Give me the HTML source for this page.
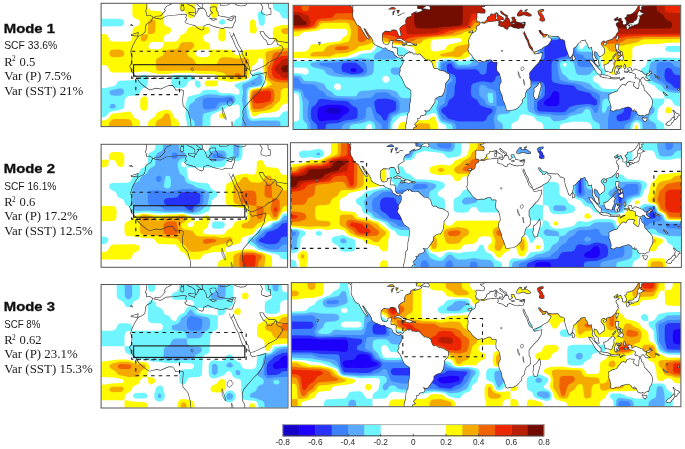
<!DOCTYPE html>
<html><head><meta charset="utf-8"><title>Modes</title>
<style>
html,body{margin:0;padding:0;background:#fff;}
body{width:685px;height:449px;position:relative;overflow:hidden;}
.mb{font-family:"Liberation Sans",Arial,sans-serif;font-weight:bold;}
.ms{font-family:"Liberation Sans",Arial,sans-serif;}
.mt{font-family:"Liberation Serif","Times New Roman",serif;}
</style></head><body>
<svg width="685" height="449" viewBox="0 0 685 449" style="position:absolute;left:0;top:0">
<defs><filter id="soft" x="-5%" y="-5%" width="110%" height="110%"><feGaussianBlur stdDeviation="0.6"/></filter><clipPath id="cR1"><rect x="293.1" y="5.3" width="387.6" height="124.2"/></clipPath>

<clipPath id="cR2"><rect x="290.4" y="142.7" width="391.0" height="124.7"/></clipPath>

<clipPath id="cR3"><rect x="291.3" y="282.6" width="389.6" height="124.1"/></clipPath>

<clipPath id="cL1"><rect x="101.1" y="3.3" width="187.3" height="123.3"/></clipPath>
<mask id="mL1" maskUnits="userSpaceOnUse" x="0" y="0" width="685" height="449"><rect x="0" y="0" width="685" height="449" fill="#fff"/><path d="M-84.7 -21.4L-83.7 -15.7L-82.1 -10.9L-80.8 -5.4L-81.7 1.5L-81.2 7.4L-77.8 13.3L-76.6 16.3L-74.0 20.9L-67.3 25.0L-64.9 30.0L-61.4 35.7L-57.0 42.6L-53.1 47.1L-52.1 46.7L-57.0 38.0L-62.6 27.7L-59.0 28.2L-55.0 34.6L-52.1 39.1L-48.1 43.7L-44.1 50.6L-44.1 54.0L-40.2 57.9L-33.3 60.8L-26.3 63.8L-21.4 62.9L-17.8 66.5L-13.5 68.4L-8.5 70.0L-5.6 73.4L-5.0 76.8L-2.6 78.0L1.4 80.9L6.3 82.5L7.3 79.6L9.9 80.9L10.7 83.0L11.7 80.0L8.3 78.0L4.3 79.6L1.4 78.0L-0.6 75.0L-0.6 67.7L-0.0 65.4L-3.6 63.4L-9.5 63.6L-10.1 57.6L-8.5 50.6L-14.3 51.7L-14.5 55.1L-16.4 57.4L-21.4 58.1L-25.3 56.3L-27.9 50.6L-28.3 42.6L-27.7 36.9L-22.4 32.3L-15.5 33.0L-11.9 33.2L-10.5 30.5L-5.6 30.2L-1.6 31.2L0.4 33.4L1.2 36.9L2.8 40.3L4.3 42.1L6.1 40.7L5.1 34.6L3.7 30.0L4.3 26.6L8.3 23.2L12.2 20.7L15.2 19.3L14.2 15.2L15.2 11.7L18.2 7.2L22.1 6.0L26.1 4.7L25.1 1.5L30.1 -1.7L34.0 -3.1L37.0 -4.2L34.0 -0.8L39.0 -2.2L43.9 -3.8L45.9 -5.4L42.9 -7.7L37.0 -7.7L36.0 -11.8L37.4 -12.2L33.0 -14.5L45.9 -15.2L51.8 -17.9L53.8 -21.4ZM47.3 -9.0L53.8 -13.4L58.8 -12.9L60.3 -8.8L58.8 -6.7L54.8 -7.7L47.3 -9.0ZM-79.4 -10.6L-83.7 -12.0L-87.7 -14.7L-89.7 -16.8L-84.7 -16.8L-79.4 -10.6ZM-3.6 49.9L2.4 46.9L6.3 47.1L12.2 50.6L17.8 53.5L11.3 54.2L9.3 50.6L3.3 49.4L-3.6 49.9ZM17.4 54.4L22.1 54.2L28.1 56.3L29.3 57.4L24.1 59.0L17.4 57.6L17.4 54.4ZM9.7 57.6L13.6 58.1L12.6 58.8L9.7 58.1ZM31.6 57.4L34.8 57.6L34.6 58.6L31.6 58.6ZM11.7 80.0L10.7 83.0L11.3 86.0L11.3 90.5L8.7 96.2L6.3 99.7L5.3 103.1L6.3 105.4L3.9 109.9L4.3 113.4L7.3 116.8L10.3 122.5L13.6 130.5L16.2 135.0L23.1 139.6L25.5 141.9L25.7 152.2L24.9 161.3L23.1 168.2L22.9 175.0L22.1 181.9L19.2 185.3L18.8 191.0L18.2 195.6L17.2 202.4L15.2 209.3L15.6 216.1L18.2 220.7L22.1 223.0L29.1 220.7L29.1 218.4L28.1 215.0L30.5 209.3L34.4 208.1L31.0 204.7L32.0 202.4L36.0 199.0L37.6 196.9L36.0 193.3L41.3 192.1L41.9 188.7L50.8 186.4L52.4 183.0L50.8 180.7L48.9 177.7L53.8 179.3L57.8 179.1L60.7 175.0L64.7 169.3L68.4 163.6L68.6 157.9L72.6 154.5L77.6 152.2L81.5 151.9L83.5 148.7L86.1 144.2L87.4 136.2L87.8 129.3L90.4 125.9L94.4 121.3L95.8 116.8L95.0 112.2L91.4 110.6L87.4 107.6L82.5 106.3L77.6 105.4L73.6 102.4L68.6 102.6L65.7 99.7L64.7 95.5L62.7 90.1L58.8 86.9L51.8 86.0L46.9 81.4L43.9 78.4L40.9 75.5L37.0 76.4L33.0 75.5L29.5 75.7L26.1 72.0L23.1 74.5L22.1 71.3L19.2 73.9L15.2 75.7L13.2 79.1L11.7 80.0ZM152.9 17.9L160.7 19.5L166.6 16.3L174.5 15.6L184.0 14.5L186.4 15.2L185.4 17.5L186.4 19.7L184.4 21.6L186.4 23.6L190.3 24.8L194.9 25.9L198.3 28.9L202.2 30.5L204.2 28.9L204.2 26.1L208.2 24.5L214.1 27.0L219.0 28.2L223.0 28.9L226.0 27.5L228.5 28.2L232.3 28.2L233.7 32.3L232.5 35.7L231.3 36.2L229.1 31.4L229.1 32.3L230.9 36.4L232.9 40.3L235.1 46.0L238.4 51.7L240.6 58.6L242.8 64.0L246.7 68.1L250.3 71.1L250.1 73.2L252.7 75.9L256.6 75.0L261.6 73.9L265.9 72.7L265.5 75.9L264.6 81.4L261.6 87.1L258.6 91.7L254.7 95.1L249.7 100.8L246.7 104.2L243.8 107.6L242.4 111.1L242.8 115.6L242.4 119.1L244.8 123.6L244.8 131.6L245.4 133.9L241.8 138.5L237.8 140.8L234.9 147.6L234.9 153.3L229.5 158.6L228.9 164.7L226.0 168.2L221.0 173.9L215.1 177.3L208.2 177.7L204.2 179.1L201.0 177.7L200.2 173.9L197.3 165.0L194.7 160.2L193.3 151.7L189.4 143.0L188.0 138.0L188.8 131.6L191.5 127.1L190.9 120.2L189.0 113.4L188.4 111.1L183.4 105.4L183.0 99.7L183.6 93.9L184.0 90.8L181.8 89.4L178.5 89.6L176.1 89.8L174.5 87.1L172.5 85.0L168.6 85.3L166.6 86.0L160.7 88.7L156.7 87.8L149.8 89.6L145.8 87.1L141.9 83.9L138.3 80.2L137.9 78.0L134.9 75.0L131.6 71.3L131.4 68.8L130.0 66.1L132.0 63.1L132.4 56.3L131.0 51.7L133.0 46.0L135.9 40.3L138.9 36.2L142.9 34.6L145.2 32.3L145.6 30.0L146.2 25.4L147.8 23.6L151.2 22.0L152.9 17.9ZM262.2 127.1L264.0 133.9L262.8 138.5L260.6 146.5L257.6 156.7L253.7 157.9L251.1 152.2L250.7 148.7L252.5 144.2L251.7 138.5L255.6 135.7L258.6 132.8L262.2 127.1ZM164.6 -21.4L167.6 -15.0L165.0 -13.8L162.2 -13.1L161.3 -13.8L160.9 -11.5L155.3 -10.9L156.1 -9.5L160.7 -7.9L162.2 -5.4L161.7 -0.8L161.1 0.6L154.7 0.3L148.8 -0.1L146.2 1.5L147.2 3.8L147.0 8.3L145.8 11.1L147.2 12.9L147.0 15.2L149.8 14.7L152.4 16.3L153.5 17.5L155.7 15.9L160.5 15.6L163.6 12.2L165.0 10.6L164.0 9.5L166.4 6.0L171.0 3.8L170.8 1.2L173.5 0.6L177.5 1.2L179.5 -0.4L182.0 -1.7L184.8 -0.6L185.4 1.7L188.8 4.4L191.7 5.6L195.5 8.3L195.7 12.4L196.5 12.9L197.5 10.6L198.7 9.7L197.3 7.9L201.2 8.1L198.5 6.0L196.3 4.0L192.3 2.4L189.2 -1.5L189.0 -4.0L191.5 -4.7L192.3 -2.9L194.3 -2.0L196.3 0.3L201.2 2.8L203.2 4.4L203.0 7.6L205.2 9.5L206.6 12.2L207.4 15.6L208.9 16.3L210.1 14.0L212.1 12.9L210.1 11.1L209.7 7.6L212.1 6.5L216.1 6.5L216.7 7.9L216.5 9.7L218.4 11.7L218.6 15.2L221.0 15.9L225.0 16.5L228.9 17.2L233.1 15.6L236.3 16.1L235.5 18.6L235.7 20.9L234.1 24.3L232.9 27.7L232.3 28.2L233.7 32.3L234.9 35.7L236.9 40.3L238.8 44.9L241.8 49.4L242.8 54.0L245.8 59.7L248.9 64.3L250.3 70.7L253.7 70.4L259.6 67.7L265.5 65.0L268.5 62.0L273.5 59.7L277.0 57.4L280.4 52.8L283.0 48.3L280.8 45.8L277.4 44.9L276.0 39.6L274.4 41.4L271.5 44.6L267.5 44.9L266.5 41.4L265.5 40.3L263.6 39.1L260.6 34.6L259.6 31.2L263.6 31.2L265.5 34.6L269.5 38.0L275.4 38.0L278.4 41.0L286.3 42.1L296.2 41.9L298.2 44.9L301.2 48.3L303.1 47.6L308.3 50.6L308.7 56.3L310.1 63.1L312.0 68.8L314.0 74.5L316.0 80.2L318.0 81.4L319.4 79.1L321.9 76.1L322.9 71.1L323.5 64.3L327.5 61.5L331.8 56.3L335.8 53.3L336.8 50.6L339.8 49.9L342.7 49.4L345.7 48.3L346.7 51.7L347.7 54.0L350.6 57.4L351.6 63.1L353.6 63.6L357.6 62.0L358.2 66.5L359.5 72.3L359.5 78.0L359.1 81.4L361.5 84.8L363.1 88.2L364.5 92.8L367.5 95.1L369.4 96.7L370.8 96.2L369.2 91.0L369.2 87.1L366.5 85.5L363.5 82.5L362.5 79.1L360.9 75.7L362.5 69.5L364.1 70.7L367.5 72.3L369.0 75.7L372.0 79.8L375.4 77.5L379.9 73.9L380.7 70.0L379.7 64.3L375.8 59.7L373.8 56.3L375.6 52.8L378.3 50.6L381.7 50.6L383.3 53.3L384.3 50.6L389.2 49.0L394.2 47.6L398.1 43.7L401.1 41.0L402.1 38.0L405.1 34.6L406.0 31.2L404.1 29.3L405.6 27.7L403.1 24.3L401.1 19.7L403.1 17.5L407.0 15.2L404.1 13.6L400.1 14.7L398.1 11.7L397.5 10.6L400.1 9.9L404.1 6.5L406.6 7.2L404.5 10.6L410.0 8.6L412.0 9.5L412.6 13.6L414.9 14.3L414.6 19.7L416.9 20.7L420.5 19.3L420.9 15.6L418.9 11.5L416.9 8.8L421.3 6.3L421.5 2.8L423.9 1.9L427.8 1.9L432.8 -0.6L436.7 -4.2L440.7 -9.9L442.7 -14.5L443.6 -21.4L283.4 -21.4L164.6 -21.4ZM421.3 23.2L422.9 22.0L424.8 23.2L425.8 25.4L424.4 28.4L422.5 28.9L421.5 25.4L421.3 23.2ZM426.4 23.8L428.8 21.8L431.2 22.0L430.4 23.6L427.8 24.8L426.4 23.8ZM423.9 21.3L426.8 18.8L429.8 18.4L433.7 18.1L435.3 14.7L436.7 14.3L438.7 13.3L440.9 10.6L441.7 7.2L442.3 5.4L444.6 5.1L445.4 8.3L444.6 11.7L443.6 14.0L443.2 17.5L441.7 19.5L439.7 20.4L437.7 20.7L435.7 20.7L433.7 23.2L431.8 22.5L432.2 20.7L427.8 20.9L423.9 21.3ZM441.7 4.9L441.7 1.5L444.6 -4.0L447.6 -1.5L452.5 0.8L449.6 1.7L448.0 3.8L443.6 4.2L441.7 4.9ZM445.6 -5.4L448.6 -7.2L447.6 -12.2L450.6 -12.2L447.6 -21.4L445.6 -21.4L445.6 -5.4ZM402.3 47.1L404.1 42.1L406.0 42.6L405.1 47.1L403.7 49.7L402.3 47.1ZM379.5 55.8L383.3 53.8L384.3 54.9L382.3 57.9L379.7 57.4L379.5 55.8ZM402.1 57.4L406.6 57.4L406.0 62.7L405.1 67.0L410.0 70.0L408.6 71.1L405.1 68.8L403.1 66.5L401.7 62.4L402.1 57.4ZM406.0 83.7L409.0 81.4L411.0 80.0L413.0 78.0L414.9 81.4L414.0 85.3L412.6 86.9L410.0 84.8L406.0 83.7ZM411.0 71.1L413.4 72.3L412.4 76.8L411.0 75.7L411.0 71.1ZM406.0 72.7L408.0 73.4L409.0 76.8L407.0 78.0L406.0 75.7L406.0 72.7ZM402.9 68.8L405.1 69.3L404.5 71.8L402.9 68.8ZM396.5 80.5L401.1 75.0L401.5 75.9L397.1 80.9L396.5 80.5ZM380.3 95.5L382.3 95.8L385.3 93.9L388.2 92.3L390.2 89.2L393.2 87.8L395.2 84.8L396.7 84.1L399.1 87.1L400.1 88.2L398.1 89.8L397.3 92.3L398.1 97.4L397.1 99.7L395.2 103.1L394.2 107.6L391.2 108.1L388.2 107.0L385.3 106.5L382.9 106.0L382.3 103.1L380.7 99.7L380.3 95.5ZM353.2 86.9L357.6 87.8L359.9 91.2L363.5 95.1L366.5 98.5L369.4 101.5L371.4 104.2L374.4 106.5L374.0 112.9L371.4 112.4L367.1 108.8L364.5 105.4L362.5 101.9L360.5 98.5L358.6 94.6L355.6 91.2L353.2 86.9ZM372.8 115.2L374.4 113.4L378.9 114.0L383.3 114.5L387.2 115.4L391.2 117.2L391.0 119.5L386.3 118.6L382.3 118.2L378.3 117.5L375.4 116.6L372.8 115.2ZM392.2 118.4L394.2 118.6L400.1 118.4L404.1 118.8L408.0 118.4L408.0 119.5L402.1 120.0L396.1 120.2L392.2 119.7L392.2 118.4ZM409.0 123.2L415.9 118.8L416.5 119.1L410.6 122.5L409.0 123.2ZM401.1 112.2L403.1 112.2L402.7 106.0L404.1 105.6L406.0 110.6L407.6 109.9L405.1 103.8L408.0 101.7L404.1 101.9L402.5 98.3L404.1 96.9L411.0 98.5L412.0 96.2L411.0 97.4L404.1 97.8L402.1 98.5L401.1 101.9L399.7 106.0L401.1 112.2ZM416.9 96.2L417.9 94.6L418.9 96.2L417.9 98.5L419.5 99.2L417.9 101.5L416.9 99.7L416.9 96.2ZM417.9 107.0L423.5 107.2L422.9 108.3L418.3 107.9L417.9 107.0ZM423.9 101.9L426.8 100.8L429.8 101.5L430.4 106.0L431.8 107.2L436.7 103.1L441.7 104.9L446.6 107.0L450.6 108.8L453.5 112.2L456.5 113.4L457.1 115.2L455.5 117.5L457.5 119.1L460.5 121.6L463.0 122.9L460.5 123.4L456.5 122.7L453.5 118.4L449.6 117.2L448.6 120.2L446.6 120.9L443.6 120.4L439.7 117.9L437.7 118.8L437.1 117.0L438.7 115.2L437.7 111.8L433.7 109.9L429.8 108.3L427.4 108.8L425.8 106.0L427.8 104.9L425.8 104.5L423.9 102.9L423.9 101.9ZM458.5 112.2L461.5 111.3L464.4 109.2L466.0 109.5L464.4 111.1L462.4 113.8L458.5 112.9L458.5 112.2ZM463.0 105.8L466.4 108.6L467.6 110.4L467.0 110.6L463.0 105.8ZM474.3 115.2L476.3 116.8L475.3 117.7L474.3 115.2ZM477.7 116.8L480.8 119.1L480.3 119.5L477.7 116.8ZM489.2 145.8L495.1 150.6L494.1 150.8L489.2 146.5L489.2 145.8ZM515.5 139.6L517.8 139.8L517.3 141.2L515.5 140.5L515.5 139.6ZM495.1 133.9L495.7 135.0L496.7 137.3L495.5 136.2L495.1 133.9ZM389.2 149.9L390.6 149.4L395.6 146.7L400.1 145.3L404.1 144.2L406.4 139.6L409.0 137.3L412.0 133.0L415.9 131.2L419.9 133.7L421.3 130.5L422.9 128.0L426.8 126.1L429.8 127.1L433.7 127.1L435.1 127.5L433.7 130.0L432.8 133.5L435.7 135.7L440.3 139.4L443.2 139.4L444.8 133.9L444.6 129.3L446.0 124.1L447.6 126.6L448.6 131.6L452.2 133.9L453.5 141.9L456.5 144.2L459.9 148.1L463.0 151.3L467.2 157.4L468.4 163.6L467.4 170.4L465.4 174.6L463.4 177.3L461.5 185.1L457.5 186.0L454.1 188.7L450.6 186.9L448.6 188.2L444.6 187.3L441.7 185.3L440.9 181.9L437.9 177.7L436.7 180.7L435.3 180.3L437.1 175.0L433.6 179.1L432.2 178.4L430.2 174.6L424.8 171.6L417.9 173.2L411.0 175.0L409.0 177.1L402.1 177.1L397.1 179.8L392.2 178.0L393.2 176.1L393.6 172.7L392.2 168.2L391.2 163.6L389.0 159.0L389.8 156.7L389.2 149.9ZM451.0 192.6L454.5 193.5L458.1 193.0L457.9 196.0L455.5 199.0L452.5 196.9L451.0 192.6ZM506.4 178.2L509.9 181.4L512.5 184.1L516.9 185.7L517.8 187.6L514.9 189.2L514.3 191.7L511.5 194.6L510.1 193.7L510.3 190.5L508.5 189.2L510.1 186.9L509.9 183.7L506.4 178.2ZM506.4 192.1L509.5 193.3L508.9 195.6L507.0 197.8L506.4 199.7L503.4 201.3L502.4 204.5L499.6 206.1L494.1 204.7L494.7 203.1L497.7 200.1L502.0 197.8L504.2 194.9L506.4 192.1ZM322.5 77.3L324.9 80.2L326.5 83.2L325.3 85.5L323.1 86.0L322.3 81.4L322.5 77.3ZM-143.9 54.2L-142.1 54.7L-143.3 56.5L-143.9 54.2ZM181.4 6.0L183.4 5.8L183.8 9.5L182.4 10.6L181.2 9.9L181.4 6.0ZM181.8 1.7L183.4 1.9L183.2 5.1L181.8 4.4L181.8 1.7ZM189.2 12.7L195.5 12.4L194.5 15.9L189.4 13.8L189.2 12.7ZM211.1 18.6L216.7 19.1L213.1 20.0L211.1 18.6ZM228.5 19.5L233.1 18.1L231.7 20.4L228.5 19.5ZM131.0 35.0L137.9 33.0L137.3 35.7L131.0 35.0ZM131.4 24.8L131.8 25.2L130.6 25.0ZM220.0 5.4L222.0 5.8L227.0 5.6L230.9 3.8L233.9 3.8L236.9 5.4L240.8 6.3L244.8 6.0L246.9 4.7L246.7 2.6L243.8 0.6L240.8 -1.5L237.8 -3.1L234.9 -3.5L230.9 -2.0L228.9 -3.8L230.9 -5.4L227.0 -6.7L225.0 -5.4L223.4 -3.5L221.2 -0.8L219.8 1.9L220.0 5.4ZM233.9 -3.8L237.0 -3.8L240.4 -7.2L238.4 -7.9L234.3 -6.1L233.9 -3.8ZM261.6 -6.7L266.5 -7.7L269.9 -7.2L269.5 -3.8L266.1 -2.0L264.2 -2.0L265.9 1.0L268.9 4.2L269.3 7.9L271.1 8.3L271.3 10.8L271.3 14.5L266.5 15.6L263.6 14.5L261.6 13.8L261.2 11.1L262.6 7.6L260.6 4.2L258.6 1.5L258.4 -2.0L257.0 -2.2L258.6 -4.5L261.6 -6.7ZM-17.4 -7.0L-13.5 -6.7L-7.5 -6.5L-2.6 -6.5L-3.6 -9.5L-6.6 -11.5L-11.5 -10.9L-17.4 -7.0ZM-9.1 3.8L-8.5 0.3L-9.1 -2.6L-3.6 -5.4L-4.4 -3.1L-6.0 -0.8L-6.6 3.3L-9.1 3.8ZM-2.8 -5.4L-1.6 -4.7L-0.6 -3.5L-0.4 -0.8L1.6 1.5L2.9 -2.0L4.3 -3.8L5.1 -5.1L2.4 -5.6L-2.8 -5.4ZM-0.4 4.4L1.4 5.1L6.3 3.3L8.5 1.7L4.3 2.2L1.4 3.5L-0.4 4.4ZM6.7 0.8L10.3 0.6L13.6 0.1L13.2 -1.3L10.3 -0.6L7.3 -0.1L6.7 0.8Z" fill="#000" fill-rule="evenodd"/></mask>
<clipPath id="cL2"><rect x="101.1" y="144.3" width="186.5" height="123.0"/></clipPath>
<mask id="mL2" maskUnits="userSpaceOnUse" x="0" y="0" width="685" height="449"><rect x="0" y="0" width="685" height="449" fill="#fff"/><path d="M-83.9 119.7L-82.9 125.4L-81.4 130.2L-80.0 135.6L-81.0 142.5L-80.4 148.4L-77.0 154.3L-75.8 157.3L-73.3 161.8L-66.6 165.9L-64.2 171.0L-60.7 176.6L-56.3 183.5L-52.4 188.0L-51.4 187.6L-56.3 178.9L-61.9 168.7L-58.3 169.1L-54.4 175.5L-51.4 180.1L-47.5 184.6L-43.5 191.5L-43.5 194.9L-39.6 198.7L-32.7 201.7L-25.8 204.7L-20.9 203.8L-17.3 207.4L-13.0 209.2L-8.1 210.8L-5.1 214.2L-4.5 217.6L-2.1 218.8L1.8 221.7L6.7 223.3L7.7 220.4L10.3 221.7L11.1 223.8L12.0 220.8L8.7 218.8L4.7 220.4L1.8 218.8L-0.2 215.8L-0.2 208.5L0.4 206.3L-3.1 204.2L-9.0 204.4L-9.6 198.5L-8.1 191.5L-13.8 192.6L-14.0 196.0L-15.9 198.3L-20.9 199.0L-24.8 197.1L-27.4 191.5L-27.8 183.5L-27.2 177.8L-21.9 173.2L-15.0 173.9L-11.4 174.1L-10.0 171.4L-5.1 171.2L-1.2 172.1L0.8 174.4L1.6 177.8L3.2 181.2L4.7 183.0L6.5 181.7L5.5 175.5L4.2 171.0L4.7 167.5L8.7 164.1L12.6 161.6L15.6 160.2L14.6 156.1L15.6 152.7L18.5 148.2L22.5 147.0L26.4 145.7L25.4 142.5L30.4 139.3L34.3 137.9L37.3 136.8L34.3 140.2L39.2 138.8L44.2 137.2L46.1 135.6L43.2 133.4L37.3 133.4L36.3 129.3L37.7 128.8L33.3 126.5L46.1 125.9L52.0 123.1L54.0 119.7ZM47.5 132.0L54.0 127.7L58.9 128.1L60.5 132.2L58.9 134.3L55.0 133.4L47.5 132.0ZM-78.6 130.4L-82.9 129.0L-86.9 126.3L-88.8 124.3L-83.9 124.3L-78.6 130.4ZM-3.1 190.8L2.8 187.8L6.7 188.0L12.6 191.5L18.1 194.4L11.6 195.1L9.7 191.5L3.8 190.3L-3.1 190.8ZM17.8 195.3L22.5 195.1L28.4 197.1L29.6 198.3L24.5 199.9L17.8 198.5L17.8 195.3ZM10.1 198.5L14.0 199.0L13.0 199.7L10.1 199.0ZM31.9 198.3L35.1 198.5L34.9 199.4L31.9 199.4ZM12.0 220.8L11.1 223.8L11.6 226.8L11.6 231.3L9.1 237.0L6.7 240.4L5.7 243.8L6.7 246.1L4.4 250.7L4.7 254.1L7.7 257.5L10.7 263.2L14.0 271.2L16.6 275.7L23.5 280.3L25.8 282.6L26.0 292.8L25.2 301.9L23.5 308.8L23.3 315.6L22.5 322.4L19.5 325.8L19.1 331.5L18.5 336.1L17.6 342.9L15.6 349.8L16.0 356.6L18.5 361.1L22.5 363.4L29.4 361.1L29.4 358.9L28.4 355.5L30.8 349.8L34.7 348.6L31.3 345.2L32.3 342.9L36.3 339.5L37.8 337.5L36.3 333.8L41.6 332.7L42.2 329.3L51.1 327.0L52.6 323.6L51.1 321.3L49.1 318.3L54.0 319.9L57.9 319.7L60.9 315.6L64.8 309.9L68.6 304.2L68.8 298.5L72.7 295.1L77.7 292.8L81.6 292.6L83.6 289.4L86.1 284.8L87.5 276.9L87.9 270.0L90.5 266.6L94.4 262.1L95.8 257.5L95.0 253.0L91.4 251.4L87.5 248.4L82.6 247.0L77.7 246.1L73.7 243.2L68.8 243.4L65.8 240.4L64.8 236.3L62.9 230.9L58.9 227.7L52.0 226.8L47.1 222.2L44.2 219.2L41.2 216.3L37.3 217.2L33.3 216.3L29.8 216.5L26.4 212.9L23.5 215.4L22.5 212.2L19.5 214.7L15.6 216.5L13.6 219.9L12.0 220.8ZM152.7 158.9L160.4 160.5L166.3 157.3L174.2 156.6L183.7 155.5L186.0 156.1L185.0 158.4L186.0 160.7L184.1 162.5L186.0 164.6L190.0 165.7L194.5 166.9L197.8 169.8L201.8 171.4L203.8 169.8L203.8 167.1L207.7 165.5L213.6 168.0L218.5 169.1L222.5 169.8L225.4 168.4L228.0 169.1L231.7 169.1L233.1 173.2L231.9 176.6L230.8 177.1L228.6 172.3L228.6 173.2L230.4 177.3L232.3 181.2L234.5 186.9L237.8 192.6L240.0 199.4L242.2 204.9L246.1 209.0L249.7 212.0L249.5 214.0L252.0 216.7L256.0 215.8L260.9 214.7L265.2 213.5L264.8 216.7L263.9 222.2L260.9 227.9L257.9 232.5L254.0 235.9L249.1 241.6L246.1 245.0L243.2 248.4L241.8 251.8L242.2 256.4L241.8 259.8L244.2 264.3L244.2 272.3L244.7 274.6L241.2 279.1L237.3 281.4L234.3 288.3L234.3 294.0L229.0 299.2L228.4 305.3L225.4 308.8L220.5 314.5L214.6 317.9L207.7 318.3L203.8 319.7L200.6 318.3L199.8 314.5L196.9 305.6L194.3 300.8L192.9 292.4L189.0 283.7L187.6 278.7L188.4 272.3L191.1 267.8L190.6 260.9L188.6 254.1L188.0 251.8L183.1 246.1L182.7 240.4L183.3 234.7L183.7 231.5L181.5 230.2L178.1 230.4L175.8 230.6L174.2 227.9L172.2 225.8L168.3 226.1L166.3 226.8L160.4 229.5L156.5 228.6L149.6 230.4L145.6 227.9L141.7 224.7L138.1 221.1L137.7 218.8L134.8 215.8L131.4 212.2L131.2 209.7L129.9 206.9L131.8 204.0L132.2 197.1L130.9 192.6L132.8 186.9L135.8 181.2L138.7 177.1L142.7 175.5L145.0 173.2L145.4 171.0L146.0 166.4L147.6 164.6L151.0 163.0L152.7 158.9ZM261.5 267.8L263.3 274.6L262.1 279.1L259.9 287.1L257.0 297.4L253.0 298.5L250.5 292.8L250.1 289.4L251.8 284.8L251.0 279.1L255.0 276.4L257.9 273.5L261.5 267.8ZM164.4 119.7L167.3 126.1L164.7 127.2L162.0 127.9L161.0 127.2L160.6 129.5L155.1 130.2L155.9 131.5L160.4 133.1L162.0 135.6L161.4 140.2L160.8 141.6L154.5 141.3L148.6 140.9L146.0 142.5L147.0 144.8L146.8 149.3L145.6 152.0L147.0 153.9L146.8 156.1L149.6 155.7L152.1 157.3L153.3 158.4L155.5 156.8L160.2 156.6L163.4 153.2L164.7 151.6L163.8 150.5L166.1 147.0L170.7 144.8L170.5 142.3L173.2 141.6L177.2 142.3L179.1 140.7L181.7 139.3L184.4 140.4L185.0 142.7L188.4 145.4L191.3 146.6L195.1 149.3L195.3 153.4L196.1 153.9L197.1 151.6L198.2 150.7L196.9 148.9L200.8 149.1L198.0 147.0L195.9 145.0L191.9 143.4L188.8 139.5L188.6 137.0L191.1 136.3L191.9 138.2L193.9 139.1L195.9 141.3L200.8 143.8L202.8 145.4L202.6 148.6L204.7 150.5L206.1 153.2L206.9 156.6L208.5 157.3L209.7 155.0L211.6 153.9L209.7 152.0L209.3 148.6L211.6 147.5L215.6 147.5L216.2 148.9L216.0 150.7L217.9 152.7L218.1 156.1L220.5 156.8L224.4 157.5L228.4 158.2L232.5 156.6L235.7 157.1L234.9 159.6L235.1 161.8L233.5 165.3L232.3 168.7L231.7 169.1L233.1 173.2L234.3 176.6L236.3 181.2L238.2 185.8L241.2 190.3L242.2 194.9L245.1 200.6L248.3 205.1L249.7 211.5L253.0 211.3L258.9 208.5L264.8 205.8L267.8 202.8L272.7 200.6L276.3 198.3L279.6 193.7L282.2 189.2L280.0 186.7L276.7 185.8L275.3 180.5L273.7 182.3L270.8 185.5L266.8 185.8L265.8 182.3L264.8 181.2L262.9 180.1L259.9 175.5L258.9 172.1L262.9 172.1L264.8 175.5L268.8 178.9L274.7 178.9L277.6 181.9L285.5 183.0L295.4 182.8L297.4 185.8L300.3 189.2L302.3 188.5L307.4 191.5L307.8 197.1L309.2 204.0L311.1 209.7L313.1 215.4L315.1 221.1L317.1 222.2L318.4 219.9L321.0 217.0L322.0 212.0L322.6 205.1L326.5 202.4L330.9 197.1L334.8 194.2L335.8 191.5L338.7 190.8L341.7 190.3L344.6 189.2L345.6 192.6L346.6 194.9L349.6 198.3L350.6 204.0L352.5 204.4L356.5 202.8L357.1 207.4L358.4 213.1L358.4 218.8L358.0 222.2L360.4 225.6L362.0 229.0L363.4 233.6L366.3 235.9L368.3 237.5L369.7 237.0L368.1 231.8L368.1 227.9L365.3 226.3L362.4 223.3L361.4 219.9L359.8 216.5L361.4 210.4L363.0 211.5L366.3 213.1L367.9 216.5L370.9 220.6L374.2 218.3L378.7 214.7L379.5 210.8L378.5 205.1L374.6 200.6L372.6 197.1L374.4 193.7L377.2 191.5L380.5 191.5L382.1 194.2L383.1 191.5L388.0 189.9L392.9 188.5L396.9 184.6L399.8 181.9L400.8 178.9L403.8 175.5L404.7 172.1L402.8 170.3L404.3 168.7L401.8 165.3L399.8 160.7L401.8 158.4L405.7 156.1L402.8 154.6L398.8 155.7L396.9 152.7L396.3 151.6L398.8 150.9L402.8 147.5L405.3 148.2L403.2 151.6L408.7 149.5L410.7 150.5L411.2 154.6L413.6 155.2L413.2 160.7L415.6 161.6L419.1 160.2L419.5 156.6L417.5 152.5L415.6 149.8L419.9 147.3L420.1 143.8L422.5 142.9L426.4 142.9L431.3 140.4L435.3 136.8L439.2 131.1L441.2 126.5L442.2 119.7L282.6 119.7L164.4 119.7ZM419.9 164.1L421.5 163.0L423.5 164.1L424.4 166.4L423.1 169.4L421.1 169.8L420.1 166.4L419.9 164.1ZM425.0 164.8L427.4 162.8L429.8 163.0L429.0 164.6L426.4 165.7L425.0 164.8ZM422.5 162.3L425.4 159.8L428.4 159.3L432.3 159.1L433.9 155.7L435.3 155.2L437.3 154.3L439.4 151.6L440.2 148.2L440.8 146.4L443.2 146.1L444.0 149.3L443.2 152.7L442.2 155.0L441.8 158.4L440.2 160.5L438.2 161.4L436.3 161.6L434.3 161.6L432.3 164.1L430.4 163.4L430.8 161.6L426.4 161.8L422.5 162.3ZM440.2 145.9L440.2 142.5L443.2 137.0L446.1 139.5L451.0 141.8L448.1 142.7L446.5 144.8L442.2 145.2L440.2 145.9ZM444.1 135.6L447.1 133.8L446.1 128.8L449.1 128.8L446.1 119.7L444.1 119.7L444.1 135.6ZM401.0 188.0L402.8 183.0L404.7 183.5L403.8 188.0L402.4 190.5L401.0 188.0ZM378.3 196.7L382.1 194.6L383.1 195.8L381.1 198.7L378.5 198.3L378.3 196.7ZM400.8 198.3L405.3 198.3L404.7 203.5L403.8 207.9L408.7 210.8L407.3 212.0L403.8 209.7L401.8 207.4L400.4 203.3L400.8 198.3ZM404.7 224.5L407.7 222.2L409.7 220.8L411.6 218.8L413.6 222.2L412.6 226.1L411.2 227.7L408.7 225.6L404.7 224.5ZM409.7 212.0L412.0 213.1L411.0 217.6L409.7 216.5L409.7 212.0ZM404.7 213.5L406.7 214.2L407.7 217.6L405.7 218.8L404.7 216.5L404.7 213.5ZM401.6 209.7L403.8 210.1L403.2 212.6L401.6 209.7ZM395.3 221.3L399.8 215.8L400.2 216.7L395.9 221.7L395.3 221.3ZM379.1 236.3L381.1 236.6L384.1 234.7L387.0 233.1L389.0 229.9L391.9 228.6L393.9 225.6L395.5 224.9L397.8 227.9L398.8 229.0L396.9 230.6L396.1 233.1L396.9 238.1L395.9 240.4L393.9 243.8L392.9 248.4L390.0 248.9L387.0 247.7L384.1 247.3L381.7 246.8L381.1 243.8L379.5 240.4L379.1 236.3ZM352.1 227.7L356.5 228.6L358.8 232.0L362.4 235.9L365.3 239.3L368.3 242.2L370.3 245.0L373.2 247.3L372.8 253.6L370.3 253.2L365.9 249.5L363.4 246.1L361.4 242.7L359.4 239.3L357.5 235.4L354.5 232.0L352.1 227.7ZM371.6 255.9L373.2 254.1L377.7 254.8L382.1 255.2L386.0 256.1L390.0 258.0L389.8 260.2L385.0 259.3L381.1 258.9L377.2 258.2L374.2 257.3L371.6 255.9ZM390.9 259.1L392.9 259.3L398.8 259.1L402.8 259.6L406.7 259.1L406.7 260.2L400.8 260.7L394.9 260.9L390.9 260.5L390.9 259.1ZM407.7 263.9L414.6 259.6L415.2 259.8L409.3 263.2L407.7 263.9ZM399.8 253.0L401.8 253.0L401.4 246.8L402.8 246.3L404.7 251.4L406.3 250.7L403.8 244.5L406.7 242.5L402.8 242.7L401.2 239.1L402.8 237.7L409.7 239.3L410.7 237.0L409.7 238.1L402.8 238.6L400.8 239.3L399.8 242.7L398.4 246.8L399.8 253.0ZM415.6 237.0L416.6 235.4L417.5 237.0L416.6 239.3L418.1 240.0L416.6 242.2L415.6 240.4L415.6 237.0ZM416.6 247.7L422.1 247.9L421.5 249.1L417.0 248.6L416.6 247.7ZM422.5 242.7L425.4 241.6L428.4 242.2L429.0 246.8L430.4 247.9L435.3 243.8L440.2 245.7L445.1 247.7L449.1 249.5L452.0 253.0L455.0 254.1L455.6 255.9L454.0 258.2L456.0 259.8L458.9 262.3L461.5 263.7L458.9 264.1L455.0 263.4L452.0 259.1L448.1 258.0L447.1 260.9L445.1 261.6L442.2 261.2L438.2 258.6L436.3 259.6L435.7 257.7L437.3 255.9L436.3 252.5L432.3 250.7L428.4 249.1L426.0 249.5L424.4 246.8L426.4 245.7L424.4 245.2L422.5 243.6L422.5 242.7ZM457.0 253.0L459.9 252.0L462.9 250.0L464.4 250.2L462.9 251.8L460.9 254.5L457.0 253.6L457.0 253.0ZM461.5 246.6L464.8 249.3L466.0 251.1L465.4 251.4L461.5 246.6ZM472.7 255.9L474.7 257.5L473.7 258.4L472.7 255.9ZM476.1 257.5L479.2 259.8L478.6 260.2L476.1 257.5ZM487.5 286.4L493.4 291.2L492.4 291.4L487.5 287.1L487.5 286.4ZM513.7 280.3L516.1 280.5L515.5 281.9L513.7 281.2L513.7 280.3ZM493.4 274.6L494.0 275.7L495.0 278.0L493.8 276.9L493.4 274.6ZM388.0 290.5L389.4 290.1L394.3 287.3L398.8 286.0L402.8 284.8L405.1 280.3L407.7 278.0L410.7 273.7L414.6 271.9L418.5 274.4L419.9 271.2L421.5 268.7L425.4 266.8L428.4 267.8L432.3 267.8L433.7 268.2L432.3 270.7L431.3 274.1L434.3 276.4L438.8 280.1L441.8 280.1L443.4 274.6L443.2 270.0L444.5 264.8L446.1 267.3L447.1 272.3L450.7 274.6L452.0 282.6L455.0 284.8L458.3 288.7L461.5 291.9L465.6 298.1L466.8 304.2L465.8 311.0L463.9 315.1L461.9 317.9L459.9 325.6L456.0 326.5L452.6 329.3L449.1 327.4L447.1 328.8L443.2 327.9L440.2 325.8L439.4 322.4L436.5 318.3L435.3 321.3L433.9 320.8L435.7 315.6L432.1 319.7L430.8 319.0L428.8 315.1L423.5 312.2L416.6 313.8L409.7 315.6L407.7 317.6L400.8 317.6L395.9 320.4L390.9 318.6L391.9 316.7L392.3 313.3L390.9 308.8L390.0 304.2L387.8 299.6L388.6 297.4L388.0 290.5ZM449.5 333.1L453.0 334.0L456.6 333.6L456.4 336.5L454.0 339.5L451.0 337.5L449.5 333.1ZM504.6 318.8L508.2 322.0L510.7 324.7L515.1 326.3L516.1 328.1L513.1 329.7L512.5 332.2L509.8 335.2L508.4 334.3L508.6 331.1L506.8 329.7L508.4 327.4L508.2 324.2L504.6 318.8ZM504.6 332.7L507.8 333.8L507.2 336.1L505.2 338.4L504.6 340.2L501.7 341.8L500.7 345.0L497.9 346.6L492.4 345.2L493.0 343.6L496.0 340.6L500.3 338.4L502.5 335.4L504.6 332.7ZM321.6 218.1L324.0 221.1L325.5 224.0L324.3 226.3L322.2 226.8L321.4 222.2L321.6 218.1ZM-142.8 195.1L-141.1 195.6L-142.2 197.4L-142.8 195.1ZM181.1 147.0L183.1 146.8L183.5 150.5L182.1 151.6L180.9 150.9L181.1 147.0ZM181.5 142.7L183.1 142.9L182.9 146.1L181.5 145.4L181.5 142.7ZM188.8 153.6L195.1 153.4L194.1 156.8L189.0 154.8L188.8 153.6ZM210.7 159.6L216.2 160.0L212.6 160.9L210.7 159.6ZM228.0 160.5L232.5 159.1L231.1 161.4L228.0 160.5ZM130.9 176.0L137.7 173.9L137.2 176.6L130.9 176.0ZM131.2 165.7L131.6 166.2L130.5 165.9ZM219.5 146.4L221.5 146.8L226.4 146.6L230.4 144.8L233.3 144.8L236.3 146.4L240.2 147.3L244.2 147.0L246.3 145.7L246.1 143.6L243.2 141.6L240.2 139.5L237.3 137.9L234.3 137.5L230.4 139.1L228.4 137.2L230.4 135.6L226.4 134.3L224.4 135.6L222.9 137.5L220.7 140.2L219.3 142.9L219.5 146.4ZM233.3 137.2L236.5 137.2L239.8 133.8L237.8 133.1L233.7 135.0L233.3 137.2ZM260.9 134.3L265.8 133.4L269.2 133.8L268.8 137.2L265.4 139.1L263.5 139.1L265.2 142.0L268.2 145.2L268.6 148.9L270.4 149.3L270.6 151.8L270.6 155.5L265.8 156.6L262.9 155.5L260.9 154.8L260.5 152.0L261.9 148.6L259.9 145.2L257.9 142.5L257.7 139.1L256.4 138.8L257.9 136.6L260.9 134.3ZM-16.9 134.1L-13.0 134.3L-7.1 134.5L-2.1 134.5L-3.1 131.5L-6.1 129.5L-11.0 130.2L-16.9 134.1ZM-8.7 144.8L-8.1 141.3L-8.7 138.4L-3.1 135.6L-3.9 137.9L-5.5 140.2L-6.1 144.3L-8.7 144.8ZM-2.3 135.6L-1.2 136.3L-0.2 137.5L0.0 140.2L2.0 142.5L3.4 139.1L4.7 137.2L5.5 135.9L2.8 135.4L-2.3 135.6ZM0.0 145.4L1.8 146.1L6.7 144.3L8.9 142.7L4.7 143.2L1.8 144.5L0.0 145.4ZM7.1 141.8L10.7 141.6L14.0 141.1L13.6 139.7L10.7 140.4L7.7 140.9L7.1 141.8Z" fill="#000" fill-rule="evenodd"/></mask>
<clipPath id="cL3"><rect x="101.1" y="284.5" width="186.9" height="123.5"/></clipPath>
<mask id="mL3" maskUnits="userSpaceOnUse" x="0" y="0" width="685" height="449"><rect x="0" y="0" width="685" height="449" fill="#fff"/><path d="M-84.3 259.8L-83.3 265.5L-81.8 270.3L-80.4 275.8L-81.4 282.7L-80.8 288.6L-77.4 294.6L-76.2 297.5L-73.7 302.1L-66.9 306.2L-64.6 311.3L-61.0 317.0L-56.7 323.8L-52.7 328.4L-51.7 328.0L-56.7 319.3L-62.2 309.0L-58.6 309.4L-54.7 315.8L-51.7 320.4L-47.8 325.0L-43.8 331.8L-43.8 335.3L-39.9 339.2L-33.0 342.1L-26.1 345.1L-21.1 344.2L-17.6 347.9L-13.2 349.7L-8.3 351.3L-5.3 354.7L-4.7 358.1L-2.4 359.3L1.6 362.3L6.5 363.9L7.5 360.9L10.1 362.3L10.9 364.3L11.8 361.3L8.5 359.3L4.5 360.9L1.6 359.3L-0.4 356.3L-0.4 349.0L0.2 346.7L-3.4 344.6L-9.3 344.9L-9.9 338.9L-8.3 331.8L-14.0 333.0L-14.2 336.4L-16.2 338.7L-21.1 339.4L-25.1 337.6L-27.6 331.8L-28.0 323.8L-27.4 318.1L-22.1 313.5L-15.2 314.2L-11.7 314.5L-10.3 311.7L-5.3 311.5L-1.4 312.4L0.6 314.7L1.4 318.1L3.0 321.6L4.5 323.4L6.3 322.0L5.3 315.8L3.9 311.3L4.5 307.8L8.5 304.4L12.4 301.9L15.4 300.5L14.4 296.4L15.4 293.0L18.4 288.4L22.3 287.2L26.3 285.9L25.3 282.7L30.2 279.5L34.2 278.1L37.1 277.0L34.2 280.4L39.1 279.0L44.0 277.4L46.0 275.8L43.0 273.5L37.1 273.5L36.1 269.4L37.5 268.9L33.2 266.7L46.0 266.0L51.9 263.2L53.9 259.8ZM47.4 272.1L53.9 267.8L58.8 268.3L60.4 272.4L58.8 274.4L54.9 273.5L47.4 272.1ZM-79.0 270.5L-83.3 269.2L-87.3 266.4L-89.3 264.4L-84.3 264.4L-79.0 270.5ZM-3.4 331.2L2.6 328.2L6.5 328.4L12.4 331.8L18.0 334.8L11.5 335.5L9.5 331.8L3.6 330.7L-3.4 331.2ZM17.6 335.7L22.3 335.5L28.2 337.6L29.4 338.7L24.3 340.3L17.6 338.9L17.6 335.7ZM9.9 338.9L13.8 339.4L12.8 340.1L9.9 339.4ZM31.8 338.7L34.9 338.9L34.8 339.8L31.8 339.8ZM11.8 361.3L10.9 364.3L11.5 367.3L11.5 371.9L8.9 377.6L6.5 381.0L5.5 384.4L6.5 386.7L4.1 391.3L4.5 394.7L7.5 398.2L10.5 403.9L13.8 411.9L16.4 416.5L23.3 421.0L25.7 423.3L25.9 433.6L25.1 442.8L23.3 449.6L23.1 456.5L22.3 463.3L19.3 466.8L19.0 472.5L18.4 477.1L17.4 483.9L15.4 490.8L15.8 497.7L18.4 502.2L22.3 504.5L29.2 502.2L29.2 499.9L28.2 496.5L30.6 490.8L34.6 489.6L31.2 486.2L32.2 483.9L36.1 480.5L37.7 478.4L36.1 474.8L41.5 473.6L42.1 470.2L50.9 467.9L52.5 464.5L50.9 462.2L49.0 459.2L53.9 460.8L57.9 460.6L60.8 456.5L64.8 450.8L68.5 445.1L68.7 439.3L72.7 435.9L77.6 433.6L81.6 433.4L83.5 430.2L86.1 425.6L87.5 417.6L87.9 410.7L90.4 407.3L94.4 402.7L95.8 398.2L95.0 393.6L91.4 392.0L87.5 389.0L82.5 387.6L77.6 386.7L73.7 383.8L68.7 384.0L65.8 381.0L64.8 376.9L62.8 371.4L58.8 368.2L51.9 367.3L47.0 362.7L44.0 359.7L41.1 356.8L37.1 357.7L33.2 356.8L29.6 357.0L26.3 353.3L23.3 355.9L22.3 352.7L19.3 355.2L15.4 357.0L13.4 360.4L11.8 361.3ZM152.8 299.1L160.5 300.7L166.5 297.5L174.4 296.9L183.8 295.7L186.2 296.4L185.2 298.7L186.2 301.0L184.2 302.8L186.2 304.9L190.2 306.0L194.7 307.1L198.1 310.1L202.0 311.7L204.0 310.1L204.0 307.4L207.9 305.8L213.9 308.3L218.8 309.4L222.7 310.1L225.7 308.7L228.3 309.4L232.0 309.4L233.4 313.5L232.2 317.0L231.0 317.4L228.9 312.6L228.9 313.5L230.6 317.7L232.6 321.6L234.8 327.3L238.1 333.0L240.3 339.8L242.5 345.3L246.4 349.5L250.0 352.4L249.8 354.5L252.4 357.2L256.3 356.3L261.2 355.2L265.6 354.0L265.2 357.2L264.2 362.7L261.2 368.4L258.3 373.0L254.3 376.4L249.4 382.2L246.4 385.6L243.5 389.0L242.1 392.4L242.5 397.0L242.1 400.5L244.5 405.0L244.5 413.0L245.1 415.3L241.5 419.9L237.5 422.2L234.6 429.0L234.6 434.8L229.3 440.0L228.7 446.2L225.7 449.6L220.8 455.3L214.8 458.8L207.9 459.2L204.0 460.6L200.8 459.2L200.0 455.3L197.1 446.4L194.5 441.6L193.1 433.2L189.2 424.5L187.8 419.4L188.6 413.0L191.3 408.5L190.7 401.6L188.8 394.7L188.2 392.4L183.2 386.7L182.9 381.0L183.4 375.3L183.8 372.1L181.7 370.7L178.3 370.9L175.9 371.2L174.4 368.4L172.4 366.4L168.4 366.6L166.5 367.3L160.5 370.0L156.6 369.1L149.7 370.9L145.7 368.4L141.8 365.2L138.2 361.6L137.8 359.3L134.9 356.3L131.5 352.7L131.3 350.1L129.9 347.4L131.9 344.4L132.3 337.6L130.9 333.0L132.9 327.3L135.9 321.6L138.8 317.4L142.8 315.8L145.1 313.5L145.5 311.3L146.1 306.7L147.7 304.9L151.1 303.3L152.8 299.1ZM261.8 408.5L263.6 415.3L262.4 419.9L260.3 427.9L257.3 438.2L253.3 439.3L250.8 433.6L250.4 430.2L252.2 425.6L251.4 419.9L255.3 417.1L258.3 414.2L261.8 408.5ZM164.5 259.8L167.4 266.2L164.9 267.3L162.1 268.0L161.1 267.3L160.7 269.6L155.2 270.3L156.0 271.7L160.5 273.3L162.1 275.8L161.5 280.4L160.9 281.8L154.6 281.5L148.7 281.1L146.1 282.7L147.1 285.0L146.9 289.5L145.7 292.3L147.1 294.1L146.9 296.4L149.7 295.9L152.2 297.5L153.4 298.7L155.6 297.1L160.3 296.9L163.5 293.4L164.9 291.8L163.9 290.7L166.3 287.2L170.8 285.0L170.6 282.4L173.4 281.8L177.3 282.4L179.3 280.8L181.9 279.5L184.6 280.6L185.2 282.9L188.6 285.6L191.5 286.8L195.3 289.5L195.5 293.6L196.3 294.1L197.3 291.8L198.4 290.9L197.1 289.1L201.0 289.3L198.3 287.2L196.1 285.2L192.1 283.6L189.0 279.7L188.8 277.2L191.3 276.5L192.1 278.3L194.1 279.2L196.1 281.5L201.0 284.0L203.0 285.6L202.8 288.8L205.0 290.7L206.3 293.4L207.1 296.9L208.7 297.5L209.9 295.2L211.9 294.1L209.9 292.3L209.5 288.8L211.9 287.7L215.8 287.7L216.4 289.1L216.2 290.9L218.2 293.0L218.4 296.4L220.8 297.1L224.7 297.8L228.7 298.5L232.8 296.9L236.0 297.3L235.2 299.8L235.4 302.1L233.8 305.5L232.6 309.0L232.0 309.4L233.4 313.5L234.6 317.0L236.6 321.6L238.5 326.1L241.5 330.7L242.5 335.3L245.4 341.0L248.6 345.6L250.0 352.0L253.3 351.7L259.3 349.0L265.2 346.2L268.2 343.3L273.1 341.0L276.6 338.7L280.0 334.1L282.6 329.6L280.4 327.0L277.0 326.1L275.7 320.9L274.1 322.7L271.1 325.9L267.2 326.1L266.2 322.7L265.2 321.6L263.2 320.4L260.3 315.8L259.3 312.4L263.2 312.4L265.2 315.8L269.1 319.3L275.1 319.3L278.0 322.2L285.9 323.4L295.8 323.2L297.8 326.1L300.7 329.6L302.7 328.9L307.8 331.8L308.2 337.6L309.6 344.4L311.6 350.1L313.6 355.9L315.5 361.6L317.5 362.7L318.9 360.4L321.5 357.5L322.5 352.4L323.0 345.6L327.0 342.8L331.3 337.6L335.3 334.6L336.3 331.8L339.2 331.2L342.2 330.7L345.2 329.6L346.2 333.0L347.1 335.3L350.1 338.7L351.1 344.4L353.1 344.9L357.0 343.3L357.6 347.9L359.0 353.6L359.0 359.3L358.6 362.7L361.0 366.1L362.5 369.6L363.9 374.2L366.9 376.4L368.9 378.0L370.2 377.6L368.7 372.3L368.7 368.4L365.9 366.8L362.9 363.9L362.0 360.4L360.4 357.0L362.0 350.8L363.5 352.0L366.9 353.6L368.5 357.0L371.4 361.1L374.8 358.8L379.3 355.2L380.1 351.3L379.1 345.6L375.2 341.0L373.2 337.6L375.0 334.1L377.7 331.8L381.1 331.8L382.7 334.6L383.7 331.8L388.6 330.2L393.5 328.9L397.5 325.0L400.5 322.2L401.4 319.3L404.4 315.8L405.4 312.4L403.4 310.6L405.0 309.0L402.4 305.5L400.5 301.0L402.4 298.7L406.4 296.4L403.4 294.8L399.5 295.9L397.5 293.0L396.9 291.8L399.5 291.1L403.4 287.7L406.0 288.4L403.8 291.8L409.3 289.8L411.3 290.7L411.9 294.8L414.3 295.5L413.9 301.0L416.3 301.9L419.8 300.5L420.2 296.9L418.2 292.7L416.3 290.0L420.6 287.5L420.8 284.0L423.2 283.1L427.1 283.1L432.1 280.6L436.0 277.0L439.9 271.2L441.9 266.7L442.9 259.8L283.0 259.8L164.5 259.8ZM420.6 304.4L422.2 303.3L424.2 304.4L425.1 306.7L423.8 309.7L421.8 310.1L420.8 306.7L420.6 304.4ZM425.7 305.1L428.1 303.0L430.5 303.3L429.7 304.9L427.1 306.0L425.7 305.1ZM423.2 302.6L426.1 300.1L429.1 299.6L433.0 299.4L434.6 295.9L436.0 295.5L438.0 294.6L440.1 291.8L440.9 288.4L441.5 286.6L443.9 286.3L444.7 289.5L443.9 293.0L442.9 295.2L442.5 298.7L440.9 300.7L439.0 301.7L437.0 301.9L435.0 301.9L433.0 304.4L431.1 303.7L431.5 301.9L427.1 302.1L423.2 302.6ZM440.9 286.1L440.9 282.7L443.9 277.2L446.9 279.7L451.8 282.0L448.8 282.9L447.3 285.0L442.9 285.4L440.9 286.1ZM444.9 275.8L447.8 274.0L446.9 268.9L449.8 268.9L446.9 259.8L444.9 259.8L444.9 275.8ZM401.6 328.4L403.4 323.4L405.4 323.8L404.4 328.4L403.0 330.9L401.6 328.4ZM378.9 337.1L382.7 335.0L383.7 336.2L381.7 339.2L379.1 338.7L378.9 337.1ZM401.4 338.7L406.0 338.7L405.4 344.0L404.4 348.3L409.3 351.3L408.0 352.4L404.4 350.1L402.4 347.9L401.0 343.7L401.4 338.7ZM405.4 365.0L408.4 362.7L410.3 361.3L412.3 359.3L414.3 362.7L413.3 366.6L411.9 368.2L409.3 366.1L405.4 365.0ZM410.3 352.4L412.7 353.6L411.7 358.1L410.3 357.0L410.3 352.4ZM405.4 354.0L407.4 354.7L408.4 358.1L406.4 359.3L405.4 357.0L405.4 354.0ZM402.2 350.1L404.4 350.6L403.8 353.1L402.2 350.1ZM395.9 361.8L400.5 356.3L400.9 357.2L396.5 362.3L395.9 361.8ZM379.7 376.9L381.7 377.1L384.7 375.3L387.6 373.7L389.6 370.5L392.6 369.1L394.5 366.1L396.1 365.5L398.5 368.4L399.5 369.6L397.5 371.2L396.7 373.7L397.5 378.7L396.5 381.0L394.5 384.4L393.5 389.0L390.6 389.5L387.6 388.3L384.7 387.9L382.3 387.4L381.7 384.4L380.1 381.0L379.7 376.9ZM352.7 368.2L357.0 369.1L359.4 372.6L362.9 376.4L365.9 379.9L368.9 382.8L370.8 385.6L373.8 387.9L373.4 394.3L370.8 393.8L366.5 390.2L363.9 386.7L362.0 383.3L360.0 379.9L358.0 376.0L355.0 372.6L352.7 368.2ZM372.2 396.6L373.8 394.7L378.3 395.4L382.7 395.9L386.6 396.8L390.6 398.6L390.4 400.9L385.6 400.0L381.7 399.5L377.7 398.9L374.8 397.9L372.2 396.6ZM391.6 399.8L393.5 400.0L399.5 399.8L403.4 400.2L407.4 399.8L407.4 400.9L401.4 401.4L395.5 401.6L391.6 401.1L391.6 399.8ZM408.4 404.6L415.3 400.2L415.9 400.5L409.9 403.9L408.4 404.6ZM400.5 393.6L402.4 393.6L402.0 387.4L403.4 387.0L405.4 392.0L407.0 391.3L404.4 385.1L407.4 383.1L403.4 383.3L401.8 379.6L403.4 378.3L410.3 379.9L411.3 377.6L410.3 378.7L403.4 379.2L401.4 379.9L400.5 383.3L399.1 387.4L400.5 393.6ZM416.3 377.6L417.2 376.0L418.2 377.6L417.2 379.9L418.8 380.6L417.2 382.8L416.3 381.0L416.3 377.6ZM417.2 388.3L422.8 388.6L422.2 389.7L417.6 389.2L417.2 388.3ZM423.2 383.3L426.1 382.2L429.1 382.8L429.7 387.4L431.1 388.6L436.0 384.4L440.9 386.3L445.9 388.3L449.8 390.2L452.8 393.6L455.7 394.7L456.3 396.6L454.8 398.9L456.7 400.5L459.7 403.0L462.3 404.3L459.7 404.8L455.7 404.1L452.8 399.8L448.8 398.6L447.8 401.6L445.9 402.3L442.9 401.8L439.0 399.3L437.0 400.2L436.4 398.4L438.0 396.6L437.0 393.1L433.0 391.3L429.1 389.7L426.7 390.2L425.1 387.4L427.1 386.3L425.1 385.8L423.2 384.2L423.2 383.3ZM457.7 393.6L460.7 392.7L463.6 390.6L465.2 390.8L463.6 392.4L461.7 395.2L457.7 394.3L457.7 393.6ZM462.3 387.2L465.6 389.9L466.8 391.8L466.2 392.0L462.3 387.2ZM473.5 396.6L475.5 398.2L474.5 399.1L473.5 396.6ZM476.9 398.2L480.0 400.5L479.4 400.9L476.9 398.2ZM488.3 427.2L494.3 432.0L493.3 432.2L488.3 427.9L488.3 427.2ZM514.6 421.0L517.0 421.3L516.4 422.6L514.6 422.0L514.6 421.0ZM494.3 415.3L494.8 416.5L495.8 418.7L494.6 417.6L494.3 415.3ZM388.6 431.3L390.0 430.9L394.9 428.1L399.5 426.8L403.4 425.6L405.8 421.0L408.4 418.7L411.3 414.4L415.3 412.6L419.2 415.1L420.6 411.9L422.2 409.4L426.1 407.5L429.1 408.5L433.0 408.5L434.4 408.9L433.0 411.4L432.1 414.9L435.0 417.1L439.6 420.8L442.5 420.8L444.1 415.3L443.9 410.7L445.3 405.5L446.9 408.0L447.8 413.0L451.4 415.3L452.8 423.3L455.7 425.6L459.1 429.5L462.3 432.7L466.4 438.9L467.6 445.1L466.6 451.9L464.6 456.0L462.7 458.8L460.7 466.5L456.7 467.5L453.4 470.2L449.8 468.4L447.8 469.8L443.9 468.8L440.9 466.8L440.1 463.3L437.2 459.2L436.0 462.2L434.6 461.7L436.4 456.5L432.8 460.6L431.5 459.9L429.5 456.0L424.2 453.1L417.2 454.7L410.3 456.5L408.4 458.5L401.4 458.5L396.5 461.3L391.6 459.5L392.6 457.6L393.0 454.2L391.6 449.6L390.6 445.1L388.4 440.5L389.2 438.2L388.6 431.3ZM450.2 474.1L453.8 475.0L457.3 474.6L457.1 477.5L454.8 480.5L451.8 478.4L450.2 474.1ZM505.5 459.7L509.1 462.9L511.6 465.6L516.0 467.2L517.0 469.1L514.0 470.7L513.4 473.2L510.6 476.2L509.3 475.2L509.5 472.0L507.7 470.7L509.3 468.4L509.1 465.2L505.5 459.7ZM505.5 473.6L508.7 474.8L508.1 477.1L506.1 479.4L505.5 481.2L502.5 482.8L501.6 486.0L498.8 487.6L493.3 486.2L493.9 484.6L496.8 481.6L501.2 479.4L503.3 476.4L505.5 473.6ZM322.1 358.6L324.4 361.6L326.0 364.5L324.8 366.8L322.7 367.3L321.9 362.7L322.1 358.6ZM-143.4 335.5L-141.6 336.0L-142.8 337.8L-143.4 335.5ZM181.3 287.2L183.2 287.0L183.6 290.7L182.3 291.8L181.1 291.1L181.3 287.2ZM181.7 282.9L183.2 283.1L183.0 286.3L181.7 285.6L181.7 282.9ZM189.0 293.9L195.3 293.6L194.3 297.1L189.2 295.0L189.0 293.9ZM210.9 299.8L216.4 300.3L212.9 301.2L210.9 299.8ZM228.3 300.7L232.8 299.4L231.4 301.7L228.3 300.7ZM130.9 316.3L137.8 314.2L137.2 317.0L130.9 316.3ZM131.3 306.0L131.7 306.5L130.5 306.2ZM219.8 286.6L221.8 287.0L226.7 286.8L230.6 285.0L233.6 285.0L236.6 286.6L240.5 287.5L244.5 287.2L246.6 285.9L246.4 283.8L243.5 281.8L240.5 279.7L237.5 278.1L234.6 277.6L230.6 279.2L228.7 277.4L230.6 275.8L226.7 274.4L224.7 275.8L223.1 277.6L221.0 280.4L219.6 283.1L219.8 286.6ZM233.6 277.4L236.8 277.4L240.1 274.0L238.1 273.3L234.0 275.1L233.6 277.4ZM261.2 274.4L266.2 273.5L269.5 274.0L269.1 277.4L265.8 279.2L263.8 279.2L265.6 282.2L268.5 285.4L268.9 289.1L270.7 289.5L270.9 292.0L270.9 295.7L266.2 296.9L263.2 295.7L261.2 295.0L260.8 292.3L262.2 288.8L260.3 285.4L258.3 282.7L258.1 279.2L256.7 279.0L258.3 276.7L261.2 274.4ZM-17.2 274.2L-13.2 274.4L-7.3 274.7L-2.4 274.7L-3.4 271.7L-6.3 269.6L-11.3 270.3L-17.2 274.2ZM-8.9 285.0L-8.3 281.5L-8.9 278.6L-3.4 275.8L-4.1 278.1L-5.7 280.4L-6.3 284.5L-8.9 285.0ZM-2.6 275.8L-1.4 276.5L-0.4 277.6L-0.2 280.4L1.8 282.7L3.2 279.2L4.5 277.4L5.3 276.0L2.6 275.6L-2.6 275.8ZM-0.2 285.6L1.6 286.3L6.5 284.5L8.7 282.9L4.5 283.4L1.6 284.7L-0.2 285.6ZM6.9 282.0L10.5 281.8L13.8 281.3L13.4 279.9L10.5 280.6L7.5 281.1L6.9 282.0Z" fill="#000" fill-rule="evenodd"/></mask></defs>
<g clip-path="url(#cR1)">
<g filter="url(#soft)">
<path fill="#fffa00" fill-rule="evenodd" d="M432.9 80.6L426.8 80.5L424.7 79.5L424.0 77.6L423.3 68.9L421.8 67.0L417.8 65.4L416.4 64.0L415.6 53.3L414.1 48.5L411.7 46.7L405.6 45.6L393.5 44.8L387.5 43.6L378.4 42.8L376.4 43.2L374.4 44.6L371.3 49.1L370.3 49.8L360.2 50.8L347.1 56.4L328.9 58.4L312.8 58.8L304.7 58.1L293.6 58.0L293.6 51.9L305.7 51.5L308.3 49.4L310.4 45.6L312.8 44.3L321.9 43.9L326.9 42.8L339.0 41.4L340.4 40.7L343.1 37.4L347.0 34.9L347.6 32.0L346.9 30.0L344.1 28.7L322.9 28.7L315.8 30.9L304.5 32.0L302.1 33.0L298.7 35.9L293.6 36.4L293.4 5.8L578.3 5.8L578.2 8.7L577.5 10.6L576.1 11.6L571.2 12.4L569.2 13.3L566.5 19.4L560.6 22.3L559.7 25.2L559.3 33.0L558.4 34.9L556.0 36.1L545.9 36.9L544.0 38.8L541.9 43.3L536.9 45.8L535.9 48.5L535.9 56.2L534.8 58.1L533.8 58.9L528.8 59.6L516.7 59.6L513.7 59.2L511.6 57.2L510.0 53.3L503.6 50.4L501.5 46.7L500.3 45.6L495.5 44.3L490.4 42.2L481.3 42.2L479.3 43.4L478.6 44.6L476.9 50.4L470.8 53.3L468.2 57.0L466.2 58.1L460.2 59.5L450.1 58.1L441.0 58.5L437.9 59.3L436.3 61.1L435.8 63.0L435.8 78.6L434.9 79.9L432.9 80.6ZM612.6 74.7L610.5 73.8L608.4 68.9L603.5 65.0L603.1 64.0L601.9 51.4L600.7 47.5L598.4 45.9L592.4 44.4L589.7 41.7L589.1 38.8L588.6 26.2L587.3 24.4L583.3 22.8L581.3 20.3L580.7 17.4L580.2 5.8L680.2 5.5L680.2 42.6L667.1 42.7L659.0 44.1L644.9 44.2L634.0 46.5L633.0 47.5L632.3 49.4L632.2 63.0L631.1 65.9L628.7 67.2L619.5 67.9L617.0 69.8L615.0 73.7L612.6 74.7ZM436.3 51.4L444.8 49.4L447.6 45.6L449.0 44.6L460.2 42.0L461.7 40.7L461.8 39.7L461.2 38.8L458.1 38.1L432.8 39.7L430.7 41.7L430.6 48.5L431.5 50.4L432.9 51.3L436.3 51.4ZM669.1 113.6L666.1 112.8L665.0 110.6L666.1 108.0L668.1 106.8L670.1 107.2L672.1 109.6L671.4 112.5L669.1 113.6ZM437.9 129.0L398.1 129.0L398.6 125.0L399.8 123.2L401.6 122.2L410.7 121.6L416.7 120.3L427.9 119.9L429.2 119.3L431.9 116.8L433.9 116.3L435.1 117.4L437.9 125.1L438.4 129.0L437.9 129.0ZM637.8 129.0L634.7 129.0L634.8 127.1L635.8 125.2L636.8 125.1L637.5 126.1L637.8 129.0Z"/>
<path fill="#f5aa00" fill-rule="evenodd" d="M532.8 58.5L529.8 58.9L518.7 59.0L513.6 58.3L512.5 57.2L511.0 53.3L510.1 52.4L504.6 50.2L501.5 45.2L495.5 43.2L491.4 39.6L486.4 37.6L485.0 35.9L483.3 30.0L482.2 29.1L479.3 28.6L474.3 29.1L470.2 30.7L464.5 32.0L461.2 34.2L454.1 35.9L432.1 37.8L425.8 39.2L423.8 39.9L420.8 43.1L417.8 44.0L401.6 44.1L393.5 43.3L384.4 41.2L379.4 39.0L377.4 38.8L374.7 39.7L370.3 43.6L366.3 45.0L359.2 46.3L355.8 49.4L347.1 52.9L336.0 53.7L329.9 56.5L311.8 56.5L310.3 55.3L310.4 54.3L311.8 52.8L313.8 52.1L322.9 51.4L324.3 50.4L326.0 47.5L327.9 46.1L334.0 44.6L341.0 43.6L348.4 41.7L349.7 39.7L351.1 33.9L351.0 30.0L349.9 26.2L348.1 23.3L345.1 22.5L322.9 23.1L320.9 23.7L318.3 27.1L315.8 28.8L297.6 31.4L293.6 31.6L293.4 5.8L575.7 5.8L575.1 9.7L574.0 10.6L570.2 11.6L568.4 12.6L566.1 18.6L565.1 19.5L561.1 20.9L559.6 22.3L558.9 25.2L558.8 32.0L558.1 34.1L556.0 35.4L548.0 35.8L544.9 36.6L543.7 37.8L541.4 42.7L537.0 44.6L535.9 45.6L535.1 48.5L535.0 56.2L532.8 58.5ZM615.6 51.9L610.5 51.4L609.1 50.4L606.5 47.1L599.4 44.7L594.4 43.7L592.4 42.5L591.2 39.7L590.9 30.0L590.1 24.2L589.4 23.2L584.3 21.2L582.5 18.4L582.1 5.8L680.4 5.8L680.2 39.0L643.9 39.2L641.8 39.7L637.8 42.2L618.6 46.2L616.9 47.5L616.1 51.4L615.6 51.9ZM458.1 57.2L452.1 56.4L442.0 56.4L439.9 55.3L440.6 54.3L442.0 53.8L452.2 51.4L453.5 50.4L455.2 47.5L457.1 46.2L468.2 44.1L473.3 44.2L475.3 45.4L475.6 47.5L474.3 49.3L465.2 52.3L463.7 53.3L461.5 56.2L458.1 57.2ZM620.6 59.4L616.6 59.6L616.1 59.2L616.1 52.4L616.6 51.9L621.7 52.4L623.6 54.3L623.6 57.2L622.7 58.5L620.6 59.4ZM613.6 66.4L611.6 66.6L610.3 65.9L608.8 64.0L608.7 62.1L610.5 60.2L615.6 59.7L616.1 60.1L615.6 64.0L613.6 66.4ZM429.9 129.0L414.2 129.0L414.3 127.1L414.9 125.1L416.7 123.8L419.8 123.3L426.8 123.5L428.9 124.1L429.9 125.1L430.4 129.0L429.9 129.0Z"/>
<path fill="#f06400" fill-rule="evenodd" d="M529.8 58.2L516.7 58.2L513.6 57.3L511.3 52.4L509.6 51.1L505.1 49.4L502.4 44.6L496.5 42.5L492.5 37.8L487.4 35.5L486.3 33.0L484.9 24.2L484.1 23.3L482.4 22.6L475.3 22.7L474.1 23.3L471.7 27.1L470.2 28.3L457.1 31.5L451.8 33.9L444.0 35.5L422.8 37.6L416.7 39.0L412.7 41.3L410.7 41.8L404.6 42.7L399.6 42.6L392.5 41.1L386.5 38.0L377.4 36.4L368.3 38.2L367.0 38.8L364.1 41.7L361.2 42.3L359.1 41.7L357.9 39.7L357.7 26.2L357.2 23.3L355.2 21.3L349.1 19.7L339.0 19.3L331.0 20.7L320.9 21.0L318.5 22.3L316.5 26.2L314.8 27.4L307.7 28.8L293.6 29.8L293.5 5.8L573.4 5.8L572.7 8.7L569.2 10.1L567.1 11.7L565.2 18.4L560.2 20.3L559.1 21.4L558.2 24.2L558.0 32.0L557.1 33.9L555.0 34.8L547.0 35.2L543.9 36.4L540.9 41.9L536.9 43.7L534.9 45.6L534.2 48.5L534.0 56.2L532.8 57.5L529.8 58.2ZM613.6 43.8L603.5 44.0L595.5 42.7L593.7 41.7L592.8 39.7L592.5 31.0L591.4 23.7L590.2 22.3L585.3 20.4L583.7 18.4L583.3 5.8L680.3 5.8L680.2 37.1L644.9 37.1L636.8 38.4L627.7 38.7L625.7 39.4L621.7 42.1L613.6 43.8ZM347.1 49.6L344.1 50.2L338.0 50.2L335.1 49.4L334.6 48.5L335.0 47.5L337.0 46.6L346.1 45.9L348.1 46.5L348.7 47.5L348.5 48.5L347.1 49.6Z"/>
<path fill="#eb2800" fill-rule="evenodd" d="M303.7 28.1L293.6 28.6L293.6 5.8L301.2 5.8L302.1 9.7L303.7 10.9L305.7 11.2L307.7 10.7L308.7 9.7L309.2 5.8L373.9 5.8L373.3 10.6L371.3 12.6L367.3 13.1L337.0 13.3L335.0 14.1L332.3 17.4L331.0 18.1L320.9 18.7L317.8 19.5L316.0 21.3L313.8 25.4L308.7 27.5L303.7 28.1ZM530.8 57.2L517.7 57.4L514.7 56.7L511.7 51.4L505.7 48.5L503.0 43.6L497.5 41.7L496.4 40.7L494.1 36.8L489.4 34.9L488.4 33.9L487.8 31.0L488.2 23.3L487.3 21.3L484.4 19.6L476.3 19.3L473.3 20.1L471.4 22.3L469.9 26.2L467.2 27.7L449.4 31.0L444.0 33.4L436.9 34.9L414.7 36.8L407.7 38.5L404.6 40.4L402.6 40.9L399.6 40.3L396.6 37.4L394.5 36.5L388.5 35.0L380.4 34.2L369.3 34.6L367.2 33.9L366.4 33.0L366.3 31.7L367.3 29.7L372.7 27.1L375.4 21.9L379.4 20.3L381.4 18.4L381.9 15.5L381.9 5.8L535.4 5.8L535.5 8.7L536.3 10.6L537.9 12.2L539.9 12.9L554.0 13.0L562.1 11.7L564.1 12.3L565.1 14.5L564.5 17.4L563.1 18.3L559.1 19.5L557.7 21.3L557.1 31.0L556.5 33.0L554.7 33.9L548.0 34.2L544.9 34.8L542.4 36.8L539.9 41.4L535.0 43.6L533.5 46.5L533.1 55.3L532.6 56.2L530.8 57.2ZM604.5 41.7L597.4 41.1L596.1 40.7L595.1 39.7L594.5 32.0L592.6 23.3L590.9 21.3L585.8 19.4L584.6 17.4L584.3 5.8L680.2 5.8L680.2 35.6L644.9 35.6L626.7 36.5L620.6 37.7L610.5 38.2L606.5 41.1L604.5 41.7Z"/>
<path fill="#b91e00" fill-rule="evenodd" d="M421.8 33.9L409.7 34.6L407.7 34.0L406.7 33.0L406.2 30.0L406.1 5.8L495.0 5.8L494.5 10.6L492.5 12.6L489.4 13.0L475.3 13.1L472.3 14.1L470.8 16.5L468.2 24.2L467.2 25.4L465.5 26.2L460.2 27.6L448.0 28.9L442.0 30.2L435.9 33.1L421.8 33.9ZM530.8 55.4L528.8 55.8L519.7 55.9L515.7 55.3L512.6 50.0L507.3 47.5L504.5 42.7L502.5 41.4L498.5 39.9L495.5 35.1L490.4 32.4L490.5 30.0L493.9 27.1L496.1 22.3L497.5 21.3L500.6 20.3L502.5 18.4L503.0 15.5L503.1 5.8L511.1 5.8L511.6 10.6L512.6 12.0L514.7 12.8L529.8 13.1L532.8 13.9L535.0 16.5L537.4 25.2L538.9 26.5L542.1 26.2L544.6 22.3L546.0 21.3L553.0 20.9L555.0 21.8L555.7 27.1L555.0 31.9L553.0 32.5L548.0 32.7L544.9 33.4L541.8 35.9L538.9 40.0L533.6 42.7L532.0 45.6L531.7 53.3L530.8 55.4ZM639.8 33.9L611.6 34.6L609.3 33.9L606.9 30.0L605.5 29.1L597.0 28.1L595.4 26.3L594.4 23.3L593.1 21.3L591.4 20.1L587.3 18.8L585.9 17.4L585.4 5.8L664.6 5.8L665.1 9.8L666.1 11.4L667.9 12.6L680.2 13.1L680.2 33.6L639.8 33.9ZM301.7 27.2L293.6 27.4L293.6 11.5L298.7 12.0L307.7 15.3L308.9 16.5L310.5 22.3L309.7 25.2L306.7 26.7L301.7 27.2Z"/>
<path fill="#730a00" fill-rule="evenodd" d="M435.9 28.2L419.8 28.5L416.8 28.1L415.4 27.1L414.3 23.3L414.2 5.8L462.7 5.8L462.6 22.3L461.9 24.2L461.2 24.9L458.1 25.8L441.0 27.2L435.9 28.2ZM669.1 28.4L623.7 28.6L618.7 28.1L617.2 27.1L615.6 23.2L613.6 21.3L610.5 20.9L597.4 20.7L588.3 17.2L587.3 15.5L587.2 5.8L632.3 5.8L632.8 10.6L633.8 11.9L635.8 12.7L637.8 12.5L639.2 11.6L640.1 9.7L640.3 5.8L656.5 5.8L656.7 9.7L657.6 11.6L663.0 14.7L666.1 19.8L670.1 21.3L672.1 23.3L672.1 26.2L671.1 27.5L669.1 28.4ZM303.7 25.3L293.6 25.6L293.6 14.6L299.2 15.5L302.7 19.8L305.7 21.5L306.7 22.9L306.6 24.2L303.7 25.3ZM515.7 36.0L512.6 35.2L511.4 33.0L511.2 25.2L511.7 23.3L512.6 21.9L515.7 20.9L527.8 20.8L530.8 21.1L532.7 22.3L533.5 25.2L532.8 27.8L530.8 28.5L521.7 29.1L519.7 31.0L518.0 34.9L515.7 36.0ZM538.9 35.4L536.9 35.1L536.0 33.9L535.8 32.0L536.3 31.0L538.9 30.3L541.7 31.0L542.1 32.0L541.7 33.0L538.9 35.4Z"/>
<path fill="#6ef5ff" fill-rule="evenodd" d="M664.0 129.0L640.3 129.0L639.8 124.2L638.8 122.9L636.8 122.1L634.8 122.6L633.1 124.2L632.3 129.0L591.9 129.0L591.4 125.1L590.1 123.2L587.3 121.9L582.3 121.7L572.2 121.8L562.1 123.8L560.3 125.1L559.6 129.0L543.4 129.0L543.2 125.1L541.9 122.8L536.9 120.7L534.4 117.4L532.8 116.2L523.7 114.3L521.7 114.5L520.3 115.4L517.7 120.7L512.3 123.2L511.4 125.1L511.1 129.0L446.5 129.0L446.3 127.1L445.2 125.1L441.0 123.3L439.0 121.6L436.9 115.5L434.9 113.3L432.9 113.0L426.8 115.2L423.8 114.9L421.8 113.4L419.8 109.1L417.8 108.5L416.4 109.6L414.7 113.5L412.7 114.9L402.6 115.7L399.6 116.8L393.3 123.2L392.5 125.2L392.3 129.0L372.2 129.0L371.6 125.1L370.7 124.2L369.3 123.8L366.7 125.1L365.8 129.0L293.6 129.1L293.6 121.7L297.6 121.3L299.2 119.3L299.5 108.6L299.5 101.8L298.6 95.1L296.6 93.2L293.6 93.0L293.6 72.9L299.7 73.2L305.7 74.8L308.1 73.7L308.8 71.8L307.7 69.1L305.7 67.8L293.6 67.4L293.6 61.2L304.7 61.2L319.8 59.7L331.0 59.5L348.1 58.2L356.2 56.4L361.2 53.7L371.3 52.8L374.2 50.4L376.7 46.5L381.4 45.2L386.5 45.0L393.5 46.6L402.6 47.3L405.6 48.5L407.7 50.9L411.7 53.5L412.5 56.2L413.2 65.9L414.7 67.8L418.8 69.4L420.2 70.8L420.9 79.5L421.8 81.5L424.8 82.8L434.9 82.7L437.3 81.5L438.2 79.5L437.7 65.0L438.2 62.1L439.0 61.0L442.0 59.8L449.0 59.2L453.1 59.5L460.2 61.7L468.2 60.5L470.3 59.2L473.3 55.0L477.3 52.8L478.3 51.7L480.3 45.9L482.4 44.4L490.4 44.2L499.5 46.4L503.5 51.4L508.8 53.3L509.8 54.3L511.3 58.2L513.6 59.9L528.8 60.3L533.8 59.7L536.0 58.2L536.9 56.2L536.7 48.5L537.5 46.5L542.7 43.6L544.8 38.8L545.9 37.7L548.0 37.1L556.0 36.8L558.5 35.9L560.1 33.0L560.4 25.2L561.1 23.0L567.1 19.8L568.8 15.5L570.2 13.8L572.2 13.2L575.2 13.4L577.4 14.5L578.1 16.5L578.6 45.6L579.3 48.5L580.3 49.0L582.3 48.8L585.3 45.2L587.3 44.6L597.4 47.9L598.5 49.4L599.7 53.3L601.3 66.9L605.8 70.8L605.9 72.7L604.5 74.7L596.4 75.3L593.7 76.6L592.5 78.6L593.4 81.2L598.4 84.0L600.8 87.3L603.5 88.8L619.6 89.2L622.7 89.7L624.6 91.2L626.1 94.1L627.7 95.4L638.8 96.5L645.9 98.4L664.0 98.4L664.5 98.9L664.5 100.9L663.6 103.8L659.7 106.7L658.4 108.6L656.8 117.4L658.2 120.3L663.0 122.8L664.0 124.2L664.6 129.0L664.0 129.0ZM680.2 51.9L668.1 51.7L665.7 50.4L665.1 48.5L666.1 46.8L668.1 45.9L680.2 45.7L680.2 51.9ZM680.2 106.2L677.2 106.0L675.1 105.3L673.5 103.8L671.5 99.9L670.1 99.0L665.1 98.5L664.5 98.0L664.2 95.1L663.0 92.8L658.0 89.7L654.5 85.4L648.9 83.3L647.4 81.5L645.8 76.6L641.5 73.7L640.7 71.8L640.9 69.8L641.8 68.5L645.9 65.8L647.4 61.1L649.0 59.2L651.9 58.2L660.0 57.4L680.2 58.0L680.2 106.2ZM566.3 65.9L566.8 65.0L566.1 63.4L564.1 62.9L563.1 63.3L562.7 65.0L563.1 66.0L565.1 66.6L566.3 65.9ZM387.2 82.4L388.5 81.8L389.4 80.5L389.5 78.6L387.5 76.1L384.4 75.8L382.5 77.6L382.5 80.5L384.4 82.4L387.2 82.4ZM338.5 90.2L340.0 89.5L341.0 88.3L341.0 85.4L339.0 83.5L336.0 83.5L334.1 85.4L334.0 87.3L336.0 89.7L338.5 90.2Z"/>
<path fill="#5aaaff" fill-rule="evenodd" d="M656.0 129.0L642.7 129.0L642.4 124.2L641.7 122.2L639.8 120.4L636.8 119.8L633.8 121.0L631.5 123.2L630.1 126.1L629.9 129.0L599.9 129.0L599.7 125.1L598.8 123.2L594.4 120.9L592.8 119.3L590.0 110.6L589.4 109.6L587.3 108.9L585.0 109.6L582.7 112.5L581.3 113.5L570.2 116.1L565.1 119.7L557.1 121.3L554.0 121.2L552.6 120.3L550.3 117.4L549.0 116.7L537.9 115.7L528.8 111.4L527.4 108.6L527.0 94.1L525.8 91.8L522.7 91.0L514.7 92.7L513.3 94.1L512.5 104.8L511.0 110.6L510.0 112.5L507.6 113.8L499.5 114.3L497.5 116.0L497.2 119.3L498.5 121.1L501.5 122.8L502.5 124.2L503.0 129.0L453.0 129.0L452.1 125.0L450.8 124.2L442.0 121.4L440.0 119.8L436.3 109.6L436.6 106.7L438.0 102.8L437.9 100.9L435.9 99.0L433.9 98.8L431.9 99.6L430.9 100.9L430.0 109.6L428.2 111.5L426.8 111.9L424.8 111.2L423.3 107.7L421.7 105.7L419.8 105.0L416.7 105.0L413.8 106.7L412.1 110.6L410.7 111.9L401.6 112.8L393.5 116.7L392.5 117.9L390.5 123.2L390.0 129.0L375.5 129.0L375.1 125.1L374.2 123.2L372.3 121.4L369.3 120.5L362.2 123.1L352.1 124.5L350.1 126.1L349.6 129.0L307.6 129.0L307.0 124.2L303.7 120.6L302.9 118.3L302.7 102.8L300.7 93.1L298.7 91.2L293.6 90.7L293.6 75.2L299.7 75.8L301.1 76.6L303.7 80.3L304.7 80.9L315.8 81.6L322.9 83.4L324.3 84.4L327.1 89.2L331.8 92.1L334.5 95.1L336.9 96.0L354.2 96.6L356.2 95.9L358.8 92.1L361.2 90.9L369.3 90.6L377.4 89.2L385.5 89.2L389.5 89.6L395.6 91.2L397.0 92.1L399.6 96.4L402.6 98.2L418.8 98.2L420.8 97.4L421.8 96.0L422.4 88.3L423.1 86.3L425.8 85.3L435.9 85.0L437.9 84.2L439.8 82.4L440.6 78.6L439.4 72.7L439.2 65.9L440.2 62.1L443.0 60.9L451.1 60.3L454.1 61.1L457.2 64.0L459.1 65.0L468.2 64.8L469.9 64.0L478.0 57.2L480.7 52.4L482.2 47.5L483.4 46.7L491.4 46.5L498.5 47.8L502.5 51.8L508.6 54.2L511.0 59.2L513.6 60.7L530.8 61.0L534.9 60.1L537.4 58.2L538.4 56.2L537.7 49.4L538.2 47.5L543.0 44.6L544.3 42.7L545.3 39.7L547.0 38.2L556.0 37.6L559.1 36.5L560.7 33.9L561.2 25.2L562.0 23.3L567.1 21.0L568.4 19.4L570.2 15.0L571.2 14.4L573.2 14.2L575.7 15.5L576.4 17.4L576.5 46.5L577.2 50.1L578.2 51.1L580.3 51.7L593.4 51.9L596.4 53.0L597.4 55.0L598.9 61.1L598.9 65.9L597.4 68.3L593.4 69.9L590.4 73.5L588.5 74.7L585.3 75.2L579.3 74.9L577.2 74.1L576.2 72.7L574.0 64.0L572.9 62.1L569.2 60.9L563.1 60.6L560.5 62.1L559.8 64.0L560.1 66.9L562.1 73.6L566.1 76.2L568.8 79.5L570.2 80.2L582.3 81.6L588.3 83.2L590.4 84.5L593.8 88.3L602.5 91.8L620.6 92.7L625.0 97.0L638.4 98.9L640.2 99.9L642.8 103.6L643.9 104.2L652.9 106.6L654.5 108.6L654.3 111.5L652.9 113.5L649.9 115.7L648.8 118.3L649.9 120.6L654.0 122.6L655.5 124.2L656.4 127.1L656.5 129.0L656.0 129.0ZM394.5 59.4L374.4 59.6L373.9 59.2L374.0 57.2L374.5 55.3L376.4 53.0L380.4 50.9L383.4 47.5L386.5 47.1L388.5 47.7L391.5 50.9L396.9 53.3L397.7 55.3L397.5 57.2L396.6 58.5L394.5 59.4ZM358.2 77.6L343.1 77.3L335.0 76.5L328.9 75.0L326.5 73.7L323.7 69.8L312.8 67.1L311.1 65.9L310.3 64.0L311.8 62.8L320.9 60.9L332.0 60.8L361.2 58.2L373.3 59.7L373.9 60.1L373.8 69.8L372.7 73.7L371.3 74.7L365.3 76.9L358.2 77.6ZM680.2 93.0L673.1 92.7L667.1 91.6L664.2 89.2L661.7 85.4L651.1 80.5L650.1 78.6L648.7 70.8L650.1 64.0L651.2 62.1L656.9 60.1L661.0 59.7L670.1 59.8L676.2 61.0L680.2 61.2L680.2 93.0ZM402.6 74.9L393.5 74.7L391.0 72.7L390.6 69.8L391.5 68.5L393.5 67.6L400.6 67.4L403.6 67.9L405.6 69.8L405.8 71.8L405.0 73.7L402.6 74.9ZM492.5 102.8L493.2 100.9L493.1 95.1L492.0 93.1L489.4 92.7L488.3 93.1L487.3 95.1L488.5 100.9L489.4 102.8L490.4 103.3L492.5 102.8ZM605.2 112.5L607.6 106.7L609.5 105.2L612.6 104.2L613.9 102.8L614.0 100.9L612.6 98.9L605.5 98.6L603.2 99.9L602.4 101.8L601.8 110.6L602.5 112.5L603.5 113.1L605.2 112.5Z"/>
<path fill="#3c82ff" fill-rule="evenodd" d="M494.5 129.0L456.2 129.0L455.8 125.1L454.5 123.2L452.7 122.2L445.2 120.3L442.0 118.7L438.9 111.5L438.8 108.6L440.0 106.3L443.8 103.8L444.5 102.8L446.3 95.1L447.0 85.4L448.0 84.0L451.9 81.5L452.5 79.5L452.1 78.0L451.1 77.2L444.0 75.4L442.0 73.7L441.2 67.9L441.4 65.0L442.0 63.5L445.2 62.1L451.1 61.5L452.9 62.1L454.0 63.0L456.1 66.3L459.1 67.3L468.2 67.3L475.3 65.8L477.6 65.0L480.3 61.3L482.0 60.1L492.1 57.2L494.5 52.4L495.7 51.4L497.5 50.8L507.6 54.8L509.7 59.2L512.6 61.4L515.7 61.9L528.8 61.9L534.8 61.2L538.6 59.2L540.9 57.2L541.4 54.3L539.7 50.4L539.7 48.5L544.4 44.6L546.5 39.7L549.0 38.7L557.1 38.4L560.1 36.9L561.7 33.9L562.0 26.2L562.6 24.2L568.2 21.4L570.6 16.5L572.0 15.5L573.2 15.6L574.3 16.5L574.8 18.4L575.0 47.5L575.5 51.4L577.2 53.4L582.8 55.3L584.9 58.2L586.3 59.1L595.4 60.3L596.6 62.1L596.7 64.0L595.4 65.5L589.4 67.0L581.3 67.3L578.4 65.9L576.8 61.1L574.2 58.7L571.2 58.3L561.1 59.4L558.6 61.1L557.4 64.0L558.4 74.7L559.6 78.6L561.2 80.5L568.1 82.4L574.2 83.2L581.3 84.9L585.3 88.3L598.4 93.4L599.9 96.0L599.9 102.8L597.5 112.5L596.4 113.1L595.4 113.0L594.4 112.2L591.8 107.7L589.9 106.7L587.3 106.3L578.2 108.2L574.2 111.5L564.1 115.3L556.0 115.4L549.0 114.1L539.9 113.9L536.9 113.1L534.9 111.5L534.0 109.6L534.0 100.9L535.9 98.0L540.9 95.6L541.8 92.1L541.3 86.3L539.9 85.0L537.9 84.6L524.8 84.5L520.7 85.2L517.6 88.3L512.6 89.7L510.6 91.3L509.6 94.1L509.4 101.8L508.5 104.8L505.6 106.1L497.5 106.2L496.6 105.7L496.5 95.1L495.4 91.2L493.5 89.7L488.1 88.3L485.2 85.4L483.4 84.8L481.3 85.0L479.5 86.3L478.9 88.3L478.9 93.1L479.7 96.0L484.3 99.9L486.1 103.8L487.4 105.0L490.4 106.1L496.5 106.3L496.3 110.6L493.5 118.3L494.9 126.1L495.0 129.0L494.5 129.0ZM356.2 75.7L344.1 75.0L336.0 73.1L334.1 71.8L332.4 68.9L331.0 67.9L320.9 65.5L319.5 65.0L319.1 64.0L320.5 63.0L321.9 62.9L336.0 62.4L343.2 61.1L352.1 60.5L358.2 60.7L364.2 62.1L365.7 64.0L366.9 67.9L367.2 70.8L366.5 72.7L365.3 74.0L363.3 74.9L356.2 75.7ZM680.2 90.7L674.1 90.4L668.1 88.7L667.1 88.0L664.0 83.4L657.4 79.5L656.5 76.6L656.5 66.9L656.9 64.0L657.7 63.0L661.0 62.0L669.2 62.1L671.6 63.0L675.1 66.5L677.2 67.2L680.2 67.4L680.2 90.7ZM387.5 129.0L381.9 129.0L381.8 126.1L381.0 124.2L376.0 120.3L374.4 118.3L371.7 108.6L370.3 107.0L369.3 106.7L367.3 107.4L366.3 108.6L365.7 116.4L364.3 119.0L357.3 121.3L350.1 122.2L344.1 123.9L341.9 126.1L341.6 129.0L310.9 129.0L310.4 124.2L307.8 117.4L307.7 109.6L309.0 102.8L308.7 100.9L307.7 99.5L304.5 97.0L303.0 92.1L301.7 90.1L298.7 88.7L293.6 88.4L293.6 77.4L296.8 77.6L298.7 78.5L300.7 82.4L302.7 83.9L312.8 84.6L315.6 85.4L318.8 89.6L323.7 92.1L327.0 96.0L335.0 98.2L347.1 98.6L355.2 99.8L361.2 98.6L370.3 98.0L372.3 96.8L375.4 93.2L377.4 92.5L385.5 92.3L388.4 93.1L391.5 96.0L395.6 97.5L398.4 99.9L399.6 102.8L399.7 107.7L399.1 110.6L397.6 112.5L392.5 114.5L390.5 116.4L388.0 124.2L387.5 129.0ZM623.7 129.0L608.0 129.0L608.1 118.3L610.1 109.6L611.6 108.2L614.6 107.2L616.5 105.7L618.5 99.9L619.6 99.0L629.7 99.4L636.5 100.9L638.0 101.8L639.3 104.8L640.8 106.6L646.9 108.9L647.7 110.6L647.4 111.5L644.9 113.6L635.8 114.6L631.7 120.4L624.9 125.1L624.2 129.0L623.7 129.0Z"/>
<path fill="#2832fa" fill-rule="evenodd" d="M483.4 121.5L458.1 121.4L448.0 118.5L445.5 115.4L442.0 112.5L441.3 110.6L441.9 108.6L447.0 105.7L449.0 100.1L453.5 97.0L454.5 94.1L454.7 87.3L456.0 81.5L455.9 77.6L454.1 74.7L449.0 73.1L447.2 71.8L446.6 66.9L446.9 65.0L447.6 64.0L449.0 63.4L451.1 63.6L454.0 67.9L457.1 69.4L476.3 69.3L478.3 70.7L480.3 74.1L483.4 74.8L485.4 74.0L486.4 72.7L487.0 65.0L487.6 63.0L489.4 61.7L494.5 60.1L496.0 58.2L497.1 55.3L498.5 54.1L500.5 54.2L506.6 56.2L509.1 61.1L511.6 62.7L513.6 63.2L531.8 63.3L535.9 62.6L541.9 60.6L543.9 59.2L544.7 57.2L544.2 48.5L548.0 40.8L550.0 40.2L557.1 39.9L561.1 38.3L563.0 34.9L564.1 25.2L569.2 22.8L572.2 19.4L572.9 26.2L572.9 46.5L572.3 50.4L569.2 52.9L566.1 56.2L559.1 57.8L552.6 61.1L551.5 65.0L551.7 79.5L552.6 81.5L554.0 82.5L561.1 84.2L573.2 85.6L574.6 86.3L576.8 89.2L578.2 90.2L589.9 93.1L592.9 97.0L596.8 99.9L597.3 102.8L596.4 104.9L594.4 105.4L590.4 104.2L587.3 104.0L576.2 105.1L570.1 106.7L568.7 107.7L566.1 111.2L563.1 112.3L555.0 112.3L538.9 111.2L537.9 110.6L537.1 108.6L537.2 102.8L538.1 100.9L542.9 98.0L544.7 95.1L545.0 87.3L543.9 83.4L541.9 81.9L539.9 81.5L523.7 81.3L520.7 80.6L517.7 76.2L512.3 73.7L509.6 68.5L506.6 67.7L504.2 68.9L501.5 74.1L496.1 76.6L494.5 80.5L492.5 82.4L490.4 82.6L484.4 81.5L480.3 81.6L473.3 83.4L471.3 85.4L470.8 93.1L471.9 97.0L477.1 99.9L479.9 104.8L481.2 105.7L487.4 108.0L490.8 108.6L492.5 109.6L492.6 111.5L492.0 112.5L488.0 115.4L485.8 120.3L483.4 121.5ZM358.2 73.7L352.1 74.2L343.1 72.0L342.0 70.8L341.6 68.9L341.6 65.9L342.4 64.0L344.0 63.0L346.1 62.7L353.2 62.4L356.3 63.0L362.2 67.9L363.5 69.8L363.3 71.8L362.2 72.5L358.2 73.7ZM680.2 88.4L676.2 88.3L674.1 87.5L671.1 83.9L667.1 81.8L665.8 80.5L664.6 77.6L664.6 72.7L665.1 69.9L666.1 68.5L668.1 67.8L670.1 68.3L671.7 69.8L674.1 74.1L676.2 74.9L680.2 75.2L680.2 88.4ZM324.9 129.0L317.3 129.0L317.2 126.1L316.4 124.2L312.1 120.3L311.2 118.3L310.9 112.5L311.4 108.6L312.8 106.7L315.8 104.6L318.8 99.5L321.9 98.7L334.0 100.4L346.2 100.9L348.6 101.8L352.1 105.4L356.6 107.7L357.5 109.6L357.7 114.5L357.2 117.4L356.5 118.3L354.2 119.3L344.1 120.7L338.0 123.1L327.9 123.8L326.1 125.1L325.4 129.0L324.9 129.0ZM385.5 120.8L383.4 120.0L380.8 115.4L377.4 113.4L376.0 111.5L374.2 102.8L375.4 100.2L377.4 98.9L386.5 98.6L393.5 100.2L395.9 101.8L396.4 107.7L395.6 110.6L389.4 113.5L388.1 115.4L387.0 119.3L385.5 120.8ZM621.7 121.3L618.8 121.3L617.3 120.3L616.4 118.3L616.7 116.4L617.6 115.1L621.7 113.5L623.7 111.5L624.7 102.8L626.7 101.5L630.4 101.8L632.0 103.8L632.2 108.6L630.0 118.3L627.7 120.0L621.7 121.3Z"/>
<path fill="#1e00fa" fill-rule="evenodd" d="M355.2 71.9L351.7 71.8L350.6 70.8L350.9 68.9L353.2 67.8L355.2 68.4L356.5 69.8L356.5 70.8L355.2 71.9ZM556.0 106.0L547.0 106.0L544.6 104.8L543.9 102.8L545.6 99.9L550.4 97.0L552.7 92.1L555.0 91.0L558.1 91.8L559.0 93.1L559.5 95.1L559.1 103.7L558.1 105.1L556.0 106.0ZM322.9 121.3L320.9 121.3L319.1 120.3L317.5 117.4L317.8 109.6L318.8 107.9L320.5 106.7L327.9 104.8L339.0 104.8L346.1 106.5L348.7 108.6L349.2 110.6L348.5 112.5L343.2 115.4L339.6 119.3L337.0 120.1L327.9 120.3L322.9 121.3Z"/>
<path fill="#1400c8" fill-rule="evenodd" d="M338.0 113.5L328.9 113.7L326.6 112.5L325.9 110.6L326.9 108.9L328.9 108.0L338.0 108.0L340.0 108.9L340.8 110.6L339.7 112.5L338.0 113.5Z"/>
</g>
<path d="M351.2 1.6L351.8 4.7L352.6 7.3L353.4 10.3L352.9 14.0L353.2 17.2L355.0 20.5L355.7 22.1L357.1 24.6L360.7 26.8L362.0 29.5L363.9 32.6L366.3 36.4L368.5 38.8L369.0 38.6L366.3 33.9L363.3 28.3L365.2 28.5L367.4 32.0L369.0 34.5L371.2 37.0L373.3 40.7L373.3 42.6L375.5 44.7L379.2 46.3L383.0 47.9L385.7 47.4L387.6 49.4L390.0 50.4L392.7 51.3L394.3 53.1L394.6 55.0L395.9 55.6L398.1 57.2L400.8 58.1L401.3 56.5L402.7 57.2L403.1 58.3L403.7 56.7L401.8 55.6L399.7 56.5L398.1 55.6L397.0 54.0L397.0 50.0L397.3 48.8L395.4 47.7L392.2 47.8L391.8 44.5L392.7 40.7L389.6 41.3L389.5 43.2L388.4 44.4L385.7 44.8L383.5 43.8L382.1 40.7L381.9 36.4L382.2 33.2L385.2 30.8L388.9 31.1L390.9 31.3L391.6 29.8L394.3 29.6L396.5 30.1L397.5 31.4L398.0 33.2L398.8 35.1L399.7 36.1L400.7 35.4L400.1 32.0L399.4 29.5L399.7 27.7L401.8 25.8L404.0 24.4L405.6 23.7L405.1 21.4L405.6 19.6L407.2 17.1L409.4 16.5L411.5 15.7L411.0 14.0L413.7 12.3L415.8 11.5L417.5 10.9L415.8 12.8L418.5 12.0L421.2 11.1L422.3 10.3L420.7 9.0L417.5 9.0L416.9 6.8L417.7 6.5L415.3 5.3L422.3 4.9L425.5 3.4L426.6 1.6ZM423.1 8.3L426.6 5.9L429.3 6.2L430.2 8.4L429.3 9.5L427.1 9.0L423.1 8.3ZM354.1 7.4L351.8 6.7L349.6 5.2L348.5 4.1L351.2 4.1L354.1 7.4ZM395.4 40.3L398.6 38.7L400.8 38.8L404.0 40.7L407.0 42.3L403.5 42.7L402.4 40.7L399.2 40.1L395.4 40.3ZM406.8 42.8L409.4 42.7L412.6 43.8L413.3 44.4L410.5 45.3L406.8 44.5L406.8 42.8ZM402.6 44.5L404.8 44.8L404.2 45.2L402.6 44.8ZM414.5 44.4L416.3 44.5L416.2 45.0L414.5 45.0ZM403.7 56.7L403.1 58.3L403.5 59.9L403.5 62.4L402.1 65.5L400.8 67.4L400.2 69.3L400.8 70.5L399.5 73.0L399.7 74.9L401.3 76.7L402.9 79.8L404.8 84.2L406.2 86.7L409.9 89.1L411.2 90.4L411.3 96.0L410.9 100.9L409.9 104.7L409.8 108.4L409.4 112.1L407.8 114.0L407.5 117.1L407.2 119.6L406.7 123.3L405.6 127.0L405.8 130.7L407.2 133.2L409.4 134.5L413.1 133.2L413.1 132.0L412.6 130.1L413.9 127.0L416.1 126.4L414.2 124.5L414.8 123.3L416.9 121.4L417.8 120.3L416.9 118.3L419.8 117.7L420.1 115.8L425.0 114.6L425.9 112.7L425.0 111.5L423.9 109.9L426.6 110.7L428.8 110.6L430.4 108.4L432.5 105.3L434.6 102.2L434.7 99.1L436.8 97.2L439.5 96.0L441.7 95.8L442.8 94.1L444.2 91.6L444.9 87.3L445.1 83.5L446.5 81.7L448.7 79.2L449.4 76.7L449.0 74.2L447.1 73.4L444.9 71.7L442.2 71.0L439.5 70.5L437.4 68.9L434.7 69.0L433.1 67.4L432.5 65.2L431.5 62.2L429.3 60.4L425.5 59.9L422.8 57.5L421.2 55.8L419.6 54.2L417.5 54.7L415.3 54.2L413.4 54.4L411.5 52.4L409.9 53.7L409.4 52.0L407.8 53.4L405.6 54.4L404.5 56.2L403.7 56.7ZM480.5 22.9L484.7 23.8L488.0 22.1L492.3 21.7L497.5 21.1L498.7 21.4L498.2 22.7L498.7 23.9L497.7 24.9L498.7 26.0L500.9 26.7L503.4 27.3L505.2 28.9L507.4 29.8L508.4 28.9L508.4 27.4L510.6 26.5L513.8 27.9L516.5 28.5L518.7 28.9L520.3 28.2L521.7 28.5L523.7 28.5L524.5 30.8L523.8 32.6L523.2 32.9L522.0 30.3L522.0 30.8L523.0 33.0L524.0 35.1L525.2 38.2L527.1 41.3L528.2 45.0L529.4 48.0L531.6 50.3L533.5 51.9L533.4 53.0L534.8 54.5L537.0 54.0L539.7 53.4L542.0 52.7L541.8 54.5L541.3 57.5L539.7 60.6L538.0 63.1L535.9 64.9L533.2 68.0L531.6 69.9L530.0 71.7L529.2 73.6L529.4 76.1L529.2 78.0L530.5 80.4L530.5 84.8L530.8 86.0L528.9 88.5L526.7 89.8L525.1 93.5L525.1 96.6L522.2 99.4L521.9 102.8L520.3 104.7L517.6 107.8L514.4 109.6L510.6 109.9L508.4 110.6L506.7 109.9L506.3 107.8L504.7 102.9L503.3 100.3L502.5 95.7L500.4 91.0L499.6 88.3L500.0 84.8L501.5 82.3L501.2 78.6L500.1 74.9L499.8 73.6L497.1 70.5L496.9 67.4L497.2 64.3L497.5 62.6L496.3 61.8L494.4 61.9L493.1 62.1L492.3 60.6L491.2 59.5L489.1 59.6L488.0 59.9L484.7 61.4L482.6 60.9L478.8 61.9L476.7 60.6L474.5 58.8L472.6 56.8L472.4 55.6L470.8 54.0L468.9 52.0L468.8 50.6L468.1 49.1L469.1 47.5L469.4 43.8L468.6 41.3L469.7 38.2L471.3 35.1L472.9 32.9L475.1 32.0L476.3 30.8L476.6 29.5L476.9 27.0L477.7 26.0L479.6 25.2L480.5 22.9ZM540.0 82.3L540.9 86.0L540.3 88.5L539.1 92.9L537.5 98.5L535.4 99.1L534.0 96.0L533.7 94.1L534.7 91.6L534.3 88.5L536.4 87.0L538.0 85.4L540.0 82.3ZM486.9 1.6L488.5 5.1L487.1 5.7L485.6 6.0L485.1 5.7L484.9 6.9L481.8 7.3L482.3 8.0L484.7 8.9L485.6 10.3L485.3 12.8L485.0 13.5L481.5 13.4L478.3 13.1L476.9 14.0L477.4 15.2L477.3 17.7L476.7 19.2L477.4 20.2L477.3 21.4L478.8 21.2L480.2 22.1L480.9 22.7L482.1 21.8L484.6 21.7L486.4 19.8L487.1 19.0L486.6 18.3L487.9 16.5L490.3 15.2L490.2 13.9L491.7 13.5L493.9 13.9L495.0 13.0L496.4 12.3L497.9 12.9L498.2 14.1L500.0 15.6L501.7 16.2L503.7 17.7L503.8 20.0L504.2 20.2L504.8 19.0L505.4 18.5L504.7 17.5L506.8 17.6L505.3 16.5L504.1 15.4L502.0 14.5L500.3 12.4L500.1 11.0L501.5 10.6L502.0 11.6L503.1 12.1L504.1 13.4L506.8 14.7L507.9 15.6L507.8 17.3L509.0 18.3L509.7 19.8L510.2 21.7L511.0 22.1L511.7 20.8L512.7 20.2L511.7 19.2L511.4 17.3L512.7 16.7L514.9 16.7L515.2 17.5L515.1 18.5L516.2 19.6L516.3 21.4L517.6 21.8L519.7 22.2L521.9 22.6L524.2 21.7L525.9 21.9L525.4 23.3L525.6 24.6L524.7 26.4L524.0 28.3L523.7 28.5L524.5 30.8L525.1 32.6L526.2 35.1L527.3 37.6L528.9 40.1L529.4 42.6L531.0 45.7L532.8 48.1L533.5 51.6L535.4 51.5L538.6 50.0L541.8 48.5L543.4 46.9L546.1 45.7L548.1 44.4L549.9 41.9L551.3 39.5L550.1 38.1L548.3 37.6L547.5 34.7L546.7 35.7L545.0 37.5L542.9 37.6L542.3 35.7L541.8 35.1L540.7 34.5L539.1 32.0L538.6 30.1L540.7 30.1L541.8 32.0L544.0 33.9L547.2 33.9L548.8 35.5L553.1 36.1L558.5 36.0L559.6 37.6L561.2 39.5L562.3 39.1L565.1 40.7L565.3 43.8L566.0 47.5L567.1 50.6L568.2 53.7L569.3 56.8L570.3 57.5L571.1 56.2L572.5 54.6L573.0 51.9L573.4 48.1L575.5 46.7L577.9 43.8L580.0 42.2L580.6 40.7L582.2 40.3L583.8 40.1L585.4 39.5L586.0 41.3L586.5 42.6L588.1 44.4L588.6 47.5L589.7 47.8L591.9 46.9L592.2 49.4L593.0 52.5L593.0 55.6L592.7 57.5L594.0 59.3L594.9 61.2L595.6 63.7L597.3 64.9L598.3 65.8L599.1 65.5L598.2 62.7L598.2 60.6L596.7 59.7L595.1 58.1L594.6 56.2L593.7 54.4L594.6 51.0L595.4 51.6L597.3 52.5L598.1 54.4L599.7 56.6L601.6 55.4L604.0 53.4L604.5 51.3L603.9 48.1L601.8 45.7L600.7 43.8L601.7 41.9L603.2 40.7L605.0 40.7L605.9 42.2L606.4 40.7L609.1 39.8L611.8 39.1L613.9 37.0L615.6 35.5L616.1 33.9L617.7 32.0L618.3 30.1L617.2 29.1L618.0 28.3L616.6 26.4L615.6 23.9L616.6 22.7L618.8 21.4L617.2 20.6L615.0 21.2L613.9 19.6L613.6 19.0L615.0 18.6L617.2 16.7L618.6 17.1L617.4 19.0L620.4 17.8L621.5 18.3L621.8 20.6L623.1 20.9L622.9 23.9L624.2 24.4L626.1 23.7L626.3 21.7L625.3 19.5L624.2 18.0L626.5 16.6L626.7 14.7L627.9 14.2L630.1 14.2L632.8 12.9L634.9 10.9L637.1 7.8L638.2 5.3L638.7 1.6L551.5 1.6L486.9 1.6ZM626.5 25.8L627.4 25.2L628.5 25.8L629.0 27.0L628.3 28.6L627.2 28.9L626.7 27.0L626.5 25.8ZM629.3 26.2L630.6 25.0L631.9 25.2L631.5 26.0L630.1 26.7L629.3 26.2ZM627.9 24.8L629.6 23.4L631.2 23.2L633.3 23.1L634.2 21.2L634.9 20.9L636.0 20.5L637.2 19.0L637.6 17.1L638.0 16.1L639.2 16.0L639.7 17.7L639.2 19.6L638.7 20.8L638.5 22.7L637.6 23.8L636.6 24.3L635.5 24.4L634.4 24.4L633.3 25.8L632.2 25.4L632.5 24.4L630.1 24.6L627.9 24.8ZM637.6 15.9L637.6 14.0L639.2 11.0L640.9 12.4L643.6 13.6L641.9 14.1L641.1 15.2L638.7 15.5L637.6 15.9ZM639.8 10.3L641.4 9.3L640.9 6.5L642.5 6.5L640.9 1.6L639.8 1.6L639.8 10.3ZM616.2 38.8L617.2 36.1L618.3 36.4L617.7 38.8L617.0 40.2L616.2 38.8ZM603.8 43.6L605.9 42.4L606.4 43.1L605.3 44.7L603.9 44.4L603.8 43.6ZM616.1 44.4L618.6 44.4L618.3 47.3L617.7 49.6L620.4 51.3L619.7 51.9L617.7 50.6L616.6 49.4L615.9 47.2L616.1 44.4ZM618.3 58.7L619.9 57.5L620.9 56.7L622.0 55.6L623.1 57.5L622.6 59.6L621.8 60.4L620.4 59.3L618.3 58.7ZM620.9 51.9L622.2 52.5L621.7 55.0L620.9 54.4L620.9 51.9ZM618.3 52.7L619.3 53.1L619.9 55.0L618.8 55.6L618.3 54.4L618.3 52.7ZM616.5 50.6L617.7 50.9L617.4 52.2L616.5 50.6ZM613.1 57.0L615.6 54.0L615.8 54.5L613.4 57.2L613.1 57.0ZM604.3 65.2L605.3 65.3L606.9 64.3L608.6 63.4L609.6 61.7L611.3 60.9L612.3 59.3L613.2 59.0L614.5 60.6L615.0 61.2L613.9 62.1L613.5 63.4L613.9 66.2L613.4 67.4L612.3 69.3L611.8 71.7L610.2 72.0L608.6 71.4L606.9 71.1L605.7 70.9L605.3 69.3L604.5 67.4L604.3 65.2ZM589.5 60.4L591.9 60.9L593.2 62.8L595.1 64.9L596.7 66.8L598.3 68.4L599.4 69.9L601.0 71.1L600.8 74.6L599.4 74.4L597.0 72.4L595.6 70.5L594.6 68.6L593.5 66.8L592.4 64.7L590.8 62.8L589.5 60.4ZM600.2 75.8L601.0 74.9L603.5 75.2L605.9 75.5L608.0 76.0L610.2 77.0L610.1 78.2L607.5 77.7L605.3 77.5L603.2 77.1L601.6 76.6L600.2 75.8ZM610.7 77.6L611.8 77.7L615.0 77.6L617.2 77.8L619.3 77.6L619.3 78.2L616.1 78.5L612.9 78.6L610.7 78.3L610.7 77.6ZM619.9 80.2L623.6 77.8L624.0 78.0L620.7 79.8L619.9 80.2ZM615.6 74.2L616.6 74.2L616.4 70.9L617.2 70.6L618.3 73.4L619.1 73.0L617.7 69.6L619.3 68.5L617.2 68.6L616.3 66.7L617.2 65.9L620.9 66.8L621.5 65.5L620.9 66.2L617.2 66.4L616.1 66.8L615.6 68.6L614.8 70.9L615.6 74.2ZM624.2 65.5L624.7 64.7L625.3 65.5L624.7 66.8L625.6 67.2L624.7 68.4L624.2 67.4L624.2 65.5ZM624.7 71.4L627.7 71.5L627.4 72.1L624.9 71.9L624.7 71.4ZM627.9 68.6L629.6 68.0L631.2 68.4L631.5 70.9L632.2 71.5L634.9 69.3L637.6 70.3L640.3 71.4L642.5 72.4L644.1 74.2L645.7 74.9L646.0 75.8L645.2 77.1L646.2 78.0L647.9 79.3L649.3 80.1L647.9 80.3L645.7 79.9L644.1 77.6L641.9 77.0L641.4 78.6L640.3 79.0L638.7 78.7L636.6 77.3L635.5 77.8L635.2 76.8L636.0 75.8L635.5 74.0L633.3 73.0L631.2 72.1L629.9 72.4L629.0 70.9L630.1 70.3L629.0 70.0L627.9 69.1L627.9 68.6ZM646.8 74.2L648.4 73.7L650.0 72.6L650.9 72.7L650.0 73.6L648.9 75.1L646.8 74.6L646.8 74.2ZM649.3 70.8L651.1 72.2L651.7 73.2L651.4 73.4L649.3 70.8ZM655.4 75.8L656.5 76.7L655.9 77.2L655.4 75.8ZM657.2 76.7L659.0 78.0L658.6 78.2L657.2 76.7ZM663.5 92.5L666.7 95.1L666.2 95.2L663.5 92.9L663.5 92.5ZM677.8 89.1L679.1 89.3L678.8 90.0L677.8 89.6L677.8 89.1ZM666.7 86.0L667.0 86.7L667.6 87.9L666.9 87.3L666.7 86.0ZM609.1 94.7L609.9 94.5L612.5 93.0L615.0 92.2L617.2 91.6L618.5 89.1L619.9 87.9L621.5 85.5L623.6 84.5L625.8 85.9L626.5 84.2L627.4 82.8L629.6 81.8L631.2 82.3L633.3 82.3L634.1 82.6L633.3 83.9L632.8 85.8L634.4 87.0L636.9 89.0L638.5 89.0L639.4 86.0L639.2 83.5L640.0 80.7L640.9 82.1L641.4 84.8L643.3 86.0L644.1 90.4L645.7 91.6L647.5 93.7L649.3 95.5L651.5 98.8L652.2 102.2L651.6 105.9L650.6 108.1L649.5 109.6L648.4 113.9L646.2 114.3L644.4 115.8L642.5 114.8L641.4 115.6L639.2 115.1L637.6 114.0L637.2 112.1L635.6 109.9L634.9 111.5L634.2 111.2L635.2 108.4L633.2 110.6L632.5 110.2L631.4 108.1L628.5 106.5L624.7 107.4L620.9 108.4L619.9 109.5L616.1 109.5L613.4 111.0L610.7 110.0L611.3 109.0L611.5 107.1L610.7 104.7L610.2 102.2L609.0 99.7L609.4 98.5L609.1 94.7ZM642.7 117.9L644.6 118.4L646.6 118.2L646.5 119.8L645.2 121.4L643.6 120.3L642.7 117.9ZM672.8 110.1L674.8 111.9L676.2 113.4L678.5 114.2L679.1 115.2L677.5 116.1L677.1 117.5L675.6 119.1L674.9 118.6L675.0 116.8L674.0 116.1L674.9 114.8L674.8 113.1L672.8 110.1ZM672.8 117.7L674.6 118.3L674.2 119.6L673.2 120.8L672.8 121.8L671.2 122.7L670.7 124.4L669.2 125.3L666.2 124.5L666.5 123.7L668.1 122.0L670.5 120.8L671.7 119.2L672.8 117.7ZM572.8 55.2L574.1 56.8L575.0 58.5L574.3 59.7L573.1 59.9L572.7 57.5L572.8 55.2ZM319.0 42.7L320.0 42.9L319.4 43.9L319.0 42.7ZM496.1 16.5L497.1 16.4L497.3 18.3L496.6 19.0L495.9 18.6L496.1 16.5ZM496.3 14.1L497.1 14.2L497.0 16.0L496.3 15.6L496.3 14.1ZM500.3 20.1L503.7 20.0L503.2 21.8L500.4 20.7L500.3 20.1ZM512.2 23.3L515.2 23.6L513.3 24.1L512.2 23.3ZM521.7 23.8L524.2 23.1L523.4 24.3L521.7 23.8ZM468.6 32.3L472.4 31.1L472.0 32.6L468.6 32.3ZM468.8 26.7L469.0 26.9L468.4 26.8ZM517.0 16.1L518.1 16.4L520.8 16.2L523.0 15.2L524.6 15.2L526.2 16.1L528.4 16.6L530.5 16.5L531.7 15.7L531.6 14.6L530.0 13.5L528.4 12.4L526.7 11.5L525.1 11.3L523.0 12.1L521.9 11.1L523.0 10.3L520.8 9.5L519.7 10.3L518.9 11.3L517.7 12.8L516.9 14.2L517.0 16.1ZM524.6 11.1L526.3 11.1L528.1 9.3L527.1 8.9L524.8 9.9L524.6 11.1ZM539.7 9.5L542.3 9.0L544.2 9.3L544.0 11.1L542.1 12.1L541.1 12.1L542.0 13.7L543.6 15.5L543.9 17.5L544.8 17.7L544.9 19.1L544.9 21.1L542.3 21.7L540.7 21.1L539.7 20.7L539.4 19.2L540.2 17.3L539.1 15.5L538.0 14.0L537.9 12.1L537.2 12.0L538.0 10.8L539.7 9.5ZM387.8 9.4L390.0 9.5L393.2 9.6L395.9 9.6L395.4 8.0L393.8 6.9L391.1 7.3L387.8 9.4ZM392.4 15.2L392.7 13.4L392.4 11.8L395.4 10.3L395.0 11.5L394.1 12.8L393.8 15.0L392.4 15.2ZM395.8 10.3L396.5 10.6L397.0 11.3L397.1 12.8L398.2 14.0L398.9 12.1L399.7 11.1L400.1 10.4L398.6 10.1L395.8 10.3ZM397.1 15.6L398.1 16.0L400.8 15.0L402.0 14.1L399.7 14.4L398.1 15.1L397.1 15.6ZM401.0 13.6L402.9 13.5L404.8 13.2L404.5 12.5L402.9 12.9L401.3 13.1L401.0 13.6Z" fill="none" stroke="#3a3a3a" stroke-width="1.3"/>
<path d="M351.2 1.6L351.8 4.7L352.6 7.3L353.4 10.3L352.9 14.0L353.2 17.2L355.0 20.5L355.7 22.1L357.1 24.6L360.7 26.8L362.0 29.5L363.9 32.6L366.3 36.4L368.5 38.8L369.0 38.6L366.3 33.9L363.3 28.3L365.2 28.5L367.4 32.0L369.0 34.5L371.2 37.0L373.3 40.7L373.3 42.6L375.5 44.7L379.2 46.3L383.0 47.9L385.7 47.4L387.6 49.4L390.0 50.4L392.7 51.3L394.3 53.1L394.6 55.0L395.9 55.6L398.1 57.2L400.8 58.1L401.3 56.5L402.7 57.2L403.1 58.3L403.7 56.7L401.8 55.6L399.7 56.5L398.1 55.6L397.0 54.0L397.0 50.0L397.3 48.8L395.4 47.7L392.2 47.8L391.8 44.5L392.7 40.7L389.6 41.3L389.5 43.2L388.4 44.4L385.7 44.8L383.5 43.8L382.1 40.7L381.9 36.4L382.2 33.2L385.2 30.8L388.9 31.1L390.9 31.3L391.6 29.8L394.3 29.6L396.5 30.1L397.5 31.4L398.0 33.2L398.8 35.1L399.7 36.1L400.7 35.4L400.1 32.0L399.4 29.5L399.7 27.7L401.8 25.8L404.0 24.4L405.6 23.7L405.1 21.4L405.6 19.6L407.2 17.1L409.4 16.5L411.5 15.7L411.0 14.0L413.7 12.3L415.8 11.5L417.5 10.9L415.8 12.8L418.5 12.0L421.2 11.1L422.3 10.3L420.7 9.0L417.5 9.0L416.9 6.8L417.7 6.5L415.3 5.3L422.3 4.9L425.5 3.4L426.6 1.6ZM423.1 8.3L426.6 5.9L429.3 6.2L430.2 8.4L429.3 9.5L427.1 9.0L423.1 8.3ZM354.1 7.4L351.8 6.7L349.6 5.2L348.5 4.1L351.2 4.1L354.1 7.4ZM395.4 40.3L398.6 38.7L400.8 38.8L404.0 40.7L407.0 42.3L403.5 42.7L402.4 40.7L399.2 40.1L395.4 40.3ZM406.8 42.8L409.4 42.7L412.6 43.8L413.3 44.4L410.5 45.3L406.8 44.5L406.8 42.8ZM402.6 44.5L404.8 44.8L404.2 45.2L402.6 44.8ZM414.5 44.4L416.3 44.5L416.2 45.0L414.5 45.0ZM403.7 56.7L403.1 58.3L403.5 59.9L403.5 62.4L402.1 65.5L400.8 67.4L400.2 69.3L400.8 70.5L399.5 73.0L399.7 74.9L401.3 76.7L402.9 79.8L404.8 84.2L406.2 86.7L409.9 89.1L411.2 90.4L411.3 96.0L410.9 100.9L409.9 104.7L409.8 108.4L409.4 112.1L407.8 114.0L407.5 117.1L407.2 119.6L406.7 123.3L405.6 127.0L405.8 130.7L407.2 133.2L409.4 134.5L413.1 133.2L413.1 132.0L412.6 130.1L413.9 127.0L416.1 126.4L414.2 124.5L414.8 123.3L416.9 121.4L417.8 120.3L416.9 118.3L419.8 117.7L420.1 115.8L425.0 114.6L425.9 112.7L425.0 111.5L423.9 109.9L426.6 110.7L428.8 110.6L430.4 108.4L432.5 105.3L434.6 102.2L434.7 99.1L436.8 97.2L439.5 96.0L441.7 95.8L442.8 94.1L444.2 91.6L444.9 87.3L445.1 83.5L446.5 81.7L448.7 79.2L449.4 76.7L449.0 74.2L447.1 73.4L444.9 71.7L442.2 71.0L439.5 70.5L437.4 68.9L434.7 69.0L433.1 67.4L432.5 65.2L431.5 62.2L429.3 60.4L425.5 59.9L422.8 57.5L421.2 55.8L419.6 54.2L417.5 54.7L415.3 54.2L413.4 54.4L411.5 52.4L409.9 53.7L409.4 52.0L407.8 53.4L405.6 54.4L404.5 56.2L403.7 56.7ZM480.5 22.9L484.7 23.8L488.0 22.1L492.3 21.7L497.5 21.1L498.7 21.4L498.2 22.7L498.7 23.9L497.7 24.9L498.7 26.0L500.9 26.7L503.4 27.3L505.2 28.9L507.4 29.8L508.4 28.9L508.4 27.4L510.6 26.5L513.8 27.9L516.5 28.5L518.7 28.9L520.3 28.2L521.7 28.5L523.7 28.5L524.5 30.8L523.8 32.6L523.2 32.9L522.0 30.3L522.0 30.8L523.0 33.0L524.0 35.1L525.2 38.2L527.1 41.3L528.2 45.0L529.4 48.0L531.6 50.3L533.5 51.9L533.4 53.0L534.8 54.5L537.0 54.0L539.7 53.4L542.0 52.7L541.8 54.5L541.3 57.5L539.7 60.6L538.0 63.1L535.9 64.9L533.2 68.0L531.6 69.9L530.0 71.7L529.2 73.6L529.4 76.1L529.2 78.0L530.5 80.4L530.5 84.8L530.8 86.0L528.9 88.5L526.7 89.8L525.1 93.5L525.1 96.6L522.2 99.4L521.9 102.8L520.3 104.7L517.6 107.8L514.4 109.6L510.6 109.9L508.4 110.6L506.7 109.9L506.3 107.8L504.7 102.9L503.3 100.3L502.5 95.7L500.4 91.0L499.6 88.3L500.0 84.8L501.5 82.3L501.2 78.6L500.1 74.9L499.8 73.6L497.1 70.5L496.9 67.4L497.2 64.3L497.5 62.6L496.3 61.8L494.4 61.9L493.1 62.1L492.3 60.6L491.2 59.5L489.1 59.6L488.0 59.9L484.7 61.4L482.6 60.9L478.8 61.9L476.7 60.6L474.5 58.8L472.6 56.8L472.4 55.6L470.8 54.0L468.9 52.0L468.8 50.6L468.1 49.1L469.1 47.5L469.4 43.8L468.6 41.3L469.7 38.2L471.3 35.1L472.9 32.9L475.1 32.0L476.3 30.8L476.6 29.5L476.9 27.0L477.7 26.0L479.6 25.2L480.5 22.9ZM540.0 82.3L540.9 86.0L540.3 88.5L539.1 92.9L537.5 98.5L535.4 99.1L534.0 96.0L533.7 94.1L534.7 91.6L534.3 88.5L536.4 87.0L538.0 85.4L540.0 82.3ZM486.9 1.6L488.5 5.1L487.1 5.7L485.6 6.0L485.1 5.7L484.9 6.9L481.8 7.3L482.3 8.0L484.7 8.9L485.6 10.3L485.3 12.8L485.0 13.5L481.5 13.4L478.3 13.1L476.9 14.0L477.4 15.2L477.3 17.7L476.7 19.2L477.4 20.2L477.3 21.4L478.8 21.2L480.2 22.1L480.9 22.7L482.1 21.8L484.6 21.7L486.4 19.8L487.1 19.0L486.6 18.3L487.9 16.5L490.3 15.2L490.2 13.9L491.7 13.5L493.9 13.9L495.0 13.0L496.4 12.3L497.9 12.9L498.2 14.1L500.0 15.6L501.7 16.2L503.7 17.7L503.8 20.0L504.2 20.2L504.8 19.0L505.4 18.5L504.7 17.5L506.8 17.6L505.3 16.5L504.1 15.4L502.0 14.5L500.3 12.4L500.1 11.0L501.5 10.6L502.0 11.6L503.1 12.1L504.1 13.4L506.8 14.7L507.9 15.6L507.8 17.3L509.0 18.3L509.7 19.8L510.2 21.7L511.0 22.1L511.7 20.8L512.7 20.2L511.7 19.2L511.4 17.3L512.7 16.7L514.9 16.7L515.2 17.5L515.1 18.5L516.2 19.6L516.3 21.4L517.6 21.8L519.7 22.2L521.9 22.6L524.2 21.7L525.9 21.9L525.4 23.3L525.6 24.6L524.7 26.4L524.0 28.3L523.7 28.5L524.5 30.8L525.1 32.6L526.2 35.1L527.3 37.6L528.9 40.1L529.4 42.6L531.0 45.7L532.8 48.1L533.5 51.6L535.4 51.5L538.6 50.0L541.8 48.5L543.4 46.9L546.1 45.7L548.1 44.4L549.9 41.9L551.3 39.5L550.1 38.1L548.3 37.6L547.5 34.7L546.7 35.7L545.0 37.5L542.9 37.6L542.3 35.7L541.8 35.1L540.7 34.5L539.1 32.0L538.6 30.1L540.7 30.1L541.8 32.0L544.0 33.9L547.2 33.9L548.8 35.5L553.1 36.1L558.5 36.0L559.6 37.6L561.2 39.5L562.3 39.1L565.1 40.7L565.3 43.8L566.0 47.5L567.1 50.6L568.2 53.7L569.3 56.8L570.3 57.5L571.1 56.2L572.5 54.6L573.0 51.9L573.4 48.1L575.5 46.7L577.9 43.8L580.0 42.2L580.6 40.7L582.2 40.3L583.8 40.1L585.4 39.5L586.0 41.3L586.5 42.6L588.1 44.4L588.6 47.5L589.7 47.8L591.9 46.9L592.2 49.4L593.0 52.5L593.0 55.6L592.7 57.5L594.0 59.3L594.9 61.2L595.6 63.7L597.3 64.9L598.3 65.8L599.1 65.5L598.2 62.7L598.2 60.6L596.7 59.7L595.1 58.1L594.6 56.2L593.7 54.4L594.6 51.0L595.4 51.6L597.3 52.5L598.1 54.4L599.7 56.6L601.6 55.4L604.0 53.4L604.5 51.3L603.9 48.1L601.8 45.7L600.7 43.8L601.7 41.9L603.2 40.7L605.0 40.7L605.9 42.2L606.4 40.7L609.1 39.8L611.8 39.1L613.9 37.0L615.6 35.5L616.1 33.9L617.7 32.0L618.3 30.1L617.2 29.1L618.0 28.3L616.6 26.4L615.6 23.9L616.6 22.7L618.8 21.4L617.2 20.6L615.0 21.2L613.9 19.6L613.6 19.0L615.0 18.6L617.2 16.7L618.6 17.1L617.4 19.0L620.4 17.8L621.5 18.3L621.8 20.6L623.1 20.9L622.9 23.9L624.2 24.4L626.1 23.7L626.3 21.7L625.3 19.5L624.2 18.0L626.5 16.6L626.7 14.7L627.9 14.2L630.1 14.2L632.8 12.9L634.9 10.9L637.1 7.8L638.2 5.3L638.7 1.6L551.5 1.6L486.9 1.6ZM626.5 25.8L627.4 25.2L628.5 25.8L629.0 27.0L628.3 28.6L627.2 28.9L626.7 27.0L626.5 25.8ZM629.3 26.2L630.6 25.0L631.9 25.2L631.5 26.0L630.1 26.7L629.3 26.2ZM627.9 24.8L629.6 23.4L631.2 23.2L633.3 23.1L634.2 21.2L634.9 20.9L636.0 20.5L637.2 19.0L637.6 17.1L638.0 16.1L639.2 16.0L639.7 17.7L639.2 19.6L638.7 20.8L638.5 22.7L637.6 23.8L636.6 24.3L635.5 24.4L634.4 24.4L633.3 25.8L632.2 25.4L632.5 24.4L630.1 24.6L627.9 24.8ZM637.6 15.9L637.6 14.0L639.2 11.0L640.9 12.4L643.6 13.6L641.9 14.1L641.1 15.2L638.7 15.5L637.6 15.9ZM639.8 10.3L641.4 9.3L640.9 6.5L642.5 6.5L640.9 1.6L639.8 1.6L639.8 10.3ZM616.2 38.8L617.2 36.1L618.3 36.4L617.7 38.8L617.0 40.2L616.2 38.8ZM603.8 43.6L605.9 42.4L606.4 43.1L605.3 44.7L603.9 44.4L603.8 43.6ZM616.1 44.4L618.6 44.4L618.3 47.3L617.7 49.6L620.4 51.3L619.7 51.9L617.7 50.6L616.6 49.4L615.9 47.2L616.1 44.4ZM618.3 58.7L619.9 57.5L620.9 56.7L622.0 55.6L623.1 57.5L622.6 59.6L621.8 60.4L620.4 59.3L618.3 58.7ZM620.9 51.9L622.2 52.5L621.7 55.0L620.9 54.4L620.9 51.9ZM618.3 52.7L619.3 53.1L619.9 55.0L618.8 55.6L618.3 54.4L618.3 52.7ZM616.5 50.6L617.7 50.9L617.4 52.2L616.5 50.6ZM613.1 57.0L615.6 54.0L615.8 54.5L613.4 57.2L613.1 57.0ZM604.3 65.2L605.3 65.3L606.9 64.3L608.6 63.4L609.6 61.7L611.3 60.9L612.3 59.3L613.2 59.0L614.5 60.6L615.0 61.2L613.9 62.1L613.5 63.4L613.9 66.2L613.4 67.4L612.3 69.3L611.8 71.7L610.2 72.0L608.6 71.4L606.9 71.1L605.7 70.9L605.3 69.3L604.5 67.4L604.3 65.2ZM589.5 60.4L591.9 60.9L593.2 62.8L595.1 64.9L596.7 66.8L598.3 68.4L599.4 69.9L601.0 71.1L600.8 74.6L599.4 74.4L597.0 72.4L595.6 70.5L594.6 68.6L593.5 66.8L592.4 64.7L590.8 62.8L589.5 60.4ZM600.2 75.8L601.0 74.9L603.5 75.2L605.9 75.5L608.0 76.0L610.2 77.0L610.1 78.2L607.5 77.7L605.3 77.5L603.2 77.1L601.6 76.6L600.2 75.8ZM610.7 77.6L611.8 77.7L615.0 77.6L617.2 77.8L619.3 77.6L619.3 78.2L616.1 78.5L612.9 78.6L610.7 78.3L610.7 77.6ZM619.9 80.2L623.6 77.8L624.0 78.0L620.7 79.8L619.9 80.2ZM615.6 74.2L616.6 74.2L616.4 70.9L617.2 70.6L618.3 73.4L619.1 73.0L617.7 69.6L619.3 68.5L617.2 68.6L616.3 66.7L617.2 65.9L620.9 66.8L621.5 65.5L620.9 66.2L617.2 66.4L616.1 66.8L615.6 68.6L614.8 70.9L615.6 74.2ZM624.2 65.5L624.7 64.7L625.3 65.5L624.7 66.8L625.6 67.2L624.7 68.4L624.2 67.4L624.2 65.5ZM624.7 71.4L627.7 71.5L627.4 72.1L624.9 71.9L624.7 71.4ZM627.9 68.6L629.6 68.0L631.2 68.4L631.5 70.9L632.2 71.5L634.9 69.3L637.6 70.3L640.3 71.4L642.5 72.4L644.1 74.2L645.7 74.9L646.0 75.8L645.2 77.1L646.2 78.0L647.9 79.3L649.3 80.1L647.9 80.3L645.7 79.9L644.1 77.6L641.9 77.0L641.4 78.6L640.3 79.0L638.7 78.7L636.6 77.3L635.5 77.8L635.2 76.8L636.0 75.8L635.5 74.0L633.3 73.0L631.2 72.1L629.9 72.4L629.0 70.9L630.1 70.3L629.0 70.0L627.9 69.1L627.9 68.6ZM646.8 74.2L648.4 73.7L650.0 72.6L650.9 72.7L650.0 73.6L648.9 75.1L646.8 74.6L646.8 74.2ZM649.3 70.8L651.1 72.2L651.7 73.2L651.4 73.4L649.3 70.8ZM655.4 75.8L656.5 76.7L655.9 77.2L655.4 75.8ZM657.2 76.7L659.0 78.0L658.6 78.2L657.2 76.7ZM663.5 92.5L666.7 95.1L666.2 95.2L663.5 92.9L663.5 92.5ZM677.8 89.1L679.1 89.3L678.8 90.0L677.8 89.6L677.8 89.1ZM666.7 86.0L667.0 86.7L667.6 87.9L666.9 87.3L666.7 86.0ZM609.1 94.7L609.9 94.5L612.5 93.0L615.0 92.2L617.2 91.6L618.5 89.1L619.9 87.9L621.5 85.5L623.6 84.5L625.8 85.9L626.5 84.2L627.4 82.8L629.6 81.8L631.2 82.3L633.3 82.3L634.1 82.6L633.3 83.9L632.8 85.8L634.4 87.0L636.9 89.0L638.5 89.0L639.4 86.0L639.2 83.5L640.0 80.7L640.9 82.1L641.4 84.8L643.3 86.0L644.1 90.4L645.7 91.6L647.5 93.7L649.3 95.5L651.5 98.8L652.2 102.2L651.6 105.9L650.6 108.1L649.5 109.6L648.4 113.9L646.2 114.3L644.4 115.8L642.5 114.8L641.4 115.6L639.2 115.1L637.6 114.0L637.2 112.1L635.6 109.9L634.9 111.5L634.2 111.2L635.2 108.4L633.2 110.6L632.5 110.2L631.4 108.1L628.5 106.5L624.7 107.4L620.9 108.4L619.9 109.5L616.1 109.5L613.4 111.0L610.7 110.0L611.3 109.0L611.5 107.1L610.7 104.7L610.2 102.2L609.0 99.7L609.4 98.5L609.1 94.7ZM642.7 117.9L644.6 118.4L646.6 118.2L646.5 119.8L645.2 121.4L643.6 120.3L642.7 117.9ZM672.8 110.1L674.8 111.9L676.2 113.4L678.5 114.2L679.1 115.2L677.5 116.1L677.1 117.5L675.6 119.1L674.9 118.6L675.0 116.8L674.0 116.1L674.9 114.8L674.8 113.1L672.8 110.1ZM672.8 117.7L674.6 118.3L674.2 119.6L673.2 120.8L672.8 121.8L671.2 122.7L670.7 124.4L669.2 125.3L666.2 124.5L666.5 123.7L668.1 122.0L670.5 120.8L671.7 119.2L672.8 117.7ZM572.8 55.2L574.1 56.8L575.0 58.5L574.3 59.7L573.1 59.9L572.7 57.5L572.8 55.2ZM319.0 42.7L320.0 42.9L319.4 43.9L319.0 42.7ZM496.1 16.5L497.1 16.4L497.3 18.3L496.6 19.0L495.9 18.6L496.1 16.5ZM496.3 14.1L497.1 14.2L497.0 16.0L496.3 15.6L496.3 14.1ZM500.3 20.1L503.7 20.0L503.2 21.8L500.4 20.7L500.3 20.1ZM512.2 23.3L515.2 23.6L513.3 24.1L512.2 23.3ZM521.7 23.8L524.2 23.1L523.4 24.3L521.7 23.8ZM468.6 32.3L472.4 31.1L472.0 32.6L468.6 32.3ZM468.8 26.7L469.0 26.9L468.4 26.8ZM517.0 16.1L518.1 16.4L520.8 16.2L523.0 15.2L524.6 15.2L526.2 16.1L528.4 16.6L530.5 16.5L531.7 15.7L531.6 14.6L530.0 13.5L528.4 12.4L526.7 11.5L525.1 11.3L523.0 12.1L521.9 11.1L523.0 10.3L520.8 9.5L519.7 10.3L518.9 11.3L517.7 12.8L516.9 14.2L517.0 16.1ZM524.6 11.1L526.3 11.1L528.1 9.3L527.1 8.9L524.8 9.9L524.6 11.1ZM539.7 9.5L542.3 9.0L544.2 9.3L544.0 11.1L542.1 12.1L541.1 12.1L542.0 13.7L543.6 15.5L543.9 17.5L544.8 17.7L544.9 19.1L544.9 21.1L542.3 21.7L540.7 21.1L539.7 20.7L539.4 19.2L540.2 17.3L539.1 15.5L538.0 14.0L537.9 12.1L537.2 12.0L538.0 10.8L539.7 9.5ZM387.8 9.4L390.0 9.5L393.2 9.6L395.9 9.6L395.4 8.0L393.8 6.9L391.1 7.3L387.8 9.4ZM392.4 15.2L392.7 13.4L392.4 11.8L395.4 10.3L395.0 11.5L394.1 12.8L393.8 15.0L392.4 15.2ZM395.8 10.3L396.5 10.6L397.0 11.3L397.1 12.8L398.2 14.0L398.9 12.1L399.7 11.1L400.1 10.4L398.6 10.1L395.8 10.3ZM397.1 15.6L398.1 16.0L400.8 15.0L402.0 14.1L399.7 14.4L398.1 15.1L397.1 15.6ZM401.0 13.6L402.9 13.5L404.8 13.2L404.5 12.5L402.9 12.9L401.3 13.1L401.0 13.6Z" fill="#fff" fill-rule="evenodd"/>
<path d="M522.4 67.0L523.5 67.2L523.6 68.0L524.4 68.6L523.0 70.5L521.9 70.9L521.0 69.6L521.1 68.0L522.4 67.0ZM518.3 71.6L518.8 73.0L519.6 75.5L520.5 78.0L520.1 78.2L519.2 76.7L518.4 74.9L518.2 73.0L518.3 71.6ZM523.5 79.3L524.3 81.7L524.2 83.5L524.8 85.2L524.5 85.2L523.8 82.9L523.5 81.1L523.5 79.3ZM501.2 50.5L502.2 50.0L502.6 50.8L502.5 51.5L502.0 51.8L501.4 51.3L501.2 50.5Z" fill="none" stroke="#3a3a3a" stroke-width="0.6"/>
<line x1="293.1" y1="60.5" x2="680.7" y2="60.5" stroke="#1a1a1a" stroke-width="1.2" stroke-dasharray="3.6 4.1"/>
</g>
<rect x="293.1" y="5.3" width="387.6" height="124.2" fill="none" stroke="#555" stroke-width="1"/>
<g clip-path="url(#cR2)">
<g filter="url(#soft)">
<path fill="#fffa00" fill-rule="evenodd" d="M384.6 251.5L381.5 250.7L378.5 246.3L366.3 243.6L362.0 239.6L348.9 235.4L346.9 233.8L344.9 231.2L342.8 230.1L335.7 228.7L327.6 229.9L318.4 228.5L310.3 229.8L297.0 227.4L290.9 227.2L290.9 164.5L303.1 163.2L310.3 160.0L318.4 160.3L321.5 159.2L329.5 154.9L330.4 153.9L331.1 152.0L331.1 143.2L378.7 143.2L379.9 154.9L378.7 163.6L380.5 166.5L384.6 168.1L386.0 169.5L386.5 176.3L385.7 180.2L381.5 182.7L378.7 186.1L377.5 186.7L367.3 188.1L360.1 190.8L348.8 192.9L345.9 196.2L341.8 198.1L340.2 199.7L339.3 202.6L339.3 207.5L339.8 209.4L341.8 210.9L354.0 211.9L356.0 213.3L357.5 216.3L359.1 217.5L368.3 218.7L373.4 220.8L378.5 222.1L382.6 226.0L387.6 229.5L389.3 231.8L389.6 233.8L388.2 240.6L388.1 247.4L387.0 250.4L384.6 251.5ZM457.9 181.3L454.8 180.6L452.4 176.3L449.8 174.4L439.6 175.3L431.4 173.4L429.5 171.4L429.5 168.5L431.4 166.5L438.6 164.8L442.6 164.7L449.8 165.6L451.8 164.4L454.9 160.7L466.0 156.3L467.8 153.9L469.4 147.1L469.6 143.2L495.7 143.2L495.4 148.1L494.5 150.0L492.5 151.5L489.5 152.5L488.1 153.9L488.2 169.5L486.4 173.4L484.4 175.0L481.3 176.0L464.0 176.5L462.4 177.3L459.9 180.6L457.9 181.3ZM680.9 220.2L670.7 220.1L667.7 219.6L666.2 218.2L664.6 214.3L663.5 213.3L659.5 211.6L658.5 210.4L656.5 205.3L654.4 203.9L649.2 202.6L647.6 200.7L647.7 197.7L651.2 183.1L655.4 180.0L658.1 175.3L659.5 174.4L680.9 172.3L680.9 220.2ZM638.1 203.7L636.1 204.4L635.1 204.0L634.8 201.6L635.8 200.7L638.1 200.4L639.1 200.9L639.2 202.6L638.1 203.7ZM638.1 233.9L635.1 234.5L629.0 233.7L627.5 232.8L624.9 227.8L619.8 225.5L618.8 224.0L617.2 217.2L618.1 216.3L622.9 215.1L624.9 214.1L626.4 212.4L627.9 208.0L629.0 207.2L631.7 207.5L633.6 211.4L636.2 213.3L637.4 215.3L638.8 231.8L638.1 233.9ZM589.3 218.4L587.2 218.7L585.2 218.0L584.2 216.3L585.2 214.0L586.2 213.4L588.2 213.4L590.3 214.7L591.0 216.3L590.7 217.2L589.3 218.4ZM500.7 257.3L498.6 257.7L497.1 257.2L493.6 252.3L488.7 249.4L488.1 248.4L488.3 245.5L491.4 242.6L492.0 240.6L491.5 238.2L489.5 236.6L484.4 236.2L480.3 236.7L478.9 237.7L476.8 241.6L475.2 243.1L473.2 243.8L465.0 244.4L463.2 245.5L461.0 248.4L458.9 249.8L447.7 249.7L441.6 251.5L438.6 251.8L433.5 251.7L431.4 250.9L430.2 249.4L428.4 244.9L426.3 243.6L422.8 242.6L421.7 241.6L421.3 238.7L423.3 236.7L427.4 235.6L429.7 233.8L431.8 225.0L432.8 223.1L439.6 221.0L442.6 221.2L444.0 222.1L445.9 225.0L448.7 226.0L451.8 225.2L454.8 221.7L457.9 220.7L510.8 220.6L514.9 221.1L517.0 222.3L518.1 224.0L519.0 233.8L520.0 235.1L524.1 236.7L526.1 238.7L528.0 247.4L527.4 250.4L524.1 256.0L522.0 256.6L520.0 256.2L518.3 254.2L515.9 246.8L514.9 246.2L512.9 246.2L511.0 247.4L508.8 250.8L503.9 253.3L500.7 257.3ZM557.7 225.2L555.6 225.7L553.7 225.0L553.3 224.0L553.6 222.1L555.6 221.1L557.7 221.8L558.5 224.0L557.7 225.2ZM653.4 251.5L650.3 250.7L647.3 246.5L643.2 244.8L641.9 243.5L640.8 239.6L641.2 237.7L642.2 236.7L645.3 236.3L653.4 236.4L661.2 238.7L662.6 239.6L663.0 241.6L662.6 242.8L658.5 245.7L655.8 250.4L653.4 251.5ZM539.4 248.9L537.3 249.0L536.1 248.4L535.9 246.5L537.3 245.1L539.4 244.9L540.4 245.9L540.6 247.4L539.4 248.9ZM306.2 266.9L300.2 266.9L299.7 262.0L297.5 257.2L297.9 254.2L300.1 251.9L302.1 250.8L304.1 250.6L306.1 251.3L308.0 254.2L308.1 258.1L306.9 263.0L306.7 266.9L306.2 266.9ZM666.6 266.9L647.2 266.9L647.5 262.0L649.3 259.2L651.4 258.3L662.6 258.3L664.6 259.2L666.1 261.1L666.6 266.9ZM387.6 266.9L380.0 266.9L380.2 263.0L381.2 261.1L383.6 259.9L386.6 260.7L387.9 263.0L388.1 266.9L387.6 266.9Z"/>
<path fill="#f5aa00" fill-rule="evenodd" d="M328.6 226.3L325.5 226.7L318.4 226.2L310.3 226.8L290.9 225.5L290.9 167.6L295.0 167.3L310.3 163.3L319.4 162.9L325.5 158.8L336.0 154.9L337.1 153.9L337.6 152.0L337.6 143.2L376.9 143.2L377.5 152.9L377.1 155.9L376.4 157.2L373.0 159.7L370.7 164.6L369.3 165.6L366.2 166.6L364.2 168.5L363.8 171.4L363.7 183.1L362.8 186.1L361.2 187.3L354.0 189.9L341.8 190.0L340.4 190.9L337.5 195.8L332.3 198.7L329.6 203.9L326.5 205.0L318.4 205.3L316.4 206.2L315.4 207.5L314.9 215.3L316.0 219.2L318.4 220.4L328.6 221.2L329.9 222.1L330.6 224.0L330.3 225.0L328.6 226.3ZM482.3 173.6L457.9 173.7L454.8 172.1L453.9 169.5L455.1 167.5L459.8 164.6L463.0 161.0L469.1 157.8L470.6 155.9L472.3 152.0L476.2 149.4L477.2 148.1L477.8 143.2L492.4 143.2L492.2 146.1L491.5 147.7L486.5 150.0L484.9 152.0L484.5 154.9L485.7 160.7L485.8 169.5L484.5 172.4L482.3 173.6ZM442.6 171.7L440.6 171.9L439.0 171.4L438.1 170.5L438.1 169.5L439.0 168.5L440.6 168.0L443.2 168.5L444.1 169.5L444.1 170.5L442.6 171.7ZM680.9 219.1L670.7 219.0L667.9 218.2L665.2 213.3L659.5 209.8L657.4 204.6L655.4 202.8L652.4 201.5L651.4 200.7L651.2 199.7L654.8 194.8L656.9 186.1L658.7 183.1L661.5 181.6L670.7 179.6L674.8 176.3L678.9 175.5L680.9 175.4L680.9 219.1ZM378.5 241.7L376.4 242.2L374.4 242.0L369.3 238.8L357.1 236.4L350.0 233.1L345.9 228.5L340.9 226.0L340.0 225.0L339.3 222.1L339.8 216.2L340.8 215.2L342.8 214.6L351.0 214.6L353.0 215.4L355.3 218.2L357.1 219.3L369.3 221.0L377.3 224.0L380.5 228.0L385.1 230.9L386.0 232.8L385.5 234.8L381.7 237.7L378.5 241.7ZM523.1 250.6L522.0 250.7L521.0 250.0L519.5 245.5L518.0 243.6L513.9 242.6L504.7 244.5L503.3 245.5L500.4 250.4L498.6 251.1L496.6 250.6L495.3 249.4L494.5 247.4L495.5 240.6L492.7 232.8L492.8 230.9L493.6 228.9L496.6 227.2L502.7 226.9L509.8 227.3L514.4 228.9L515.8 230.9L516.6 234.8L517.9 236.7L523.1 239.2L524.1 240.6L524.7 247.4L524.3 249.4L523.1 250.6ZM457.9 243.6L449.8 243.9L447.7 243.5L446.3 242.6L445.3 240.6L443.8 234.8L443.8 231.8L444.7 229.9L446.7 228.8L457.9 227.0L466.0 228.6L468.4 229.9L469.3 231.8L468.5 234.8L463.2 237.7L459.9 242.4L457.9 243.6ZM435.5 248.7L433.5 248.9L432.4 248.4L430.2 243.5L428.4 242.1L424.7 240.6L424.4 239.6L425.8 238.7L432.4 236.7L435.5 237.3L436.8 239.6L437.0 243.5L436.6 247.4L435.5 248.7ZM652.4 243.7L645.3 242.1L644.2 241.5L644.0 239.6L645.9 238.7L649.3 238.5L652.8 238.7L655.4 239.6L655.9 240.6L655.4 242.2L654.4 243.1L652.4 243.7ZM303.1 258.5L302.1 258.4L301.0 257.2L301.0 255.2L302.1 254.2L303.3 254.2L304.3 255.2L304.4 257.2L303.1 258.5ZM662.6 266.9L650.5 266.9L651.0 263.0L651.7 262.0L653.4 261.4L658.5 261.2L661.5 261.7L662.6 262.4L663.3 264.0L663.5 266.9L662.6 266.9Z"/>
<path fill="#f06400" fill-rule="evenodd" d="M303.1 204.8L290.9 205.1L290.9 171.2L295.0 170.9L299.8 167.5L308.2 165.3L321.5 164.3L326.4 160.7L331.6 158.1L339.0 155.9L340.0 154.9L340.8 152.9L340.9 143.2L373.4 143.2L373.1 148.1L372.3 150.0L370.3 151.5L366.6 152.9L364.2 157.8L362.2 159.3L359.1 160.3L357.7 161.7L357.2 164.6L357.2 183.1L356.9 185.1L355.8 187.0L354.0 188.1L352.0 188.5L348.3 188.0L346.9 187.0L344.9 183.3L343.9 182.3L340.8 181.7L335.7 181.8L329.6 183.6L317.4 184.8L315.5 186.1L315.1 187.0L314.6 193.8L313.7 195.8L308.2 198.3L305.5 203.6L303.1 204.8ZM480.3 171.5L465.1 171.4L463.0 170.6L462.3 169.5L463.3 167.5L468.5 164.6L470.8 160.7L472.2 159.5L475.2 158.4L480.3 158.4L482.3 159.5L483.0 160.7L483.5 165.6L483.4 169.1L482.7 170.5L480.3 171.5ZM680.9 217.4L669.7 217.0L666.1 212.4L660.8 208.5L658.0 201.6L657.5 199.7L659.5 191.0L663.4 188.0L665.6 185.1L667.7 183.7L676.8 181.9L680.9 181.7L680.9 217.4ZM294.0 222.1L290.9 222.1L290.9 211.2L298.0 211.7L304.1 213.3L305.5 214.3L306.4 217.2L305.2 219.5L299.1 221.5L294.0 222.1ZM376.4 235.8L367.3 236.2L357.1 234.7L355.6 233.8L353.0 230.8L347.5 227.0L346.3 225.0L346.4 222.1L348.1 220.2L351.0 219.4L369.3 223.4L378.7 230.9L379.3 232.8L379.0 233.8L376.4 235.8ZM457.9 235.8L454.8 236.2L449.8 235.9L447.7 234.4L447.7 231.8L450.8 230.7L455.9 230.2L458.9 230.6L460.5 231.8L460.7 232.8L459.6 234.8L457.9 235.8ZM506.8 236.0L498.6 235.9L496.6 234.2L496.3 231.8L497.6 230.5L499.6 230.1L507.8 230.5L509.5 231.8L509.7 233.8L508.8 235.1L506.8 236.0Z"/>
<path fill="#eb2800" fill-rule="evenodd" d="M298.0 191.2L290.9 191.7L290.9 173.1L297.0 172.5L301.1 169.4L308.2 166.6L322.5 165.5L327.6 163.5L330.1 160.7L332.7 159.0L338.4 157.8L345.9 155.4L346.9 154.3L347.3 152.9L347.4 143.2L370.2 143.2L370.0 146.1L369.3 147.7L364.2 150.1L362.7 152.0L361.2 155.6L356.2 157.8L354.6 159.7L354.0 163.6L353.8 183.1L353.4 185.1L352.3 186.1L350.6 186.1L349.5 185.1L347.5 178.3L346.1 176.3L343.9 175.6L340.8 175.7L334.7 176.5L333.4 177.3L331.0 180.2L328.6 181.4L316.4 182.7L309.2 184.4L307.8 185.1L304.3 189.0L298.0 191.2ZM680.9 212.8L670.7 212.6L668.3 211.4L665.7 208.5L665.1 205.5L665.2 194.8L666.0 191.9L667.7 190.4L670.7 189.5L680.9 189.5L680.9 212.8ZM296.0 218.5L290.9 219.0L290.9 214.5L296.6 215.3L297.5 216.3L297.5 217.2L296.0 218.5ZM367.3 233.8L361.2 233.5L358.5 232.8L355.1 228.0L350.6 226.0L349.9 225.0L350.0 223.8L351.0 222.8L353.0 222.6L362.0 224.0L365.2 227.4L369.3 229.3L370.8 230.9L370.6 232.8L367.3 233.8Z"/>
<path fill="#b91e00" fill-rule="evenodd" d="M296.0 189.1L290.9 189.5L290.9 174.6L296.0 174.4L299.9 173.4L304.1 171.5L307.2 168.5L309.2 167.7L321.5 167.1L328.6 165.6L330.0 164.6L332.5 160.7L334.7 159.7L344.9 158.5L346.9 159.0L348.5 160.7L348.6 165.6L347.0 170.5L345.9 171.6L332.7 174.5L331.2 175.3L328.6 178.5L326.5 179.4L321.5 180.6L308.2 181.9L303.1 183.2L301.1 184.2L298.4 188.0L296.0 189.1Z"/>
<path fill="#730a00" fill-rule="evenodd" d="M294.0 187.1L290.9 187.2L290.9 176.6L297.0 176.4L305.2 174.9L307.2 173.4L308.8 170.5L310.3 169.5L321.5 169.0L329.6 167.9L331.8 166.6L333.9 162.7L335.7 161.5L341.8 160.8L344.9 161.7L345.2 162.7L344.7 164.6L340.8 167.1L337.7 170.7L331.6 172.1L325.5 174.3L322.5 177.3L320.4 178.5L300.1 180.7L298.1 182.2L296.1 186.1L294.0 187.1Z"/>
<path fill="#6ef5ff" fill-rule="evenodd" d="M501.7 266.9L410.9 266.9L411.0 247.4L412.3 240.6L411.4 237.7L409.0 236.5L400.9 236.1L397.8 235.2L394.8 231.2L389.7 228.4L384.6 223.1L378.5 220.5L373.4 219.2L369.1 215.3L364.2 213.3L362.7 211.4L361.2 206.7L357.1 204.0L356.1 202.4L355.9 200.7L356.7 198.7L362.0 195.8L364.4 192.9L366.3 191.6L383.6 187.4L391.7 187.0L393.7 186.1L394.1 185.1L393.8 183.0L390.7 180.4L390.2 179.2L389.2 167.5L387.6 165.7L383.6 164.1L382.2 162.7L382.2 154.9L380.4 149.0L380.0 143.2L461.5 143.2L461.1 153.9L459.9 155.5L457.9 156.4L448.7 158.0L446.7 157.2L444.0 153.9L441.7 152.9L424.3 150.9L416.2 153.4L414.0 157.8L411.1 160.1L399.6 160.7L397.8 161.3L396.9 162.7L397.8 164.9L403.3 167.5L406.0 172.8L411.1 174.9L414.1 178.6L416.2 179.3L426.3 179.5L436.5 180.5L442.6 182.1L444.6 184.1L444.8 186.1L444.0 188.0L438.8 190.9L437.5 193.8L438.6 196.1L442.7 197.7L444.6 199.7L445.2 204.6L444.6 210.4L442.6 212.4L438.6 213.9L435.5 218.1L431.4 220.4L430.3 222.1L429.0 227.9L427.4 231.9L425.3 233.7L422.3 234.5L420.1 235.7L418.9 237.7L418.7 240.6L420.9 243.5L426.3 245.4L427.4 246.4L428.7 250.4L430.4 252.7L435.5 254.8L438.7 257.2L440.6 257.6L442.6 256.8L445.3 253.3L447.7 252.1L450.8 252.0L458.9 253.2L465.0 252.0L475.2 251.3L476.6 250.4L479.3 245.7L481.3 244.7L482.3 244.7L483.4 245.5L484.9 250.4L486.4 252.2L491.1 254.2L493.7 258.1L495.6 260.0L500.9 262.0L502.0 264.0L502.2 266.9L501.7 266.9ZM614.7 214.6L610.6 215.1L603.5 214.4L595.4 212.5L593.3 211.2L590.2 207.5L584.2 205.5L580.9 200.7L576.0 199.1L573.5 196.8L572.7 192.9L572.7 178.3L573.3 174.4L575.4 168.5L575.5 156.8L574.6 153.9L571.9 153.0L568.9 153.7L565.8 157.3L560.7 160.7L559.3 163.6L558.7 171.4L556.7 173.4L552.6 173.9L538.3 173.7L536.3 172.8L535.3 171.6L532.9 166.6L531.5 161.7L530.2 160.3L519.0 159.4L512.9 157.8L511.5 156.8L509.2 150.0L508.7 143.2L632.5 143.2L632.4 161.7L632.0 163.6L630.0 165.5L627.9 165.8L625.9 165.0L624.9 163.6L623.9 160.7L621.8 158.8L612.7 158.2L609.6 157.2L608.6 155.9L607.6 152.9L605.5 151.0L602.5 151.0L601.1 152.0L600.2 153.9L600.0 160.7L600.5 163.6L602.5 165.6L605.5 166.6L606.9 167.5L609.6 172.8L612.7 173.8L621.8 174.4L623.3 175.3L625.4 178.3L627.8 179.2L640.2 179.9L645.3 181.9L646.8 184.1L646.7 187.0L643.9 190.9L642.7 194.8L641.5 196.8L639.1 197.7L634.1 198.6L632.3 199.7L630.1 202.6L626.6 205.5L624.3 211.4L622.9 212.8L614.7 214.6ZM669.7 159.8L661.5 159.8L657.6 158.8L655.9 156.8L654.8 152.9L653.4 151.2L651.4 150.6L644.2 150.3L642.2 149.4L640.9 147.1L640.7 143.2L680.9 143.1L680.9 158.3L676.8 158.5L669.7 159.8ZM319.4 158.0L316.4 158.0L310.3 156.9L303.1 158.0L301.3 157.8L299.1 155.9L299.1 153.2L300.1 151.6L302.1 150.7L310.3 150.4L317.4 149.1L320.4 149.2L323.4 151.0L324.2 153.9L322.5 156.5L319.4 158.0ZM542.4 220.6L522.0 220.2L519.4 218.2L517.0 213.9L511.5 211.4L509.2 206.5L506.8 205.4L503.7 206.2L501.0 211.4L498.6 212.6L481.3 212.6L478.9 211.4L476.4 207.5L474.2 206.9L471.1 207.6L468.5 211.4L467.1 212.3L464.0 212.8L456.9 212.6L454.5 211.4L453.5 209.4L453.5 200.7L454.8 198.3L459.9 195.6L463.0 190.5L466.0 189.5L475.2 189.0L477.2 187.1L478.2 184.1L479.3 182.8L484.4 180.6L488.4 175.3L491.5 174.5L493.5 176.3L494.5 179.2L495.6 180.6L501.1 183.1L503.7 188.4L509.2 190.9L511.9 196.2L514.9 197.2L529.2 197.3L532.2 197.7L534.3 199.7L535.3 202.6L536.3 203.9L538.3 204.8L542.4 205.0L543.0 205.5L542.9 220.2L542.4 220.6ZM563.8 214.3L555.6 214.3L552.6 213.8L550.0 211.4L548.5 206.4L547.4 205.5L543.4 205.1L542.9 204.6L543.0 186.1L543.5 184.1L545.5 182.2L553.6 181.7L557.7 182.8L559.0 185.1L559.3 192.9L560.4 195.8L565.8 198.3L568.9 203.4L574.0 206.1L574.9 207.5L574.9 210.4L573.0 212.4L563.8 214.3ZM680.9 251.8L676.8 251.6L674.8 250.7L672.1 245.5L667.7 242.8L665.9 238.7L663.6 236.9L653.4 234.2L645.3 233.9L642.7 232.8L640.1 226.0L639.3 209.4L640.3 206.5L642.2 204.7L645.3 203.8L653.4 204.8L655.1 205.5L656.5 207.3L657.9 211.4L659.5 212.8L663.6 214.9L665.3 219.2L666.6 220.4L669.7 221.1L680.9 221.1L680.9 251.8ZM632.0 266.9L508.7 266.9L509.3 261.1L511.9 258.6L513.9 258.2L521.0 258.8L524.1 258.5L526.6 257.2L529.2 253.6L530.8 252.3L540.9 251.3L542.8 250.4L544.1 248.4L543.8 243.5L542.6 239.6L541.4 237.9L539.4 236.7L537.3 236.8L535.9 237.7L533.2 242.3L531.2 243.1L530.2 242.6L528.5 237.7L527.3 235.7L521.7 232.8L521.4 230.9L522.0 229.5L523.1 228.8L539.4 228.0L542.0 226.0L542.7 224.0L542.9 221.1L543.4 220.6L546.5 220.8L548.5 221.9L550.3 226.0L552.6 227.8L555.6 228.4L561.8 228.4L573.0 226.3L574.7 225.0L577.0 221.7L579.1 220.9L587.2 222.0L595.4 219.3L607.6 219.0L612.7 219.4L614.7 220.7L617.4 227.0L622.9 229.5L625.9 234.9L627.9 236.0L636.1 237.8L638.1 239.6L640.5 248.4L640.4 256.2L639.1 258.5L635.1 260.5L633.5 262.0L632.7 264.0L632.5 266.9L632.0 266.9ZM292.9 253.3L290.9 253.4L290.9 228.4L298.0 229.0L304.1 231.1L305.9 232.8L305.5 234.8L302.1 237.0L300.8 238.7L300.0 247.4L299.2 249.4L296.0 252.4L292.9 253.3ZM319.4 235.9L317.4 235.6L316.1 234.8L315.6 232.8L316.2 231.8L318.4 231.0L321.6 231.8L322.2 232.8L321.7 234.8L319.4 235.9ZM352.0 251.6L343.9 251.7L340.8 250.7L337.7 245.7L332.3 242.6L331.5 239.6L332.3 237.7L334.7 236.4L342.8 234.9L354.1 239.6L354.9 240.6L355.5 242.6L355.3 248.4L354.4 250.4L352.0 251.6ZM296.0 266.9L290.9 266.9L290.9 259.6L294.0 259.9L296.0 261.6L296.9 266.9L296.0 266.9Z"/>
<path fill="#5aaaff" fill-rule="evenodd" d="M409.0 158.1L397.8 157.9L395.7 156.8L393.8 153.2L392.7 152.5L385.6 151.9L383.6 151.2L381.6 148.1L381.3 143.2L422.4 143.2L422.2 146.1L421.2 148.4L419.2 149.9L414.1 151.6L411.4 156.8L409.0 158.1ZM451.8 151.5L447.7 151.7L437.5 150.0L431.4 148.5L429.6 147.1L428.9 143.2L455.0 143.2L454.3 149.0L451.8 151.5ZM541.4 167.8L538.3 168.0L535.9 166.6L534.6 164.6L533.2 159.5L531.2 157.3L522.0 156.5L520.0 155.8L517.0 152.1L512.9 148.9L512.2 147.1L512.0 143.2L577.2 143.2L576.7 148.1L575.0 149.8L567.8 151.0L562.8 152.7L559.7 157.8L556.7 160.0L548.5 160.6L546.5 161.3L544.3 165.6L541.4 167.8ZM670.7 156.2L662.6 156.6L659.5 155.5L657.4 148.1L657.0 143.2L680.9 143.1L680.9 150.5L677.8 150.7L675.8 151.4L672.7 154.9L670.7 156.2ZM319.4 155.2L317.4 155.3L316.5 154.9L316.2 153.9L317.4 152.8L319.4 152.8L320.3 153.9L319.4 155.2ZM599.4 205.0L595.4 204.8L587.2 203.0L583.5 198.7L578.0 197.6L575.6 195.8L574.7 191.9L574.8 178.3L575.3 175.3L577.0 172.9L579.1 172.0L581.1 171.9L583.1 172.6L585.0 174.4L585.9 177.3L586.2 186.0L587.2 188.3L589.3 189.3L596.4 189.7L598.8 190.9L599.9 194.8L599.9 204.6L599.4 205.0ZM422.3 229.9L400.9 229.9L397.8 229.1L391.7 226.4L387.6 222.1L374.5 217.2L371.3 213.3L366.5 210.4L365.5 208.5L364.2 202.6L364.7 199.7L374.4 192.1L382.5 189.7L391.7 189.4L394.8 188.8L397.1 187.0L398.8 182.9L400.9 181.8L425.3 181.7L435.2 184.1L436.1 185.1L436.0 187.0L434.5 188.6L430.6 190.9L429.3 192.9L428.4 202.6L427.4 204.0L424.2 205.5L422.8 207.5L423.3 210.0L428.4 212.4L429.9 214.3L430.2 216.3L427.4 227.2L425.3 229.4L422.3 229.9ZM616.7 212.4L612.7 212.7L608.5 212.4L601.7 210.4L600.3 208.5L600.0 205.5L600.5 205.1L604.5 204.8L610.6 203.5L612.7 202.7L613.3 201.6L613.3 199.7L612.7 198.4L609.6 196.2L608.6 194.8L608.4 192.9L609.2 190.9L614.0 188.0L617.3 183.1L619.8 181.9L636.1 181.7L638.7 182.2L640.5 183.1L642.0 186.1L639.9 194.8L638.1 196.1L633.0 197.1L627.9 199.4L624.6 205.5L622.9 210.5L620.8 211.8L616.7 212.4ZM467.1 204.6L464.0 204.5L462.1 202.6L462.0 200.7L464.0 198.2L467.1 197.3L472.2 197.3L475.1 197.7L476.6 198.7L477.3 200.7L476.3 202.6L467.1 204.6ZM564.8 210.7L561.8 211.2L555.6 211.1L553.6 210.0L553.2 207.5L553.6 206.4L555.6 205.2L563.8 205.5L565.5 206.5L566.6 208.5L566.4 209.4L564.8 210.7ZM680.9 236.2L668.7 235.9L658.5 232.9L655.9 229.9L654.4 229.0L652.4 228.7L646.3 229.7L643.2 228.6L641.8 226.0L641.5 219.2L641.9 211.4L643.2 207.8L647.3 206.1L653.4 205.9L655.4 207.5L657.5 212.6L662.6 215.6L664.2 220.2L665.6 221.5L669.7 222.2L680.9 222.2L680.9 236.2ZM615.7 266.9L512.0 266.9L512.5 263.0L513.9 261.6L525.1 259.8L532.2 257.0L536.3 254.6L542.4 253.5L548.5 251.0L550.2 249.4L552.2 245.5L556.7 243.1L558.3 241.6L559.0 239.6L559.2 236.7L559.7 236.2L562.8 236.0L564.8 235.3L568.9 230.9L579.1 227.1L589.3 226.4L594.3 222.8L599.4 222.2L609.6 222.3L612.7 223.0L615.7 229.0L620.8 231.3L624.9 236.7L631.0 239.4L632.1 240.6L632.5 253.3L631.6 257.2L629.0 259.3L618.0 262.0L616.7 263.4L616.2 266.9L615.7 266.9ZM295.0 249.6L290.9 250.2L290.9 229.7L297.0 230.3L298.2 230.9L299.6 232.8L297.2 239.6L296.6 247.4L295.0 249.6ZM558.7 236.2L546.5 235.8L543.9 233.8L543.5 231.8L544.8 229.9L546.5 229.0L555.8 230.9L558.1 231.8L558.8 232.8L559.2 235.7L558.7 236.2ZM343.9 243.6L341.8 243.1L340.3 241.6L340.2 239.6L341.2 238.7L343.9 238.3L346.2 239.6L346.7 241.6L346.2 242.6L343.9 243.6ZM493.5 266.9L414.2 266.9L414.5 247.4L415.4 245.5L417.2 244.8L425.1 247.4L427.0 252.3L429.7 257.2L432.1 259.1L436.5 260.5L439.6 261.0L442.6 260.5L444.7 259.1L447.7 255.1L449.8 254.4L452.3 255.2L455.0 258.1L457.9 259.4L465.0 259.5L474.2 258.1L481.3 259.4L489.5 259.9L491.5 260.8L493.4 263.0L494.0 265.9L494.0 266.9L493.5 266.9Z"/>
<path fill="#3c82ff" fill-rule="evenodd" d="M407.0 155.9L399.9 155.6L398.7 154.9L396.7 151.0L394.8 149.5L384.6 148.3L383.5 147.1L383.2 143.2L419.1 143.2L418.3 147.1L412.1 149.9L409.5 154.9L407.0 155.9ZM449.8 148.4L446.7 148.7L439.6 147.8L437.5 146.1L437.0 143.2L451.7 143.2L451.2 147.1L449.8 148.4ZM539.4 165.7L537.3 165.2L536.1 163.6L534.9 158.8L532.2 151.7L530.2 150.7L523.1 150.3L521.0 149.6L518.9 147.1L518.5 143.2L573.8 143.2L573.0 147.2L570.9 148.1L561.8 149.4L560.0 151.0L558.9 154.9L557.7 157.0L554.6 158.2L545.5 158.8L543.4 160.7L541.8 164.6L539.4 165.7ZM668.7 150.1L666.6 149.4L665.6 148.1L665.1 143.2L673.2 143.2L673.1 146.1L672.3 148.1L670.7 149.6L668.7 150.1ZM583.1 195.9L580.1 196.3L578.1 195.8L577.0 194.8L576.4 192.9L576.4 178.3L577.0 175.9L579.1 174.4L582.1 175.0L583.4 177.3L583.8 187.0L585.0 192.9L584.5 194.8L583.1 195.9ZM425.3 189.0L413.1 189.4L412.6 189.0L412.8 187.0L413.7 185.1L416.2 184.1L425.0 184.1L427.4 185.0L427.9 186.1L427.0 188.0L425.3 189.0ZM614.7 210.4L610.6 209.9L609.7 209.4L609.4 208.5L610.1 207.5L614.7 205.6L615.7 204.0L616.1 199.7L614.9 193.8L615.3 191.9L616.7 189.9L618.8 188.5L622.9 187.2L625.3 185.1L627.7 184.1L636.1 184.1L638.1 185.0L638.7 188.0L638.1 192.5L637.3 193.8L626.9 196.5L625.0 198.7L623.6 203.6L620.8 209.4L618.8 210.1L614.7 210.4ZM424.3 226.4L420.2 226.8L399.9 226.6L397.8 225.7L394.8 223.0L381.5 217.4L378.4 214.3L374.0 211.4L372.5 209.4L371.9 203.6L372.8 199.7L374.4 198.1L378.3 195.8L381.2 192.9L383.6 191.9L393.8 191.6L401.9 189.5L412.1 189.5L412.6 189.9L412.6 199.7L413.1 202.6L414.1 204.0L418.2 206.3L420.3 212.4L422.3 213.8L425.3 214.9L426.7 216.3L426.9 218.2L425.9 224.0L425.3 225.6L424.3 226.4ZM646.3 226.2L644.2 225.4L643.7 224.0L643.5 217.2L644.1 214.3L648.3 208.2L650.3 207.1L653.4 207.3L654.6 208.5L656.5 213.3L661.2 217.2L661.3 219.2L660.5 220.4L658.8 221.1L650.3 222.9L646.3 226.2ZM680.9 228.4L668.7 228.2L666.4 227.0L666.1 225.0L668.7 224.0L680.9 223.9L680.9 228.4ZM599.4 266.9L518.5 266.9L519.1 264.0L521.0 262.7L537.3 257.8L547.5 257.2L550.2 256.2L552.8 253.3L557.7 250.2L561.0 245.5L565.8 243.0L568.9 237.9L574.0 235.2L577.5 230.9L580.1 230.1L589.3 229.9L595.4 228.7L597.4 229.0L598.8 229.9L600.5 233.8L602.5 235.7L619.8 236.6L622.9 238.7L624.3 241.6L624.3 254.2L622.9 257.0L602.5 261.8L600.8 263.0L600.0 266.9L599.4 266.9ZM294.0 235.9L290.9 236.2L290.9 231.5L294.8 231.8L296.0 232.8L295.5 234.8L294.0 235.9ZM589.6 241.6L591.2 239.6L590.3 237.4L587.2 236.6L584.9 237.7L584.2 239.6L585.2 241.3L587.2 242.1L589.6 241.6ZM428.4 266.9L420.7 266.9L421.0 263.0L421.9 261.1L424.3 260.0L427.1 261.1L428.7 264.0L428.9 266.9L428.4 266.9ZM452.8 266.9L445.2 266.9L445.4 264.0L446.4 262.0L448.7 260.4L449.8 260.3L451.5 261.1L453.1 264.0L453.3 266.9L452.8 266.9ZM477.2 266.9L469.6 266.9L470.3 263.0L471.4 262.0L473.2 261.5L476.0 262.0L477.5 264.0L477.7 266.9L477.2 266.9Z"/>
<path fill="#2832fa" fill-rule="evenodd" d="M539.4 162.6L538.1 161.7L536.6 154.9L537.2 152.0L538.3 151.0L541.4 150.5L552.6 150.5L555.6 151.4L556.4 152.9L555.6 155.2L554.0 155.9L546.5 156.1L543.4 157.0L541.5 158.8L539.4 162.6ZM581.1 193.3L580.1 193.7L579.1 193.2L578.5 190.9L578.7 179.2L579.1 177.8L580.1 177.5L581.1 179.7L581.6 191.9L581.1 193.3ZM620.8 203.1L619.8 203.4L618.8 201.6L618.1 194.8L618.8 192.4L620.8 191.4L622.9 191.9L623.8 193.8L620.8 203.1ZM400.9 220.3L390.7 218.4L389.1 217.2L386.6 213.9L381.5 211.1L380.2 208.5L380.0 203.6L380.4 200.7L381.8 198.7L383.6 197.7L385.6 197.3L393.8 197.8L395.8 199.7L396.8 202.6L397.8 204.0L403.3 206.5L404.3 209.4L404.2 217.2L402.9 219.5L400.9 220.3ZM654.4 218.5L651.4 218.7L649.4 217.2L649.5 214.3L651.4 209.5L652.4 209.4L653.1 210.4L655.8 216.3L655.8 217.2L654.4 218.5ZM583.1 266.9L526.6 266.9L526.8 265.0L528.1 263.0L536.3 260.1L556.7 259.1L558.1 258.1L560.1 254.2L561.8 252.7L563.8 252.0L571.9 251.6L574.0 250.7L575.0 249.4L576.0 246.4L578.0 244.6L580.1 244.3L585.2 245.3L588.2 245.3L594.3 242.9L597.4 242.6L604.5 244.1L606.9 245.5L608.0 248.4L608.1 253.3L607.8 255.2L606.6 257.0L596.4 260.9L588.2 261.3L585.2 261.9L584.2 263.0L583.7 266.9L583.1 266.9Z"/>
<path fill="#1e00fa" fill-rule="evenodd" d="M597.4 257.4L593.3 258.0L586.2 257.6L584.3 256.2L584.3 254.2L586.2 252.3L590.3 250.8L593.9 246.5L597.4 246.1L599.4 247.9L599.9 251.3L599.6 255.2L597.4 257.4ZM550.6 266.9L534.8 266.9L535.3 264.1L536.3 262.9L538.6 262.0L543.4 261.9L547.7 262.0L550.0 263.0L550.9 265.0L551.1 266.9L550.6 266.9Z"/>
</g>
<path d="M349.0 139.0L349.6 142.1L350.5 144.7L351.2 147.7L350.7 151.4L351.0 154.7L352.9 157.9L353.5 159.5L354.9 162.0L358.6 164.3L359.9 167.0L361.9 170.1L364.3 173.9L366.4 176.4L367.0 176.1L364.3 171.4L361.2 165.8L363.2 166.0L365.3 169.5L367.0 172.0L369.1 174.5L371.3 178.2L371.3 180.1L373.5 182.2L377.3 183.9L381.1 185.5L383.8 185.0L385.8 187.0L388.1 188.0L390.9 188.8L392.5 190.7L392.8 192.6L394.1 193.2L396.3 194.8L399.0 195.7L399.6 194.1L401.0 194.8L401.4 195.9L401.9 194.3L400.1 193.2L397.9 194.1L396.3 193.2L395.2 191.6L395.2 187.6L395.5 186.3L393.6 185.2L390.3 185.3L390.0 182.1L390.9 178.2L387.7 178.9L387.6 180.7L386.5 182.0L383.8 182.4L381.6 181.4L380.2 178.2L380.0 173.9L380.3 170.8L383.3 168.3L387.1 168.6L389.0 168.8L389.8 167.3L392.5 167.1L394.7 167.6L395.8 168.9L396.2 170.8L397.1 172.6L397.9 173.6L398.9 172.9L398.4 169.5L397.6 167.0L397.9 165.1L400.1 163.3L402.3 161.9L403.9 161.2L403.4 158.9L403.9 157.0L405.5 154.5L407.7 153.9L409.9 153.2L409.3 151.4L412.0 149.7L414.2 148.9L415.8 148.3L414.2 150.2L416.9 149.4L419.6 148.6L420.7 147.7L419.1 146.4L415.8 146.4L415.3 144.2L416.1 143.9L413.7 142.7L420.7 142.3L424.0 140.8L425.1 139.0ZM421.5 145.7L425.1 143.3L427.8 143.6L428.7 145.8L427.8 146.9L425.6 146.4L421.5 145.7ZM352.0 144.8L349.6 144.1L347.4 142.6L346.3 141.5L349.0 141.5L352.0 144.8ZM393.6 177.9L396.8 176.2L399.0 176.4L402.3 178.2L405.3 179.9L401.7 180.2L400.6 178.2L397.4 177.6L393.6 177.9ZM405.1 180.4L407.7 180.2L411.0 181.4L411.6 182.0L408.8 182.9L405.1 182.1L405.1 180.4ZM400.9 182.1L403.0 182.4L402.5 182.7L400.9 182.4ZM412.9 182.0L414.7 182.1L414.5 182.6L412.9 182.6ZM401.9 194.3L401.4 195.9L401.7 197.6L401.7 200.1L400.3 203.2L399.0 205.0L398.5 206.9L399.0 208.2L397.7 210.7L397.9 212.5L399.6 214.4L401.2 217.5L403.0 221.9L404.4 224.4L408.2 226.9L409.5 228.1L409.7 233.7L409.2 238.7L408.2 242.5L408.1 246.2L407.7 249.9L406.1 251.8L405.9 254.9L405.5 257.4L405.0 261.2L403.9 264.9L404.1 268.6L405.5 271.1L407.7 272.4L411.5 271.1L411.5 269.9L411.0 268.0L412.3 264.9L414.4 264.3L412.6 262.4L413.1 261.2L415.3 259.3L416.2 258.2L415.3 256.2L418.2 255.6L418.6 253.7L423.4 252.4L424.3 250.6L423.4 249.3L422.4 247.7L425.1 248.6L427.2 248.4L428.9 246.2L431.1 243.1L433.1 240.0L433.2 236.8L435.4 235.0L438.1 233.7L440.3 233.6L441.4 231.9L442.8 229.4L443.5 225.0L443.8 221.3L445.2 219.4L447.3 216.9L448.1 214.4L447.7 211.9L445.7 211.0L443.5 209.4L440.8 208.7L438.1 208.2L435.9 206.5L433.2 206.7L431.6 205.0L431.1 202.8L430.0 199.8L427.8 198.1L424.0 197.6L421.3 195.1L419.6 193.5L418.0 191.8L415.8 192.3L413.7 191.8L411.7 192.0L409.9 190.0L408.2 191.3L407.7 189.6L406.1 191.0L403.9 192.0L402.8 193.8L401.9 194.3ZM479.5 160.4L483.7 161.3L487.0 159.5L491.3 159.2L496.5 158.5L497.8 158.9L497.3 160.2L497.8 161.4L496.8 162.4L497.8 163.5L500.0 164.1L502.5 164.8L504.4 166.4L506.5 167.3L507.6 166.4L507.6 164.9L509.8 164.0L513.1 165.4L515.8 166.0L517.9 166.4L519.6 165.6L521.0 166.0L523.0 166.0L523.8 168.3L523.2 170.1L522.5 170.4L521.3 167.8L521.3 168.3L522.3 170.5L523.4 172.6L524.6 175.7L526.4 178.9L527.6 182.6L528.8 185.6L531.0 187.8L532.9 189.5L532.8 190.6L534.2 192.1L536.4 191.6L539.1 191.0L541.5 190.3L541.3 192.1L540.7 195.1L539.1 198.2L537.5 200.7L535.3 202.6L532.6 205.7L531.0 207.5L529.3 209.4L528.6 211.3L528.8 213.8L528.6 215.6L529.9 218.1L529.9 222.5L530.2 223.8L528.3 226.2L526.1 227.5L524.5 231.2L524.5 234.4L521.5 237.2L521.2 240.6L519.6 242.5L516.9 245.6L513.6 247.4L509.8 247.7L507.6 248.4L505.9 247.7L505.4 245.6L503.8 240.7L502.4 238.1L501.6 233.5L499.5 228.7L498.7 226.0L499.2 222.5L500.7 220.0L500.3 216.3L499.3 212.5L498.9 211.3L496.2 208.2L496.0 205.0L496.3 201.9L496.5 200.2L495.3 199.4L493.5 199.6L492.2 199.7L491.3 198.2L490.2 197.1L488.1 197.2L487.0 197.6L483.7 199.1L481.6 198.6L477.8 199.6L475.6 198.2L473.4 196.4L471.5 194.5L471.2 193.2L469.6 191.6L467.8 189.6L467.7 188.2L466.9 186.7L468.0 185.1L468.2 181.4L467.4 178.9L468.5 175.7L470.2 172.6L471.8 170.4L474.0 169.5L475.3 168.3L475.5 167.0L475.8 164.5L476.7 163.5L478.5 162.7L479.5 160.4ZM539.4 220.0L540.4 223.8L539.8 226.2L538.6 230.6L536.9 236.2L534.8 236.8L533.4 233.7L533.1 231.9L534.1 229.4L533.7 226.2L535.9 224.8L537.5 223.1L539.4 220.0ZM485.9 139.0L487.5 142.5L486.1 143.1L484.6 143.4L484.1 143.1L483.8 144.3L480.8 144.7L481.2 145.4L483.7 146.3L484.6 147.7L484.3 150.2L483.9 150.9L480.5 150.8L477.2 150.6L475.8 151.4L476.3 152.7L476.2 155.2L475.6 156.7L476.3 157.7L476.2 158.9L477.8 158.7L479.2 159.5L479.8 160.2L481.0 159.3L483.6 159.2L485.4 157.3L486.1 156.4L485.6 155.8L486.9 153.9L489.4 152.7L489.3 151.3L490.8 150.9L493.0 151.3L494.0 150.4L495.5 149.7L497.0 150.3L497.3 151.6L499.2 153.1L500.8 153.7L502.8 155.2L503.0 157.4L503.4 157.7L503.9 156.4L504.6 155.9L503.8 154.9L506.0 155.0L504.5 153.9L503.3 152.8L501.1 151.9L499.4 149.8L499.3 148.4L500.7 148.1L501.1 149.1L502.2 149.6L503.3 150.8L506.0 152.2L507.1 153.1L507.0 154.8L508.2 155.8L508.9 157.3L509.4 159.2L510.2 159.5L510.9 158.3L512.0 157.7L510.9 156.7L510.7 154.8L512.0 154.2L514.1 154.2L514.5 154.9L514.4 155.9L515.4 157.0L515.6 158.9L516.9 159.3L519.0 159.7L521.2 160.0L523.5 159.2L525.2 159.4L524.8 160.8L524.9 162.0L524.0 163.9L523.4 165.8L523.0 166.0L523.8 168.3L524.5 170.1L525.5 172.6L526.6 175.1L528.3 177.6L528.8 180.1L530.4 183.2L532.2 185.7L532.9 189.2L534.8 189.1L538.0 187.6L541.3 186.1L542.9 184.5L545.6 183.2L547.6 182.0L549.4 179.5L550.8 177.0L549.7 175.6L547.8 175.1L547.0 172.3L546.2 173.3L544.5 175.0L542.4 175.1L541.8 173.3L541.3 172.6L540.2 172.0L538.6 169.5L538.0 167.6L540.2 167.6L541.3 169.5L543.5 171.4L546.7 171.4L548.4 173.0L552.7 173.6L558.1 173.5L559.2 175.1L560.8 177.0L561.9 176.6L564.8 178.2L565.0 181.4L565.7 185.1L566.8 188.2L567.9 191.3L569.0 194.5L570.1 195.1L570.8 193.8L572.2 192.2L572.8 189.5L573.1 185.7L575.3 184.2L577.7 181.4L579.8 179.7L580.4 178.2L582.0 177.9L583.6 177.6L585.3 177.0L585.8 178.9L586.4 180.1L588.0 182.0L588.5 185.1L589.6 185.3L591.8 184.5L592.1 187.0L592.9 190.1L592.9 193.2L592.7 195.1L594.0 196.9L594.8 198.8L595.6 201.3L597.2 202.6L598.3 203.4L599.1 203.2L598.2 200.3L598.2 198.2L596.7 197.3L595.1 195.7L594.5 193.8L593.6 192.0L594.5 188.6L595.4 189.2L597.2 190.1L598.1 192.0L599.7 194.2L601.6 193.0L604.1 191.0L604.5 188.8L604.0 185.7L601.8 183.2L600.7 181.4L601.7 179.5L603.2 178.2L605.0 178.2L605.9 179.7L606.5 178.2L609.2 177.4L611.9 176.6L614.1 174.5L615.7 173.0L616.2 171.4L617.9 169.5L618.4 167.6L617.3 166.6L618.2 165.8L616.8 163.9L615.7 161.4L616.8 160.2L618.9 158.9L617.3 158.0L615.1 158.7L614.1 157.0L613.7 156.4L615.1 156.0L617.3 154.2L618.7 154.5L617.5 156.4L620.6 155.3L621.7 155.8L622.0 158.0L623.3 158.4L623.1 161.4L624.4 161.9L626.3 161.2L626.6 159.2L625.5 156.9L624.4 155.4L626.8 154.0L626.9 152.2L628.2 151.7L630.4 151.7L633.1 150.3L635.2 148.3L637.4 145.2L638.5 142.7L639.0 139.0L551.1 139.0L485.9 139.0ZM626.8 163.3L627.6 162.7L628.7 163.3L629.3 164.5L628.5 166.1L627.4 166.4L626.9 164.5L626.8 163.3ZM629.6 163.6L630.9 162.5L632.2 162.7L631.8 163.5L630.4 164.1L629.6 163.6ZM628.2 162.3L629.8 160.9L631.4 160.7L633.6 160.5L634.5 158.7L635.2 158.4L636.3 157.9L637.5 156.4L638.0 154.5L638.3 153.5L639.6 153.4L640.0 155.2L639.6 157.0L639.0 158.3L638.8 160.2L638.0 161.3L636.9 161.8L635.8 161.9L634.7 161.9L633.6 163.3L632.5 162.9L632.7 161.9L630.4 162.0L628.2 162.3ZM638.0 153.3L638.0 151.4L639.6 148.4L641.2 149.8L643.9 151.1L642.3 151.6L641.4 152.7L639.0 152.9L638.0 153.3ZM640.1 147.7L641.8 146.7L641.2 143.9L642.8 143.9L641.2 139.0L640.1 139.0L640.1 147.7ZM616.3 176.4L617.3 173.6L618.4 173.9L617.9 176.4L617.1 177.7L616.3 176.4ZM603.9 181.1L605.9 180.0L606.5 180.6L605.4 182.2L604.0 182.0L603.9 181.1ZM616.2 182.0L618.7 182.0L618.4 184.8L617.9 187.2L620.6 188.8L619.8 189.5L617.9 188.2L616.8 187.0L616.0 184.7L616.2 182.0ZM618.4 196.3L620.0 195.1L621.1 194.3L622.2 193.2L623.3 195.1L622.8 197.2L622.0 198.1L620.6 196.9L618.4 196.3ZM621.1 189.5L622.4 190.1L621.9 192.6L621.1 192.0L621.1 189.5ZM618.4 190.3L619.5 190.7L620.0 192.6L618.9 193.2L618.4 192.0L618.4 190.3ZM616.7 188.2L617.9 188.5L617.5 189.8L616.7 188.2ZM613.2 194.6L615.7 191.6L615.9 192.1L613.5 194.8L613.2 194.6ZM604.3 202.8L605.4 202.9L607.0 201.9L608.6 201.1L609.7 199.3L611.3 198.6L612.4 196.9L613.3 196.6L614.6 198.2L615.1 198.8L614.1 199.7L613.6 201.1L614.1 203.8L613.5 205.0L612.4 206.9L611.9 209.4L610.3 209.7L608.6 209.0L607.0 208.8L605.7 208.5L605.4 206.9L604.5 205.0L604.3 202.8ZM589.4 198.1L591.8 198.6L593.1 200.4L595.1 202.6L596.7 204.4L598.3 206.0L599.4 207.5L601.0 208.8L600.8 212.3L599.4 212.0L597.0 210.0L595.6 208.2L594.5 206.3L593.4 204.4L592.3 202.3L590.7 200.4L589.4 198.1ZM600.2 213.5L601.0 212.5L603.5 212.9L605.9 213.2L608.1 213.7L610.3 214.7L610.2 215.9L607.5 215.4L605.4 215.2L603.2 214.8L601.6 214.3L600.2 213.5ZM610.8 215.3L611.9 215.4L615.1 215.3L617.3 215.5L619.5 215.3L619.5 215.9L616.2 216.1L613.0 216.3L610.8 216.0L610.8 215.3ZM620.0 217.9L623.8 215.5L624.2 215.6L620.9 217.5L620.0 217.9ZM615.7 211.9L616.8 211.9L616.6 208.5L617.3 208.3L618.4 211.0L619.3 210.7L617.9 207.3L619.5 206.2L617.3 206.3L616.5 204.3L617.3 203.6L621.1 204.4L621.7 203.2L621.1 203.8L617.3 204.1L616.2 204.4L615.7 206.3L614.9 208.5L615.7 211.9ZM624.4 203.2L624.9 202.3L625.5 203.2L624.9 204.4L625.8 204.8L624.9 206.0L624.4 205.0L624.4 203.2ZM624.9 209.0L628.0 209.2L627.6 209.8L625.1 209.5L624.9 209.0ZM628.2 206.3L629.8 205.7L631.4 206.0L631.8 208.5L632.5 209.2L635.2 206.9L638.0 207.9L640.7 209.0L642.8 210.0L644.5 211.9L646.1 212.5L646.4 213.5L645.6 214.8L646.6 215.6L648.3 217.0L649.7 217.8L648.3 218.0L646.1 217.6L644.5 215.3L642.3 214.7L641.8 216.3L640.7 216.6L639.0 216.4L636.9 215.0L635.8 215.5L635.5 214.5L636.3 213.5L635.8 211.7L633.6 210.7L631.4 209.8L630.1 210.0L629.3 208.5L630.4 207.9L629.3 207.7L628.2 206.8L628.2 206.3ZM647.2 211.9L648.8 211.4L650.4 210.3L651.3 210.4L650.4 211.3L649.4 212.8L647.2 212.3L647.2 211.9ZM649.7 208.4L651.5 209.9L652.2 210.9L651.9 211.0L649.7 208.4ZM655.9 213.5L657.0 214.4L656.4 214.9L655.9 213.5ZM657.7 214.4L659.5 215.6L659.1 215.9L657.7 214.4ZM664.0 230.2L667.3 232.9L666.7 233.0L664.0 230.6L664.0 230.2ZM678.5 226.9L679.8 227.0L679.4 227.7L678.5 227.4L678.5 226.9ZM667.3 223.8L667.6 224.4L668.1 225.6L667.5 225.0L667.3 223.8ZM609.2 232.5L609.9 232.2L612.6 230.7L615.1 230.0L617.3 229.4L618.6 226.9L620.0 225.6L621.7 223.3L623.8 222.3L626.0 223.6L626.8 221.9L627.6 220.5L629.8 219.5L631.4 220.0L633.6 220.0L634.4 220.3L633.6 221.6L633.1 223.5L634.7 224.8L637.2 226.7L638.8 226.7L639.7 223.8L639.6 221.3L640.3 218.4L641.2 219.8L641.8 222.5L643.7 223.8L644.5 228.1L646.1 229.4L647.9 231.5L649.7 233.2L652.0 236.6L652.6 240.0L652.1 243.7L651.0 246.0L649.9 247.4L648.8 251.7L646.6 252.2L644.8 253.7L642.8 252.7L641.8 253.4L639.6 252.9L638.0 251.8L637.5 249.9L635.9 247.7L635.2 249.3L634.5 249.1L635.5 246.2L633.5 248.4L632.7 248.1L631.7 246.0L628.7 244.3L624.9 245.2L621.1 246.2L620.0 247.3L616.2 247.3L613.5 248.8L610.8 247.8L611.3 246.8L611.6 245.0L610.8 242.5L610.3 240.0L609.1 237.5L609.5 236.2L609.2 232.5ZM643.1 255.8L645.0 256.3L647.0 256.1L646.9 257.7L645.6 259.3L643.9 258.2L643.1 255.8ZM673.5 247.9L675.4 249.7L676.8 251.2L679.2 252.1L679.8 253.1L678.1 253.9L677.8 255.3L676.3 256.9L675.5 256.4L675.6 254.7L674.7 253.9L675.5 252.7L675.4 250.9L673.5 247.9ZM673.5 255.6L675.2 256.2L674.9 257.4L673.8 258.7L673.5 259.7L671.8 260.5L671.3 262.3L669.8 263.2L666.7 262.4L667.1 261.5L668.7 259.9L671.1 258.7L672.3 257.0L673.5 255.6ZM572.6 192.8L573.9 194.5L574.7 196.1L574.1 197.3L572.9 197.6L572.5 195.1L572.6 192.8ZM316.6 180.2L317.6 180.5L316.9 181.5L316.6 180.2ZM495.1 153.9L496.2 153.8L496.4 155.8L495.7 156.4L495.0 156.0L495.1 153.9ZM495.3 151.6L496.2 151.7L496.1 153.4L495.3 153.1L495.3 151.6ZM499.4 157.5L502.8 157.4L502.3 159.3L499.5 158.2L499.4 157.5ZM511.4 160.8L514.5 161.0L512.5 161.5L511.4 160.8ZM521.0 161.3L523.5 160.5L522.7 161.8L521.0 161.3ZM467.4 169.8L471.2 168.6L470.9 170.1L467.4 169.8ZM467.7 164.1L467.9 164.4L467.2 164.3ZM516.3 153.5L517.4 153.8L520.1 153.7L522.3 152.7L523.9 152.7L525.5 153.5L527.7 154.0L529.9 153.9L531.1 153.2L531.0 152.1L529.3 150.9L527.7 149.8L526.1 148.9L524.5 148.7L522.3 149.6L521.2 148.6L522.3 147.7L520.1 146.9L519.0 147.7L518.2 148.7L517.0 150.2L516.2 151.7L516.3 153.5ZM523.9 148.6L525.7 148.6L527.5 146.7L526.4 146.3L524.1 147.3L523.9 148.6ZM539.1 146.9L541.8 146.4L543.7 146.7L543.5 148.6L541.6 149.6L540.5 149.6L541.5 151.2L543.1 152.9L543.4 154.9L544.3 155.2L544.4 156.5L544.4 158.5L541.8 159.2L540.2 158.5L539.1 158.2L538.9 156.7L539.7 154.8L538.6 152.9L537.5 151.4L537.4 149.6L536.6 149.4L537.5 148.2L539.1 146.9ZM386.0 146.8L388.1 146.9L391.4 147.1L394.1 147.1L393.6 145.4L392.0 144.3L389.2 144.7L386.0 146.8ZM390.5 152.7L390.9 150.8L390.5 149.2L393.6 147.7L393.1 148.9L392.3 150.2L392.0 152.4L390.5 152.7ZM394.0 147.7L394.7 148.1L395.2 148.7L395.3 150.2L396.4 151.4L397.2 149.6L397.9 148.6L398.4 147.8L396.8 147.6L394.0 147.7ZM395.3 153.1L396.3 153.4L399.0 152.4L400.2 151.6L397.9 151.8L396.3 152.6L395.3 153.1ZM399.2 151.1L401.2 150.9L403.0 150.7L402.8 149.9L401.2 150.3L399.6 150.6L399.2 151.1Z" fill="none" stroke="#3a3a3a" stroke-width="1.3"/>
<path d="M349.0 139.0L349.6 142.1L350.5 144.7L351.2 147.7L350.7 151.4L351.0 154.7L352.9 157.9L353.5 159.5L354.9 162.0L358.6 164.3L359.9 167.0L361.9 170.1L364.3 173.9L366.4 176.4L367.0 176.1L364.3 171.4L361.2 165.8L363.2 166.0L365.3 169.5L367.0 172.0L369.1 174.5L371.3 178.2L371.3 180.1L373.5 182.2L377.3 183.9L381.1 185.5L383.8 185.0L385.8 187.0L388.1 188.0L390.9 188.8L392.5 190.7L392.8 192.6L394.1 193.2L396.3 194.8L399.0 195.7L399.6 194.1L401.0 194.8L401.4 195.9L401.9 194.3L400.1 193.2L397.9 194.1L396.3 193.2L395.2 191.6L395.2 187.6L395.5 186.3L393.6 185.2L390.3 185.3L390.0 182.1L390.9 178.2L387.7 178.9L387.6 180.7L386.5 182.0L383.8 182.4L381.6 181.4L380.2 178.2L380.0 173.9L380.3 170.8L383.3 168.3L387.1 168.6L389.0 168.8L389.8 167.3L392.5 167.1L394.7 167.6L395.8 168.9L396.2 170.8L397.1 172.6L397.9 173.6L398.9 172.9L398.4 169.5L397.6 167.0L397.9 165.1L400.1 163.3L402.3 161.9L403.9 161.2L403.4 158.9L403.9 157.0L405.5 154.5L407.7 153.9L409.9 153.2L409.3 151.4L412.0 149.7L414.2 148.9L415.8 148.3L414.2 150.2L416.9 149.4L419.6 148.6L420.7 147.7L419.1 146.4L415.8 146.4L415.3 144.2L416.1 143.9L413.7 142.7L420.7 142.3L424.0 140.8L425.1 139.0ZM421.5 145.7L425.1 143.3L427.8 143.6L428.7 145.8L427.8 146.9L425.6 146.4L421.5 145.7ZM352.0 144.8L349.6 144.1L347.4 142.6L346.3 141.5L349.0 141.5L352.0 144.8ZM393.6 177.9L396.8 176.2L399.0 176.4L402.3 178.2L405.3 179.9L401.7 180.2L400.6 178.2L397.4 177.6L393.6 177.9ZM405.1 180.4L407.7 180.2L411.0 181.4L411.6 182.0L408.8 182.9L405.1 182.1L405.1 180.4ZM400.9 182.1L403.0 182.4L402.5 182.7L400.9 182.4ZM412.9 182.0L414.7 182.1L414.5 182.6L412.9 182.6ZM401.9 194.3L401.4 195.9L401.7 197.6L401.7 200.1L400.3 203.2L399.0 205.0L398.5 206.9L399.0 208.2L397.7 210.7L397.9 212.5L399.6 214.4L401.2 217.5L403.0 221.9L404.4 224.4L408.2 226.9L409.5 228.1L409.7 233.7L409.2 238.7L408.2 242.5L408.1 246.2L407.7 249.9L406.1 251.8L405.9 254.9L405.5 257.4L405.0 261.2L403.9 264.9L404.1 268.6L405.5 271.1L407.7 272.4L411.5 271.1L411.5 269.9L411.0 268.0L412.3 264.9L414.4 264.3L412.6 262.4L413.1 261.2L415.3 259.3L416.2 258.2L415.3 256.2L418.2 255.6L418.6 253.7L423.4 252.4L424.3 250.6L423.4 249.3L422.4 247.7L425.1 248.6L427.2 248.4L428.9 246.2L431.1 243.1L433.1 240.0L433.2 236.8L435.4 235.0L438.1 233.7L440.3 233.6L441.4 231.9L442.8 229.4L443.5 225.0L443.8 221.3L445.2 219.4L447.3 216.9L448.1 214.4L447.7 211.9L445.7 211.0L443.5 209.4L440.8 208.7L438.1 208.2L435.9 206.5L433.2 206.7L431.6 205.0L431.1 202.8L430.0 199.8L427.8 198.1L424.0 197.6L421.3 195.1L419.6 193.5L418.0 191.8L415.8 192.3L413.7 191.8L411.7 192.0L409.9 190.0L408.2 191.3L407.7 189.6L406.1 191.0L403.9 192.0L402.8 193.8L401.9 194.3ZM479.5 160.4L483.7 161.3L487.0 159.5L491.3 159.2L496.5 158.5L497.8 158.9L497.3 160.2L497.8 161.4L496.8 162.4L497.8 163.5L500.0 164.1L502.5 164.8L504.4 166.4L506.5 167.3L507.6 166.4L507.6 164.9L509.8 164.0L513.1 165.4L515.8 166.0L517.9 166.4L519.6 165.6L521.0 166.0L523.0 166.0L523.8 168.3L523.2 170.1L522.5 170.4L521.3 167.8L521.3 168.3L522.3 170.5L523.4 172.6L524.6 175.7L526.4 178.9L527.6 182.6L528.8 185.6L531.0 187.8L532.9 189.5L532.8 190.6L534.2 192.1L536.4 191.6L539.1 191.0L541.5 190.3L541.3 192.1L540.7 195.1L539.1 198.2L537.5 200.7L535.3 202.6L532.6 205.7L531.0 207.5L529.3 209.4L528.6 211.3L528.8 213.8L528.6 215.6L529.9 218.1L529.9 222.5L530.2 223.8L528.3 226.2L526.1 227.5L524.5 231.2L524.5 234.4L521.5 237.2L521.2 240.6L519.6 242.5L516.9 245.6L513.6 247.4L509.8 247.7L507.6 248.4L505.9 247.7L505.4 245.6L503.8 240.7L502.4 238.1L501.6 233.5L499.5 228.7L498.7 226.0L499.2 222.5L500.7 220.0L500.3 216.3L499.3 212.5L498.9 211.3L496.2 208.2L496.0 205.0L496.3 201.9L496.5 200.2L495.3 199.4L493.5 199.6L492.2 199.7L491.3 198.2L490.2 197.1L488.1 197.2L487.0 197.6L483.7 199.1L481.6 198.6L477.8 199.6L475.6 198.2L473.4 196.4L471.5 194.5L471.2 193.2L469.6 191.6L467.8 189.6L467.7 188.2L466.9 186.7L468.0 185.1L468.2 181.4L467.4 178.9L468.5 175.7L470.2 172.6L471.8 170.4L474.0 169.5L475.3 168.3L475.5 167.0L475.8 164.5L476.7 163.5L478.5 162.7L479.5 160.4ZM539.4 220.0L540.4 223.8L539.8 226.2L538.6 230.6L536.9 236.2L534.8 236.8L533.4 233.7L533.1 231.9L534.1 229.4L533.7 226.2L535.9 224.8L537.5 223.1L539.4 220.0ZM485.9 139.0L487.5 142.5L486.1 143.1L484.6 143.4L484.1 143.1L483.8 144.3L480.8 144.7L481.2 145.4L483.7 146.3L484.6 147.7L484.3 150.2L483.9 150.9L480.5 150.8L477.2 150.6L475.8 151.4L476.3 152.7L476.2 155.2L475.6 156.7L476.3 157.7L476.2 158.9L477.8 158.7L479.2 159.5L479.8 160.2L481.0 159.3L483.6 159.2L485.4 157.3L486.1 156.4L485.6 155.8L486.9 153.9L489.4 152.7L489.3 151.3L490.8 150.9L493.0 151.3L494.0 150.4L495.5 149.7L497.0 150.3L497.3 151.6L499.2 153.1L500.8 153.7L502.8 155.2L503.0 157.4L503.4 157.7L503.9 156.4L504.6 155.9L503.8 154.9L506.0 155.0L504.5 153.9L503.3 152.8L501.1 151.9L499.4 149.8L499.3 148.4L500.7 148.1L501.1 149.1L502.2 149.6L503.3 150.8L506.0 152.2L507.1 153.1L507.0 154.8L508.2 155.8L508.9 157.3L509.4 159.2L510.2 159.5L510.9 158.3L512.0 157.7L510.9 156.7L510.7 154.8L512.0 154.2L514.1 154.2L514.5 154.9L514.4 155.9L515.4 157.0L515.6 158.9L516.9 159.3L519.0 159.7L521.2 160.0L523.5 159.2L525.2 159.4L524.8 160.8L524.9 162.0L524.0 163.9L523.4 165.8L523.0 166.0L523.8 168.3L524.5 170.1L525.5 172.6L526.6 175.1L528.3 177.6L528.8 180.1L530.4 183.2L532.2 185.7L532.9 189.2L534.8 189.1L538.0 187.6L541.3 186.1L542.9 184.5L545.6 183.2L547.6 182.0L549.4 179.5L550.8 177.0L549.7 175.6L547.8 175.1L547.0 172.3L546.2 173.3L544.5 175.0L542.4 175.1L541.8 173.3L541.3 172.6L540.2 172.0L538.6 169.5L538.0 167.6L540.2 167.6L541.3 169.5L543.5 171.4L546.7 171.4L548.4 173.0L552.7 173.6L558.1 173.5L559.2 175.1L560.8 177.0L561.9 176.6L564.8 178.2L565.0 181.4L565.7 185.1L566.8 188.2L567.9 191.3L569.0 194.5L570.1 195.1L570.8 193.8L572.2 192.2L572.8 189.5L573.1 185.7L575.3 184.2L577.7 181.4L579.8 179.7L580.4 178.2L582.0 177.9L583.6 177.6L585.3 177.0L585.8 178.9L586.4 180.1L588.0 182.0L588.5 185.1L589.6 185.3L591.8 184.5L592.1 187.0L592.9 190.1L592.9 193.2L592.7 195.1L594.0 196.9L594.8 198.8L595.6 201.3L597.2 202.6L598.3 203.4L599.1 203.2L598.2 200.3L598.2 198.2L596.7 197.3L595.1 195.7L594.5 193.8L593.6 192.0L594.5 188.6L595.4 189.2L597.2 190.1L598.1 192.0L599.7 194.2L601.6 193.0L604.1 191.0L604.5 188.8L604.0 185.7L601.8 183.2L600.7 181.4L601.7 179.5L603.2 178.2L605.0 178.2L605.9 179.7L606.5 178.2L609.2 177.4L611.9 176.6L614.1 174.5L615.7 173.0L616.2 171.4L617.9 169.5L618.4 167.6L617.3 166.6L618.2 165.8L616.8 163.9L615.7 161.4L616.8 160.2L618.9 158.9L617.3 158.0L615.1 158.7L614.1 157.0L613.7 156.4L615.1 156.0L617.3 154.2L618.7 154.5L617.5 156.4L620.6 155.3L621.7 155.8L622.0 158.0L623.3 158.4L623.1 161.4L624.4 161.9L626.3 161.2L626.6 159.2L625.5 156.9L624.4 155.4L626.8 154.0L626.9 152.2L628.2 151.7L630.4 151.7L633.1 150.3L635.2 148.3L637.4 145.2L638.5 142.7L639.0 139.0L551.1 139.0L485.9 139.0ZM626.8 163.3L627.6 162.7L628.7 163.3L629.3 164.5L628.5 166.1L627.4 166.4L626.9 164.5L626.8 163.3ZM629.6 163.6L630.9 162.5L632.2 162.7L631.8 163.5L630.4 164.1L629.6 163.6ZM628.2 162.3L629.8 160.9L631.4 160.7L633.6 160.5L634.5 158.7L635.2 158.4L636.3 157.9L637.5 156.4L638.0 154.5L638.3 153.5L639.6 153.4L640.0 155.2L639.6 157.0L639.0 158.3L638.8 160.2L638.0 161.3L636.9 161.8L635.8 161.9L634.7 161.9L633.6 163.3L632.5 162.9L632.7 161.9L630.4 162.0L628.2 162.3ZM638.0 153.3L638.0 151.4L639.6 148.4L641.2 149.8L643.9 151.1L642.3 151.6L641.4 152.7L639.0 152.9L638.0 153.3ZM640.1 147.7L641.8 146.7L641.2 143.9L642.8 143.9L641.2 139.0L640.1 139.0L640.1 147.7ZM616.3 176.4L617.3 173.6L618.4 173.9L617.9 176.4L617.1 177.7L616.3 176.4ZM603.9 181.1L605.9 180.0L606.5 180.6L605.4 182.2L604.0 182.0L603.9 181.1ZM616.2 182.0L618.7 182.0L618.4 184.8L617.9 187.2L620.6 188.8L619.8 189.5L617.9 188.2L616.8 187.0L616.0 184.7L616.2 182.0ZM618.4 196.3L620.0 195.1L621.1 194.3L622.2 193.2L623.3 195.1L622.8 197.2L622.0 198.1L620.6 196.9L618.4 196.3ZM621.1 189.5L622.4 190.1L621.9 192.6L621.1 192.0L621.1 189.5ZM618.4 190.3L619.5 190.7L620.0 192.6L618.9 193.2L618.4 192.0L618.4 190.3ZM616.7 188.2L617.9 188.5L617.5 189.8L616.7 188.2ZM613.2 194.6L615.7 191.6L615.9 192.1L613.5 194.8L613.2 194.6ZM604.3 202.8L605.4 202.9L607.0 201.9L608.6 201.1L609.7 199.3L611.3 198.6L612.4 196.9L613.3 196.6L614.6 198.2L615.1 198.8L614.1 199.7L613.6 201.1L614.1 203.8L613.5 205.0L612.4 206.9L611.9 209.4L610.3 209.7L608.6 209.0L607.0 208.8L605.7 208.5L605.4 206.9L604.5 205.0L604.3 202.8ZM589.4 198.1L591.8 198.6L593.1 200.4L595.1 202.6L596.7 204.4L598.3 206.0L599.4 207.5L601.0 208.8L600.8 212.3L599.4 212.0L597.0 210.0L595.6 208.2L594.5 206.3L593.4 204.4L592.3 202.3L590.7 200.4L589.4 198.1ZM600.2 213.5L601.0 212.5L603.5 212.9L605.9 213.2L608.1 213.7L610.3 214.7L610.2 215.9L607.5 215.4L605.4 215.2L603.2 214.8L601.6 214.3L600.2 213.5ZM610.8 215.3L611.9 215.4L615.1 215.3L617.3 215.5L619.5 215.3L619.5 215.9L616.2 216.1L613.0 216.3L610.8 216.0L610.8 215.3ZM620.0 217.9L623.8 215.5L624.2 215.6L620.9 217.5L620.0 217.9ZM615.7 211.9L616.8 211.9L616.6 208.5L617.3 208.3L618.4 211.0L619.3 210.7L617.9 207.3L619.5 206.2L617.3 206.3L616.5 204.3L617.3 203.6L621.1 204.4L621.7 203.2L621.1 203.8L617.3 204.1L616.2 204.4L615.7 206.3L614.9 208.5L615.7 211.9ZM624.4 203.2L624.9 202.3L625.5 203.2L624.9 204.4L625.8 204.8L624.9 206.0L624.4 205.0L624.4 203.2ZM624.9 209.0L628.0 209.2L627.6 209.8L625.1 209.5L624.9 209.0ZM628.2 206.3L629.8 205.7L631.4 206.0L631.8 208.5L632.5 209.2L635.2 206.9L638.0 207.9L640.7 209.0L642.8 210.0L644.5 211.9L646.1 212.5L646.4 213.5L645.6 214.8L646.6 215.6L648.3 217.0L649.7 217.8L648.3 218.0L646.1 217.6L644.5 215.3L642.3 214.7L641.8 216.3L640.7 216.6L639.0 216.4L636.9 215.0L635.8 215.5L635.5 214.5L636.3 213.5L635.8 211.7L633.6 210.7L631.4 209.8L630.1 210.0L629.3 208.5L630.4 207.9L629.3 207.7L628.2 206.8L628.2 206.3ZM647.2 211.9L648.8 211.4L650.4 210.3L651.3 210.4L650.4 211.3L649.4 212.8L647.2 212.3L647.2 211.9ZM649.7 208.4L651.5 209.9L652.2 210.9L651.9 211.0L649.7 208.4ZM655.9 213.5L657.0 214.4L656.4 214.9L655.9 213.5ZM657.7 214.4L659.5 215.6L659.1 215.9L657.7 214.4ZM664.0 230.2L667.3 232.9L666.7 233.0L664.0 230.6L664.0 230.2ZM678.5 226.9L679.8 227.0L679.4 227.7L678.5 227.4L678.5 226.9ZM667.3 223.8L667.6 224.4L668.1 225.6L667.5 225.0L667.3 223.8ZM609.2 232.5L609.9 232.2L612.6 230.7L615.1 230.0L617.3 229.4L618.6 226.9L620.0 225.6L621.7 223.3L623.8 222.3L626.0 223.6L626.8 221.9L627.6 220.5L629.8 219.5L631.4 220.0L633.6 220.0L634.4 220.3L633.6 221.6L633.1 223.5L634.7 224.8L637.2 226.7L638.8 226.7L639.7 223.8L639.6 221.3L640.3 218.4L641.2 219.8L641.8 222.5L643.7 223.8L644.5 228.1L646.1 229.4L647.9 231.5L649.7 233.2L652.0 236.6L652.6 240.0L652.1 243.7L651.0 246.0L649.9 247.4L648.8 251.7L646.6 252.2L644.8 253.7L642.8 252.7L641.8 253.4L639.6 252.9L638.0 251.8L637.5 249.9L635.9 247.7L635.2 249.3L634.5 249.1L635.5 246.2L633.5 248.4L632.7 248.1L631.7 246.0L628.7 244.3L624.9 245.2L621.1 246.2L620.0 247.3L616.2 247.3L613.5 248.8L610.8 247.8L611.3 246.8L611.6 245.0L610.8 242.5L610.3 240.0L609.1 237.5L609.5 236.2L609.2 232.5ZM643.1 255.8L645.0 256.3L647.0 256.1L646.9 257.7L645.6 259.3L643.9 258.2L643.1 255.8ZM673.5 247.9L675.4 249.7L676.8 251.2L679.2 252.1L679.8 253.1L678.1 253.9L677.8 255.3L676.3 256.9L675.5 256.4L675.6 254.7L674.7 253.9L675.5 252.7L675.4 250.9L673.5 247.9ZM673.5 255.6L675.2 256.2L674.9 257.4L673.8 258.7L673.5 259.7L671.8 260.5L671.3 262.3L669.8 263.2L666.7 262.4L667.1 261.5L668.7 259.9L671.1 258.7L672.3 257.0L673.5 255.6ZM572.6 192.8L573.9 194.5L574.7 196.1L574.1 197.3L572.9 197.6L572.5 195.1L572.6 192.8ZM316.6 180.2L317.6 180.5L316.9 181.5L316.6 180.2ZM495.1 153.9L496.2 153.8L496.4 155.8L495.7 156.4L495.0 156.0L495.1 153.9ZM495.3 151.6L496.2 151.7L496.1 153.4L495.3 153.1L495.3 151.6ZM499.4 157.5L502.8 157.4L502.3 159.3L499.5 158.2L499.4 157.5ZM511.4 160.8L514.5 161.0L512.5 161.5L511.4 160.8ZM521.0 161.3L523.5 160.5L522.7 161.8L521.0 161.3ZM467.4 169.8L471.2 168.6L470.9 170.1L467.4 169.8ZM467.7 164.1L467.9 164.4L467.2 164.3ZM516.3 153.5L517.4 153.8L520.1 153.7L522.3 152.7L523.9 152.7L525.5 153.5L527.7 154.0L529.9 153.9L531.1 153.2L531.0 152.1L529.3 150.9L527.7 149.8L526.1 148.9L524.5 148.7L522.3 149.6L521.2 148.6L522.3 147.7L520.1 146.9L519.0 147.7L518.2 148.7L517.0 150.2L516.2 151.7L516.3 153.5ZM523.9 148.6L525.7 148.6L527.5 146.7L526.4 146.3L524.1 147.3L523.9 148.6ZM539.1 146.9L541.8 146.4L543.7 146.7L543.5 148.6L541.6 149.6L540.5 149.6L541.5 151.2L543.1 152.9L543.4 154.9L544.3 155.2L544.4 156.5L544.4 158.5L541.8 159.2L540.2 158.5L539.1 158.2L538.9 156.7L539.7 154.8L538.6 152.9L537.5 151.4L537.4 149.6L536.6 149.4L537.5 148.2L539.1 146.9ZM386.0 146.8L388.1 146.9L391.4 147.1L394.1 147.1L393.6 145.4L392.0 144.3L389.2 144.7L386.0 146.8ZM390.5 152.7L390.9 150.8L390.5 149.2L393.6 147.7L393.1 148.9L392.3 150.2L392.0 152.4L390.5 152.7ZM394.0 147.7L394.7 148.1L395.2 148.7L395.3 150.2L396.4 151.4L397.2 149.6L397.9 148.6L398.4 147.8L396.8 147.6L394.0 147.7ZM395.3 153.1L396.3 153.4L399.0 152.4L400.2 151.6L397.9 151.8L396.3 152.6L395.3 153.1ZM399.2 151.1L401.2 150.9L403.0 150.7L402.8 149.9L401.2 150.3L399.6 150.6L399.2 151.1Z" fill="#fff" fill-rule="evenodd"/>
<path d="M521.7 204.7L522.8 204.8L522.9 205.7L523.7 206.3L522.3 208.2L521.2 208.5L520.3 207.3L520.4 205.7L521.7 204.7ZM517.6 209.3L518.0 210.7L518.9 213.2L519.8 215.6L519.4 215.9L518.5 214.4L517.7 212.5L517.5 210.7L517.6 209.3ZM522.8 217.0L523.6 219.4L523.5 221.3L524.1 222.9L523.8 222.9L523.2 220.6L522.8 218.8L522.8 217.0ZM500.3 188.1L501.3 187.6L501.8 188.3L501.6 189.1L501.1 189.3L500.6 188.8L500.3 188.1Z" fill="none" stroke="#3a3a3a" stroke-width="0.6"/>
<rect x="290.9" y="161.7" width="75.7" height="86.7" fill="none" stroke="#1a1a1a" stroke-width="1.10" stroke-dasharray="3.6 4.1"/><rect x="653.9" y="171.4" width="27.3" height="53.4" fill="none" stroke="#1a1a1a" stroke-width="1.10" stroke-dasharray="3.6 4.1"/>
</g>
<rect x="290.4" y="142.7" width="391.0" height="124.7" fill="none" stroke="#555" stroke-width="1"/>
<g clip-path="url(#cR3)">
<g filter="url(#soft)">
<path fill="#fffa00" fill-rule="evenodd" d="M295.9 299.6L291.8 299.7L291.8 283.0L323.8 283.1L323.6 292.8L322.7 294.7L321.5 295.7L312.1 297.9L304.0 298.2L295.9 299.6ZM518.1 366.6L514.0 367.1L498.8 367.1L495.7 366.7L493.7 365.5L492.6 361.6L493.2 353.9L494.8 351.9L499.4 350.0L500.3 348.0L499.8 346.0L498.8 345.1L496.8 344.7L483.6 344.7L481.5 345.1L479.8 346.1L478.5 348.0L478.6 350.0L480.5 351.9L484.6 353.5L485.5 354.8L485.8 356.8L484.6 359.1L479.5 361.2L477.2 364.5L475.4 365.4L466.3 365.0L459.2 366.2L456.2 365.8L454.3 364.5L452.1 360.3L450.1 359.1L429.8 359.7L423.7 359.0L422.3 357.7L420.8 353.9L419.8 352.9L414.2 351.0L411.3 347.1L406.7 345.1L405.4 344.1L404.5 341.3L404.1 332.5L402.9 330.6L396.4 328.7L392.8 326.7L386.2 316.8L384.1 315.1L380.1 313.5L375.0 312.4L373.4 311.2L371.2 303.4L371.2 300.5L373.0 297.7L377.0 296.1L378.4 294.7L378.9 283.1L421.2 283.1L421.3 316.0L422.4 318.0L425.7 319.1L441.0 319.7L444.0 319.0L446.3 317.0L449.1 316.0L475.4 314.9L478.4 313.1L479.4 310.2L479.3 308.3L478.4 306.4L473.2 303.4L471.5 299.6L470.4 298.4L467.3 297.5L455.2 297.2L448.1 296.2L446.7 295.7L444.0 292.0L442.0 290.8L432.8 290.1L430.8 289.3L429.5 287.0L429.3 283.1L469.9 283.1L470.3 287.0L472.4 289.5L474.4 290.2L482.5 290.6L484.6 291.5L485.6 292.8L486.0 294.7L486.1 316.0L486.6 319.0L487.6 320.3L489.7 321.2L499.8 321.9L501.8 323.8L503.5 327.7L507.9 330.4L508.6 332.5L509.1 341.3L512.4 349.0L514.0 350.4L518.1 352.0L519.9 354.8L520.1 363.6L519.5 365.5L518.1 366.6ZM599.2 406.2L567.3 406.2L567.0 403.3L565.7 401.9L559.7 400.7L555.6 399.0L554.3 397.5L552.9 392.6L550.0 387.8L549.8 385.9L550.9 380.0L550.4 377.1L548.5 374.9L544.4 372.8L543.5 371.3L543.6 370.3L545.5 368.4L551.5 366.8L561.7 366.4L569.8 367.8L582.0 368.3L584.0 369.4L586.0 373.0L588.1 373.9L595.2 374.0L598.2 373.4L599.5 371.3L600.3 362.6L601.3 361.2L605.3 359.3L607.0 357.7L608.8 352.9L610.1 346.1L615.1 341.3L615.3 339.3L614.8 338.3L612.4 337.1L609.4 336.9L589.1 336.9L581.0 338.3L577.9 338.0L576.9 337.4L575.7 335.4L574.9 329.6L573.3 323.8L571.8 322.1L569.8 321.5L561.7 321.9L560.3 322.8L557.4 327.7L555.6 328.6L553.6 328.6L551.5 326.7L550.5 323.8L549.5 322.4L545.5 320.5L541.4 316.7L535.3 314.9L533.4 313.1L532.5 310.2L531.8 301.5L531.2 299.8L530.2 298.7L527.2 298.1L515.0 298.0L513.0 297.6L511.6 296.7L510.5 293.7L510.4 283.1L664.7 283.1L664.7 289.9L664.2 290.4L662.1 290.6L660.1 291.4L658.9 292.8L657.6 296.7L656.0 298.5L653.0 299.5L642.9 300.2L640.9 301.5L639.2 304.4L637.8 305.4L631.7 305.9L626.6 305.4L624.6 303.5L622.9 299.6L620.5 298.3L612.4 298.3L610.8 299.6L610.6 301.5L611.4 302.9L616.6 305.4L617.8 307.3L619.3 312.2L623.0 315.1L625.4 319.0L632.7 320.5L637.8 322.2L642.4 327.7L646.9 330.8L648.3 333.5L648.8 340.3L649.4 341.3L653.0 343.0L655.0 344.8L658.1 353.1L667.2 357.7L680.4 357.6L680.4 383.4L675.3 382.9L673.8 382.0L671.5 379.1L669.2 378.2L666.2 378.5L662.1 380.9L660.1 381.0L657.6 380.0L656.7 378.1L656.2 370.3L654.0 362.7L648.9 360.6L647.4 358.7L645.9 355.2L640.8 352.8L639.3 351.0L638.2 348.0L636.8 347.1L635.8 347.7L634.2 351.9L632.7 353.6L630.7 354.7L626.1 355.8L625.1 356.8L624.9 357.7L625.6 359.0L629.7 360.6L631.7 362.6L632.3 371.3L633.3 374.2L634.7 375.2L637.8 376.2L639.8 378.1L640.3 382.9L639.8 388.8L637.8 390.7L635.8 391.1L613.4 391.2L609.4 391.8L607.1 393.6L605.3 397.7L600.9 400.4L600.0 402.3L599.7 406.2L599.2 406.2ZM680.4 305.9L668.2 305.6L666.2 304.8L665.2 303.4L664.6 290.8L665.2 290.3L669.2 290.1L671.3 289.2L672.5 287.0L672.8 283.1L680.4 283.1L680.4 305.9ZM604.5 295.7L607.1 294.7L607.2 292.8L605.3 290.9L602.3 290.9L600.4 292.8L600.8 294.7L602.3 295.5L604.5 295.7ZM547.5 359.9L540.4 360.1L537.3 359.7L535.4 357.7L535.4 354.8L537.3 352.9L540.4 351.9L541.8 351.0L543.4 347.1L545.5 345.2L553.6 344.7L557.6 345.8L558.8 348.0L558.0 351.0L552.6 353.5L549.9 358.7L547.5 359.9ZM300.9 406.2L291.7 406.2L291.8 360.9L298.9 361.4L305.0 362.7L310.1 364.9L320.2 365.5L330.4 367.8L335.7 370.3L338.4 374.2L341.5 376.5L353.6 379.1L355.1 380.0L355.0 382.0L352.7 383.3L346.6 384.7L335.4 385.9L333.0 386.8L330.8 389.7L329.3 390.7L319.2 391.8L316.9 393.6L314.6 397.5L313.3 398.5L302.0 402.1L300.9 406.2ZM369.9 390.2L367.9 390.6L365.3 388.8L365.0 385.9L366.9 384.0L369.9 384.0L371.8 385.9L371.9 387.8L369.9 390.2ZM501.8 406.2L486.1 406.2L485.9 402.3L484.6 396.5L484.5 389.7L485.0 385.9L486.6 384.2L489.7 383.7L491.7 384.3L492.9 385.9L494.3 389.7L496.8 391.5L500.8 391.9L508.9 391.2L510.4 391.7L510.5 398.5L509.9 399.0L505.9 399.4L504.1 400.4L502.8 402.3L502.3 406.2L501.8 406.2ZM515.0 390.9L511.0 391.1L510.5 390.7L510.7 388.8L511.8 386.8L515.0 385.9L517.5 386.8L518.0 387.8L517.3 389.7L515.0 390.9ZM455.2 406.2L388.7 406.2L389.2 402.2L390.5 400.4L392.3 399.4L424.7 398.8L426.7 398.1L430.8 394.6L434.9 393.9L442.0 394.5L447.0 398.3L453.1 400.1L454.9 402.3L455.2 406.2ZM518.1 406.2L510.4 406.2L510.4 399.4L511.0 398.9L514.0 399.0L517.0 400.1L518.3 402.3L518.6 406.2L518.1 406.2ZM542.4 406.2L526.7 406.2L527.2 401.4L528.2 400.1L530.2 399.3L539.4 401.4L541.4 402.2L542.4 403.3L542.9 406.2L542.4 406.2Z"/>
<path fill="#f5aa00" fill-rule="evenodd" d="M312.1 290.0L310.1 289.8L308.7 288.9L307.8 287.0L307.5 283.1L315.6 283.1L315.1 287.9L314.1 289.2L312.1 290.0ZM460.2 363.9L458.2 364.3L456.7 363.6L453.6 356.8L451.1 355.1L449.1 355.0L445.2 357.7L442.0 358.5L427.8 358.6L424.7 358.1L423.3 356.8L422.2 353.9L420.7 352.0L415.2 350.0L412.5 346.1L406.5 343.2L405.5 340.3L405.2 332.5L404.4 330.5L402.4 329.1L398.3 328.1L396.0 326.7L394.0 323.8L390.1 319.9L387.6 315.1L386.2 313.4L383.1 311.9L377.0 310.7L375.2 309.3L374.4 304.4L374.6 301.5L376.0 300.1L380.1 298.5L381.9 295.7L382.2 283.1L413.0 283.1L412.8 310.2L411.5 312.6L406.5 315.4L405.9 317.0L406.5 318.1L408.7 319.0L417.6 320.0L422.7 321.1L434.9 321.5L441.0 322.7L451.1 321.4L459.2 321.9L460.6 322.8L463.5 327.7L468.8 330.6L471.6 335.4L476.8 338.3L477.4 341.3L476.2 343.2L472.4 346.2L469.4 357.8L467.4 359.7L463.3 361.2L460.2 363.9ZM467.3 295.0L459.2 295.4L455.2 294.7L452.1 291.4L447.0 288.7L445.9 287.0L445.5 283.1L461.7 283.1L462.0 287.0L462.9 288.9L467.3 291.3L468.7 292.8L468.9 293.7L468.3 294.7L467.3 295.0ZM581.0 334.7L578.9 334.5L577.9 332.5L576.7 322.8L575.5 317.0L575.4 296.7L574.5 293.7L571.8 292.9L569.8 293.7L566.8 298.5L561.7 301.0L560.9 303.4L560.5 311.2L558.5 314.1L555.6 315.0L548.5 315.2L538.4 313.4L536.3 312.5L535.0 310.2L532.5 293.7L532.4 283.1L583.5 283.1L583.5 314.1L584.0 318.0L585.0 319.1L587.1 319.7L598.2 320.4L600.8 322.8L601.2 325.7L600.2 328.7L598.2 330.1L586.0 331.0L584.7 331.6L581.0 334.7ZM637.8 297.7L634.7 297.6L632.7 295.7L632.2 292.8L632.2 283.1L658.9 283.1L658.4 287.9L653.8 295.7L652.0 296.4L642.9 296.7L637.8 297.7ZM296.9 296.0L291.8 296.5L291.8 290.4L295.9 290.6L298.2 291.8L298.8 292.8L298.6 294.7L296.9 296.0ZM614.4 330.1L610.4 330.4L607.4 328.7L606.3 325.7L605.7 317.0L604.3 315.6L600.2 314.0L598.7 312.2L598.2 309.3L598.2 302.5L598.6 300.5L600.2 298.8L603.3 298.3L606.3 298.9L607.3 300.2L609.0 304.4L610.4 305.4L613.5 306.4L615.5 308.3L617.4 317.0L617.6 324.8L617.0 327.7L614.4 330.1ZM622.6 354.1L619.5 354.5L616.5 353.7L614.2 351.0L614.0 348.0L614.8 346.1L616.5 344.2L622.6 341.4L623.4 340.3L622.5 332.5L623.6 327.2L625.4 323.8L628.6 323.2L630.7 323.9L633.7 326.7L637.8 328.2L639.8 329.6L641.6 332.5L641.5 336.4L639.6 342.2L634.7 343.8L633.7 344.8L632.6 350.0L631.3 351.9L629.7 352.8L622.6 354.1ZM655.0 358.1L653.0 358.3L651.3 357.7L647.9 352.9L643.1 350.0L642.2 348.0L642.9 345.4L644.9 344.7L650.0 344.7L652.0 344.9L654.0 346.0L655.0 348.0L656.1 355.8L656.0 357.0L655.0 358.1ZM515.0 364.8L499.8 365.2L497.1 364.5L496.3 363.6L495.9 359.7L496.4 355.8L497.8 354.4L500.8 353.4L502.8 351.9L504.9 346.1L505.9 345.6L507.9 346.7L510.0 351.9L512.0 353.4L515.0 354.4L516.4 355.8L516.8 362.6L516.0 364.3L515.0 364.8ZM680.4 377.9L675.3 377.5L671.1 376.2L666.2 375.3L664.2 374.2L662.1 369.4L658.7 365.5L658.4 362.6L659.1 360.9L661.1 360.3L680.4 359.4L680.4 377.9ZM612.4 367.6L609.4 366.8L608.3 364.5L609.4 361.9L612.4 360.6L614.8 361.6L615.6 364.5L614.4 366.8L612.4 367.6ZM305.0 398.6L297.9 399.0L296.6 385.9L294.9 383.9L291.8 383.4L291.8 362.8L296.9 363.1L302.0 365.4L309.1 366.9L320.2 367.3L329.3 369.0L331.9 370.3L334.4 373.4L339.5 376.9L346.1 380.0L345.6 381.2L339.5 383.0L328.3 384.8L319.2 385.5L318.2 386.2L315.1 390.7L310.3 393.6L307.4 397.5L305.0 398.6ZM588.1 398.6L586.0 398.4L584.0 396.5L583.0 385.9L582.0 384.6L579.9 383.8L577.2 384.9L574.3 389.7L569.9 392.6L568.4 396.5L566.8 398.2L562.7 398.8L559.3 397.5L556.6 392.5L553.1 387.8L553.3 379.1L551.8 373.3L551.9 371.3L553.6 370.0L556.6 369.5L578.9 370.3L581.1 371.3L583.1 375.2L585.0 376.7L596.2 377.4L598.4 378.1L599.5 380.0L599.7 382.9L599.2 383.4L594.3 383.9L592.8 384.9L591.7 387.8L591.1 396.4L590.1 397.8L588.1 398.6ZM604.3 390.7L602.3 390.6L600.9 389.7L600.0 387.8L599.7 383.9L600.2 383.4L604.3 383.2L606.3 382.3L609.4 376.8L612.4 375.8L618.5 375.7L621.5 376.2L622.9 377.1L623.9 379.1L624.1 382.0L624.0 385.9L623.0 387.8L620.5 388.8L609.4 389.2L604.3 390.7ZM498.8 398.5L491.7 398.8L488.8 397.5L488.0 395.6L487.8 392.6L487.9 388.8L488.6 387.0L489.7 386.6L490.7 387.0L492.2 390.7L494.0 392.6L500.8 394.8L501.2 396.5L498.8 398.5ZM296.9 406.2L291.8 406.2L291.8 398.9L296.9 398.9L297.8 399.4L297.8 406.2L296.9 406.2ZM451.1 406.2L429.3 406.2L429.5 403.3L430.8 400.6L432.8 399.4L441.0 399.1L449.4 401.4L451.1 402.3L452.0 406.2L451.1 406.2Z"/>
<path fill="#f06400" fill-rule="evenodd" d="M555.6 311.6L552.6 312.0L545.5 311.9L539.4 311.2L537.8 310.2L535.7 303.4L534.9 294.7L534.8 283.1L577.0 283.1L576.8 287.0L575.9 288.9L574.3 289.9L569.8 290.7L567.8 291.5L564.6 295.7L560.7 297.8L558.8 299.6L557.7 302.5L557.3 309.3L556.6 310.9L555.6 311.6ZM650.0 291.9L643.9 291.8L640.8 290.8L639.0 287.9L638.7 283.1L656.5 283.1L656.3 287.0L655.0 289.8L653.0 291.4L650.0 291.9ZM396.3 319.9L392.3 318.9L387.7 312.2L386.5 309.3L386.4 302.5L386.9 299.6L388.2 297.5L391.2 296.1L394.3 296.1L397.3 297.5L398.7 299.6L400.1 304.4L403.4 306.9L404.3 308.3L404.0 311.2L398.3 315.8L396.3 319.9ZM612.4 326.9L610.4 326.2L609.7 324.8L609.4 317.0L608.4 314.2L606.3 312.6L602.6 311.2L601.9 310.2L601.5 303.4L602.3 301.5L603.3 301.1L604.6 301.5L607.3 306.5L612.4 308.8L613.4 310.2L614.2 317.0L614.2 323.8L613.8 325.7L612.4 326.9ZM441.0 356.8L428.8 356.9L425.7 356.4L424.7 355.4L423.2 351.9L421.7 350.4L416.6 348.5L413.6 345.0L407.5 342.3L406.7 340.3L406.0 330.6L404.3 328.7L399.4 327.1L397.6 325.7L396.6 319.9L401.4 320.0L421.7 323.4L433.8 323.8L435.9 324.5L439.9 327.3L454.1 328.3L459.2 330.0L460.9 331.6L463.3 335.3L467.3 337.7L468.9 339.3L469.4 342.2L468.0 349.0L466.3 351.8L459.2 353.8L451.1 352.6L447.0 352.8L445.0 353.8L443.0 356.1L441.0 356.8ZM596.2 327.0L593.1 327.5L587.1 327.4L585.0 326.7L584.3 324.8L585.0 323.8L587.1 323.2L595.2 323.2L596.7 323.8L597.4 324.8L597.2 326.1L596.2 327.0ZM635.8 336.6L630.7 336.9L627.6 336.2L626.6 335.2L626.1 333.5L626.6 330.8L627.6 329.9L629.7 329.6L637.3 331.6L638.0 332.5L638.1 334.5L637.6 335.4L635.8 336.6ZM624.6 351.9L620.5 352.2L617.5 351.3L616.3 349.0L616.7 347.1L617.5 346.0L619.5 344.9L626.6 343.5L629.7 343.8L631.1 346.1L630.7 350.0L628.6 351.4L624.6 351.9ZM652.0 351.1L651.0 350.9L649.9 350.0L649.5 349.0L650.0 348.0L651.0 347.6L652.3 348.0L652.8 350.0L652.0 351.1ZM680.4 375.7L674.4 375.2L667.2 372.5L665.2 365.5L665.8 363.6L667.7 362.6L673.3 361.4L680.4 360.9L680.4 375.7ZM305.0 395.7L303.0 396.2L302.0 395.8L301.1 394.6L299.7 389.7L298.9 383.9L296.9 378.3L294.9 377.4L291.8 377.2L291.8 366.4L309.1 368.5L319.2 368.7L323.4 369.4L329.0 371.3L332.4 376.1L337.0 378.1L338.1 379.1L338.1 380.0L336.0 381.0L318.2 382.5L315.3 384.9L312.8 388.8L308.0 391.7L305.0 395.7ZM564.7 395.6L563.7 396.1L561.7 395.6L560.8 393.6L559.2 386.8L559.7 378.1L560.7 376.8L562.7 375.9L569.8 375.7L572.8 376.2L574.8 378.1L574.8 380.0L573.6 382.0L568.8 384.5L567.8 385.8L564.7 395.6Z"/>
<path fill="#eb2800" fill-rule="evenodd" d="M541.4 304.7L539.4 304.9L538.4 304.0L537.9 302.5L537.2 295.7L537.2 283.1L573.7 283.1L572.8 287.1L561.5 290.8L560.2 291.8L557.9 295.7L555.6 297.5L546.5 298.3L544.4 299.2L541.4 304.7ZM653.0 287.9L650.0 288.7L643.9 288.3L642.5 287.0L642.0 283.1L654.2 283.1L654.0 286.0L653.0 287.9ZM394.3 314.4L392.3 314.4L391.2 313.7L389.3 311.2L388.8 309.3L389.2 300.6L390.2 299.2L392.3 298.4L394.3 298.7L396.3 300.5L398.0 308.3L398.0 310.2L397.2 312.2L394.3 314.4ZM419.6 343.5L418.6 344.0L416.6 343.9L409.5 341.3L408.4 339.3L408.2 332.5L407.5 329.6L405.4 327.1L400.4 324.8L400.7 323.8L403.4 323.3L410.5 324.1L411.9 324.8L414.6 328.1L420.0 330.6L421.1 333.5L421.1 339.3L420.7 342.2L419.6 343.5ZM459.2 350.3L456.2 350.7L448.1 349.9L443.0 346.7L431.8 344.2L429.9 342.2L429.9 339.3L430.8 338.0L435.7 335.4L438.9 331.4L443.0 330.7L451.1 331.2L453.1 332.5L455.3 335.4L460.0 338.3L461.3 340.3L461.5 348.0L460.2 349.8L459.2 350.3ZM627.6 349.2L621.5 349.9L619.5 349.0L619.5 348.0L621.2 347.1L626.6 346.6L628.1 347.1L628.5 348.0L627.6 349.2ZM680.4 373.4L676.3 373.2L674.3 372.4L673.3 371.3L672.9 366.5L673.4 364.5L674.6 363.6L680.4 362.9L680.4 373.4ZM305.0 389.9L303.0 389.8L302.4 388.8L300.8 378.1L299.9 376.3L296.9 374.4L291.8 374.1L291.8 369.5L319.2 370.8L322.2 371.8L322.9 373.3L322.2 374.5L317.2 376.7L314.1 381.3L309.1 384.5L306.3 388.8L305.0 389.9Z"/>
<path fill="#b91e00" fill-rule="evenodd" d="M394.3 310.5L393.3 311.1L392.3 310.8L391.4 309.3L391.2 303.4L392.3 301.5L393.3 301.5L394.3 303.1L394.9 308.3L394.3 310.5ZM450.1 344.3L439.9 342.6L438.3 341.3L438.4 339.3L439.9 337.8L442.0 337.1L450.1 337.3L452.1 338.6L453.2 341.3L452.4 343.2L450.1 344.3Z"/>
<path fill="#6ef5ff" fill-rule="evenodd" d="M458.2 398.6L449.1 396.4L445.3 393.6L442.0 392.5L432.8 392.0L424.7 393.4L416.6 393.4L399.4 392.6L393.3 391.5L390.5 392.6L387.2 397.3L385.1 398.5L373.0 398.9L372.5 398.5L372.6 396.5L373.4 393.6L377.3 390.7L378.6 388.8L380.1 381.0L379.1 378.8L376.0 378.0L360.8 378.3L343.6 376.0L340.1 374.2L337.6 369.4L336.4 368.4L325.3 364.6L321.2 362.7L311.1 361.5L305.0 360.3L291.8 359.4L291.8 311.4L303.0 311.3L306.0 310.5L309.1 306.9L314.1 304.8L317.3 300.5L325.3 296.7L330.4 295.0L333.4 291.4L338.2 288.9L339.6 287.0L340.0 283.1L348.1 283.1L348.3 287.0L350.3 295.7L351.7 297.5L355.1 299.6L357.4 304.4L359.8 305.6L367.9 306.3L369.1 307.3L370.8 311.2L372.6 313.1L379.3 315.1L387.2 320.6L389.0 322.8L391.0 327.7L392.1 328.7L402.1 331.6L403.1 333.5L403.5 343.2L404.4 345.7L405.4 346.6L409.5 348.2L413.5 351.9L419.2 353.9L421.6 358.7L422.7 359.8L425.7 360.6L446.0 361.0L450.1 362.3L452.8 365.5L456.2 367.1L468.3 366.9L476.5 368.3L478.5 369.4L479.4 371.3L479.3 374.2L476.9 382.0L472.4 385.3L470.9 389.7L469.4 391.6L463.7 393.6L460.2 397.9L458.2 398.6ZM461.2 313.2L456.2 313.6L441.0 313.4L438.6 312.2L437.7 309.3L438.9 307.0L443.8 304.4L446.0 301.2L448.1 300.0L457.2 298.9L465.3 298.9L468.0 299.6L469.4 301.0L470.6 305.4L471.4 306.4L475.0 308.3L475.6 309.3L475.4 310.6L473.4 311.8L465.3 312.2L461.2 313.2ZM345.0 313.1L346.9 312.2L347.5 311.2L347.5 309.3L345.6 307.9L342.2 308.3L341.1 309.3L341.1 311.2L342.5 312.7L345.0 313.1ZM680.4 354.9L667.2 354.6L660.1 352.0L658.2 350.0L657.2 346.1L654.4 340.3L653.8 331.6L653.0 330.1L649.4 326.7L648.6 324.8L648.5 321.9L654.0 320.2L655.3 319.0L657.6 315.1L659.1 314.1L667.2 312.2L680.4 312.1L680.4 354.9ZM647.9 321.3L643.9 320.9L641.8 319.6L640.7 317.0L641.8 314.8L644.9 314.0L647.3 315.1L648.3 318.0L648.4 320.9L647.9 321.3ZM360.8 326.7L361.4 325.7L361.5 323.8L360.8 322.4L358.8 321.5L344.6 321.6L341.8 322.8L340.7 324.8L341.8 326.7L344.6 327.5L357.8 327.5L360.8 326.7ZM531.2 344.4L517.0 344.6L514.0 343.8L512.7 342.2L512.2 340.3L512.5 331.6L513.0 330.4L515.0 329.3L524.1 328.6L525.5 327.7L527.2 323.8L529.2 321.9L533.3 321.4L539.4 321.8L541.9 323.8L542.3 326.7L541.4 328.0L537.3 329.6L535.3 331.6L534.3 342.2L533.3 343.5L531.2 344.4ZM570.8 336.6L564.7 336.9L561.7 336.4L559.8 334.5L560.1 331.6L561.7 330.0L563.7 329.3L570.8 329.6L572.0 330.6L572.8 333.5L572.3 335.4L570.8 336.6ZM399.8 357.7L401.4 357.1L402.1 355.8L401.4 353.3L399.4 352.5L391.2 351.9L389.8 351.0L387.8 347.1L386.2 345.6L384.1 345.1L381.8 346.1L380.9 349.0L383.1 356.8L386.2 357.8L399.8 357.7ZM579.9 365.6L570.8 365.5L568.8 364.7L567.7 363.6L567.3 360.6L567.3 350.0L567.8 347.1L568.8 345.7L572.8 344.7L600.2 344.7L603.3 344.8L605.3 346.0L605.9 349.0L605.3 350.7L604.3 351.7L602.3 352.3L594.2 352.9L592.1 354.8L591.1 357.7L590.1 359.1L585.2 361.6L582.9 364.5L579.9 365.6ZM500.8 390.0L498.8 390.2L496.8 389.7L495.7 388.8L494.4 384.9L493.2 382.9L491.7 381.9L486.9 380.0L486.2 378.1L486.1 373.3L487.2 369.4L488.6 368.4L490.7 368.2L515.0 368.7L518.1 369.2L519.1 369.9L519.9 371.3L520.2 376.2L520.0 380.0L519.1 382.0L517.0 383.1L511.0 383.9L505.9 385.3L502.9 388.8L500.8 390.0ZM549.5 400.4L546.5 400.9L536.3 398.3L534.0 396.5L532.3 392.4L527.8 389.7L526.8 386.8L526.7 381.0L527.2 378.1L528.2 376.8L534.3 374.8L538.4 374.3L541.4 375.0L547.6 378.1L548.3 380.0L547.8 382.0L544.7 384.9L543.8 386.8L544.4 388.0L549.5 390.7L551.0 392.6L551.6 394.6L551.5 397.5L550.7 399.4L549.5 400.4ZM672.3 406.2L613.6 406.2L613.3 401.4L612.4 399.6L610.4 397.7L610.0 395.6L610.4 394.6L612.4 393.6L620.5 393.5L622.6 394.0L626.6 396.3L635.8 398.6L643.9 398.8L646.7 397.5L648.0 395.6L648.7 386.8L650.0 384.5L653.0 383.5L662.1 383.6L665.2 384.9L667.3 389.7L671.3 392.3L672.3 393.6L672.8 399.4L672.8 406.2L672.3 406.2ZM372.0 406.2L323.8 406.2L323.8 404.3L324.3 401.4L326.3 399.4L344.6 398.5L346.6 397.3L349.2 392.6L350.7 391.7L357.8 391.2L360.8 391.6L362.6 392.6L365.5 397.5L366.9 398.4L372.0 398.9L372.5 399.4L372.5 406.2L372.0 406.2Z"/>
<path fill="#5aaaff" fill-rule="evenodd" d="M335.4 307.3L328.3 307.4L325.3 306.9L322.8 304.4L322.8 301.5L324.4 299.6L326.3 298.6L338.5 295.9L341.8 291.8L343.6 291.1L344.6 291.2L345.6 292.1L346.2 293.7L347.7 300.5L347.5 302.5L345.6 304.0L335.4 307.3ZM457.2 311.3L448.1 310.9L446.8 310.2L446.6 308.3L448.1 306.8L452.1 304.8L455.2 301.5L460.2 300.8L466.3 301.5L467.0 303.4L466.3 305.1L463.3 306.9L460.6 310.2L457.2 311.3ZM457.2 392.7L450.1 393.2L444.0 391.5L434.9 390.6L417.6 391.2L409.5 389.8L401.4 389.5L398.4 388.8L395.2 385.9L392.3 385.2L389.4 385.9L387.2 389.4L385.1 390.5L384.1 390.5L382.7 388.8L382.8 385.9L384.1 384.1L386.2 382.8L386.9 380.0L386.2 377.6L384.1 376.0L378.0 375.7L360.8 376.4L343.6 374.9L340.8 373.3L339.3 369.4L337.5 367.0L329.3 362.1L311.1 358.6L291.8 357.6L291.8 313.6L304.0 313.6L312.1 312.2L320.2 313.5L334.4 313.7L337.5 314.5L339.4 317.0L339.0 319.0L338.2 319.9L335.4 321.2L326.3 321.9L324.3 323.8L322.7 327.7L318.6 330.6L318.1 332.5L318.8 333.5L322.2 334.1L327.3 334.1L330.2 333.5L333.4 330.2L335.4 329.4L344.6 330.6L360.8 330.3L362.8 329.0L363.8 327.3L364.6 317.0L365.9 314.7L366.9 314.2L368.9 314.2L378.0 317.0L381.1 319.5L385.1 321.0L387.2 322.4L389.8 328.7L391.2 330.3L393.3 331.3L399.7 332.5L401.4 334.5L401.4 342.0L400.4 344.0L399.4 344.5L392.3 344.2L390.2 343.0L388.1 340.3L385.9 339.3L377.0 339.2L373.5 340.3L372.5 343.2L372.6 347.1L373.2 349.0L378.0 353.8L379.6 356.8L382.1 359.1L386.2 360.1L399.4 360.1L402.3 359.7L404.4 357.7L405.7 352.9L406.5 351.9L408.5 351.4L418.3 354.8L420.7 359.6L422.7 361.1L425.7 361.7L443.0 362.0L445.2 362.6L448.8 365.5L454.1 367.8L458.2 368.3L468.3 368.3L474.3 370.3L475.4 371.2L475.8 372.3L475.4 374.1L472.4 377.5L467.3 388.6L460.2 391.9L457.2 392.7ZM680.4 353.1L669.2 353.1L664.5 351.9L660.1 349.2L657.1 342.2L656.4 331.6L655.2 325.7L655.6 323.8L658.1 321.0L662.8 319.0L667.2 315.6L680.4 315.2L680.4 353.1ZM578.9 359.7L576.6 358.7L575.7 355.8L576.9 353.5L579.9 352.7L582.3 353.9L583.0 356.8L581.7 358.7L578.9 359.7ZM499.8 387.3L498.8 387.7L497.5 386.8L494.5 379.1L494.4 373.3L495.7 371.3L498.8 370.7L512.0 370.6L516.0 371.6L516.8 373.3L516.9 376.2L516.0 380.2L514.0 381.1L503.9 382.5L501.9 383.9L499.8 387.3ZM538.4 383.0L536.0 382.0L535.5 381.0L535.7 379.1L537.3 377.8L540.4 377.9L541.8 379.1L541.8 381.0L540.4 382.5L538.4 383.0ZM664.2 406.2L648.4 406.2L648.6 403.3L649.4 401.4L651.0 399.8L655.0 397.9L656.0 396.5L656.9 387.8L657.6 386.8L659.1 386.1L662.1 386.7L663.1 388.8L664.6 395.6L664.7 406.2L664.2 406.2ZM547.5 398.6L544.4 398.4L538.4 396.3L536.9 394.6L537.3 392.5L538.4 391.7L541.4 391.2L546.5 391.4L548.5 392.2L549.6 393.6L549.9 395.6L549.3 397.5L547.5 398.6ZM633.7 406.2L616.0 406.2L616.5 400.0L617.5 398.5L619.5 397.7L630.7 399.6L632.1 400.4L633.4 402.3L633.7 406.2ZM355.7 406.2L348.1 406.2L348.6 402.3L349.6 400.7L351.7 399.5L354.7 400.1L356.0 402.3L356.2 406.2L355.7 406.2Z"/>
<path fill="#3c82ff" fill-rule="evenodd" d="M337.5 303.6L334.4 304.2L329.3 304.2L327.3 303.7L326.3 302.5L326.6 301.5L328.3 300.6L336.4 299.9L338.5 300.5L339.0 301.5L338.8 302.5L337.5 303.6ZM453.1 390.7L449.1 391.0L432.8 388.6L416.6 388.8L414.2 387.8L412.0 384.9L410.5 383.9L400.4 383.2L392.3 381.5L390.6 380.0L386.7 370.3L385.1 368.7L383.1 369.2L379.1 372.8L370.9 374.6L359.8 374.9L344.6 374.0L342.6 373.3L341.8 372.3L336.9 361.6L334.4 359.9L330.4 358.9L318.8 357.7L312.1 354.8L291.8 354.6L291.8 315.9L311.1 315.3L314.1 316.1L315.6 318.0L317.1 323.8L316.8 326.7L314.6 331.6L314.8 333.5L316.9 335.4L320.2 336.1L329.3 336.0L337.5 334.7L361.8 335.2L363.7 334.5L364.3 333.5L366.1 328.7L367.0 323.8L368.9 321.5L373.0 320.3L376.0 320.1L385.1 322.6L387.1 324.8L389.7 332.5L389.8 334.5L389.2 335.4L387.6 336.4L385.1 336.8L369.9 336.9L367.3 337.4L366.2 339.3L364.9 347.1L365.6 349.0L372.0 352.0L376.3 357.7L382.1 361.1L385.1 362.3L399.4 362.4L403.4 361.9L406.3 359.7L408.4 354.8L410.5 354.5L416.6 356.1L419.6 361.3L422.7 363.0L441.4 363.6L443.0 364.2L445.0 366.5L447.0 367.6L456.2 369.3L466.3 369.3L469.5 370.3L470.5 371.3L470.9 373.3L467.1 382.0L459.9 388.8L453.1 390.7ZM680.4 351.7L668.2 351.5L666.2 350.9L663.8 349.0L660.0 343.2L659.0 340.3L658.4 326.7L658.7 324.8L660.1 323.4L668.2 320.1L680.4 319.8L680.4 351.7ZM546.5 395.7L545.2 395.6L545.0 394.6L546.7 394.6L546.5 395.7ZM629.7 406.2L618.3 406.2L618.8 402.3L619.5 401.3L621.5 400.8L628.6 401.6L630.2 403.3L630.5 406.2L629.7 406.2Z"/>
<path fill="#2832fa" fill-rule="evenodd" d="M311.1 328.8L291.8 329.1L291.8 321.4L311.1 321.7L312.9 322.8L313.6 324.8L313.1 327.1L311.1 328.8ZM384.1 334.5L376.0 334.5L373.5 333.5L372.6 331.6L372.5 327.7L372.8 325.7L374.0 324.0L376.0 323.2L378.0 323.2L384.6 324.8L385.6 326.7L386.6 332.5L386.2 333.6L384.1 334.5ZM680.4 349.7L669.2 349.5L667.6 349.0L666.7 348.0L664.8 340.3L664.7 328.7L665.0 325.7L667.2 323.6L670.2 323.0L680.4 322.9L680.4 349.7ZM370.9 372.3L367.9 372.9L361.8 373.0L344.6 372.2L343.4 371.3L340.6 365.5L339.5 356.1L338.3 354.8L336.4 354.2L320.2 353.9L311.1 352.4L291.8 352.4L291.8 335.3L310.1 335.4L317.2 337.3L320.2 337.6L344.6 337.0L351.7 338.3L360.8 338.9L362.2 340.3L362.1 342.2L360.8 344.0L357.4 346.1L356.7 348.0L357.6 350.0L369.9 353.0L371.8 354.8L374.0 359.1L379.1 361.2L381.4 363.6L381.4 365.5L380.1 367.4L378.0 368.8L374.0 370.3L370.9 372.3ZM409.5 375.4L393.3 375.3L391.0 373.3L390.8 370.3L392.3 368.4L394.3 368.0L409.5 368.1L411.9 369.4L412.7 371.3L411.9 374.2L409.5 375.4ZM450.1 388.8L439.6 387.8L434.9 384.3L430.8 382.4L428.1 377.1L422.3 374.2L421.5 371.3L422.3 369.4L423.7 368.4L425.7 368.0L433.8 368.2L436.3 369.4L438.7 373.3L441.0 373.8L443.8 373.3L447.0 370.7L449.1 370.3L456.2 371.0L465.3 371.2L467.3 372.3L466.9 374.2L464.3 376.7L462.7 381.0L461.3 382.9L459.2 384.4L455.2 385.8L452.1 388.1L450.1 388.8Z"/>
<path fill="#1e00fa" fill-rule="evenodd" d="M680.4 344.6L675.3 344.1L673.3 342.2L672.8 339.3L673.0 332.5L673.9 330.6L675.4 329.6L680.4 329.1L680.4 344.6ZM344.6 352.1L335.4 350.9L291.8 350.1L291.8 338.5L311.1 338.5L320.2 339.6L344.6 339.3L346.6 340.1L347.7 341.3L348.1 345.1L347.6 350.0L346.6 351.3L344.6 352.1ZM369.9 367.5L364.9 367.9L345.6 367.7L343.6 366.3L342.8 364.5L342.8 362.6L343.6 361.2L344.6 360.5L353.7 359.7L355.1 358.7L356.7 355.7L358.8 354.3L361.8 354.1L367.7 354.8L369.4 355.8L372.0 360.8L377.0 363.1L378.0 364.5L377.4 365.5L376.0 366.1L369.9 367.5ZM451.1 383.1L445.0 383.4L441.0 383.0L438.4 381.0L438.1 379.1L439.9 377.6L450.1 375.8L457.2 375.9L459.2 377.0L459.7 379.1L458.7 381.0L451.1 383.1Z"/>
</g>
<path d="M349.7 278.9L350.3 282.0L351.1 284.6L351.9 287.6L351.4 291.3L351.7 294.5L353.5 297.7L354.2 299.4L355.6 301.8L359.3 304.1L360.6 306.8L362.5 309.9L364.9 313.6L367.1 316.1L367.6 315.9L364.9 311.1L361.9 305.6L363.8 305.8L366.0 309.3L367.6 311.8L369.8 314.2L371.9 318.0L371.9 319.8L374.1 321.9L377.9 323.6L381.7 325.2L384.4 324.7L386.3 326.7L388.7 327.6L391.4 328.5L393.0 330.4L393.4 332.2L394.7 332.9L396.8 334.5L399.5 335.3L400.1 333.7L401.5 334.5L401.9 335.6L402.4 334.0L400.6 332.9L398.4 333.7L396.8 332.9L395.7 331.2L395.7 327.3L396.1 326.0L394.1 324.9L390.9 325.0L390.5 321.8L391.4 318.0L388.3 318.6L388.2 320.5L387.1 321.7L384.4 322.1L382.2 321.1L380.8 318.0L380.6 313.6L380.9 310.5L383.8 308.0L387.6 308.4L389.6 308.5L390.3 307.0L393.0 306.9L395.2 307.4L396.3 308.7L396.7 310.5L397.6 312.4L398.4 313.4L399.4 312.6L398.9 309.3L398.1 306.8L398.4 304.9L400.6 303.1L402.8 301.7L404.4 301.0L403.9 298.7L404.4 296.9L406.0 294.4L408.2 293.8L410.3 293.0L409.8 291.3L412.5 289.5L414.7 288.8L416.3 288.2L414.7 290.0L417.4 289.3L420.1 288.4L421.2 287.6L419.5 286.3L416.3 286.3L415.8 284.1L416.5 283.8L414.1 282.6L421.2 282.2L424.4 280.7L425.5 278.9ZM421.9 285.6L425.5 283.2L428.2 283.5L429.1 285.7L428.2 286.8L426.0 286.3L421.9 285.6ZM352.7 284.7L350.3 284.0L348.1 282.5L347.0 281.4L349.7 281.4L352.7 284.7ZM394.1 317.6L397.4 316.0L399.5 316.1L402.8 318.0L405.8 319.6L402.2 320.0L401.1 318.0L397.9 317.3L394.1 317.6ZM405.6 320.1L408.2 320.0L411.4 321.1L412.1 321.7L409.3 322.6L405.6 321.8L405.6 320.1ZM401.4 321.8L403.5 322.1L403.0 322.4L401.4 322.1ZM413.4 321.7L415.1 321.8L415.0 322.3L413.4 322.3ZM402.4 334.0L401.9 335.6L402.2 337.2L402.2 339.7L400.8 342.8L399.5 344.6L399.0 346.5L399.5 347.8L398.2 350.2L398.4 352.1L400.1 354.0L401.7 357.1L403.5 361.4L404.9 363.9L408.7 366.4L410.0 367.6L410.1 373.2L409.7 378.2L408.7 381.9L408.6 385.6L408.2 389.3L406.6 391.2L406.3 394.3L406.0 396.8L405.5 400.5L404.4 404.2L404.6 407.9L406.0 410.4L408.2 411.7L412.0 410.4L412.0 409.2L411.4 407.3L412.7 404.2L414.9 403.6L413.1 401.7L413.6 400.5L415.8 398.6L416.6 397.5L415.8 395.5L418.7 394.9L419.0 393.0L423.9 391.8L424.7 389.9L423.9 388.7L422.8 387.1L425.5 388.0L427.7 387.8L429.3 385.6L431.4 382.5L433.5 379.4L433.6 376.3L435.8 374.4L438.5 373.2L440.6 373.1L441.7 371.3L443.1 368.8L443.9 364.5L444.1 360.8L445.5 358.9L447.7 356.4L448.4 354.0L448.0 351.5L446.1 350.6L443.9 349.0L441.2 348.2L438.5 347.8L436.3 346.1L433.6 346.3L432.0 344.6L431.4 342.4L430.4 339.4L428.2 337.7L424.4 337.2L421.7 334.7L420.1 333.1L418.5 331.5L416.3 332.0L414.1 331.5L412.2 331.6L410.3 329.6L408.7 331.0L408.2 329.3L406.6 330.6L404.4 331.6L403.3 333.5L402.4 334.0ZM479.7 300.2L483.9 301.1L487.2 299.4L491.5 299.0L496.7 298.4L498.0 298.7L497.5 300.0L498.0 301.2L496.9 302.2L498.0 303.3L500.2 303.9L502.7 304.6L504.5 306.2L506.7 307.0L507.7 306.2L507.7 304.7L509.9 303.8L513.2 305.2L515.9 305.8L518.0 306.2L519.6 305.4L521.1 305.8L523.1 305.8L523.9 308.0L523.2 309.9L522.6 310.2L521.4 307.5L521.4 308.0L522.4 310.3L523.4 312.4L524.6 315.5L526.5 318.6L527.7 322.3L528.8 325.3L531.0 327.5L533.0 329.1L532.9 330.3L534.3 331.7L536.4 331.2L539.1 330.6L541.5 330.0L541.3 331.7L540.8 334.7L539.1 337.8L537.5 340.3L535.3 342.2L532.6 345.3L531.0 347.1L529.4 349.0L528.6 350.9L528.8 353.3L528.6 355.2L529.9 357.7L529.9 362.0L530.3 363.3L528.3 365.7L526.1 367.0L524.5 370.7L524.5 373.8L521.6 376.7L521.3 380.0L519.6 381.9L516.9 385.0L513.7 386.8L509.9 387.1L507.7 387.8L506.0 387.1L505.6 385.0L504.0 380.1L502.5 377.5L501.8 372.9L499.6 368.2L498.9 365.5L499.3 362.0L500.8 359.5L500.5 355.8L499.4 352.1L499.1 350.9L496.4 347.8L496.2 344.6L496.5 341.5L496.7 339.8L495.5 339.1L493.7 339.2L492.4 339.3L491.5 337.8L490.4 336.7L488.3 336.8L487.2 337.2L483.9 338.7L481.8 338.2L478.0 339.2L475.8 337.8L473.7 336.1L471.7 334.1L471.5 332.9L469.9 331.2L468.0 329.3L467.9 327.9L467.2 326.4L468.2 324.8L468.5 321.1L467.7 318.6L468.8 315.5L470.4 312.4L472.0 310.2L474.2 309.3L475.5 308.0L475.7 306.8L476.0 304.3L476.9 303.3L478.7 302.5L479.7 300.2ZM539.5 359.5L540.4 363.3L539.8 365.7L538.6 370.1L537.0 375.7L534.8 376.3L533.4 373.2L533.2 371.3L534.2 368.8L533.7 365.7L535.9 364.3L537.5 362.6L539.5 359.5ZM486.1 278.9L487.7 282.4L486.3 283.0L484.8 283.3L484.3 283.0L484.0 284.2L481.0 284.6L481.4 285.3L483.9 286.2L484.8 287.6L484.5 290.0L484.2 290.8L480.7 290.7L477.4 290.4L476.0 291.3L476.6 292.5L476.5 295.0L475.8 296.5L476.6 297.5L476.5 298.7L478.0 298.5L479.4 299.4L480.0 300.0L481.2 299.1L483.8 299.0L485.6 297.1L486.3 296.3L485.8 295.6L487.1 293.8L489.6 292.5L489.5 291.2L491.0 290.8L493.1 291.2L494.2 290.3L495.6 289.5L497.1 290.2L497.5 291.4L499.3 292.9L500.9 293.5L503.0 295.0L503.1 297.2L503.5 297.5L504.1 296.3L504.7 295.8L504.0 294.8L506.1 294.9L504.6 293.8L503.4 292.7L501.3 291.8L499.5 289.7L499.4 288.3L500.8 287.9L501.3 288.9L502.3 289.4L503.4 290.7L506.1 292.0L507.2 292.9L507.1 294.6L508.3 295.6L509.0 297.1L509.5 299.0L510.3 299.4L511.0 298.1L512.1 297.5L511.0 296.5L510.8 294.6L512.1 294.0L514.2 294.0L514.6 294.8L514.5 295.8L515.5 296.9L515.6 298.7L516.9 299.1L519.1 299.5L521.3 299.8L523.5 299.0L525.3 299.2L524.8 300.6L525.0 301.8L524.1 303.7L523.4 305.6L523.1 305.8L523.9 308.0L524.5 309.9L525.6 312.4L526.7 314.9L528.3 317.3L528.8 319.8L530.5 322.9L532.2 325.4L533.0 328.9L534.8 328.8L538.0 327.3L541.3 325.8L542.9 324.2L545.6 322.9L547.6 321.7L549.4 319.2L550.8 316.7L549.6 315.4L547.8 314.9L547.0 312.0L546.2 313.0L544.5 314.7L542.4 314.9L541.8 313.0L541.3 312.4L540.2 311.8L538.6 309.3L538.0 307.4L540.2 307.4L541.3 309.3L543.5 311.1L546.7 311.1L548.3 312.8L552.7 313.4L558.1 313.3L559.1 314.9L560.8 316.7L561.9 316.4L564.7 318.0L564.9 321.1L565.6 324.8L566.7 327.9L567.8 331.0L568.9 334.1L570.0 334.7L570.7 333.5L572.1 331.9L572.7 329.1L573.0 325.4L575.2 323.9L577.5 321.1L579.7 319.5L580.3 318.0L581.9 317.6L583.5 317.3L585.1 316.7L585.7 318.6L586.2 319.8L587.8 321.7L588.4 324.8L589.5 325.0L591.6 324.2L591.9 326.7L592.7 329.8L592.7 332.9L592.5 334.7L593.8 336.6L594.6 338.4L595.4 340.9L597.0 342.2L598.1 343.0L598.9 342.8L598.0 339.9L598.0 337.8L596.5 337.0L594.9 335.3L594.3 333.5L593.5 331.6L594.3 328.3L595.2 328.9L597.0 329.8L597.9 331.6L599.5 333.9L601.4 332.6L603.8 330.6L604.3 328.5L603.7 325.4L601.6 322.9L600.5 321.1L601.5 319.2L603.0 318.0L604.8 318.0L605.7 319.5L606.2 318.0L608.9 317.1L611.6 316.4L613.8 314.2L615.4 312.8L616.0 311.1L617.6 309.3L618.1 307.4L617.0 306.4L617.9 305.6L616.5 303.7L615.4 301.2L616.5 300.0L618.7 298.7L617.0 297.9L614.9 298.5L613.8 296.9L613.5 296.3L614.9 295.9L617.0 294.0L618.5 294.4L617.3 296.3L620.3 295.1L621.4 295.6L621.7 297.9L623.0 298.2L622.8 301.2L624.1 301.7L626.0 301.0L626.2 299.0L625.2 296.7L624.1 295.3L626.5 293.9L626.6 292.0L627.9 291.5L630.0 291.5L632.7 290.2L634.9 288.2L637.1 285.1L638.2 282.6L638.7 278.9L551.0 278.9L486.1 278.9ZM626.5 303.1L627.3 302.5L628.4 303.1L629.0 304.3L628.2 305.9L627.1 306.2L626.6 304.3L626.5 303.1ZM629.3 303.4L630.6 302.3L631.9 302.5L631.4 303.3L630.0 303.9L629.3 303.4ZM627.9 302.1L629.5 300.7L631.1 300.5L633.3 300.3L634.1 298.5L634.9 298.2L636.0 297.7L637.2 296.3L637.6 294.4L637.9 293.4L639.2 293.3L639.7 295.0L639.2 296.9L638.7 298.1L638.5 300.0L637.6 301.1L636.5 301.6L635.4 301.7L634.4 301.7L633.3 303.1L632.2 302.7L632.4 301.7L630.0 301.8L627.9 302.1ZM637.6 293.1L637.6 291.3L639.2 288.3L640.9 289.7L643.6 290.9L641.9 291.4L641.1 292.5L638.7 292.8L637.6 293.1ZM639.8 287.6L641.4 286.6L640.9 283.8L642.5 283.8L640.9 278.9L639.8 278.9L639.8 287.6ZM616.1 316.1L617.0 313.4L618.1 313.6L617.6 316.1L616.8 317.5L616.1 316.1ZM603.6 320.8L605.7 319.7L606.2 320.3L605.1 321.9L603.7 321.7L603.6 320.8ZM616.0 321.7L618.5 321.7L618.1 324.5L617.6 326.9L620.3 328.5L619.5 329.1L617.6 327.9L616.5 326.7L615.8 324.4L616.0 321.7ZM618.1 336.0L619.8 334.7L620.8 334.0L621.9 332.9L623.0 334.7L622.5 336.8L621.7 337.7L620.3 336.6L618.1 336.0ZM620.8 329.1L622.1 329.8L621.6 332.2L620.8 331.6L620.8 329.1ZM618.1 330.0L619.2 330.4L619.8 332.2L618.7 332.9L618.1 331.6L618.1 330.0ZM616.4 327.9L617.6 328.1L617.3 329.5L616.4 327.9ZM612.9 334.2L615.4 331.2L615.6 331.7L613.3 334.5L612.9 334.2ZM604.1 342.4L605.1 342.5L606.8 341.5L608.4 340.7L609.5 338.9L611.1 338.2L612.2 336.6L613.0 336.2L614.3 337.8L614.9 338.4L613.8 339.3L613.4 340.7L613.8 343.4L613.3 344.6L612.2 346.5L611.6 349.0L610.0 349.2L608.4 348.6L606.8 348.4L605.5 348.1L605.1 346.5L604.3 344.6L604.1 342.4ZM589.2 337.7L591.6 338.2L592.9 340.1L594.9 342.2L596.5 344.0L598.1 345.6L599.2 347.1L600.8 348.4L600.6 351.8L599.2 351.6L596.8 349.6L595.4 347.8L594.3 345.9L593.2 344.0L592.2 341.9L590.5 340.1L589.2 337.7ZM599.9 353.1L600.8 352.1L603.3 352.5L605.7 352.7L607.8 353.2L610.0 354.2L609.9 355.4L607.3 355.0L605.1 354.7L603.0 354.3L601.4 353.8L599.9 353.1ZM610.6 354.8L611.6 355.0L614.9 354.8L617.0 355.1L619.2 354.8L619.2 355.4L616.0 355.7L612.7 355.8L610.6 355.6L610.6 354.8ZM619.8 357.4L623.5 355.1L623.9 355.2L620.6 357.1L619.8 357.4ZM615.4 351.5L616.5 351.5L616.3 348.1L617.0 347.9L618.1 350.6L619.0 350.2L617.6 346.9L619.2 345.8L617.0 345.9L616.2 343.9L617.0 343.2L620.8 344.0L621.4 342.8L620.8 343.4L617.0 343.7L616.0 344.0L615.4 345.9L614.7 348.1L615.4 351.5ZM624.1 342.8L624.6 341.9L625.2 342.8L624.6 344.0L625.5 344.4L624.6 345.6L624.1 344.6L624.1 342.8ZM624.6 348.6L627.7 348.7L627.3 349.4L624.8 349.1L624.6 348.6ZM627.9 345.9L629.5 345.3L631.1 345.6L631.4 348.1L632.2 348.7L634.9 346.5L637.6 347.5L640.3 348.6L642.5 349.6L644.1 351.5L645.7 352.1L646.1 353.1L645.2 354.3L646.3 355.2L647.9 356.6L649.3 357.3L647.9 357.6L645.7 357.2L644.1 354.8L641.9 354.2L641.4 355.8L640.3 356.2L638.7 355.9L636.5 354.6L635.4 355.1L635.1 354.1L636.0 353.1L635.4 351.2L633.3 350.2L631.1 349.4L629.8 349.6L629.0 348.1L630.0 347.5L629.0 347.3L627.9 346.4L627.9 345.9ZM646.8 351.5L648.4 351.0L650.1 349.9L650.9 350.0L650.1 350.9L649.0 352.3L646.8 351.8L646.8 351.5ZM649.3 348.0L651.1 349.5L651.8 350.5L651.5 350.6L649.3 348.0ZM655.5 353.1L656.5 354.0L656.0 354.5L655.5 353.1ZM657.3 354.0L659.0 355.2L658.7 355.4L657.3 354.0ZM663.6 369.7L666.8 372.3L666.3 372.4L663.6 370.1L663.6 369.7ZM678.0 366.4L679.3 366.5L679.0 367.2L678.0 366.9L678.0 366.4ZM666.8 363.3L667.2 363.9L667.7 365.1L667.0 364.5L666.8 363.3ZM608.9 372.0L609.7 371.7L612.4 370.2L614.9 369.5L617.0 368.8L618.3 366.4L619.8 365.1L621.4 362.8L623.5 361.8L625.7 363.1L626.5 361.4L627.3 360.0L629.5 359.0L631.1 359.5L633.3 359.5L634.0 359.8L633.3 361.2L632.7 363.0L634.4 364.3L636.9 366.2L638.5 366.2L639.3 363.3L639.2 360.8L640.0 357.9L640.9 359.3L641.4 362.0L643.3 363.3L644.1 367.6L645.7 368.8L647.6 371.0L649.3 372.7L651.6 376.0L652.2 379.4L651.7 383.1L650.6 385.4L649.5 386.8L648.4 391.1L646.3 391.6L644.4 393.0L642.5 392.1L641.4 392.8L639.2 392.3L637.6 391.2L637.2 389.3L635.6 387.1L634.9 388.7L634.1 388.5L635.1 385.6L633.2 387.8L632.4 387.5L631.3 385.4L628.4 383.7L624.6 384.6L620.8 385.6L619.8 386.7L616.0 386.7L613.3 388.2L610.6 387.2L611.1 386.2L611.3 384.4L610.6 381.9L610.0 379.4L608.8 376.9L609.3 375.7L608.9 372.0ZM642.7 395.2L644.6 395.7L646.6 395.4L646.5 397.0L645.2 398.6L643.6 397.5L642.7 395.2ZM673.0 387.3L674.9 389.1L676.4 390.6L678.7 391.4L679.3 392.4L677.7 393.3L677.3 394.7L675.8 396.3L675.1 395.8L675.2 394.0L674.2 393.3L675.1 392.1L674.9 390.3L673.0 387.3ZM673.0 394.9L674.7 395.5L674.4 396.8L673.3 398.0L673.0 399.0L671.4 399.9L670.8 401.6L669.3 402.5L666.3 401.7L666.6 400.9L668.2 399.3L670.6 398.0L671.8 396.4L673.0 394.9ZM572.5 332.5L573.8 334.1L574.6 335.7L574.0 337.0L572.8 337.2L572.4 334.7L572.5 332.5ZM317.4 320.0L318.4 320.2L317.7 321.2L317.4 320.0ZM495.3 293.8L496.4 293.6L496.6 295.6L495.8 296.3L495.2 295.9L495.3 293.8ZM495.5 291.4L496.4 291.5L496.3 293.3L495.5 292.9L495.5 291.4ZM499.5 297.4L503.0 297.2L502.4 299.1L499.6 298.0L499.5 297.4ZM511.5 300.6L514.6 300.8L512.6 301.3L511.5 300.6ZM521.1 301.1L523.5 300.3L522.8 301.6L521.1 301.1ZM467.7 309.5L471.5 308.4L471.2 309.9L467.7 309.5ZM467.9 303.9L468.1 304.2L467.5 304.1ZM516.4 293.4L517.5 293.6L520.2 293.5L522.4 292.5L524.0 292.5L525.6 293.4L527.8 293.9L529.9 293.8L531.1 293.0L531.0 291.9L529.4 290.8L527.8 289.7L526.1 288.8L524.5 288.6L522.4 289.4L521.3 288.4L522.4 287.6L520.2 286.8L519.1 287.6L518.2 288.6L517.1 290.0L516.3 291.5L516.4 293.4ZM524.0 288.4L525.7 288.4L527.5 286.6L526.5 286.2L524.2 287.2L524.0 288.4ZM539.1 286.8L541.8 286.3L543.7 286.6L543.5 288.4L541.6 289.4L540.5 289.4L541.5 291.0L543.1 292.8L543.3 294.8L544.3 295.0L544.4 296.4L544.4 298.4L541.8 299.0L540.2 298.4L539.1 298.0L538.9 296.5L539.7 294.6L538.6 292.8L537.5 291.3L537.4 289.4L536.6 289.3L537.5 288.1L539.1 286.8ZM386.5 286.7L388.7 286.8L391.9 286.9L394.7 286.9L394.1 285.3L392.5 284.2L389.8 284.6L386.5 286.7ZM391.1 292.5L391.4 290.7L391.1 289.1L394.1 287.6L393.7 288.8L392.8 290.0L392.5 292.3L391.1 292.5ZM394.5 287.6L395.2 287.9L395.7 288.6L395.8 290.0L396.9 291.3L397.7 289.4L398.4 288.4L398.9 287.7L397.4 287.4L394.5 287.6ZM395.8 292.9L396.8 293.3L399.5 292.3L400.7 291.4L398.4 291.7L396.8 292.4L395.8 292.9ZM399.7 290.9L401.7 290.8L403.5 290.5L403.3 289.8L401.7 290.2L400.1 290.4L399.7 290.9Z" fill="none" stroke="#3a3a3a" stroke-width="1.3"/>
<path d="M349.7 278.9L350.3 282.0L351.1 284.6L351.9 287.6L351.4 291.3L351.7 294.5L353.5 297.7L354.2 299.4L355.6 301.8L359.3 304.1L360.6 306.8L362.5 309.9L364.9 313.6L367.1 316.1L367.6 315.9L364.9 311.1L361.9 305.6L363.8 305.8L366.0 309.3L367.6 311.8L369.8 314.2L371.9 318.0L371.9 319.8L374.1 321.9L377.9 323.6L381.7 325.2L384.4 324.7L386.3 326.7L388.7 327.6L391.4 328.5L393.0 330.4L393.4 332.2L394.7 332.9L396.8 334.5L399.5 335.3L400.1 333.7L401.5 334.5L401.9 335.6L402.4 334.0L400.6 332.9L398.4 333.7L396.8 332.9L395.7 331.2L395.7 327.3L396.1 326.0L394.1 324.9L390.9 325.0L390.5 321.8L391.4 318.0L388.3 318.6L388.2 320.5L387.1 321.7L384.4 322.1L382.2 321.1L380.8 318.0L380.6 313.6L380.9 310.5L383.8 308.0L387.6 308.4L389.6 308.5L390.3 307.0L393.0 306.9L395.2 307.4L396.3 308.7L396.7 310.5L397.6 312.4L398.4 313.4L399.4 312.6L398.9 309.3L398.1 306.8L398.4 304.9L400.6 303.1L402.8 301.7L404.4 301.0L403.9 298.7L404.4 296.9L406.0 294.4L408.2 293.8L410.3 293.0L409.8 291.3L412.5 289.5L414.7 288.8L416.3 288.2L414.7 290.0L417.4 289.3L420.1 288.4L421.2 287.6L419.5 286.3L416.3 286.3L415.8 284.1L416.5 283.8L414.1 282.6L421.2 282.2L424.4 280.7L425.5 278.9ZM421.9 285.6L425.5 283.2L428.2 283.5L429.1 285.7L428.2 286.8L426.0 286.3L421.9 285.6ZM352.7 284.7L350.3 284.0L348.1 282.5L347.0 281.4L349.7 281.4L352.7 284.7ZM394.1 317.6L397.4 316.0L399.5 316.1L402.8 318.0L405.8 319.6L402.2 320.0L401.1 318.0L397.9 317.3L394.1 317.6ZM405.6 320.1L408.2 320.0L411.4 321.1L412.1 321.7L409.3 322.6L405.6 321.8L405.6 320.1ZM401.4 321.8L403.5 322.1L403.0 322.4L401.4 322.1ZM413.4 321.7L415.1 321.8L415.0 322.3L413.4 322.3ZM402.4 334.0L401.9 335.6L402.2 337.2L402.2 339.7L400.8 342.8L399.5 344.6L399.0 346.5L399.5 347.8L398.2 350.2L398.4 352.1L400.1 354.0L401.7 357.1L403.5 361.4L404.9 363.9L408.7 366.4L410.0 367.6L410.1 373.2L409.7 378.2L408.7 381.9L408.6 385.6L408.2 389.3L406.6 391.2L406.3 394.3L406.0 396.8L405.5 400.5L404.4 404.2L404.6 407.9L406.0 410.4L408.2 411.7L412.0 410.4L412.0 409.2L411.4 407.3L412.7 404.2L414.9 403.6L413.1 401.7L413.6 400.5L415.8 398.6L416.6 397.5L415.8 395.5L418.7 394.9L419.0 393.0L423.9 391.8L424.7 389.9L423.9 388.7L422.8 387.1L425.5 388.0L427.7 387.8L429.3 385.6L431.4 382.5L433.5 379.4L433.6 376.3L435.8 374.4L438.5 373.2L440.6 373.1L441.7 371.3L443.1 368.8L443.9 364.5L444.1 360.8L445.5 358.9L447.7 356.4L448.4 354.0L448.0 351.5L446.1 350.6L443.9 349.0L441.2 348.2L438.5 347.8L436.3 346.1L433.6 346.3L432.0 344.6L431.4 342.4L430.4 339.4L428.2 337.7L424.4 337.2L421.7 334.7L420.1 333.1L418.5 331.5L416.3 332.0L414.1 331.5L412.2 331.6L410.3 329.6L408.7 331.0L408.2 329.3L406.6 330.6L404.4 331.6L403.3 333.5L402.4 334.0ZM479.7 300.2L483.9 301.1L487.2 299.4L491.5 299.0L496.7 298.4L498.0 298.7L497.5 300.0L498.0 301.2L496.9 302.2L498.0 303.3L500.2 303.9L502.7 304.6L504.5 306.2L506.7 307.0L507.7 306.2L507.7 304.7L509.9 303.8L513.2 305.2L515.9 305.8L518.0 306.2L519.6 305.4L521.1 305.8L523.1 305.8L523.9 308.0L523.2 309.9L522.6 310.2L521.4 307.5L521.4 308.0L522.4 310.3L523.4 312.4L524.6 315.5L526.5 318.6L527.7 322.3L528.8 325.3L531.0 327.5L533.0 329.1L532.9 330.3L534.3 331.7L536.4 331.2L539.1 330.6L541.5 330.0L541.3 331.7L540.8 334.7L539.1 337.8L537.5 340.3L535.3 342.2L532.6 345.3L531.0 347.1L529.4 349.0L528.6 350.9L528.8 353.3L528.6 355.2L529.9 357.7L529.9 362.0L530.3 363.3L528.3 365.7L526.1 367.0L524.5 370.7L524.5 373.8L521.6 376.7L521.3 380.0L519.6 381.9L516.9 385.0L513.7 386.8L509.9 387.1L507.7 387.8L506.0 387.1L505.6 385.0L504.0 380.1L502.5 377.5L501.8 372.9L499.6 368.2L498.9 365.5L499.3 362.0L500.8 359.5L500.5 355.8L499.4 352.1L499.1 350.9L496.4 347.8L496.2 344.6L496.5 341.5L496.7 339.8L495.5 339.1L493.7 339.2L492.4 339.3L491.5 337.8L490.4 336.7L488.3 336.8L487.2 337.2L483.9 338.7L481.8 338.2L478.0 339.2L475.8 337.8L473.7 336.1L471.7 334.1L471.5 332.9L469.9 331.2L468.0 329.3L467.9 327.9L467.2 326.4L468.2 324.8L468.5 321.1L467.7 318.6L468.8 315.5L470.4 312.4L472.0 310.2L474.2 309.3L475.5 308.0L475.7 306.8L476.0 304.3L476.9 303.3L478.7 302.5L479.7 300.2ZM539.5 359.5L540.4 363.3L539.8 365.7L538.6 370.1L537.0 375.7L534.8 376.3L533.4 373.2L533.2 371.3L534.2 368.8L533.7 365.7L535.9 364.3L537.5 362.6L539.5 359.5ZM486.1 278.9L487.7 282.4L486.3 283.0L484.8 283.3L484.3 283.0L484.0 284.2L481.0 284.6L481.4 285.3L483.9 286.2L484.8 287.6L484.5 290.0L484.2 290.8L480.7 290.7L477.4 290.4L476.0 291.3L476.6 292.5L476.5 295.0L475.8 296.5L476.6 297.5L476.5 298.7L478.0 298.5L479.4 299.4L480.0 300.0L481.2 299.1L483.8 299.0L485.6 297.1L486.3 296.3L485.8 295.6L487.1 293.8L489.6 292.5L489.5 291.2L491.0 290.8L493.1 291.2L494.2 290.3L495.6 289.5L497.1 290.2L497.5 291.4L499.3 292.9L500.9 293.5L503.0 295.0L503.1 297.2L503.5 297.5L504.1 296.3L504.7 295.8L504.0 294.8L506.1 294.9L504.6 293.8L503.4 292.7L501.3 291.8L499.5 289.7L499.4 288.3L500.8 287.9L501.3 288.9L502.3 289.4L503.4 290.7L506.1 292.0L507.2 292.9L507.1 294.6L508.3 295.6L509.0 297.1L509.5 299.0L510.3 299.4L511.0 298.1L512.1 297.5L511.0 296.5L510.8 294.6L512.1 294.0L514.2 294.0L514.6 294.8L514.5 295.8L515.5 296.9L515.6 298.7L516.9 299.1L519.1 299.5L521.3 299.8L523.5 299.0L525.3 299.2L524.8 300.6L525.0 301.8L524.1 303.7L523.4 305.6L523.1 305.8L523.9 308.0L524.5 309.9L525.6 312.4L526.7 314.9L528.3 317.3L528.8 319.8L530.5 322.9L532.2 325.4L533.0 328.9L534.8 328.8L538.0 327.3L541.3 325.8L542.9 324.2L545.6 322.9L547.6 321.7L549.4 319.2L550.8 316.7L549.6 315.4L547.8 314.9L547.0 312.0L546.2 313.0L544.5 314.7L542.4 314.9L541.8 313.0L541.3 312.4L540.2 311.8L538.6 309.3L538.0 307.4L540.2 307.4L541.3 309.3L543.5 311.1L546.7 311.1L548.3 312.8L552.7 313.4L558.1 313.3L559.1 314.9L560.8 316.7L561.9 316.4L564.7 318.0L564.9 321.1L565.6 324.8L566.7 327.9L567.8 331.0L568.9 334.1L570.0 334.7L570.7 333.5L572.1 331.9L572.7 329.1L573.0 325.4L575.2 323.9L577.5 321.1L579.7 319.5L580.3 318.0L581.9 317.6L583.5 317.3L585.1 316.7L585.7 318.6L586.2 319.8L587.8 321.7L588.4 324.8L589.5 325.0L591.6 324.2L591.9 326.7L592.7 329.8L592.7 332.9L592.5 334.7L593.8 336.6L594.6 338.4L595.4 340.9L597.0 342.2L598.1 343.0L598.9 342.8L598.0 339.9L598.0 337.8L596.5 337.0L594.9 335.3L594.3 333.5L593.5 331.6L594.3 328.3L595.2 328.9L597.0 329.8L597.9 331.6L599.5 333.9L601.4 332.6L603.8 330.6L604.3 328.5L603.7 325.4L601.6 322.9L600.5 321.1L601.5 319.2L603.0 318.0L604.8 318.0L605.7 319.5L606.2 318.0L608.9 317.1L611.6 316.4L613.8 314.2L615.4 312.8L616.0 311.1L617.6 309.3L618.1 307.4L617.0 306.4L617.9 305.6L616.5 303.7L615.4 301.2L616.5 300.0L618.7 298.7L617.0 297.9L614.9 298.5L613.8 296.9L613.5 296.3L614.9 295.9L617.0 294.0L618.5 294.4L617.3 296.3L620.3 295.1L621.4 295.6L621.7 297.9L623.0 298.2L622.8 301.2L624.1 301.7L626.0 301.0L626.2 299.0L625.2 296.7L624.1 295.3L626.5 293.9L626.6 292.0L627.9 291.5L630.0 291.5L632.7 290.2L634.9 288.2L637.1 285.1L638.2 282.6L638.7 278.9L551.0 278.9L486.1 278.9ZM626.5 303.1L627.3 302.5L628.4 303.1L629.0 304.3L628.2 305.9L627.1 306.2L626.6 304.3L626.5 303.1ZM629.3 303.4L630.6 302.3L631.9 302.5L631.4 303.3L630.0 303.9L629.3 303.4ZM627.9 302.1L629.5 300.7L631.1 300.5L633.3 300.3L634.1 298.5L634.9 298.2L636.0 297.7L637.2 296.3L637.6 294.4L637.9 293.4L639.2 293.3L639.7 295.0L639.2 296.9L638.7 298.1L638.5 300.0L637.6 301.1L636.5 301.6L635.4 301.7L634.4 301.7L633.3 303.1L632.2 302.7L632.4 301.7L630.0 301.8L627.9 302.1ZM637.6 293.1L637.6 291.3L639.2 288.3L640.9 289.7L643.6 290.9L641.9 291.4L641.1 292.5L638.7 292.8L637.6 293.1ZM639.8 287.6L641.4 286.6L640.9 283.8L642.5 283.8L640.9 278.9L639.8 278.9L639.8 287.6ZM616.1 316.1L617.0 313.4L618.1 313.6L617.6 316.1L616.8 317.5L616.1 316.1ZM603.6 320.8L605.7 319.7L606.2 320.3L605.1 321.9L603.7 321.7L603.6 320.8ZM616.0 321.7L618.5 321.7L618.1 324.5L617.6 326.9L620.3 328.5L619.5 329.1L617.6 327.9L616.5 326.7L615.8 324.4L616.0 321.7ZM618.1 336.0L619.8 334.7L620.8 334.0L621.9 332.9L623.0 334.7L622.5 336.8L621.7 337.7L620.3 336.6L618.1 336.0ZM620.8 329.1L622.1 329.8L621.6 332.2L620.8 331.6L620.8 329.1ZM618.1 330.0L619.2 330.4L619.8 332.2L618.7 332.9L618.1 331.6L618.1 330.0ZM616.4 327.9L617.6 328.1L617.3 329.5L616.4 327.9ZM612.9 334.2L615.4 331.2L615.6 331.7L613.3 334.5L612.9 334.2ZM604.1 342.4L605.1 342.5L606.8 341.5L608.4 340.7L609.5 338.9L611.1 338.2L612.2 336.6L613.0 336.2L614.3 337.8L614.9 338.4L613.8 339.3L613.4 340.7L613.8 343.4L613.3 344.6L612.2 346.5L611.6 349.0L610.0 349.2L608.4 348.6L606.8 348.4L605.5 348.1L605.1 346.5L604.3 344.6L604.1 342.4ZM589.2 337.7L591.6 338.2L592.9 340.1L594.9 342.2L596.5 344.0L598.1 345.6L599.2 347.1L600.8 348.4L600.6 351.8L599.2 351.6L596.8 349.6L595.4 347.8L594.3 345.9L593.2 344.0L592.2 341.9L590.5 340.1L589.2 337.7ZM599.9 353.1L600.8 352.1L603.3 352.5L605.7 352.7L607.8 353.2L610.0 354.2L609.9 355.4L607.3 355.0L605.1 354.7L603.0 354.3L601.4 353.8L599.9 353.1ZM610.6 354.8L611.6 355.0L614.9 354.8L617.0 355.1L619.2 354.8L619.2 355.4L616.0 355.7L612.7 355.8L610.6 355.6L610.6 354.8ZM619.8 357.4L623.5 355.1L623.9 355.2L620.6 357.1L619.8 357.4ZM615.4 351.5L616.5 351.5L616.3 348.1L617.0 347.9L618.1 350.6L619.0 350.2L617.6 346.9L619.2 345.8L617.0 345.9L616.2 343.9L617.0 343.2L620.8 344.0L621.4 342.8L620.8 343.4L617.0 343.7L616.0 344.0L615.4 345.9L614.7 348.1L615.4 351.5ZM624.1 342.8L624.6 341.9L625.2 342.8L624.6 344.0L625.5 344.4L624.6 345.6L624.1 344.6L624.1 342.8ZM624.6 348.6L627.7 348.7L627.3 349.4L624.8 349.1L624.6 348.6ZM627.9 345.9L629.5 345.3L631.1 345.6L631.4 348.1L632.2 348.7L634.9 346.5L637.6 347.5L640.3 348.6L642.5 349.6L644.1 351.5L645.7 352.1L646.1 353.1L645.2 354.3L646.3 355.2L647.9 356.6L649.3 357.3L647.9 357.6L645.7 357.2L644.1 354.8L641.9 354.2L641.4 355.8L640.3 356.2L638.7 355.9L636.5 354.6L635.4 355.1L635.1 354.1L636.0 353.1L635.4 351.2L633.3 350.2L631.1 349.4L629.8 349.6L629.0 348.1L630.0 347.5L629.0 347.3L627.9 346.4L627.9 345.9ZM646.8 351.5L648.4 351.0L650.1 349.9L650.9 350.0L650.1 350.9L649.0 352.3L646.8 351.8L646.8 351.5ZM649.3 348.0L651.1 349.5L651.8 350.5L651.5 350.6L649.3 348.0ZM655.5 353.1L656.5 354.0L656.0 354.5L655.5 353.1ZM657.3 354.0L659.0 355.2L658.7 355.4L657.3 354.0ZM663.6 369.7L666.8 372.3L666.3 372.4L663.6 370.1L663.6 369.7ZM678.0 366.4L679.3 366.5L679.0 367.2L678.0 366.9L678.0 366.4ZM666.8 363.3L667.2 363.9L667.7 365.1L667.0 364.5L666.8 363.3ZM608.9 372.0L609.7 371.7L612.4 370.2L614.9 369.5L617.0 368.8L618.3 366.4L619.8 365.1L621.4 362.8L623.5 361.8L625.7 363.1L626.5 361.4L627.3 360.0L629.5 359.0L631.1 359.5L633.3 359.5L634.0 359.8L633.3 361.2L632.7 363.0L634.4 364.3L636.9 366.2L638.5 366.2L639.3 363.3L639.2 360.8L640.0 357.9L640.9 359.3L641.4 362.0L643.3 363.3L644.1 367.6L645.7 368.8L647.6 371.0L649.3 372.7L651.6 376.0L652.2 379.4L651.7 383.1L650.6 385.4L649.5 386.8L648.4 391.1L646.3 391.6L644.4 393.0L642.5 392.1L641.4 392.8L639.2 392.3L637.6 391.2L637.2 389.3L635.6 387.1L634.9 388.7L634.1 388.5L635.1 385.6L633.2 387.8L632.4 387.5L631.3 385.4L628.4 383.7L624.6 384.6L620.8 385.6L619.8 386.7L616.0 386.7L613.3 388.2L610.6 387.2L611.1 386.2L611.3 384.4L610.6 381.9L610.0 379.4L608.8 376.9L609.3 375.7L608.9 372.0ZM642.7 395.2L644.6 395.7L646.6 395.4L646.5 397.0L645.2 398.6L643.6 397.5L642.7 395.2ZM673.0 387.3L674.9 389.1L676.4 390.6L678.7 391.4L679.3 392.4L677.7 393.3L677.3 394.7L675.8 396.3L675.1 395.8L675.2 394.0L674.2 393.3L675.1 392.1L674.9 390.3L673.0 387.3ZM673.0 394.9L674.7 395.5L674.4 396.8L673.3 398.0L673.0 399.0L671.4 399.9L670.8 401.6L669.3 402.5L666.3 401.7L666.6 400.9L668.2 399.3L670.6 398.0L671.8 396.4L673.0 394.9ZM572.5 332.5L573.8 334.1L574.6 335.7L574.0 337.0L572.8 337.2L572.4 334.7L572.5 332.5ZM317.4 320.0L318.4 320.2L317.7 321.2L317.4 320.0ZM495.3 293.8L496.4 293.6L496.6 295.6L495.8 296.3L495.2 295.9L495.3 293.8ZM495.5 291.4L496.4 291.5L496.3 293.3L495.5 292.9L495.5 291.4ZM499.5 297.4L503.0 297.2L502.4 299.1L499.6 298.0L499.5 297.4ZM511.5 300.6L514.6 300.8L512.6 301.3L511.5 300.6ZM521.1 301.1L523.5 300.3L522.8 301.6L521.1 301.1ZM467.7 309.5L471.5 308.4L471.2 309.9L467.7 309.5ZM467.9 303.9L468.1 304.2L467.5 304.1ZM516.4 293.4L517.5 293.6L520.2 293.5L522.4 292.5L524.0 292.5L525.6 293.4L527.8 293.9L529.9 293.8L531.1 293.0L531.0 291.9L529.4 290.8L527.8 289.7L526.1 288.8L524.5 288.6L522.4 289.4L521.3 288.4L522.4 287.6L520.2 286.8L519.1 287.6L518.2 288.6L517.1 290.0L516.3 291.5L516.4 293.4ZM524.0 288.4L525.7 288.4L527.5 286.6L526.5 286.2L524.2 287.2L524.0 288.4ZM539.1 286.8L541.8 286.3L543.7 286.6L543.5 288.4L541.6 289.4L540.5 289.4L541.5 291.0L543.1 292.8L543.3 294.8L544.3 295.0L544.4 296.4L544.4 298.4L541.8 299.0L540.2 298.4L539.1 298.0L538.9 296.5L539.7 294.6L538.6 292.8L537.5 291.3L537.4 289.4L536.6 289.3L537.5 288.1L539.1 286.8ZM386.5 286.7L388.7 286.8L391.9 286.9L394.7 286.9L394.1 285.3L392.5 284.2L389.8 284.6L386.5 286.7ZM391.1 292.5L391.4 290.7L391.1 289.1L394.1 287.6L393.7 288.8L392.8 290.0L392.5 292.3L391.1 292.5ZM394.5 287.6L395.2 287.9L395.7 288.6L395.8 290.0L396.9 291.3L397.7 289.4L398.4 288.4L398.9 287.7L397.4 287.4L394.5 287.6ZM395.8 292.9L396.8 293.3L399.5 292.3L400.7 291.4L398.4 291.7L396.8 292.4L395.8 292.9ZM399.7 290.9L401.7 290.8L403.5 290.5L403.3 289.8L401.7 290.2L400.1 290.4L399.7 290.9Z" fill="#fff" fill-rule="evenodd"/>
<path d="M521.8 344.3L522.9 344.4L523.0 345.3L523.8 345.9L522.4 347.8L521.3 348.1L520.4 346.9L520.5 345.3L521.8 344.3ZM517.7 348.9L518.1 350.2L519.0 352.7L519.9 355.2L519.4 355.4L518.6 354.0L517.8 352.1L517.6 350.2L517.7 348.9ZM522.9 356.6L523.7 358.9L523.5 360.8L524.2 362.4L523.9 362.4L523.2 360.2L522.9 358.3L522.9 356.6ZM500.5 327.8L501.5 327.3L501.9 328.0L501.8 328.8L501.3 329.0L500.7 328.5L500.5 327.8Z" fill="none" stroke="#3a3a3a" stroke-width="0.6"/>
<rect x="402.8" y="318.5" width="79.7" height="38.3" fill="none" stroke="#1a1a1a" stroke-width="1.10" stroke-dasharray="3.6 4.1"/>
</g>
<rect x="291.3" y="282.6" width="389.6" height="124.1" fill="none" stroke="#555" stroke-width="1"/>
<g clip-path="url(#cL1)">
<g filter="url(#soft)">
<path fill="#fffa00" fill-rule="evenodd" d="M255.7 115.9L253.8 116.3L252.2 115.5L249.9 110.3L249.0 101.1L249.3 93.4L250.0 90.5L251.8 89.0L263.5 87.0L265.8 85.7L266.4 84.7L266.5 82.8L262.9 68.3L263.1 60.6L262.5 59.0L261.6 58.1L260.6 57.8L258.6 58.4L256.1 63.5L251.8 66.5L249.0 77.0L247.9 78.4L246.0 79.4L240.1 80.7L231.3 81.7L228.4 81.8L222.6 80.6L218.7 80.4L218.1 79.9L217.4 76.0L216.5 75.1L213.8 74.3L199.1 74.1L193.3 72.9L188.4 72.7L174.8 72.7L166.9 74.1L160.1 74.2L144.5 71.2L134.8 72.6L112.3 72.4L110.0 71.2L107.4 66.0L105.5 65.2L101.6 65.0L101.6 34.1L105.5 34.3L107.4 35.2L110.0 40.4L112.3 41.6L127.0 41.8L130.9 40.7L132.1 38.5L132.8 28.8L134.7 26.9L138.7 25.3L139.8 23.0L139.6 21.1L138.7 19.8L134.7 18.2L132.8 16.3L132.3 13.4L132.3 3.8L147.9 3.8L148.4 8.6L150.4 10.5L159.1 11.1L162.1 12.1L163.3 14.4L164.0 24.0L165.9 25.9L169.9 27.5L170.8 28.8L171.0 30.8L170.2 32.7L168.9 33.7L166.0 34.6L164.1 36.5L163.6 41.3L163.0 41.9L153.3 41.9L151.3 42.2L149.6 43.3L148.3 46.2L149.1 48.1L150.4 49.1L157.2 49.5L161.1 48.6L163.1 46.2L163.5 42.3L164.0 41.8L173.8 41.8L176.7 40.9L178.3 39.4L180.6 35.2L185.9 32.7L187.4 28.8L189.4 26.9L192.3 26.4L205.0 26.5L208.9 27.5L210.0 29.8L209.8 31.7L207.9 33.6L204.0 35.2L203.1 36.5L202.9 38.5L204.0 40.7L209.2 43.3L210.1 45.2L210.3 49.1L209.9 49.5L200.1 49.6L197.2 50.4L195.7 51.9L195.3 53.9L196.5 55.8L199.1 57.1L206.0 57.2L208.9 56.1L209.9 54.7L210.3 50.0L210.8 49.5L230.4 49.8L232.7 51.0L235.2 54.7L238.2 55.4L240.1 54.7L242.6 51.0L245.0 49.8L260.6 49.5L278.2 46.8L279.9 45.2L279.4 43.3L274.3 40.7L273.0 38.5L272.8 31.7L273.3 28.8L274.3 27.5L276.2 26.5L282.1 25.1L287.9 24.9L287.9 103.5L285.0 103.6L283.0 104.4L281.4 105.9L279.1 109.6L277.2 110.9L271.3 112.5L260.2 113.6L255.7 115.9ZM191.3 18.4L189.4 18.2L188.1 17.3L185.5 12.1L180.2 9.6L179.4 7.6L179.1 3.8L194.7 3.8L194.5 15.3L193.3 17.6L191.3 18.4ZM213.8 18.3L211.8 17.6L210.6 15.3L210.4 3.8L218.2 3.8L217.7 15.3L216.4 17.3L213.8 18.3ZM253.8 33.8L250.8 33.0L249.9 31.7L249.5 29.8L249.9 21.2L250.8 19.9L252.8 19.2L253.8 19.5L255.1 21.1L256.9 29.8L256.1 32.7L253.8 33.8ZM222.6 41.5L219.6 40.7L218.7 39.4L218.3 37.5L218.7 29.8L219.6 28.7L221.6 28.2L224.7 28.8L225.5 29.8L225.9 31.7L225.5 39.4L224.5 40.7L222.6 41.5ZM216.7 85.7L213.8 86.4L206.9 86.3L205.0 85.4L204.6 82.8L205.0 81.7L206.9 80.5L217.7 80.4L218.1 80.8L217.9 83.7L216.7 85.7ZM144.5 110.9L142.6 110.6L141.2 109.7L140.3 107.8L140.1 104.0L140.3 100.1L141.0 98.2L142.6 96.7L144.5 96.2L146.5 96.9L147.4 98.2L147.9 104.0L147.4 108.8L146.5 110.1L144.5 110.9ZM178.7 126.1L147.9 126.1L148.0 123.2L149.0 120.3L154.3 117.2L157.2 112.2L164.0 110.1L167.9 109.8L169.9 110.2L171.8 111.7L173.8 117.3L178.1 120.3L179.1 123.2L179.1 126.1L178.7 126.1ZM139.6 126.1L101.6 126.2L101.6 120.5L105.5 120.1L107.4 119.2L109.3 117.4L111.1 114.6L112.3 113.7L128.9 111.5L131.2 112.6L134.0 117.4L139.0 120.3L140.0 123.2L140.1 126.1L139.6 126.1ZM222.6 118.6L219.6 117.7L218.9 115.5L220.4 113.6L222.6 113.1L224.6 113.6L225.5 115.5L224.8 117.4L222.6 118.6Z"/>
<path fill="#f5aa00" fill-rule="evenodd" d="M152.3 33.9L148.4 34.1L147.9 33.6L148.2 22.1L149.4 19.8L151.3 19.0L154.3 19.8L155.2 21.1L155.6 23.0L155.2 31.6L154.3 33.0L152.3 33.9ZM287.9 34.1L284.0 33.9L282.1 33.0L281.2 31.7L281.4 29.8L282.3 28.8L284.0 28.2L287.9 28.0L287.9 34.1ZM143.5 41.4L141.6 40.7L140.7 39.4L140.7 36.5L142.6 34.6L147.4 34.2L147.9 34.6L147.8 36.5L147.0 39.4L145.5 40.9L143.5 41.4ZM241.1 79.0L236.2 79.5L229.4 78.6L227.4 77.9L224.9 74.1L223.6 73.1L215.7 71.2L189.4 70.4L159.1 70.9L157.2 70.1L156.0 68.3L156.0 60.6L157.2 58.3L162.5 55.8L164.4 51.9L166.0 50.4L167.9 49.7L176.7 49.0L178.1 48.1L180.6 43.5L182.6 42.2L191.3 42.1L193.6 43.3L194.2 46.2L192.3 48.7L188.1 51.0L187.3 52.9L187.5 54.8L188.4 56.2L193.3 58.9L195.8 63.5L197.2 64.5L201.1 64.9L214.7 64.7L217.1 63.5L219.6 58.3L222.6 57.3L229.4 57.3L237.2 58.7L245.0 57.5L247.9 58.4L248.8 59.7L249.1 61.6L246.9 75.7L246.0 77.1L241.1 79.0ZM256.7 111.9L254.7 112.3L252.8 111.8L250.9 108.8L249.9 99.1L251.0 91.4L252.8 89.9L264.5 87.9L271.6 84.7L271.6 83.7L270.8 82.8L267.4 80.1L266.5 77.7L265.1 68.3L266.4 60.6L265.4 54.8L265.7 52.9L267.4 51.6L273.3 50.0L284.0 48.2L287.9 48.0L287.9 88.1L284.0 88.3L281.7 89.5L280.8 91.4L280.5 98.2L279.7 101.1L274.8 104.9L271.3 108.8L264.5 110.7L256.7 111.9ZM121.1 57.0L114.3 57.2L111.3 56.7L109.5 54.8L109.5 51.9L110.4 50.6L112.3 49.8L119.1 49.6L122.1 50.0L124.0 51.9L124.2 53.9L123.4 55.8L121.1 57.0ZM170.8 126.1L155.7 126.1L155.9 123.2L157.2 120.6L162.1 117.9L165.0 113.8L167.9 113.3L169.3 114.6L171.0 121.3L171.3 126.1L170.8 126.1ZM131.8 126.1L108.9 126.1L108.9 125.2L109.5 122.3L112.3 119.5L115.2 118.9L126.0 118.9L128.9 119.3L130.9 120.6L132.1 123.2L132.3 126.1L131.8 126.1Z"/>
<path fill="#f06400" fill-rule="evenodd" d="M287.9 82.6L281.1 82.4L275.2 81.4L269.9 78.9L268.4 77.3L267.4 71.1L267.6 67.4L270.7 62.5L273.0 53.9L275.2 52.2L287.9 51.1L287.9 82.6ZM239.1 77.1L235.6 77.0L234.7 76.0L235.0 74.1L237.2 73.0L240.1 73.9L240.7 75.1L240.5 76.0L239.1 77.1ZM261.6 108.8L254.7 109.3L252.8 108.0L251.1 100.1L251.4 96.3L252.6 92.4L253.8 91.4L258.6 90.0L268.4 88.3L272.3 88.8L273.9 90.5L274.3 92.4L274.3 98.2L273.7 101.1L271.3 103.8L266.5 105.9L264.1 107.8L261.6 108.8Z"/>
<path fill="#eb2800" fill-rule="evenodd" d="M287.9 80.4L282.1 80.1L277.2 78.9L274.6 78.0L272.9 76.0L271.7 72.2L271.5 68.3L275.2 58.8L277.2 57.3L282.1 56.0L287.9 55.7L287.9 80.4ZM262.5 103.1L256.7 103.4L253.8 102.5L252.9 99.1L253.8 96.6L258.1 92.4L259.6 91.7L267.4 90.6L270.4 91.3L271.1 93.4L271.2 96.3L271.0 99.1L270.4 100.6L268.4 101.8L262.5 103.1Z"/>
<path fill="#b91e00" fill-rule="evenodd" d="M287.9 78.1L284.0 78.0L282.1 77.3L279.0 74.1L276.2 72.2L274.9 70.2L274.7 68.3L275.5 66.4L279.0 63.5L282.1 59.7L284.0 59.0L287.9 58.8L287.9 78.1Z"/>
<path fill="#730a00" fill-rule="evenodd" d="M287.9 72.6L284.0 72.2L282.1 70.9L281.2 68.3L282.3 66.4L284.0 65.4L287.9 65.0L287.9 72.6Z"/>
<path fill="#6ef5ff" fill-rule="evenodd" d="M287.9 18.7L284.0 18.5L281.7 17.3L279.5 12.5L273.9 9.6L273.0 7.6L272.8 3.8L287.9 3.7L287.9 18.7ZM263.5 25.3L262.5 25.8L260.6 25.6L259.6 24.7L259.0 23.0L257.5 14.4L258.3 12.5L259.6 11.6L262.5 11.6L263.9 12.5L264.8 14.4L264.9 22.1L264.5 24.0L263.5 25.3ZM121.1 26.2L101.6 26.4L101.6 18.7L119.1 18.7L122.1 19.2L124.0 21.1L124.2 23.0L123.4 25.0L121.1 26.2ZM224.5 24.1L221.6 24.6L219.6 24.0L218.9 23.0L219.2 21.1L221.6 19.2L223.5 19.3L225.4 21.1L225.3 23.0L224.5 24.1ZM287.9 126.2L233.8 126.1L234.3 121.3L235.2 120.0L239.0 117.4L239.8 115.5L239.8 106.9L238.9 104.9L237.2 104.2L227.4 106.8L224.5 109.0L211.5 114.6L210.4 117.4L210.4 126.1L186.9 126.1L186.8 122.3L185.4 115.5L185.8 104.0L187.4 98.2L188.4 96.8L190.4 95.9L200.1 93.6L203.1 90.5L205.0 89.8L214.7 89.7L216.7 90.3L219.2 92.4L221.6 93.3L230.4 93.2L238.2 94.9L239.4 93.4L239.5 90.5L238.2 88.7L234.9 86.6L234.6 84.7L235.2 84.0L247.9 80.3L250.7 78.0L252.5 74.1L253.8 72.9L257.7 71.6L260.6 71.5L262.5 73.0L263.5 75.1L264.6 82.8L264.3 84.7L263.3 85.7L261.6 86.3L250.8 88.1L249.0 89.5L248.3 91.4L247.8 99.1L248.2 107.8L249.9 116.5L251.8 118.4L253.8 118.7L261.6 117.5L277.2 117.2L279.4 116.5L283.0 112.1L285.0 111.4L287.9 111.2L287.9 126.2ZM105.5 116.8L101.6 117.3L101.6 88.1L105.5 87.9L114.3 86.0L116.1 84.7L117.8 81.8L119.2 80.8L136.7 80.1L139.1 78.9L141.8 75.1L144.5 74.5L146.5 75.2L147.7 77.0L147.9 78.9L147.8 83.7L146.8 86.6L141.6 89.1L139.2 93.4L137.7 94.9L135.7 95.6L128.9 95.9L126.2 97.2L124.7 100.1L124.2 106.9L122.9 108.8L116.3 110.7L109.4 111.9L105.5 116.8ZM183.5 87.8L175.7 88.0L173.8 87.6L172.4 86.6L171.6 84.7L171.3 80.8L171.5 78.0L172.5 76.0L174.8 75.1L180.6 74.9L190.4 75.0L193.5 76.0L194.5 78.0L194.7 79.9L194.3 80.3L190.4 80.6L188.4 81.5L185.8 86.6L183.5 87.8ZM199.1 87.7L197.2 87.5L195.3 85.7L194.8 81.8L195.2 80.4L198.2 80.6L200.2 81.8L200.7 85.7L200.1 87.2L199.1 87.7Z"/>
<path fill="#5aaaff" fill-rule="evenodd" d="M280.1 126.1L241.6 126.1L243.2 114.6L243.2 106.9L241.9 100.1L243.1 92.4L242.2 85.7L243.0 84.1L247.9 82.2L255.7 78.2L259.1 75.1L260.6 75.0L261.5 76.0L262.4 81.8L261.6 84.3L257.8 85.7L248.9 87.3L247.3 88.6L246.5 90.5L246.2 107.8L247.6 117.4L249.9 120.2L252.8 121.0L262.5 120.5L278.2 120.8L280.1 122.3L280.6 126.1L280.1 126.1ZM121.1 95.4L115.2 95.8L111.4 95.3L109.5 93.4L109.7 91.4L110.6 90.5L112.3 89.9L119.1 88.5L122.1 88.6L123.9 90.5L124.0 92.4L122.8 94.3L121.1 95.4ZM202.1 126.1L194.8 126.1L194.3 121.3L193.3 119.9L189.5 117.4L188.8 115.5L188.6 108.8L189.0 105.9L190.4 104.1L193.7 102.0L196.2 98.3L205.0 94.7L208.9 94.3L214.7 94.4L221.6 95.7L230.4 95.2L233.3 96.0L234.7 97.2L235.6 100.1L234.7 102.0L233.3 103.2L231.3 103.9L221.6 105.4L216.7 110.3L203.8 113.6L202.7 115.5L202.5 126.1L202.1 126.1ZM115.2 107.9L113.3 108.6L111.3 108.6L109.9 107.8L109.6 105.9L111.3 104.0L114.3 104.0L116.0 105.9L115.2 107.9Z"/>
<path fill="#3c82ff" fill-rule="evenodd" d="M254.7 84.0L252.8 84.3L251.5 83.7L252.4 82.8L253.8 82.5L255.1 82.8L255.2 83.7L254.7 84.0ZM213.8 108.8L206.9 109.5L203.8 108.8L202.7 106.9L202.6 103.0L202.9 100.1L204.0 98.6L207.9 97.4L221.6 98.0L229.4 96.7L231.3 97.0L232.8 98.2L233.2 100.1L231.7 102.0L229.4 102.6L222.6 102.1L219.6 102.5L217.7 104.0L215.8 107.8L213.8 108.8Z"/>
</g>
<path d="M-84.7 -21.4L-83.7 -15.7L-82.1 -10.9L-80.8 -5.4L-81.7 1.5L-81.2 7.4L-77.8 13.3L-76.6 16.3L-74.0 20.9L-67.3 25.0L-64.9 30.0L-61.4 35.7L-57.0 42.6L-53.1 47.1L-52.1 46.7L-57.0 38.0L-62.6 27.7L-59.0 28.2L-55.0 34.6L-52.1 39.1L-48.1 43.7L-44.1 50.6L-44.1 54.0L-40.2 57.9L-33.3 60.8L-26.3 63.8L-21.4 62.9L-17.8 66.5L-13.5 68.4L-8.5 70.0L-5.6 73.4L-5.0 76.8L-2.6 78.0L1.4 80.9L6.3 82.5L7.3 79.6L9.9 80.9L10.7 83.0L11.7 80.0L8.3 78.0L4.3 79.6L1.4 78.0L-0.6 75.0L-0.6 67.7L-0.0 65.4L-3.6 63.4L-9.5 63.6L-10.1 57.6L-8.5 50.6L-14.3 51.7L-14.5 55.1L-16.4 57.4L-21.4 58.1L-25.3 56.3L-27.9 50.6L-28.3 42.6L-27.7 36.9L-22.4 32.3L-15.5 33.0L-11.9 33.2L-10.5 30.5L-5.6 30.2L-1.6 31.2L0.4 33.4L1.2 36.9L2.8 40.3L4.3 42.1L6.1 40.7L5.1 34.6L3.7 30.0L4.3 26.6L8.3 23.2L12.2 20.7L15.2 19.3L14.2 15.2L15.2 11.7L18.2 7.2L22.1 6.0L26.1 4.7L25.1 1.5L30.1 -1.7L34.0 -3.1L37.0 -4.2L34.0 -0.8L39.0 -2.2L43.9 -3.8L45.9 -5.4L42.9 -7.7L37.0 -7.7L36.0 -11.8L37.4 -12.2L33.0 -14.5L45.9 -15.2L51.8 -17.9L53.8 -21.4ZM47.3 -9.0L53.8 -13.4L58.8 -12.9L60.3 -8.8L58.8 -6.7L54.8 -7.7L47.3 -9.0ZM-79.4 -10.6L-83.7 -12.0L-87.7 -14.7L-89.7 -16.8L-84.7 -16.8L-79.4 -10.6ZM-3.6 49.9L2.4 46.9L6.3 47.1L12.2 50.6L17.8 53.5L11.3 54.2L9.3 50.6L3.3 49.4L-3.6 49.9ZM17.4 54.4L22.1 54.2L28.1 56.3L29.3 57.4L24.1 59.0L17.4 57.6L17.4 54.4ZM9.7 57.6L13.6 58.1L12.6 58.8L9.7 58.1ZM31.6 57.4L34.8 57.6L34.6 58.6L31.6 58.6ZM11.7 80.0L10.7 83.0L11.3 86.0L11.3 90.5L8.7 96.2L6.3 99.7L5.3 103.1L6.3 105.4L3.9 109.9L4.3 113.4L7.3 116.8L10.3 122.5L13.6 130.5L16.2 135.0L23.1 139.6L25.5 141.9L25.7 152.2L24.9 161.3L23.1 168.2L22.9 175.0L22.1 181.9L19.2 185.3L18.8 191.0L18.2 195.6L17.2 202.4L15.2 209.3L15.6 216.1L18.2 220.7L22.1 223.0L29.1 220.7L29.1 218.4L28.1 215.0L30.5 209.3L34.4 208.1L31.0 204.7L32.0 202.4L36.0 199.0L37.6 196.9L36.0 193.3L41.3 192.1L41.9 188.7L50.8 186.4L52.4 183.0L50.8 180.7L48.9 177.7L53.8 179.3L57.8 179.1L60.7 175.0L64.7 169.3L68.4 163.6L68.6 157.9L72.6 154.5L77.6 152.2L81.5 151.9L83.5 148.7L86.1 144.2L87.4 136.2L87.8 129.3L90.4 125.9L94.4 121.3L95.8 116.8L95.0 112.2L91.4 110.6L87.4 107.6L82.5 106.3L77.6 105.4L73.6 102.4L68.6 102.6L65.7 99.7L64.7 95.5L62.7 90.1L58.8 86.9L51.8 86.0L46.9 81.4L43.9 78.4L40.9 75.5L37.0 76.4L33.0 75.5L29.5 75.7L26.1 72.0L23.1 74.5L22.1 71.3L19.2 73.9L15.2 75.7L13.2 79.1L11.7 80.0ZM152.9 17.9L160.7 19.5L166.6 16.3L174.5 15.6L184.0 14.5L186.4 15.2L185.4 17.5L186.4 19.7L184.4 21.6L186.4 23.6L190.3 24.8L194.9 25.9L198.3 28.9L202.2 30.5L204.2 28.9L204.2 26.1L208.2 24.5L214.1 27.0L219.0 28.2L223.0 28.9L226.0 27.5L228.5 28.2L232.3 28.2L233.7 32.3L232.5 35.7L231.3 36.2L229.1 31.4L229.1 32.3L230.9 36.4L232.9 40.3L235.1 46.0L238.4 51.7L240.6 58.6L242.8 64.0L246.7 68.1L250.3 71.1L250.1 73.2L252.7 75.9L256.6 75.0L261.6 73.9L265.9 72.7L265.5 75.9L264.6 81.4L261.6 87.1L258.6 91.7L254.7 95.1L249.7 100.8L246.7 104.2L243.8 107.6L242.4 111.1L242.8 115.6L242.4 119.1L244.8 123.6L244.8 131.6L245.4 133.9L241.8 138.5L237.8 140.8L234.9 147.6L234.9 153.3L229.5 158.6L228.9 164.7L226.0 168.2L221.0 173.9L215.1 177.3L208.2 177.7L204.2 179.1L201.0 177.7L200.2 173.9L197.3 165.0L194.7 160.2L193.3 151.7L189.4 143.0L188.0 138.0L188.8 131.6L191.5 127.1L190.9 120.2L189.0 113.4L188.4 111.1L183.4 105.4L183.0 99.7L183.6 93.9L184.0 90.8L181.8 89.4L178.5 89.6L176.1 89.8L174.5 87.1L172.5 85.0L168.6 85.3L166.6 86.0L160.7 88.7L156.7 87.8L149.8 89.6L145.8 87.1L141.9 83.9L138.3 80.2L137.9 78.0L134.9 75.0L131.6 71.3L131.4 68.8L130.0 66.1L132.0 63.1L132.4 56.3L131.0 51.7L133.0 46.0L135.9 40.3L138.9 36.2L142.9 34.6L145.2 32.3L145.6 30.0L146.2 25.4L147.8 23.6L151.2 22.0L152.9 17.9ZM262.2 127.1L264.0 133.9L262.8 138.5L260.6 146.5L257.6 156.7L253.7 157.9L251.1 152.2L250.7 148.7L252.5 144.2L251.7 138.5L255.6 135.7L258.6 132.8L262.2 127.1ZM164.6 -21.4L167.6 -15.0L165.0 -13.8L162.2 -13.1L161.3 -13.8L160.9 -11.5L155.3 -10.9L156.1 -9.5L160.7 -7.9L162.2 -5.4L161.7 -0.8L161.1 0.6L154.7 0.3L148.8 -0.1L146.2 1.5L147.2 3.8L147.0 8.3L145.8 11.1L147.2 12.9L147.0 15.2L149.8 14.7L152.4 16.3L153.5 17.5L155.7 15.9L160.5 15.6L163.6 12.2L165.0 10.6L164.0 9.5L166.4 6.0L171.0 3.8L170.8 1.2L173.5 0.6L177.5 1.2L179.5 -0.4L182.0 -1.7L184.8 -0.6L185.4 1.7L188.8 4.4L191.7 5.6L195.5 8.3L195.7 12.4L196.5 12.9L197.5 10.6L198.7 9.7L197.3 7.9L201.2 8.1L198.5 6.0L196.3 4.0L192.3 2.4L189.2 -1.5L189.0 -4.0L191.5 -4.7L192.3 -2.9L194.3 -2.0L196.3 0.3L201.2 2.8L203.2 4.4L203.0 7.6L205.2 9.5L206.6 12.2L207.4 15.6L208.9 16.3L210.1 14.0L212.1 12.9L210.1 11.1L209.7 7.6L212.1 6.5L216.1 6.5L216.7 7.9L216.5 9.7L218.4 11.7L218.6 15.2L221.0 15.9L225.0 16.5L228.9 17.2L233.1 15.6L236.3 16.1L235.5 18.6L235.7 20.9L234.1 24.3L232.9 27.7L232.3 28.2L233.7 32.3L234.9 35.7L236.9 40.3L238.8 44.9L241.8 49.4L242.8 54.0L245.8 59.7L248.9 64.3L250.3 70.7L253.7 70.4L259.6 67.7L265.5 65.0L268.5 62.0L273.5 59.7L277.0 57.4L280.4 52.8L283.0 48.3L280.8 45.8L277.4 44.9L276.0 39.6L274.4 41.4L271.5 44.6L267.5 44.9L266.5 41.4L265.5 40.3L263.6 39.1L260.6 34.6L259.6 31.2L263.6 31.2L265.5 34.6L269.5 38.0L275.4 38.0L278.4 41.0L286.3 42.1L296.2 41.9L298.2 44.9L301.2 48.3L303.1 47.6L308.3 50.6L308.7 56.3L310.1 63.1L312.0 68.8L314.0 74.5L316.0 80.2L318.0 81.4L319.4 79.1L321.9 76.1L322.9 71.1L323.5 64.3L327.5 61.5L331.8 56.3L335.8 53.3L336.8 50.6L339.8 49.9L342.7 49.4L345.7 48.3L346.7 51.7L347.7 54.0L350.6 57.4L351.6 63.1L353.6 63.6L357.6 62.0L358.2 66.5L359.5 72.3L359.5 78.0L359.1 81.4L361.5 84.8L363.1 88.2L364.5 92.8L367.5 95.1L369.4 96.7L370.8 96.2L369.2 91.0L369.2 87.1L366.5 85.5L363.5 82.5L362.5 79.1L360.9 75.7L362.5 69.5L364.1 70.7L367.5 72.3L369.0 75.7L372.0 79.8L375.4 77.5L379.9 73.9L380.7 70.0L379.7 64.3L375.8 59.7L373.8 56.3L375.6 52.8L378.3 50.6L381.7 50.6L383.3 53.3L384.3 50.6L389.2 49.0L394.2 47.6L398.1 43.7L401.1 41.0L402.1 38.0L405.1 34.6L406.0 31.2L404.1 29.3L405.6 27.7L403.1 24.3L401.1 19.7L403.1 17.5L407.0 15.2L404.1 13.6L400.1 14.7L398.1 11.7L397.5 10.6L400.1 9.9L404.1 6.5L406.6 7.2L404.5 10.6L410.0 8.6L412.0 9.5L412.6 13.6L414.9 14.3L414.6 19.7L416.9 20.7L420.5 19.3L420.9 15.6L418.9 11.5L416.9 8.8L421.3 6.3L421.5 2.8L423.9 1.9L427.8 1.9L432.8 -0.6L436.7 -4.2L440.7 -9.9L442.7 -14.5L443.6 -21.4L283.4 -21.4L164.6 -21.4ZM421.3 23.2L422.9 22.0L424.8 23.2L425.8 25.4L424.4 28.4L422.5 28.9L421.5 25.4L421.3 23.2ZM426.4 23.8L428.8 21.8L431.2 22.0L430.4 23.6L427.8 24.8L426.4 23.8ZM423.9 21.3L426.8 18.8L429.8 18.4L433.7 18.1L435.3 14.7L436.7 14.3L438.7 13.3L440.9 10.6L441.7 7.2L442.3 5.4L444.6 5.1L445.4 8.3L444.6 11.7L443.6 14.0L443.2 17.5L441.7 19.5L439.7 20.4L437.7 20.7L435.7 20.7L433.7 23.2L431.8 22.5L432.2 20.7L427.8 20.9L423.9 21.3ZM441.7 4.9L441.7 1.5L444.6 -4.0L447.6 -1.5L452.5 0.8L449.6 1.7L448.0 3.8L443.6 4.2L441.7 4.9ZM445.6 -5.4L448.6 -7.2L447.6 -12.2L450.6 -12.2L447.6 -21.4L445.6 -21.4L445.6 -5.4ZM402.3 47.1L404.1 42.1L406.0 42.6L405.1 47.1L403.7 49.7L402.3 47.1ZM379.5 55.8L383.3 53.8L384.3 54.9L382.3 57.9L379.7 57.4L379.5 55.8ZM402.1 57.4L406.6 57.4L406.0 62.7L405.1 67.0L410.0 70.0L408.6 71.1L405.1 68.8L403.1 66.5L401.7 62.4L402.1 57.4ZM406.0 83.7L409.0 81.4L411.0 80.0L413.0 78.0L414.9 81.4L414.0 85.3L412.6 86.9L410.0 84.8L406.0 83.7ZM411.0 71.1L413.4 72.3L412.4 76.8L411.0 75.7L411.0 71.1ZM406.0 72.7L408.0 73.4L409.0 76.8L407.0 78.0L406.0 75.7L406.0 72.7ZM402.9 68.8L405.1 69.3L404.5 71.8L402.9 68.8ZM396.5 80.5L401.1 75.0L401.5 75.9L397.1 80.9L396.5 80.5ZM380.3 95.5L382.3 95.8L385.3 93.9L388.2 92.3L390.2 89.2L393.2 87.8L395.2 84.8L396.7 84.1L399.1 87.1L400.1 88.2L398.1 89.8L397.3 92.3L398.1 97.4L397.1 99.7L395.2 103.1L394.2 107.6L391.2 108.1L388.2 107.0L385.3 106.5L382.9 106.0L382.3 103.1L380.7 99.7L380.3 95.5ZM353.2 86.9L357.6 87.8L359.9 91.2L363.5 95.1L366.5 98.5L369.4 101.5L371.4 104.2L374.4 106.5L374.0 112.9L371.4 112.4L367.1 108.8L364.5 105.4L362.5 101.9L360.5 98.5L358.6 94.6L355.6 91.2L353.2 86.9ZM372.8 115.2L374.4 113.4L378.9 114.0L383.3 114.5L387.2 115.4L391.2 117.2L391.0 119.5L386.3 118.6L382.3 118.2L378.3 117.5L375.4 116.6L372.8 115.2ZM392.2 118.4L394.2 118.6L400.1 118.4L404.1 118.8L408.0 118.4L408.0 119.5L402.1 120.0L396.1 120.2L392.2 119.7L392.2 118.4ZM409.0 123.2L415.9 118.8L416.5 119.1L410.6 122.5L409.0 123.2ZM401.1 112.2L403.1 112.2L402.7 106.0L404.1 105.6L406.0 110.6L407.6 109.9L405.1 103.8L408.0 101.7L404.1 101.9L402.5 98.3L404.1 96.9L411.0 98.5L412.0 96.2L411.0 97.4L404.1 97.8L402.1 98.5L401.1 101.9L399.7 106.0L401.1 112.2ZM416.9 96.2L417.9 94.6L418.9 96.2L417.9 98.5L419.5 99.2L417.9 101.5L416.9 99.7L416.9 96.2ZM417.9 107.0L423.5 107.2L422.9 108.3L418.3 107.9L417.9 107.0ZM423.9 101.9L426.8 100.8L429.8 101.5L430.4 106.0L431.8 107.2L436.7 103.1L441.7 104.9L446.6 107.0L450.6 108.8L453.5 112.2L456.5 113.4L457.1 115.2L455.5 117.5L457.5 119.1L460.5 121.6L463.0 122.9L460.5 123.4L456.5 122.7L453.5 118.4L449.6 117.2L448.6 120.2L446.6 120.9L443.6 120.4L439.7 117.9L437.7 118.8L437.1 117.0L438.7 115.2L437.7 111.8L433.7 109.9L429.8 108.3L427.4 108.8L425.8 106.0L427.8 104.9L425.8 104.5L423.9 102.9L423.9 101.9ZM458.5 112.2L461.5 111.3L464.4 109.2L466.0 109.5L464.4 111.1L462.4 113.8L458.5 112.9L458.5 112.2ZM463.0 105.8L466.4 108.6L467.6 110.4L467.0 110.6L463.0 105.8ZM474.3 115.2L476.3 116.8L475.3 117.7L474.3 115.2ZM477.7 116.8L480.8 119.1L480.3 119.5L477.7 116.8ZM489.2 145.8L495.1 150.6L494.1 150.8L489.2 146.5L489.2 145.8ZM515.5 139.6L517.8 139.8L517.3 141.2L515.5 140.5L515.5 139.6ZM495.1 133.9L495.7 135.0L496.7 137.3L495.5 136.2L495.1 133.9ZM389.2 149.9L390.6 149.4L395.6 146.7L400.1 145.3L404.1 144.2L406.4 139.6L409.0 137.3L412.0 133.0L415.9 131.2L419.9 133.7L421.3 130.5L422.9 128.0L426.8 126.1L429.8 127.1L433.7 127.1L435.1 127.5L433.7 130.0L432.8 133.5L435.7 135.7L440.3 139.4L443.2 139.4L444.8 133.9L444.6 129.3L446.0 124.1L447.6 126.6L448.6 131.6L452.2 133.9L453.5 141.9L456.5 144.2L459.9 148.1L463.0 151.3L467.2 157.4L468.4 163.6L467.4 170.4L465.4 174.6L463.4 177.3L461.5 185.1L457.5 186.0L454.1 188.7L450.6 186.9L448.6 188.2L444.6 187.3L441.7 185.3L440.9 181.9L437.9 177.7L436.7 180.7L435.3 180.3L437.1 175.0L433.6 179.1L432.2 178.4L430.2 174.6L424.8 171.6L417.9 173.2L411.0 175.0L409.0 177.1L402.1 177.1L397.1 179.8L392.2 178.0L393.2 176.1L393.6 172.7L392.2 168.2L391.2 163.6L389.0 159.0L389.8 156.7L389.2 149.9ZM451.0 192.6L454.5 193.5L458.1 193.0L457.9 196.0L455.5 199.0L452.5 196.9L451.0 192.6ZM506.4 178.2L509.9 181.4L512.5 184.1L516.9 185.7L517.8 187.6L514.9 189.2L514.3 191.7L511.5 194.6L510.1 193.7L510.3 190.5L508.5 189.2L510.1 186.9L509.9 183.7L506.4 178.2ZM506.4 192.1L509.5 193.3L508.9 195.6L507.0 197.8L506.4 199.7L503.4 201.3L502.4 204.5L499.6 206.1L494.1 204.7L494.7 203.1L497.7 200.1L502.0 197.8L504.2 194.9L506.4 192.1ZM322.5 77.3L324.9 80.2L326.5 83.2L325.3 85.5L323.1 86.0L322.3 81.4L322.5 77.3ZM-143.9 54.2L-142.1 54.7L-143.3 56.5L-143.9 54.2ZM181.4 6.0L183.4 5.8L183.8 9.5L182.4 10.6L181.2 9.9L181.4 6.0ZM181.8 1.7L183.4 1.9L183.2 5.1L181.8 4.4L181.8 1.7ZM189.2 12.7L195.5 12.4L194.5 15.9L189.4 13.8L189.2 12.7ZM211.1 18.6L216.7 19.1L213.1 20.0L211.1 18.6ZM228.5 19.5L233.1 18.1L231.7 20.4L228.5 19.5ZM131.0 35.0L137.9 33.0L137.3 35.7L131.0 35.0ZM131.4 24.8L131.8 25.2L130.6 25.0ZM220.0 5.4L222.0 5.8L227.0 5.6L230.9 3.8L233.9 3.8L236.9 5.4L240.8 6.3L244.8 6.0L246.9 4.7L246.7 2.6L243.8 0.6L240.8 -1.5L237.8 -3.1L234.9 -3.5L230.9 -2.0L228.9 -3.8L230.9 -5.4L227.0 -6.7L225.0 -5.4L223.4 -3.5L221.2 -0.8L219.8 1.9L220.0 5.4ZM233.9 -3.8L237.0 -3.8L240.4 -7.2L238.4 -7.9L234.3 -6.1L233.9 -3.8ZM261.6 -6.7L266.5 -7.7L269.9 -7.2L269.5 -3.8L266.1 -2.0L264.2 -2.0L265.9 1.0L268.9 4.2L269.3 7.9L271.1 8.3L271.3 10.8L271.3 14.5L266.5 15.6L263.6 14.5L261.6 13.8L261.2 11.1L262.6 7.6L260.6 4.2L258.6 1.5L258.4 -2.0L257.0 -2.2L258.6 -4.5L261.6 -6.7ZM-17.4 -7.0L-13.5 -6.7L-7.5 -6.5L-2.6 -6.5L-3.6 -9.5L-6.6 -11.5L-11.5 -10.9L-17.4 -7.0ZM-9.1 3.8L-8.5 0.3L-9.1 -2.6L-3.6 -5.4L-4.4 -3.1L-6.0 -0.8L-6.6 3.3L-9.1 3.8ZM-2.8 -5.4L-1.6 -4.7L-0.6 -3.5L-0.4 -0.8L1.6 1.5L2.9 -2.0L4.3 -3.8L5.1 -5.1L2.4 -5.6L-2.8 -5.4ZM-0.4 4.4L1.4 5.1L6.3 3.3L8.5 1.7L4.3 2.2L1.4 3.5L-0.4 4.4ZM6.7 0.8L10.3 0.6L13.6 0.1L13.2 -1.3L10.3 -0.6L7.3 -0.1L6.7 0.8Z" fill="none" stroke="#3a3a3a" stroke-width="1.3" mask="url(#mL1)"/>
<path d="M229.9 99.0L231.9 99.2L232.1 100.8L233.5 101.9L230.9 105.4L228.9 106.0L227.4 103.8L227.5 100.8L229.9 99.0ZM222.4 107.4L223.2 109.9L224.8 114.5L226.4 119.1L225.6 119.5L224.0 116.8L222.6 113.4L222.2 109.9L222.4 107.4ZM231.9 121.6L233.3 125.9L233.1 129.3L234.3 132.3L233.7 132.3L232.5 128.2L231.9 124.8L231.9 121.6ZM190.9 68.6L192.7 67.7L193.5 69.1L193.3 70.4L192.3 70.9L191.3 70.0L190.9 68.6Z" fill="none" stroke="#3a3a3a" stroke-width="0.6"/>
<rect x="131.7" y="51.3" width="114.5" height="26.8" fill="none" stroke="#1a1a1a" stroke-width="1.10" stroke-dasharray="3.6 4.1"/><rect x="133.6" y="64.7" width="111.2" height="11.5" fill="none" stroke="#1a1a1a" stroke-width="1.10"/><rect x="135.8" y="78.5" width="43.7" height="16.1" fill="none" stroke="#1a1a1a" stroke-width="1.10" stroke-dasharray="3.6 4.1"/>
</g>
<rect x="101.1" y="3.3" width="187.3" height="123.3" fill="none" stroke="#555" stroke-width="1"/>
<g clip-path="url(#cL2)">
<g filter="url(#soft)">
<path fill="#fffa00" fill-rule="evenodd" d="M121.0 167.0L119.1 166.8L117.7 165.9L115.2 160.8L113.2 159.9L109.4 159.7L108.9 159.2L109.1 155.4L110.3 153.1L113.2 152.1L119.1 152.0L121.9 152.5L123.3 153.4L124.3 156.3L124.2 164.0L123.0 166.3L121.0 167.0ZM105.5 167.1L101.6 167.4L101.6 159.7L108.4 159.7L108.9 160.2L108.4 165.0L107.4 166.3L105.5 167.1ZM198.7 259.4L191.0 259.5L188.0 258.5L185.1 253.6L180.3 250.9L177.9 246.6L175.4 244.6L158.9 244.0L156.6 242.8L154.0 239.1L152.1 238.3L142.4 238.0L136.6 236.7L126.8 236.1L125.5 235.1L124.6 233.2L124.4 226.5L124.9 223.6L126.8 221.7L130.7 220.1L133.6 216.3L141.4 213.8L146.3 213.7L159.9 215.5L165.7 214.8L183.2 214.1L192.2 216.9L193.6 217.8L194.2 219.7L193.9 221.2L190.0 221.8L188.0 223.4L187.5 224.5L187.5 225.5L188.4 226.5L191.0 227.0L192.9 226.5L193.8 225.5L194.3 221.7L194.8 221.2L199.7 220.7L201.1 219.7L203.6 216.2L206.5 215.3L208.6 215.9L209.3 216.9L209.5 218.8L207.6 227.4L203.3 230.3L202.8 232.2L203.3 233.2L206.5 234.2L220.1 234.8L223.0 234.5L224.9 233.2L227.1 230.3L232.1 227.4L234.7 222.2L236.6 221.3L245.3 219.2L246.3 218.5L247.0 216.9L247.1 211.1L246.4 209.2L245.3 208.5L234.7 207.1L228.8 205.7L226.9 204.7L225.9 203.4L225.5 200.5L225.4 190.9L225.9 185.2L226.9 183.8L231.7 181.1L234.7 176.1L236.6 175.2L243.4 173.7L247.3 173.8L252.1 174.8L255.1 174.0L256.3 171.7L257.0 162.1L258.0 160.8L259.9 160.0L261.9 160.2L263.2 161.1L264.8 165.0L266.7 166.9L277.4 167.9L279.3 169.7L280.3 172.6L281.3 174.0L283.2 174.8L287.1 175.0L287.1 211.3L284.2 211.5L282.3 212.6L278.1 219.7L276.4 220.4L269.6 221.0L267.7 221.6L263.2 225.5L257.0 228.4L253.1 233.7L242.4 237.6L241.4 239.0L240.5 241.9L238.6 243.8L227.1 246.6L225.7 248.6L225.5 251.4L224.9 252.0L214.3 252.0L205.5 253.7L203.6 254.4L201.1 258.2L198.7 259.4ZM113.2 221.0L101.6 221.2L101.6 205.8L112.3 205.9L114.2 206.3L115.5 207.2L116.6 210.1L116.4 217.8L115.5 219.7L113.2 221.0ZM128.8 259.4L101.6 259.6L101.6 251.9L105.5 251.7L107.4 250.9L110.3 245.9L113.2 244.4L134.6 244.3L138.5 245.3L139.6 247.6L138.8 250.5L133.6 253.0L131.1 258.2L128.8 259.4ZM271.6 266.8L217.7 266.8L217.7 264.9L218.8 261.1L224.3 258.2L225.2 256.2L225.4 252.4L225.9 251.9L229.8 251.7L243.4 249.4L250.2 249.3L253.1 249.6L258.0 251.4L262.8 252.4L270.6 255.4L271.4 256.2L272.0 258.2L272.1 266.8L271.6 266.8Z"/>
<path fill="#f5aa00" fill-rule="evenodd" d="M252.1 228.5L244.4 228.6L242.4 227.7L241.6 226.5L241.8 224.5L242.7 223.6L247.3 222.2L249.7 219.7L250.2 216.9L250.1 210.1L249.5 208.2L247.3 206.4L236.6 204.1L233.9 202.4L233.2 198.6L233.6 186.1L235.6 183.6L239.5 181.7L241.6 178.4L243.4 177.1L245.3 176.9L247.1 177.5L249.8 181.3L251.2 182.2L258.9 182.7L260.9 182.3L262.6 181.3L265.7 176.1L267.7 175.4L269.6 175.6L271.0 176.5L273.7 181.3L278.8 184.2L281.3 189.3L283.2 190.2L287.1 190.4L287.1 205.8L284.2 206.1L283.2 206.8L277.3 218.8L274.5 219.4L272.1 218.8L269.6 215.5L268.7 214.6L267.7 214.5L266.7 215.3L265.2 218.8L263.8 220.7L261.9 222.1L257.6 223.6L254.2 227.4L252.1 228.5ZM199.7 251.6L191.9 251.9L189.0 251.0L187.4 249.5L185.5 245.7L180.5 242.8L178.3 239.6L176.4 238.4L164.7 237.8L154.0 235.3L144.3 234.9L141.6 234.1L140.6 233.2L140.0 231.3L139.8 224.5L138.7 219.7L139.3 216.9L142.4 215.0L146.3 215.0L153.9 216.9L157.0 220.1L158.9 220.8L160.8 220.3L163.6 217.8L165.7 216.7L175.4 216.3L181.2 215.2L184.2 215.4L186.8 216.9L187.3 218.8L185.1 221.5L181.2 223.8L180.8 225.5L181.2 227.2L182.2 228.3L184.2 229.2L192.9 231.1L195.4 235.1L196.8 236.1L199.7 236.5L214.3 236.6L222.0 238.0L229.8 236.9L231.7 237.7L232.6 239.0L232.4 240.9L230.8 242.2L212.3 246.2L207.5 249.9L199.7 251.6ZM263.8 266.8L233.2 266.8L233.5 256.2L234.7 254.4L235.6 253.9L241.5 251.8L244.4 251.3L253.1 251.4L261.9 253.5L264.8 255.3L265.5 257.2L264.3 266.8L263.8 266.8Z"/>
<path fill="#f06400" fill-rule="evenodd" d="M271.6 198.1L266.7 197.6L265.4 196.7L264.5 194.7L264.7 186.1L265.7 184.4L267.7 183.3L269.6 183.7L271.6 186.1L272.1 196.7L271.6 198.1ZM256.0 205.8L252.1 205.4L242.1 202.4L241.1 200.5L241.0 195.7L241.5 192.9L242.4 191.5L245.3 190.5L251.2 190.5L254.0 190.9L255.4 191.9L256.5 195.7L256.5 205.3L256.0 205.8ZM276.4 216.9L274.5 217.1L273.5 216.2L270.8 210.1L270.8 207.2L271.9 202.4L272.1 198.6L272.5 198.1L277.4 198.6L278.7 199.6L279.6 201.5L279.6 210.1L276.4 216.9ZM260.9 219.0L258.0 218.8L256.7 216.9L256.5 206.3L257.0 205.8L261.9 206.3L263.7 208.2L263.9 211.1L262.5 216.9L260.9 219.0ZM146.3 219.9L145.3 220.5L143.4 220.3L142.4 219.1L142.4 217.8L143.4 217.1L145.3 217.1L146.5 217.8L146.8 218.8L146.3 219.9ZM182.2 219.1L180.4 218.8L180.6 217.8L182.2 217.4L183.4 217.8L183.1 218.8L182.2 219.1ZM177.4 234.2L174.4 234.9L169.6 235.0L166.7 234.8L164.7 234.0L163.5 232.2L163.3 228.4L163.7 224.5L164.7 222.9L166.7 221.6L168.6 221.2L174.4 221.3L176.4 222.0L178.4 231.3L178.2 233.2L177.4 234.2ZM207.5 243.8L205.5 243.9L203.6 243.1L202.8 241.8L203.3 239.9L205.5 239.0L208.4 238.8L213.7 239.0L216.1 239.9L216.4 240.9L215.2 242.1L207.5 243.8ZM258.0 266.8L239.4 266.8L239.4 258.2L240.0 255.3L242.4 253.3L248.3 252.7L254.1 253.0L261.0 255.3L261.9 256.2L262.0 257.2L258.5 262.0L258.0 266.8Z"/>
<path fill="#eb2800" fill-rule="evenodd" d="M276.4 211.5L275.5 211.9L274.5 211.2L274.1 210.1L274.3 208.2L275.5 207.0L276.4 207.2L277.0 208.2L277.0 210.1L276.4 211.5ZM254.1 266.8L242.6 266.8L242.6 258.2L243.0 256.2L243.8 255.3L246.3 254.7L252.1 254.7L254.5 255.3L255.6 256.2L255.9 257.2L254.9 266.8L254.1 266.8Z"/>
<path fill="#6ef5ff" fill-rule="evenodd" d="M200.7 214.2L195.8 214.9L190.0 214.6L183.2 213.1L159.9 213.5L145.3 212.3L136.6 213.3L133.2 213.0L131.1 211.1L129.6 207.2L125.5 204.4L123.3 199.6L118.1 197.0L115.6 191.9L110.0 189.0L109.2 187.1L109.4 185.1L110.3 183.8L112.3 183.0L126.8 182.7L128.8 182.3L130.5 181.3L133.2 176.5L138.3 173.6L141.0 168.8L145.3 166.5L146.8 165.0L147.6 163.0L148.2 154.4L149.2 153.1L153.1 151.1L154.6 149.6L155.3 147.7L155.5 144.8L202.1 144.8L202.6 149.6L203.6 150.9L205.5 151.5L207.5 150.8L208.7 149.6L209.6 147.7L209.9 144.8L242.6 144.8L242.5 155.4L241.4 159.2L239.5 160.6L237.6 161.1L230.8 160.1L228.8 160.3L226.9 161.7L224.4 165.9L223.0 166.9L219.1 167.4L187.1 167.4L186.5 166.9L186.1 163.2L185.2 162.1L183.2 161.7L181.2 162.7L180.9 164.0L181.5 165.9L183.2 167.0L186.1 167.3L186.6 167.8L187.0 172.6L188.3 178.4L189.3 180.3L197.7 182.5L207.5 183.2L208.8 184.2L211.3 188.8L216.2 191.5L217.1 192.8L217.3 194.7L216.6 196.7L213.3 198.7L211.9 200.5L209.4 210.3L208.4 211.2L200.7 214.2ZM287.1 259.6L282.3 259.1L280.9 258.2L278.9 255.3L277.4 254.5L258.0 250.0L253.8 246.6L249.2 244.6L247.8 242.8L247.5 240.9L248.9 238.0L255.1 235.1L257.1 231.3L258.9 229.5L268.7 225.8L272.5 222.3L278.4 220.8L280.4 218.8L282.3 214.8L284.2 213.7L287.1 213.5L287.1 259.6ZM222.0 228.4L217.2 228.8L213.3 228.4L211.9 226.5L212.3 222.8L213.3 221.9L215.2 221.3L223.0 221.7L224.8 223.6L224.9 225.5L223.7 227.4L222.0 228.4ZM105.5 243.8L101.6 244.2L101.6 236.6L106.4 237.1L108.3 239.0L107.9 241.8L105.5 243.8Z"/>
<path fill="#5aaaff" fill-rule="evenodd" d="M193.9 213.2L190.0 213.3L182.2 212.0L165.7 212.2L158.9 211.3L146.3 210.6L136.6 211.1L134.6 210.3L134.0 209.2L132.3 201.5L132.6 186.1L134.6 183.6L138.9 181.3L141.6 176.5L146.7 173.6L149.4 168.8L154.4 165.9L155.3 164.0L155.9 155.4L157.9 152.8L162.2 150.5L163.0 148.6L163.3 144.8L178.8 144.8L179.0 147.7L179.7 149.6L181.2 151.1L185.1 153.1L186.1 155.4L185.3 157.3L180.3 159.3L177.9 162.1L177.5 165.9L179.3 172.7L180.3 174.0L184.2 176.6L185.6 181.3L187.1 183.1L192.9 185.1L196.8 187.8L201.6 188.7L205.5 190.2L207.5 191.2L209.0 192.8L209.5 195.7L207.5 204.4L200.4 211.1L193.9 213.2ZM237.6 157.5L234.9 157.3L233.5 155.4L233.2 144.8L239.4 144.8L239.2 155.4L238.5 156.9L237.6 157.5ZM220.1 161.2L213.3 161.1L210.4 160.1L208.7 157.3L208.7 155.4L209.6 153.4L211.3 151.6L214.3 150.6L222.0 150.6L224.9 151.6L226.7 154.4L226.3 157.3L224.0 160.0L220.1 161.2ZM169.3 188.0L170.8 186.1L170.9 179.4L169.9 176.5L167.6 175.5L165.7 176.4L165.2 177.5L163.7 186.1L164.0 187.1L165.7 188.3L167.6 188.5L169.3 188.0ZM287.1 251.9L275.5 251.9L268.7 251.2L259.9 248.8L258.1 247.6L255.1 244.3L251.5 241.8L251.3 239.9L256.0 236.5L260.2 231.3L264.8 229.1L270.1 227.4L273.4 223.6L278.4 222.0L280.3 220.8L284.2 216.1L287.1 215.7L287.1 251.9Z"/>
<path fill="#3c82ff" fill-rule="evenodd" d="M176.4 158.5L174.4 159.2L172.2 158.2L171.4 155.4L172.5 153.1L173.5 152.6L175.4 152.5L177.4 153.7L178.1 155.4L178.0 156.3L176.4 158.5ZM222.0 157.5L219.1 158.1L214.3 157.9L212.8 157.3L212.2 155.4L212.9 154.4L214.3 153.8L221.1 153.8L222.5 154.4L223.1 155.4L223.0 156.5L222.0 157.5ZM159.9 181.9L157.9 182.1L156.1 180.3L156.1 177.5L157.9 175.7L159.9 175.7L161.3 177.5L161.1 180.3L159.9 181.9ZM191.0 212.1L182.2 210.4L165.7 210.2L159.9 206.2L150.2 205.3L148.8 204.4L147.9 202.4L147.8 195.7L148.2 192.8L150.2 190.9L152.1 190.5L158.9 190.5L167.6 191.9L183.2 188.9L191.0 189.1L200.7 191.1L202.8 192.8L203.5 194.7L203.6 200.5L203.0 203.4L201.6 205.3L196.8 208.2L194.3 211.1L191.0 212.1ZM276.4 249.6L269.6 249.3L266.0 248.6L258.0 244.1L256.0 241.8L255.8 239.9L257.9 237.0L261.9 234.2L264.8 230.9L271.6 228.6L275.5 224.7L279.3 223.0L283.2 220.4L287.1 219.7L287.1 244.2L284.2 244.4L282.3 245.1L279.0 248.6L276.4 249.6Z"/>
<path fill="#2832fa" fill-rule="evenodd" d="M190.0 210.2L187.4 209.2L185.1 206.8L183.2 206.0L166.7 205.4L164.2 203.4L163.9 200.5L164.7 199.2L166.7 198.3L176.4 197.6L177.7 196.7L180.3 192.9L182.2 192.2L191.0 192.1L198.7 193.1L199.8 193.8L200.4 195.7L200.0 202.4L198.7 203.8L194.8 205.4L192.3 209.2L190.0 210.2ZM276.4 243.8L272.5 244.2L266.7 243.9L259.9 242.0L258.9 240.9L259.0 239.9L259.9 238.8L263.8 237.0L267.1 232.2L272.5 230.7L277.6 228.4L282.5 223.6L287.1 222.7L287.1 236.5L283.2 236.8L281.3 237.6L279.0 241.8L276.4 243.8Z"/>
</g>
<path d="M-83.9 119.7L-82.9 125.4L-81.4 130.2L-80.0 135.6L-81.0 142.5L-80.4 148.4L-77.0 154.3L-75.8 157.3L-73.3 161.8L-66.6 165.9L-64.2 171.0L-60.7 176.6L-56.3 183.5L-52.4 188.0L-51.4 187.6L-56.3 178.9L-61.9 168.7L-58.3 169.1L-54.4 175.5L-51.4 180.1L-47.5 184.6L-43.5 191.5L-43.5 194.9L-39.6 198.7L-32.7 201.7L-25.8 204.7L-20.9 203.8L-17.3 207.4L-13.0 209.2L-8.1 210.8L-5.1 214.2L-4.5 217.6L-2.1 218.8L1.8 221.7L6.7 223.3L7.7 220.4L10.3 221.7L11.1 223.8L12.0 220.8L8.7 218.8L4.7 220.4L1.8 218.8L-0.2 215.8L-0.2 208.5L0.4 206.3L-3.1 204.2L-9.0 204.4L-9.6 198.5L-8.1 191.5L-13.8 192.6L-14.0 196.0L-15.9 198.3L-20.9 199.0L-24.8 197.1L-27.4 191.5L-27.8 183.5L-27.2 177.8L-21.9 173.2L-15.0 173.9L-11.4 174.1L-10.0 171.4L-5.1 171.2L-1.2 172.1L0.8 174.4L1.6 177.8L3.2 181.2L4.7 183.0L6.5 181.7L5.5 175.5L4.2 171.0L4.7 167.5L8.7 164.1L12.6 161.6L15.6 160.2L14.6 156.1L15.6 152.7L18.5 148.2L22.5 147.0L26.4 145.7L25.4 142.5L30.4 139.3L34.3 137.9L37.3 136.8L34.3 140.2L39.2 138.8L44.2 137.2L46.1 135.6L43.2 133.4L37.3 133.4L36.3 129.3L37.7 128.8L33.3 126.5L46.1 125.9L52.0 123.1L54.0 119.7ZM47.5 132.0L54.0 127.7L58.9 128.1L60.5 132.2L58.9 134.3L55.0 133.4L47.5 132.0ZM-78.6 130.4L-82.9 129.0L-86.9 126.3L-88.8 124.3L-83.9 124.3L-78.6 130.4ZM-3.1 190.8L2.8 187.8L6.7 188.0L12.6 191.5L18.1 194.4L11.6 195.1L9.7 191.5L3.8 190.3L-3.1 190.8ZM17.8 195.3L22.5 195.1L28.4 197.1L29.6 198.3L24.5 199.9L17.8 198.5L17.8 195.3ZM10.1 198.5L14.0 199.0L13.0 199.7L10.1 199.0ZM31.9 198.3L35.1 198.5L34.9 199.4L31.9 199.4ZM12.0 220.8L11.1 223.8L11.6 226.8L11.6 231.3L9.1 237.0L6.7 240.4L5.7 243.8L6.7 246.1L4.4 250.7L4.7 254.1L7.7 257.5L10.7 263.2L14.0 271.2L16.6 275.7L23.5 280.3L25.8 282.6L26.0 292.8L25.2 301.9L23.5 308.8L23.3 315.6L22.5 322.4L19.5 325.8L19.1 331.5L18.5 336.1L17.6 342.9L15.6 349.8L16.0 356.6L18.5 361.1L22.5 363.4L29.4 361.1L29.4 358.9L28.4 355.5L30.8 349.8L34.7 348.6L31.3 345.2L32.3 342.9L36.3 339.5L37.8 337.5L36.3 333.8L41.6 332.7L42.2 329.3L51.1 327.0L52.6 323.6L51.1 321.3L49.1 318.3L54.0 319.9L57.9 319.7L60.9 315.6L64.8 309.9L68.6 304.2L68.8 298.5L72.7 295.1L77.7 292.8L81.6 292.6L83.6 289.4L86.1 284.8L87.5 276.9L87.9 270.0L90.5 266.6L94.4 262.1L95.8 257.5L95.0 253.0L91.4 251.4L87.5 248.4L82.6 247.0L77.7 246.1L73.7 243.2L68.8 243.4L65.8 240.4L64.8 236.3L62.9 230.9L58.9 227.7L52.0 226.8L47.1 222.2L44.2 219.2L41.2 216.3L37.3 217.2L33.3 216.3L29.8 216.5L26.4 212.9L23.5 215.4L22.5 212.2L19.5 214.7L15.6 216.5L13.6 219.9L12.0 220.8ZM152.7 158.9L160.4 160.5L166.3 157.3L174.2 156.6L183.7 155.5L186.0 156.1L185.0 158.4L186.0 160.7L184.1 162.5L186.0 164.6L190.0 165.7L194.5 166.9L197.8 169.8L201.8 171.4L203.8 169.8L203.8 167.1L207.7 165.5L213.6 168.0L218.5 169.1L222.5 169.8L225.4 168.4L228.0 169.1L231.7 169.1L233.1 173.2L231.9 176.6L230.8 177.1L228.6 172.3L228.6 173.2L230.4 177.3L232.3 181.2L234.5 186.9L237.8 192.6L240.0 199.4L242.2 204.9L246.1 209.0L249.7 212.0L249.5 214.0L252.0 216.7L256.0 215.8L260.9 214.7L265.2 213.5L264.8 216.7L263.9 222.2L260.9 227.9L257.9 232.5L254.0 235.9L249.1 241.6L246.1 245.0L243.2 248.4L241.8 251.8L242.2 256.4L241.8 259.8L244.2 264.3L244.2 272.3L244.7 274.6L241.2 279.1L237.3 281.4L234.3 288.3L234.3 294.0L229.0 299.2L228.4 305.3L225.4 308.8L220.5 314.5L214.6 317.9L207.7 318.3L203.8 319.7L200.6 318.3L199.8 314.5L196.9 305.6L194.3 300.8L192.9 292.4L189.0 283.7L187.6 278.7L188.4 272.3L191.1 267.8L190.6 260.9L188.6 254.1L188.0 251.8L183.1 246.1L182.7 240.4L183.3 234.7L183.7 231.5L181.5 230.2L178.1 230.4L175.8 230.6L174.2 227.9L172.2 225.8L168.3 226.1L166.3 226.8L160.4 229.5L156.5 228.6L149.6 230.4L145.6 227.9L141.7 224.7L138.1 221.1L137.7 218.8L134.8 215.8L131.4 212.2L131.2 209.7L129.9 206.9L131.8 204.0L132.2 197.1L130.9 192.6L132.8 186.9L135.8 181.2L138.7 177.1L142.7 175.5L145.0 173.2L145.4 171.0L146.0 166.4L147.6 164.6L151.0 163.0L152.7 158.9ZM261.5 267.8L263.3 274.6L262.1 279.1L259.9 287.1L257.0 297.4L253.0 298.5L250.5 292.8L250.1 289.4L251.8 284.8L251.0 279.1L255.0 276.4L257.9 273.5L261.5 267.8ZM164.4 119.7L167.3 126.1L164.7 127.2L162.0 127.9L161.0 127.2L160.6 129.5L155.1 130.2L155.9 131.5L160.4 133.1L162.0 135.6L161.4 140.2L160.8 141.6L154.5 141.3L148.6 140.9L146.0 142.5L147.0 144.8L146.8 149.3L145.6 152.0L147.0 153.9L146.8 156.1L149.6 155.7L152.1 157.3L153.3 158.4L155.5 156.8L160.2 156.6L163.4 153.2L164.7 151.6L163.8 150.5L166.1 147.0L170.7 144.8L170.5 142.3L173.2 141.6L177.2 142.3L179.1 140.7L181.7 139.3L184.4 140.4L185.0 142.7L188.4 145.4L191.3 146.6L195.1 149.3L195.3 153.4L196.1 153.9L197.1 151.6L198.2 150.7L196.9 148.9L200.8 149.1L198.0 147.0L195.9 145.0L191.9 143.4L188.8 139.5L188.6 137.0L191.1 136.3L191.9 138.2L193.9 139.1L195.9 141.3L200.8 143.8L202.8 145.4L202.6 148.6L204.7 150.5L206.1 153.2L206.9 156.6L208.5 157.3L209.7 155.0L211.6 153.9L209.7 152.0L209.3 148.6L211.6 147.5L215.6 147.5L216.2 148.9L216.0 150.7L217.9 152.7L218.1 156.1L220.5 156.8L224.4 157.5L228.4 158.2L232.5 156.6L235.7 157.1L234.9 159.6L235.1 161.8L233.5 165.3L232.3 168.7L231.7 169.1L233.1 173.2L234.3 176.6L236.3 181.2L238.2 185.8L241.2 190.3L242.2 194.9L245.1 200.6L248.3 205.1L249.7 211.5L253.0 211.3L258.9 208.5L264.8 205.8L267.8 202.8L272.7 200.6L276.3 198.3L279.6 193.7L282.2 189.2L280.0 186.7L276.7 185.8L275.3 180.5L273.7 182.3L270.8 185.5L266.8 185.8L265.8 182.3L264.8 181.2L262.9 180.1L259.9 175.5L258.9 172.1L262.9 172.1L264.8 175.5L268.8 178.9L274.7 178.9L277.6 181.9L285.5 183.0L295.4 182.8L297.4 185.8L300.3 189.2L302.3 188.5L307.4 191.5L307.8 197.1L309.2 204.0L311.1 209.7L313.1 215.4L315.1 221.1L317.1 222.2L318.4 219.9L321.0 217.0L322.0 212.0L322.6 205.1L326.5 202.4L330.9 197.1L334.8 194.2L335.8 191.5L338.7 190.8L341.7 190.3L344.6 189.2L345.6 192.6L346.6 194.9L349.6 198.3L350.6 204.0L352.5 204.4L356.5 202.8L357.1 207.4L358.4 213.1L358.4 218.8L358.0 222.2L360.4 225.6L362.0 229.0L363.4 233.6L366.3 235.9L368.3 237.5L369.7 237.0L368.1 231.8L368.1 227.9L365.3 226.3L362.4 223.3L361.4 219.9L359.8 216.5L361.4 210.4L363.0 211.5L366.3 213.1L367.9 216.5L370.9 220.6L374.2 218.3L378.7 214.7L379.5 210.8L378.5 205.1L374.6 200.6L372.6 197.1L374.4 193.7L377.2 191.5L380.5 191.5L382.1 194.2L383.1 191.5L388.0 189.9L392.9 188.5L396.9 184.6L399.8 181.9L400.8 178.9L403.8 175.5L404.7 172.1L402.8 170.3L404.3 168.7L401.8 165.3L399.8 160.7L401.8 158.4L405.7 156.1L402.8 154.6L398.8 155.7L396.9 152.7L396.3 151.6L398.8 150.9L402.8 147.5L405.3 148.2L403.2 151.6L408.7 149.5L410.7 150.5L411.2 154.6L413.6 155.2L413.2 160.7L415.6 161.6L419.1 160.2L419.5 156.6L417.5 152.5L415.6 149.8L419.9 147.3L420.1 143.8L422.5 142.9L426.4 142.9L431.3 140.4L435.3 136.8L439.2 131.1L441.2 126.5L442.2 119.7L282.6 119.7L164.4 119.7ZM419.9 164.1L421.5 163.0L423.5 164.1L424.4 166.4L423.1 169.4L421.1 169.8L420.1 166.4L419.9 164.1ZM425.0 164.8L427.4 162.8L429.8 163.0L429.0 164.6L426.4 165.7L425.0 164.8ZM422.5 162.3L425.4 159.8L428.4 159.3L432.3 159.1L433.9 155.7L435.3 155.2L437.3 154.3L439.4 151.6L440.2 148.2L440.8 146.4L443.2 146.1L444.0 149.3L443.2 152.7L442.2 155.0L441.8 158.4L440.2 160.5L438.2 161.4L436.3 161.6L434.3 161.6L432.3 164.1L430.4 163.4L430.8 161.6L426.4 161.8L422.5 162.3ZM440.2 145.9L440.2 142.5L443.2 137.0L446.1 139.5L451.0 141.8L448.1 142.7L446.5 144.8L442.2 145.2L440.2 145.9ZM444.1 135.6L447.1 133.8L446.1 128.8L449.1 128.8L446.1 119.7L444.1 119.7L444.1 135.6ZM401.0 188.0L402.8 183.0L404.7 183.5L403.8 188.0L402.4 190.5L401.0 188.0ZM378.3 196.7L382.1 194.6L383.1 195.8L381.1 198.7L378.5 198.3L378.3 196.7ZM400.8 198.3L405.3 198.3L404.7 203.5L403.8 207.9L408.7 210.8L407.3 212.0L403.8 209.7L401.8 207.4L400.4 203.3L400.8 198.3ZM404.7 224.5L407.7 222.2L409.7 220.8L411.6 218.8L413.6 222.2L412.6 226.1L411.2 227.7L408.7 225.6L404.7 224.5ZM409.7 212.0L412.0 213.1L411.0 217.6L409.7 216.5L409.7 212.0ZM404.7 213.5L406.7 214.2L407.7 217.6L405.7 218.8L404.7 216.5L404.7 213.5ZM401.6 209.7L403.8 210.1L403.2 212.6L401.6 209.7ZM395.3 221.3L399.8 215.8L400.2 216.7L395.9 221.7L395.3 221.3ZM379.1 236.3L381.1 236.6L384.1 234.7L387.0 233.1L389.0 229.9L391.9 228.6L393.9 225.6L395.5 224.9L397.8 227.9L398.8 229.0L396.9 230.6L396.1 233.1L396.9 238.1L395.9 240.4L393.9 243.8L392.9 248.4L390.0 248.9L387.0 247.7L384.1 247.3L381.7 246.8L381.1 243.8L379.5 240.4L379.1 236.3ZM352.1 227.7L356.5 228.6L358.8 232.0L362.4 235.9L365.3 239.3L368.3 242.2L370.3 245.0L373.2 247.3L372.8 253.6L370.3 253.2L365.9 249.5L363.4 246.1L361.4 242.7L359.4 239.3L357.5 235.4L354.5 232.0L352.1 227.7ZM371.6 255.9L373.2 254.1L377.7 254.8L382.1 255.2L386.0 256.1L390.0 258.0L389.8 260.2L385.0 259.3L381.1 258.9L377.2 258.2L374.2 257.3L371.6 255.9ZM390.9 259.1L392.9 259.3L398.8 259.1L402.8 259.6L406.7 259.1L406.7 260.2L400.8 260.7L394.9 260.9L390.9 260.5L390.9 259.1ZM407.7 263.9L414.6 259.6L415.2 259.8L409.3 263.2L407.7 263.9ZM399.8 253.0L401.8 253.0L401.4 246.8L402.8 246.3L404.7 251.4L406.3 250.7L403.8 244.5L406.7 242.5L402.8 242.7L401.2 239.1L402.8 237.7L409.7 239.3L410.7 237.0L409.7 238.1L402.8 238.6L400.8 239.3L399.8 242.7L398.4 246.8L399.8 253.0ZM415.6 237.0L416.6 235.4L417.5 237.0L416.6 239.3L418.1 240.0L416.6 242.2L415.6 240.4L415.6 237.0ZM416.6 247.7L422.1 247.9L421.5 249.1L417.0 248.6L416.6 247.7ZM422.5 242.7L425.4 241.6L428.4 242.2L429.0 246.8L430.4 247.9L435.3 243.8L440.2 245.7L445.1 247.7L449.1 249.5L452.0 253.0L455.0 254.1L455.6 255.9L454.0 258.2L456.0 259.8L458.9 262.3L461.5 263.7L458.9 264.1L455.0 263.4L452.0 259.1L448.1 258.0L447.1 260.9L445.1 261.6L442.2 261.2L438.2 258.6L436.3 259.6L435.7 257.7L437.3 255.9L436.3 252.5L432.3 250.7L428.4 249.1L426.0 249.5L424.4 246.8L426.4 245.7L424.4 245.2L422.5 243.6L422.5 242.7ZM457.0 253.0L459.9 252.0L462.9 250.0L464.4 250.2L462.9 251.8L460.9 254.5L457.0 253.6L457.0 253.0ZM461.5 246.6L464.8 249.3L466.0 251.1L465.4 251.4L461.5 246.6ZM472.7 255.9L474.7 257.5L473.7 258.4L472.7 255.9ZM476.1 257.5L479.2 259.8L478.6 260.2L476.1 257.5ZM487.5 286.4L493.4 291.2L492.4 291.4L487.5 287.1L487.5 286.4ZM513.7 280.3L516.1 280.5L515.5 281.9L513.7 281.2L513.7 280.3ZM493.4 274.6L494.0 275.7L495.0 278.0L493.8 276.9L493.4 274.6ZM388.0 290.5L389.4 290.1L394.3 287.3L398.8 286.0L402.8 284.8L405.1 280.3L407.7 278.0L410.7 273.7L414.6 271.9L418.5 274.4L419.9 271.2L421.5 268.7L425.4 266.8L428.4 267.8L432.3 267.8L433.7 268.2L432.3 270.7L431.3 274.1L434.3 276.4L438.8 280.1L441.8 280.1L443.4 274.6L443.2 270.0L444.5 264.8L446.1 267.3L447.1 272.3L450.7 274.6L452.0 282.6L455.0 284.8L458.3 288.7L461.5 291.9L465.6 298.1L466.8 304.2L465.8 311.0L463.9 315.1L461.9 317.9L459.9 325.6L456.0 326.5L452.6 329.3L449.1 327.4L447.1 328.8L443.2 327.9L440.2 325.8L439.4 322.4L436.5 318.3L435.3 321.3L433.9 320.8L435.7 315.6L432.1 319.7L430.8 319.0L428.8 315.1L423.5 312.2L416.6 313.8L409.7 315.6L407.7 317.6L400.8 317.6L395.9 320.4L390.9 318.6L391.9 316.7L392.3 313.3L390.9 308.8L390.0 304.2L387.8 299.6L388.6 297.4L388.0 290.5ZM449.5 333.1L453.0 334.0L456.6 333.6L456.4 336.5L454.0 339.5L451.0 337.5L449.5 333.1ZM504.6 318.8L508.2 322.0L510.7 324.7L515.1 326.3L516.1 328.1L513.1 329.7L512.5 332.2L509.8 335.2L508.4 334.3L508.6 331.1L506.8 329.7L508.4 327.4L508.2 324.2L504.6 318.8ZM504.6 332.7L507.8 333.8L507.2 336.1L505.2 338.4L504.6 340.2L501.7 341.8L500.7 345.0L497.9 346.6L492.4 345.2L493.0 343.6L496.0 340.6L500.3 338.4L502.5 335.4L504.6 332.7ZM321.6 218.1L324.0 221.1L325.5 224.0L324.3 226.3L322.2 226.8L321.4 222.2L321.6 218.1ZM-142.8 195.1L-141.1 195.6L-142.2 197.4L-142.8 195.1ZM181.1 147.0L183.1 146.8L183.5 150.5L182.1 151.6L180.9 150.9L181.1 147.0ZM181.5 142.7L183.1 142.9L182.9 146.1L181.5 145.4L181.5 142.7ZM188.8 153.6L195.1 153.4L194.1 156.8L189.0 154.8L188.8 153.6ZM210.7 159.6L216.2 160.0L212.6 160.9L210.7 159.6ZM228.0 160.5L232.5 159.1L231.1 161.4L228.0 160.5ZM130.9 176.0L137.7 173.9L137.2 176.6L130.9 176.0ZM131.2 165.7L131.6 166.2L130.5 165.9ZM219.5 146.4L221.5 146.8L226.4 146.6L230.4 144.8L233.3 144.8L236.3 146.4L240.2 147.3L244.2 147.0L246.3 145.7L246.1 143.6L243.2 141.6L240.2 139.5L237.3 137.9L234.3 137.5L230.4 139.1L228.4 137.2L230.4 135.6L226.4 134.3L224.4 135.6L222.9 137.5L220.7 140.2L219.3 142.9L219.5 146.4ZM233.3 137.2L236.5 137.2L239.8 133.8L237.8 133.1L233.7 135.0L233.3 137.2ZM260.9 134.3L265.8 133.4L269.2 133.8L268.8 137.2L265.4 139.1L263.5 139.1L265.2 142.0L268.2 145.2L268.6 148.9L270.4 149.3L270.6 151.8L270.6 155.5L265.8 156.6L262.9 155.5L260.9 154.8L260.5 152.0L261.9 148.6L259.9 145.2L257.9 142.5L257.7 139.1L256.4 138.8L257.9 136.6L260.9 134.3ZM-16.9 134.1L-13.0 134.3L-7.1 134.5L-2.1 134.5L-3.1 131.5L-6.1 129.5L-11.0 130.2L-16.9 134.1ZM-8.7 144.8L-8.1 141.3L-8.7 138.4L-3.1 135.6L-3.9 137.9L-5.5 140.2L-6.1 144.3L-8.7 144.8ZM-2.3 135.6L-1.2 136.3L-0.2 137.5L0.0 140.2L2.0 142.5L3.4 139.1L4.7 137.2L5.5 135.9L2.8 135.4L-2.3 135.6ZM0.0 145.4L1.8 146.1L6.7 144.3L8.9 142.7L4.7 143.2L1.8 144.5L0.0 145.4ZM7.1 141.8L10.7 141.6L14.0 141.1L13.6 139.7L10.7 140.4L7.7 140.9L7.1 141.8Z" fill="none" stroke="#3a3a3a" stroke-width="1.3" mask="url(#mL2)"/>
<path d="M229.4 239.7L231.3 240.0L231.5 241.6L232.9 242.7L230.4 246.1L228.4 246.8L226.8 244.5L227.0 241.6L229.4 239.7ZM221.9 248.2L222.7 250.7L224.3 255.2L225.8 259.8L225.0 260.2L223.5 257.5L222.1 254.1L221.7 250.7L221.9 248.2ZM231.3 262.3L232.7 266.6L232.5 270.0L233.7 273.0L233.1 273.0L231.9 268.9L231.3 265.5L231.3 262.3ZM190.6 209.4L192.3 208.5L193.1 209.9L192.9 211.3L191.9 211.7L191.0 210.8L190.6 209.4Z" fill="none" stroke="#3a3a3a" stroke-width="0.6"/>
<rect x="131.7" y="192.3" width="114.5" height="26.8" fill="none" stroke="#1a1a1a" stroke-width="1.10" stroke-dasharray="3.6 4.1"/><rect x="133.6" y="205.7" width="111.2" height="11.5" fill="none" stroke="#1a1a1a" stroke-width="1.10"/><rect x="135.8" y="219.5" width="43.7" height="16.1" fill="none" stroke="#1a1a1a" stroke-width="1.10" stroke-dasharray="3.6 4.1"/>
</g>
<rect x="101.1" y="144.3" width="186.5" height="123.0" fill="none" stroke="#555" stroke-width="1"/>
<g clip-path="url(#cL3)">
<g filter="url(#soft)">
<path fill="#fffa00" fill-rule="evenodd" d="M245.7 299.6L242.7 298.8L241.6 296.6L242.4 293.7L244.7 292.5L247.6 293.3L248.7 295.6L247.9 298.5L245.7 299.6ZM237.9 315.0L234.9 314.2L233.9 312.0L234.9 309.4L237.9 308.1L240.1 309.1L240.9 312.0L240.1 313.9L237.9 315.0ZM268.0 350.9L266.1 350.6L265.1 349.6L264.4 341.9L263.5 340.0L262.2 339.0L259.3 338.0L257.4 336.1L256.9 330.3L257.3 325.5L258.3 324.2L263.0 321.6L266.1 317.6L269.0 317.0L276.8 316.7L282.6 314.3L287.5 313.8L287.5 343.6L273.9 344.5L271.8 345.8L269.8 349.6L268.0 350.9ZM124.0 400.3L101.6 400.3L101.6 384.8L105.5 384.6L111.3 383.4L121.1 383.1L123.0 382.4L123.6 381.5L123.5 380.5L122.0 379.2L114.2 377.5L101.6 377.1L101.6 361.7L118.1 359.6L126.9 359.5L135.7 361.6L145.4 362.0L147.3 362.9L148.5 364.1L149.2 367.0L148.0 372.8L147.8 376.6L147.3 377.2L144.4 377.3L142.5 378.0L140.9 379.5L138.6 383.8L133.3 386.3L130.8 390.9L126.9 393.4L125.4 395.0L124.7 396.9L124.5 399.8L124.0 400.3ZM151.2 384.4L149.3 383.7L148.4 382.4L147.8 377.6L148.3 377.1L153.2 377.6L155.0 379.5L155.1 381.5L154.2 383.1L151.2 384.4ZM221.3 392.2L216.5 392.6L212.6 392.1L210.7 390.2L210.5 388.2L211.6 385.9L216.5 383.8L219.4 379.9L222.3 379.0L224.2 379.4L225.2 380.5L225.7 386.3L225.4 388.2L224.3 390.2L221.3 392.2ZM194.1 407.5L177.4 407.5L178.0 401.7L179.5 399.9L182.4 398.9L186.3 399.2L192.1 400.7L193.5 401.7L194.3 403.7L194.6 407.5L194.1 407.5ZM147.3 407.5L124.5 407.5L124.5 400.8L124.9 400.3L127.9 400.4L134.7 401.7L145.4 402.2L147.3 403.7L147.8 407.5L147.3 407.5ZM254.4 407.5L249.1 407.5L249.4 404.6L250.1 403.7L252.5 402.9L254.4 403.6L255.2 407.5L254.4 407.5Z"/>
<path fill="#f5aa00" fill-rule="evenodd" d="M287.5 338.5L277.8 338.5L274.9 338.0L272.9 336.1L272.0 333.2L271.0 331.9L265.8 329.4L265.0 327.4L265.6 325.5L268.0 323.5L276.8 322.7L278.8 321.5L282.1 317.8L284.6 317.0L287.5 316.9L287.5 338.5ZM136.6 376.7L128.8 377.0L119.1 375.1L117.2 373.8L115.0 370.9L110.0 368.0L109.4 366.0L109.7 365.1L112.3 363.4L118.1 362.0L122.0 361.7L128.8 361.8L135.7 363.7L144.4 364.4L145.7 366.0L145.2 368.0L141.1 370.9L139.2 374.7L136.6 376.7ZM121.1 392.1L112.3 392.3L110.0 391.1L109.4 389.2L110.3 387.5L112.3 386.7L122.0 386.8L123.1 387.3L123.8 389.2L122.7 391.1L121.1 392.1ZM186.3 407.5L180.6 407.5L180.8 404.6L181.4 403.1L183.4 402.3L185.3 402.9L186.5 404.6L186.7 407.5L186.3 407.5Z"/>
<path fill="#f06400" fill-rule="evenodd" d="M287.5 330.8L283.6 330.6L281.3 329.4L280.7 326.5L281.9 324.5L283.6 323.5L287.5 323.1L287.5 330.8ZM128.8 369.2L120.1 369.0L118.4 368.0L117.6 366.0L118.1 365.0L120.4 364.1L128.8 364.2L130.8 365.1L131.5 367.0L130.8 368.2L128.8 369.2Z"/>
<path fill="#6ef5ff" fill-rule="evenodd" d="M128.8 307.3L125.9 306.6L123.0 301.6L118.1 298.9L117.2 297.5L116.7 294.6L116.7 285.0L140.0 285.0L140.0 294.6L139.5 297.5L138.6 298.9L133.9 301.4L131.2 306.2L128.8 307.3ZM152.2 291.9L150.3 291.7L148.9 290.8L148.1 288.8L147.8 285.0L155.6 285.0L155.1 289.8L154.2 291.1L152.2 291.9ZM183.4 384.5L181.4 384.3L179.5 382.4L179.0 376.6L179.5 371.8L180.4 370.5L182.4 369.6L192.1 368.9L194.0 367.0L193.9 365.1L193.2 364.1L189.2 363.3L165.8 363.1L160.0 361.9L152.2 361.5L145.4 359.6L136.6 359.4L133.7 358.4L130.8 355.0L125.6 352.5L124.5 348.7L124.5 346.7L124.9 346.2L129.8 345.7L131.7 343.8L132.2 340.9L132.2 331.3L132.7 330.8L159.0 330.7L161.0 330.3L162.8 328.4L162.8 325.5L161.0 323.6L151.2 322.9L149.3 322.0L148.3 320.7L147.9 317.8L147.9 304.3L148.3 302.3L150.3 300.5L152.2 300.3L154.2 301.0L156.7 306.2L161.9 308.7L164.5 313.9L169.7 316.5L171.7 319.8L173.6 321.1L176.1 320.7L178.0 316.8L179.5 315.0L184.3 312.6L185.8 309.1L187.2 307.2L193.7 305.2L194.2 304.3L194.0 302.3L192.0 300.4L189.2 300.0L175.6 299.8L173.6 299.4L172.3 298.5L171.5 296.6L171.7 294.6L173.6 292.7L176.5 291.7L177.9 290.8L178.8 288.8L179.0 285.0L233.5 285.0L233.1 304.3L231.1 306.8L226.8 309.1L224.2 314.3L222.3 315.1L218.4 315.4L217.9 314.9L217.4 310.1L216.5 308.8L214.5 307.9L198.9 307.8L197.5 308.1L196.6 309.1L197.0 312.0L198.8 313.0L217.4 315.4L217.9 315.9L217.7 327.4L216.5 329.7L212.6 331.7L210.5 334.2L209.6 351.6L208.7 352.9L204.0 355.4L202.8 357.3L201.8 374.7L200.9 376.0L198.9 376.9L189.2 377.6L187.2 379.5L185.7 383.4L183.4 384.5ZM277.8 313.2L274.9 313.8L269.0 313.7L266.1 313.1L265.1 312.0L264.6 307.2L265.1 302.3L267.0 300.4L271.0 298.8L272.0 296.6L270.7 293.7L265.7 290.8L264.9 288.8L264.6 285.0L281.8 285.0L282.0 288.8L282.6 290.9L284.6 292.0L287.5 292.2L287.5 299.9L283.6 300.2L281.3 301.4L280.4 303.3L279.9 311.0L277.8 313.2ZM124.0 346.2L101.6 346.2L101.6 330.8L111.3 330.8L114.2 330.3L116.2 328.4L117.8 324.5L120.1 323.3L127.9 323.2L130.8 324.2L132.0 326.5L132.2 330.3L131.8 330.8L126.9 331.3L125.0 333.2L124.5 336.1L124.5 345.8L124.0 346.2ZM287.5 407.6L258.4 407.5L258.0 403.7L256.7 401.7L255.4 400.9L243.7 399.8L242.4 398.8L241.5 396.9L241.2 382.4L240.8 380.5L240.0 379.5L234.0 377.5L232.5 375.7L231.1 372.0L229.1 371.3L227.0 371.8L224.2 374.9L215.5 378.2L212.6 378.3L210.7 377.6L209.1 375.7L208.6 372.8L208.7 365.1L209.6 362.3L211.6 360.7L213.5 360.3L222.3 361.2L224.8 359.3L227.2 355.1L230.1 354.3L232.4 355.4L235.2 360.2L240.2 363.1L242.1 367.0L243.7 368.5L246.6 369.3L252.5 369.2L255.1 368.0L256.4 366.0L257.1 357.3L258.3 355.0L261.2 353.9L270.0 352.7L271.5 351.6L273.5 347.7L274.9 346.7L281.7 345.7L287.5 345.5L287.5 407.6ZM161.9 401.2L159.0 401.6L157.1 401.2L155.2 399.8L154.3 397.9L154.3 394.0L155.9 388.2L157.1 386.5L159.0 385.4L161.0 385.4L162.3 386.3L164.5 393.0L164.8 395.9L164.4 398.8L161.9 401.2ZM232.0 402.0L229.1 402.4L227.2 402.0L225.1 400.8L223.9 398.8L223.8 395.9L224.5 394.0L226.2 392.1L229.1 390.6L231.1 390.6L233.0 391.3L234.8 393.0L235.5 395.0L235.5 397.9L234.8 399.8L232.0 402.0ZM146.4 397.9L143.4 398.6L135.7 398.5L133.7 397.6L133.0 395.9L134.0 394.0L135.7 393.0L144.4 392.8L146.4 393.7L147.2 395.0L147.2 396.9L146.4 397.9Z"/>
<path fill="#5aaaff" fill-rule="evenodd" d="M129.8 299.0L128.8 299.3L126.9 299.0L124.9 296.6L124.5 285.0L132.2 285.0L132.1 295.6L131.3 297.5L129.8 299.0ZM222.3 299.7L213.5 299.7L211.6 298.8L210.7 297.5L210.5 295.6L211.2 293.7L212.6 292.7L215.5 291.7L217.4 289.8L217.9 285.0L225.7 285.0L225.5 296.6L224.2 298.8L222.3 299.7ZM277.8 290.9L275.8 291.6L273.9 290.5L272.8 288.8L272.4 285.0L278.6 285.0L278.4 288.8L277.8 290.9ZM198.9 338.3L187.2 338.6L186.7 338.0L186.3 334.2L184.3 331.7L182.4 331.0L174.6 330.6L172.6 329.7L171.8 328.4L171.8 326.5L172.5 325.5L178.5 323.5L180.0 321.6L181.4 318.0L186.3 314.9L189.2 310.4L190.2 309.8L192.1 310.3L193.8 313.0L196.0 314.7L207.7 317.4L208.7 317.9L209.9 319.7L210.1 325.5L209.2 328.4L207.7 330.0L204.0 332.3L201.3 337.1L198.9 338.3ZM193.1 359.4L188.2 360.1L169.7 360.1L165.8 359.6L164.1 358.3L163.5 356.4L163.9 348.7L165.8 346.7L168.8 345.8L170.1 344.8L171.7 340.9L173.6 339.0L176.5 338.6L186.3 338.5L186.8 339.0L187.2 343.7L188.2 345.1L191.1 346.2L198.9 346.5L200.9 347.4L201.8 348.7L201.8 350.6L200.9 352.3L196.0 355.0L193.1 359.4ZM287.5 407.6L264.6 407.5L264.4 403.7L263.2 401.3L256.4 398.5L251.5 397.6L250.2 396.9L249.7 395.9L250.5 393.7L255.8 391.1L258.3 385.9L262.2 384.4L264.0 382.4L263.4 379.5L262.2 378.3L258.3 376.1L257.2 373.7L257.8 371.8L261.2 368.4L262.0 367.0L263.0 359.3L264.1 356.4L266.1 355.2L271.7 353.5L276.4 348.7L283.6 347.1L287.5 347.0L287.5 407.6ZM232.0 367.3L229.1 367.6L227.2 367.0L226.4 366.0L226.7 364.1L229.1 362.3L231.1 362.7L232.9 365.1L233.0 366.0L232.0 367.3ZM215.5 374.9L213.0 374.7L212.2 373.7L211.8 371.8L212.2 365.1L213.0 364.1L214.5 363.7L216.5 364.3L217.8 367.0L217.6 372.8L215.5 374.9ZM239.8 374.7L237.9 375.2L235.9 374.2L235.4 371.8L235.9 370.4L237.9 370.0L239.8 371.2L240.6 372.8L239.8 374.7ZM277.5 384.4L278.8 383.7L279.5 382.4L279.0 380.5L276.8 379.7L273.8 380.5L273.2 381.5L273.6 383.4L275.2 384.4L277.5 384.4ZM230.1 400.0L227.2 399.2L226.1 396.9L227.1 394.0L229.1 393.0L232.0 393.7L233.2 395.9L232.3 398.8L230.1 400.0ZM160.0 398.0L158.8 397.9L157.8 396.9L157.8 395.0L159.0 393.6L160.0 393.6L161.2 395.0L161.2 396.9L160.0 398.0Z"/>
<path fill="#3c82ff" fill-rule="evenodd" d="M198.9 330.4L191.1 330.6L189.2 329.9L187.7 328.4L186.8 325.5L186.9 320.7L187.4 318.8L189.2 316.6L191.1 316.0L199.0 317.8L200.9 318.6L201.9 319.7L202.3 322.6L201.9 327.4L200.6 329.4L198.9 330.4ZM271.9 377.8L269.0 378.4L267.1 378.0L265.1 376.6L263.5 373.7L264.9 363.1L266.4 358.3L267.1 357.3L271.9 355.3L281.5 349.6L287.5 348.9L287.5 377.1L275.8 377.2L271.9 377.8Z"/>
<path fill="#2832fa" fill-rule="evenodd" d="M276.8 374.8L270.0 375.3L268.0 375.0L267.1 374.2L266.5 370.9L267.0 365.1L267.7 363.1L274.9 356.3L282.6 352.9L287.5 352.5L287.5 371.0L282.6 371.4L278.8 374.2L276.8 374.8Z"/>
<path fill="#1e00fa" fill-rule="evenodd" d="M277.8 369.0L275.1 368.9L273.6 368.0L272.8 366.0L273.4 364.1L274.9 362.6L278.8 360.7L282.1 356.4L287.5 355.5L287.5 367.8L281.7 368.1L277.8 369.0Z"/>
</g>
<path d="M-84.3 259.8L-83.3 265.5L-81.8 270.3L-80.4 275.8L-81.4 282.7L-80.8 288.6L-77.4 294.6L-76.2 297.5L-73.7 302.1L-66.9 306.2L-64.6 311.3L-61.0 317.0L-56.7 323.8L-52.7 328.4L-51.7 328.0L-56.7 319.3L-62.2 309.0L-58.6 309.4L-54.7 315.8L-51.7 320.4L-47.8 325.0L-43.8 331.8L-43.8 335.3L-39.9 339.2L-33.0 342.1L-26.1 345.1L-21.1 344.2L-17.6 347.9L-13.2 349.7L-8.3 351.3L-5.3 354.7L-4.7 358.1L-2.4 359.3L1.6 362.3L6.5 363.9L7.5 360.9L10.1 362.3L10.9 364.3L11.8 361.3L8.5 359.3L4.5 360.9L1.6 359.3L-0.4 356.3L-0.4 349.0L0.2 346.7L-3.4 344.6L-9.3 344.9L-9.9 338.9L-8.3 331.8L-14.0 333.0L-14.2 336.4L-16.2 338.7L-21.1 339.4L-25.1 337.6L-27.6 331.8L-28.0 323.8L-27.4 318.1L-22.1 313.5L-15.2 314.2L-11.7 314.5L-10.3 311.7L-5.3 311.5L-1.4 312.4L0.6 314.7L1.4 318.1L3.0 321.6L4.5 323.4L6.3 322.0L5.3 315.8L3.9 311.3L4.5 307.8L8.5 304.4L12.4 301.9L15.4 300.5L14.4 296.4L15.4 293.0L18.4 288.4L22.3 287.2L26.3 285.9L25.3 282.7L30.2 279.5L34.2 278.1L37.1 277.0L34.2 280.4L39.1 279.0L44.0 277.4L46.0 275.8L43.0 273.5L37.1 273.5L36.1 269.4L37.5 268.9L33.2 266.7L46.0 266.0L51.9 263.2L53.9 259.8ZM47.4 272.1L53.9 267.8L58.8 268.3L60.4 272.4L58.8 274.4L54.9 273.5L47.4 272.1ZM-79.0 270.5L-83.3 269.2L-87.3 266.4L-89.3 264.4L-84.3 264.4L-79.0 270.5ZM-3.4 331.2L2.6 328.2L6.5 328.4L12.4 331.8L18.0 334.8L11.5 335.5L9.5 331.8L3.6 330.7L-3.4 331.2ZM17.6 335.7L22.3 335.5L28.2 337.6L29.4 338.7L24.3 340.3L17.6 338.9L17.6 335.7ZM9.9 338.9L13.8 339.4L12.8 340.1L9.9 339.4ZM31.8 338.7L34.9 338.9L34.8 339.8L31.8 339.8ZM11.8 361.3L10.9 364.3L11.5 367.3L11.5 371.9L8.9 377.6L6.5 381.0L5.5 384.4L6.5 386.7L4.1 391.3L4.5 394.7L7.5 398.2L10.5 403.9L13.8 411.9L16.4 416.5L23.3 421.0L25.7 423.3L25.9 433.6L25.1 442.8L23.3 449.6L23.1 456.5L22.3 463.3L19.3 466.8L19.0 472.5L18.4 477.1L17.4 483.9L15.4 490.8L15.8 497.7L18.4 502.2L22.3 504.5L29.2 502.2L29.2 499.9L28.2 496.5L30.6 490.8L34.6 489.6L31.2 486.2L32.2 483.9L36.1 480.5L37.7 478.4L36.1 474.8L41.5 473.6L42.1 470.2L50.9 467.9L52.5 464.5L50.9 462.2L49.0 459.2L53.9 460.8L57.9 460.6L60.8 456.5L64.8 450.8L68.5 445.1L68.7 439.3L72.7 435.9L77.6 433.6L81.6 433.4L83.5 430.2L86.1 425.6L87.5 417.6L87.9 410.7L90.4 407.3L94.4 402.7L95.8 398.2L95.0 393.6L91.4 392.0L87.5 389.0L82.5 387.6L77.6 386.7L73.7 383.8L68.7 384.0L65.8 381.0L64.8 376.9L62.8 371.4L58.8 368.2L51.9 367.3L47.0 362.7L44.0 359.7L41.1 356.8L37.1 357.7L33.2 356.8L29.6 357.0L26.3 353.3L23.3 355.9L22.3 352.7L19.3 355.2L15.4 357.0L13.4 360.4L11.8 361.3ZM152.8 299.1L160.5 300.7L166.5 297.5L174.4 296.9L183.8 295.7L186.2 296.4L185.2 298.7L186.2 301.0L184.2 302.8L186.2 304.9L190.2 306.0L194.7 307.1L198.1 310.1L202.0 311.7L204.0 310.1L204.0 307.4L207.9 305.8L213.9 308.3L218.8 309.4L222.7 310.1L225.7 308.7L228.3 309.4L232.0 309.4L233.4 313.5L232.2 317.0L231.0 317.4L228.9 312.6L228.9 313.5L230.6 317.7L232.6 321.6L234.8 327.3L238.1 333.0L240.3 339.8L242.5 345.3L246.4 349.5L250.0 352.4L249.8 354.5L252.4 357.2L256.3 356.3L261.2 355.2L265.6 354.0L265.2 357.2L264.2 362.7L261.2 368.4L258.3 373.0L254.3 376.4L249.4 382.2L246.4 385.6L243.5 389.0L242.1 392.4L242.5 397.0L242.1 400.5L244.5 405.0L244.5 413.0L245.1 415.3L241.5 419.9L237.5 422.2L234.6 429.0L234.6 434.8L229.3 440.0L228.7 446.2L225.7 449.6L220.8 455.3L214.8 458.8L207.9 459.2L204.0 460.6L200.8 459.2L200.0 455.3L197.1 446.4L194.5 441.6L193.1 433.2L189.2 424.5L187.8 419.4L188.6 413.0L191.3 408.5L190.7 401.6L188.8 394.7L188.2 392.4L183.2 386.7L182.9 381.0L183.4 375.3L183.8 372.1L181.7 370.7L178.3 370.9L175.9 371.2L174.4 368.4L172.4 366.4L168.4 366.6L166.5 367.3L160.5 370.0L156.6 369.1L149.7 370.9L145.7 368.4L141.8 365.2L138.2 361.6L137.8 359.3L134.9 356.3L131.5 352.7L131.3 350.1L129.9 347.4L131.9 344.4L132.3 337.6L130.9 333.0L132.9 327.3L135.9 321.6L138.8 317.4L142.8 315.8L145.1 313.5L145.5 311.3L146.1 306.7L147.7 304.9L151.1 303.3L152.8 299.1ZM261.8 408.5L263.6 415.3L262.4 419.9L260.3 427.9L257.3 438.2L253.3 439.3L250.8 433.6L250.4 430.2L252.2 425.6L251.4 419.9L255.3 417.1L258.3 414.2L261.8 408.5ZM164.5 259.8L167.4 266.2L164.9 267.3L162.1 268.0L161.1 267.3L160.7 269.6L155.2 270.3L156.0 271.7L160.5 273.3L162.1 275.8L161.5 280.4L160.9 281.8L154.6 281.5L148.7 281.1L146.1 282.7L147.1 285.0L146.9 289.5L145.7 292.3L147.1 294.1L146.9 296.4L149.7 295.9L152.2 297.5L153.4 298.7L155.6 297.1L160.3 296.9L163.5 293.4L164.9 291.8L163.9 290.7L166.3 287.2L170.8 285.0L170.6 282.4L173.4 281.8L177.3 282.4L179.3 280.8L181.9 279.5L184.6 280.6L185.2 282.9L188.6 285.6L191.5 286.8L195.3 289.5L195.5 293.6L196.3 294.1L197.3 291.8L198.4 290.9L197.1 289.1L201.0 289.3L198.3 287.2L196.1 285.2L192.1 283.6L189.0 279.7L188.8 277.2L191.3 276.5L192.1 278.3L194.1 279.2L196.1 281.5L201.0 284.0L203.0 285.6L202.8 288.8L205.0 290.7L206.3 293.4L207.1 296.9L208.7 297.5L209.9 295.2L211.9 294.1L209.9 292.3L209.5 288.8L211.9 287.7L215.8 287.7L216.4 289.1L216.2 290.9L218.2 293.0L218.4 296.4L220.8 297.1L224.7 297.8L228.7 298.5L232.8 296.9L236.0 297.3L235.2 299.8L235.4 302.1L233.8 305.5L232.6 309.0L232.0 309.4L233.4 313.5L234.6 317.0L236.6 321.6L238.5 326.1L241.5 330.7L242.5 335.3L245.4 341.0L248.6 345.6L250.0 352.0L253.3 351.7L259.3 349.0L265.2 346.2L268.2 343.3L273.1 341.0L276.6 338.7L280.0 334.1L282.6 329.6L280.4 327.0L277.0 326.1L275.7 320.9L274.1 322.7L271.1 325.9L267.2 326.1L266.2 322.7L265.2 321.6L263.2 320.4L260.3 315.8L259.3 312.4L263.2 312.4L265.2 315.8L269.1 319.3L275.1 319.3L278.0 322.2L285.9 323.4L295.8 323.2L297.8 326.1L300.7 329.6L302.7 328.9L307.8 331.8L308.2 337.6L309.6 344.4L311.6 350.1L313.6 355.9L315.5 361.6L317.5 362.7L318.9 360.4L321.5 357.5L322.5 352.4L323.0 345.6L327.0 342.8L331.3 337.6L335.3 334.6L336.3 331.8L339.2 331.2L342.2 330.7L345.2 329.6L346.2 333.0L347.1 335.3L350.1 338.7L351.1 344.4L353.1 344.9L357.0 343.3L357.6 347.9L359.0 353.6L359.0 359.3L358.6 362.7L361.0 366.1L362.5 369.6L363.9 374.2L366.9 376.4L368.9 378.0L370.2 377.6L368.7 372.3L368.7 368.4L365.9 366.8L362.9 363.9L362.0 360.4L360.4 357.0L362.0 350.8L363.5 352.0L366.9 353.6L368.5 357.0L371.4 361.1L374.8 358.8L379.3 355.2L380.1 351.3L379.1 345.6L375.2 341.0L373.2 337.6L375.0 334.1L377.7 331.8L381.1 331.8L382.7 334.6L383.7 331.8L388.6 330.2L393.5 328.9L397.5 325.0L400.5 322.2L401.4 319.3L404.4 315.8L405.4 312.4L403.4 310.6L405.0 309.0L402.4 305.5L400.5 301.0L402.4 298.7L406.4 296.4L403.4 294.8L399.5 295.9L397.5 293.0L396.9 291.8L399.5 291.1L403.4 287.7L406.0 288.4L403.8 291.8L409.3 289.8L411.3 290.7L411.9 294.8L414.3 295.5L413.9 301.0L416.3 301.9L419.8 300.5L420.2 296.9L418.2 292.7L416.3 290.0L420.6 287.5L420.8 284.0L423.2 283.1L427.1 283.1L432.1 280.6L436.0 277.0L439.9 271.2L441.9 266.7L442.9 259.8L283.0 259.8L164.5 259.8ZM420.6 304.4L422.2 303.3L424.2 304.4L425.1 306.7L423.8 309.7L421.8 310.1L420.8 306.7L420.6 304.4ZM425.7 305.1L428.1 303.0L430.5 303.3L429.7 304.9L427.1 306.0L425.7 305.1ZM423.2 302.6L426.1 300.1L429.1 299.6L433.0 299.4L434.6 295.9L436.0 295.5L438.0 294.6L440.1 291.8L440.9 288.4L441.5 286.6L443.9 286.3L444.7 289.5L443.9 293.0L442.9 295.2L442.5 298.7L440.9 300.7L439.0 301.7L437.0 301.9L435.0 301.9L433.0 304.4L431.1 303.7L431.5 301.9L427.1 302.1L423.2 302.6ZM440.9 286.1L440.9 282.7L443.9 277.2L446.9 279.7L451.8 282.0L448.8 282.9L447.3 285.0L442.9 285.4L440.9 286.1ZM444.9 275.8L447.8 274.0L446.9 268.9L449.8 268.9L446.9 259.8L444.9 259.8L444.9 275.8ZM401.6 328.4L403.4 323.4L405.4 323.8L404.4 328.4L403.0 330.9L401.6 328.4ZM378.9 337.1L382.7 335.0L383.7 336.2L381.7 339.2L379.1 338.7L378.9 337.1ZM401.4 338.7L406.0 338.7L405.4 344.0L404.4 348.3L409.3 351.3L408.0 352.4L404.4 350.1L402.4 347.9L401.0 343.7L401.4 338.7ZM405.4 365.0L408.4 362.7L410.3 361.3L412.3 359.3L414.3 362.7L413.3 366.6L411.9 368.2L409.3 366.1L405.4 365.0ZM410.3 352.4L412.7 353.6L411.7 358.1L410.3 357.0L410.3 352.4ZM405.4 354.0L407.4 354.7L408.4 358.1L406.4 359.3L405.4 357.0L405.4 354.0ZM402.2 350.1L404.4 350.6L403.8 353.1L402.2 350.1ZM395.9 361.8L400.5 356.3L400.9 357.2L396.5 362.3L395.9 361.8ZM379.7 376.9L381.7 377.1L384.7 375.3L387.6 373.7L389.6 370.5L392.6 369.1L394.5 366.1L396.1 365.5L398.5 368.4L399.5 369.6L397.5 371.2L396.7 373.7L397.5 378.7L396.5 381.0L394.5 384.4L393.5 389.0L390.6 389.5L387.6 388.3L384.7 387.9L382.3 387.4L381.7 384.4L380.1 381.0L379.7 376.9ZM352.7 368.2L357.0 369.1L359.4 372.6L362.9 376.4L365.9 379.9L368.9 382.8L370.8 385.6L373.8 387.9L373.4 394.3L370.8 393.8L366.5 390.2L363.9 386.7L362.0 383.3L360.0 379.9L358.0 376.0L355.0 372.6L352.7 368.2ZM372.2 396.6L373.8 394.7L378.3 395.4L382.7 395.9L386.6 396.8L390.6 398.6L390.4 400.9L385.6 400.0L381.7 399.5L377.7 398.9L374.8 397.9L372.2 396.6ZM391.6 399.8L393.5 400.0L399.5 399.8L403.4 400.2L407.4 399.8L407.4 400.9L401.4 401.4L395.5 401.6L391.6 401.1L391.6 399.8ZM408.4 404.6L415.3 400.2L415.9 400.5L409.9 403.9L408.4 404.6ZM400.5 393.6L402.4 393.6L402.0 387.4L403.4 387.0L405.4 392.0L407.0 391.3L404.4 385.1L407.4 383.1L403.4 383.3L401.8 379.6L403.4 378.3L410.3 379.9L411.3 377.6L410.3 378.7L403.4 379.2L401.4 379.9L400.5 383.3L399.1 387.4L400.5 393.6ZM416.3 377.6L417.2 376.0L418.2 377.6L417.2 379.9L418.8 380.6L417.2 382.8L416.3 381.0L416.3 377.6ZM417.2 388.3L422.8 388.6L422.2 389.7L417.6 389.2L417.2 388.3ZM423.2 383.3L426.1 382.2L429.1 382.8L429.7 387.4L431.1 388.6L436.0 384.4L440.9 386.3L445.9 388.3L449.8 390.2L452.8 393.6L455.7 394.7L456.3 396.6L454.8 398.9L456.7 400.5L459.7 403.0L462.3 404.3L459.7 404.8L455.7 404.1L452.8 399.8L448.8 398.6L447.8 401.6L445.9 402.3L442.9 401.8L439.0 399.3L437.0 400.2L436.4 398.4L438.0 396.6L437.0 393.1L433.0 391.3L429.1 389.7L426.7 390.2L425.1 387.4L427.1 386.3L425.1 385.8L423.2 384.2L423.2 383.3ZM457.7 393.6L460.7 392.7L463.6 390.6L465.2 390.8L463.6 392.4L461.7 395.2L457.7 394.3L457.7 393.6ZM462.3 387.2L465.6 389.9L466.8 391.8L466.2 392.0L462.3 387.2ZM473.5 396.6L475.5 398.2L474.5 399.1L473.5 396.6ZM476.9 398.2L480.0 400.5L479.4 400.9L476.9 398.2ZM488.3 427.2L494.3 432.0L493.3 432.2L488.3 427.9L488.3 427.2ZM514.6 421.0L517.0 421.3L516.4 422.6L514.6 422.0L514.6 421.0ZM494.3 415.3L494.8 416.5L495.8 418.7L494.6 417.6L494.3 415.3ZM388.6 431.3L390.0 430.9L394.9 428.1L399.5 426.8L403.4 425.6L405.8 421.0L408.4 418.7L411.3 414.4L415.3 412.6L419.2 415.1L420.6 411.9L422.2 409.4L426.1 407.5L429.1 408.5L433.0 408.5L434.4 408.9L433.0 411.4L432.1 414.9L435.0 417.1L439.6 420.8L442.5 420.8L444.1 415.3L443.9 410.7L445.3 405.5L446.9 408.0L447.8 413.0L451.4 415.3L452.8 423.3L455.7 425.6L459.1 429.5L462.3 432.7L466.4 438.9L467.6 445.1L466.6 451.9L464.6 456.0L462.7 458.8L460.7 466.5L456.7 467.5L453.4 470.2L449.8 468.4L447.8 469.8L443.9 468.8L440.9 466.8L440.1 463.3L437.2 459.2L436.0 462.2L434.6 461.7L436.4 456.5L432.8 460.6L431.5 459.9L429.5 456.0L424.2 453.1L417.2 454.7L410.3 456.5L408.4 458.5L401.4 458.5L396.5 461.3L391.6 459.5L392.6 457.6L393.0 454.2L391.6 449.6L390.6 445.1L388.4 440.5L389.2 438.2L388.6 431.3ZM450.2 474.1L453.8 475.0L457.3 474.6L457.1 477.5L454.8 480.5L451.8 478.4L450.2 474.1ZM505.5 459.7L509.1 462.9L511.6 465.6L516.0 467.2L517.0 469.1L514.0 470.7L513.4 473.2L510.6 476.2L509.3 475.2L509.5 472.0L507.7 470.7L509.3 468.4L509.1 465.2L505.5 459.7ZM505.5 473.6L508.7 474.8L508.1 477.1L506.1 479.4L505.5 481.2L502.5 482.8L501.6 486.0L498.8 487.6L493.3 486.2L493.9 484.6L496.8 481.6L501.2 479.4L503.3 476.4L505.5 473.6ZM322.1 358.6L324.4 361.6L326.0 364.5L324.8 366.8L322.7 367.3L321.9 362.7L322.1 358.6ZM-143.4 335.5L-141.6 336.0L-142.8 337.8L-143.4 335.5ZM181.3 287.2L183.2 287.0L183.6 290.7L182.3 291.8L181.1 291.1L181.3 287.2ZM181.7 282.9L183.2 283.1L183.0 286.3L181.7 285.6L181.7 282.9ZM189.0 293.9L195.3 293.6L194.3 297.1L189.2 295.0L189.0 293.9ZM210.9 299.8L216.4 300.3L212.9 301.2L210.9 299.8ZM228.3 300.7L232.8 299.4L231.4 301.7L228.3 300.7ZM130.9 316.3L137.8 314.2L137.2 317.0L130.9 316.3ZM131.3 306.0L131.7 306.5L130.5 306.2ZM219.8 286.6L221.8 287.0L226.7 286.8L230.6 285.0L233.6 285.0L236.6 286.6L240.5 287.5L244.5 287.2L246.6 285.9L246.4 283.8L243.5 281.8L240.5 279.7L237.5 278.1L234.6 277.6L230.6 279.2L228.7 277.4L230.6 275.8L226.7 274.4L224.7 275.8L223.1 277.6L221.0 280.4L219.6 283.1L219.8 286.6ZM233.6 277.4L236.8 277.4L240.1 274.0L238.1 273.3L234.0 275.1L233.6 277.4ZM261.2 274.4L266.2 273.5L269.5 274.0L269.1 277.4L265.8 279.2L263.8 279.2L265.6 282.2L268.5 285.4L268.9 289.1L270.7 289.5L270.9 292.0L270.9 295.7L266.2 296.9L263.2 295.7L261.2 295.0L260.8 292.3L262.2 288.8L260.3 285.4L258.3 282.7L258.1 279.2L256.7 279.0L258.3 276.7L261.2 274.4ZM-17.2 274.2L-13.2 274.4L-7.3 274.7L-2.4 274.7L-3.4 271.7L-6.3 269.6L-11.3 270.3L-17.2 274.2ZM-8.9 285.0L-8.3 281.5L-8.9 278.6L-3.4 275.8L-4.1 278.1L-5.7 280.4L-6.3 284.5L-8.9 285.0ZM-2.6 275.8L-1.4 276.5L-0.4 277.6L-0.2 280.4L1.8 282.7L3.2 279.2L4.5 277.4L5.3 276.0L2.6 275.6L-2.6 275.8ZM-0.2 285.6L1.6 286.3L6.5 284.5L8.7 282.9L4.5 283.4L1.6 284.7L-0.2 285.6ZM6.9 282.0L10.5 281.8L13.8 281.3L13.4 279.9L10.5 280.6L7.5 281.1L6.9 282.0Z" fill="none" stroke="#3a3a3a" stroke-width="1.3" mask="url(#mL3)"/>
<path d="M229.6 380.3L231.6 380.6L231.8 382.2L233.2 383.3L230.6 386.7L228.7 387.4L227.1 385.1L227.3 382.2L229.6 380.3ZM222.1 388.8L222.9 391.3L224.5 395.9L226.1 400.5L225.3 400.9L223.7 398.2L222.3 394.7L221.9 391.3L222.1 388.8ZM231.6 403.0L233.0 407.3L232.8 410.7L234.0 413.7L233.4 413.7L232.2 409.6L231.6 406.2L231.6 403.0ZM190.7 349.9L192.5 349.0L193.3 350.4L193.1 351.7L192.1 352.2L191.1 351.3L190.7 349.9Z" fill="none" stroke="#3a3a3a" stroke-width="0.6"/>
<rect x="131.7" y="332.5" width="114.5" height="26.8" fill="none" stroke="#1a1a1a" stroke-width="1.10" stroke-dasharray="3.6 4.1"/><rect x="133.6" y="345.9" width="111.2" height="11.5" fill="none" stroke="#1a1a1a" stroke-width="1.10"/><rect x="135.8" y="359.7" width="43.7" height="16.1" fill="none" stroke="#1a1a1a" stroke-width="1.10" stroke-dasharray="3.6 4.1"/>
</g>
<rect x="101.1" y="284.5" width="186.9" height="123.5" fill="none" stroke="#555" stroke-width="1"/>
<rect x="282.70" y="424.1" width="16.63" height="12.2" fill="#1400c8"/>
<rect x="299.03" y="424.1" width="16.63" height="12.2" fill="#1e00fa"/>
<rect x="315.36" y="424.1" width="16.63" height="12.2" fill="#2832fa"/>
<rect x="331.69" y="424.1" width="16.63" height="12.2" fill="#3c82ff"/>
<rect x="348.02" y="424.1" width="16.63" height="12.2" fill="#5aaaff"/>
<rect x="364.36" y="424.1" width="16.63" height="12.2" fill="#6ef5ff"/>
<rect x="380.69" y="424.1" width="16.63" height="12.2" fill="#fff"/>
<rect x="397.02" y="424.1" width="16.63" height="12.2" fill="#fff"/>
<rect x="413.35" y="424.1" width="16.63" height="12.2" fill="#fff"/>
<rect x="429.68" y="424.1" width="16.63" height="12.2" fill="#fff"/>
<rect x="446.01" y="424.1" width="16.63" height="12.2" fill="#fffa00"/>
<rect x="462.34" y="424.1" width="16.63" height="12.2" fill="#f5aa00"/>
<rect x="478.68" y="424.1" width="16.63" height="12.2" fill="#f06400"/>
<rect x="495.01" y="424.1" width="16.63" height="12.2" fill="#eb2800"/>
<rect x="511.34" y="424.1" width="16.63" height="12.2" fill="#b91e00"/>
<rect x="527.67" y="424.1" width="16.63" height="12.2" fill="#730a00"/>
<line x1="282.7" y1="424.60" x2="544.0" y2="424.60" stroke="#b0b0b0" stroke-width="1"/>
<line x1="282.7" y1="435.80" x2="544.0" y2="435.80" stroke="#444" stroke-width="1"/>
<line x1="283.10" y1="424.1" x2="283.10" y2="436.3" stroke="#777" stroke-width="0.8"/>
<line x1="543.60" y1="424.1" x2="543.60" y2="436.3" stroke="#777" stroke-width="0.8"/>
<text x="282.70" y="445.2" text-anchor="middle" font-family="Liberation Sans, Arial, sans-serif" font-size="8.3" fill="#2a2a2a">-0.8</text>
<line x1="315.36" y1="433.8" x2="315.36" y2="436.3" stroke="#444" stroke-width="0.8"/>
<text x="315.36" y="445.2" text-anchor="middle" font-family="Liberation Sans, Arial, sans-serif" font-size="8.3" fill="#2a2a2a">-0.6</text>
<line x1="348.02" y1="433.8" x2="348.02" y2="436.3" stroke="#444" stroke-width="0.8"/>
<text x="348.02" y="445.2" text-anchor="middle" font-family="Liberation Sans, Arial, sans-serif" font-size="8.3" fill="#2a2a2a">-0.4</text>
<line x1="380.69" y1="433.8" x2="380.69" y2="436.3" stroke="#444" stroke-width="0.8"/>
<text x="380.69" y="445.2" text-anchor="middle" font-family="Liberation Sans, Arial, sans-serif" font-size="8.3" fill="#2a2a2a">-0.2</text>
<line x1="413.35" y1="433.8" x2="413.35" y2="436.3" stroke="#444" stroke-width="0.8"/>
<text x="413.35" y="445.2" text-anchor="middle" font-family="Liberation Sans, Arial, sans-serif" font-size="8.3" fill="#2a2a2a">0</text>
<line x1="446.01" y1="433.8" x2="446.01" y2="436.3" stroke="#444" stroke-width="0.8"/>
<text x="446.01" y="445.2" text-anchor="middle" font-family="Liberation Sans, Arial, sans-serif" font-size="8.3" fill="#2a2a2a">0.2</text>
<line x1="478.68" y1="433.8" x2="478.68" y2="436.3" stroke="#444" stroke-width="0.8"/>
<text x="478.68" y="445.2" text-anchor="middle" font-family="Liberation Sans, Arial, sans-serif" font-size="8.3" fill="#2a2a2a">0.4</text>
<line x1="511.34" y1="433.8" x2="511.34" y2="436.3" stroke="#444" stroke-width="0.8"/>
<text x="511.34" y="445.2" text-anchor="middle" font-family="Liberation Sans, Arial, sans-serif" font-size="8.3" fill="#2a2a2a">0.6</text>
<text x="544.00" y="445.2" text-anchor="middle" font-family="Liberation Sans, Arial, sans-serif" font-size="8.3" fill="#2a2a2a">0.8</text>
<text x="3.8" y="32.8" font-family="Liberation Sans, Arial, sans-serif" font-weight="bold" font-size="13.2" fill="#111" stroke="#111" stroke-width="0.35" textLength="51.2" lengthAdjust="spacingAndGlyphs">Mode 1</text>
<text x="4.2" y="49.4" font-family="Liberation Sans, Arial, sans-serif" font-size="10.4" fill="#1a1a1a" textLength="53.1" lengthAdjust="spacingAndGlyphs">SCF 33.6%</text>
<text x="4.2" y="65.8" font-family="Liberation Serif, Times New Roman, serif" font-size="12.6" fill="#1a1a1a">R<tspan x="12.0" dy="-4.6" font-size="7.4">2</tspan> <tspan x="19.6" dy="4.6">0.5</tspan></text>
<text x="4.2" y="79.8" font-family="Liberation Serif, Times New Roman, serif" font-size="12.6" fill="#1a1a1a" textLength="67.5" lengthAdjust="spacingAndGlyphs">Var (P) 7.5%</text>
<text x="4.2" y="94.6" font-family="Liberation Serif, Times New Roman, serif" font-size="12.6" fill="#1a1a1a" textLength="79.2" lengthAdjust="spacingAndGlyphs">Var (SST) 21%</text>
<text x="3.8" y="173.4" font-family="Liberation Sans, Arial, sans-serif" font-weight="bold" font-size="13.2" fill="#111" stroke="#111" stroke-width="0.35" textLength="51.1" lengthAdjust="spacingAndGlyphs">Mode 2</text>
<text x="4.2" y="190.0" font-family="Liberation Sans, Arial, sans-serif" font-size="10.4" fill="#1a1a1a" textLength="52.2" lengthAdjust="spacingAndGlyphs">SCF 16.1%</text>
<text x="4.2" y="206.4" font-family="Liberation Serif, Times New Roman, serif" font-size="12.6" fill="#1a1a1a">R<tspan x="12.0" dy="-4.6" font-size="7.4">2</tspan> <tspan x="19.6" dy="4.6">0.6</tspan></text>
<text x="4.2" y="220.4" font-family="Liberation Serif, Times New Roman, serif" font-size="12.6" fill="#1a1a1a" textLength="73.5" lengthAdjust="spacingAndGlyphs">Var (P) 17.2%</text>
<text x="4.2" y="235.2" font-family="Liberation Serif, Times New Roman, serif" font-size="12.6" fill="#1a1a1a" textLength="88.6" lengthAdjust="spacingAndGlyphs">Var (SST) 12.5%</text>
<text x="3.8" y="311.4" font-family="Liberation Sans, Arial, sans-serif" font-weight="bold" font-size="13.2" fill="#111" stroke="#111" stroke-width="0.35" textLength="51.1" lengthAdjust="spacingAndGlyphs">Mode 3</text>
<text x="4.2" y="328.0" font-family="Liberation Sans, Arial, sans-serif" font-size="10.4" fill="#1a1a1a" textLength="36.1" lengthAdjust="spacingAndGlyphs">SCF 8%</text>
<text x="4.2" y="344.4" font-family="Liberation Serif, Times New Roman, serif" font-size="12.6" fill="#1a1a1a">R<tspan x="12.0" dy="-4.6" font-size="7.4">2</tspan> <tspan x="19.6" dy="4.6">0.62</tspan></text>
<text x="4.2" y="358.4" font-family="Liberation Serif, Times New Roman, serif" font-size="12.6" fill="#1a1a1a" textLength="73.5" lengthAdjust="spacingAndGlyphs">Var (P) 23.1%</text>
<text x="4.2" y="373.2" font-family="Liberation Serif, Times New Roman, serif" font-size="12.6" fill="#1a1a1a" textLength="88.6" lengthAdjust="spacingAndGlyphs">Var (SST) 15.3%</text>
</svg>
</body></html>
